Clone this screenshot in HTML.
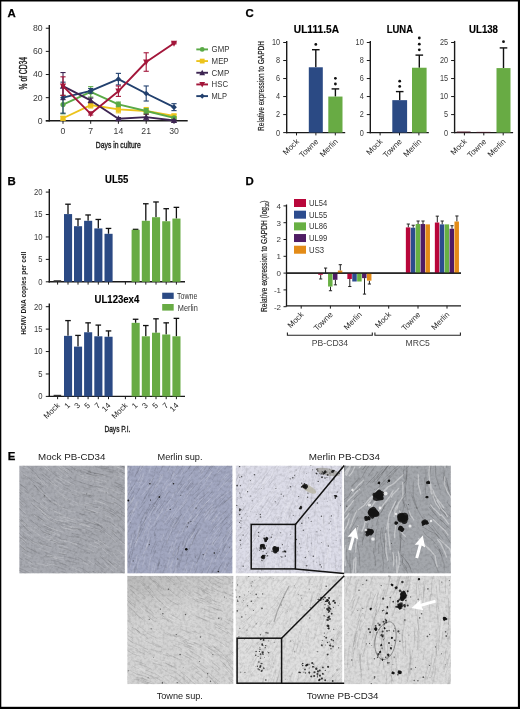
<!DOCTYPE html>
<html><head><meta charset="utf-8"><style>
html,body{margin:0;padding:0;background:#fff;width:520px;height:709px;overflow:hidden}
svg{display:block;font-family:"Liberation Sans", sans-serif;will-change:transform}
</style></head><body>
<svg width="520" height="709" viewBox="0 0 520 709">
<rect x="0.00" y="0.00" width="520.00" height="709.00" fill="#000" />
<rect x="1.30" y="1.50" width="516.60" height="705.30" fill="#fff" />
<text x="7.50" y="17.20" font-size="11.4" text-anchor="start" fill="#000" font-weight="bold" stroke="#000" stroke-width="0.25">A</text>
<text x="7.60" y="185.20" font-size="11.4" text-anchor="start" fill="#000" font-weight="bold" stroke="#000" stroke-width="0.25">B</text>
<text x="245.60" y="17.40" font-size="11.4" text-anchor="start" fill="#000" font-weight="bold" stroke="#000" stroke-width="0.25">C</text>
<text x="245.60" y="185.20" font-size="11.4" text-anchor="start" fill="#000" font-weight="bold" stroke="#000" stroke-width="0.25">D</text>
<text x="7.80" y="460.40" font-size="11.4" text-anchor="start" fill="#000" font-weight="bold" stroke="#000" stroke-width="0.25">E</text>
<line x1="49.30" y1="25.00" x2="49.30" y2="121.40" stroke="#1a1a1a" stroke-width="1.4"/>
<line x1="45.80" y1="120.80" x2="187.70" y2="120.80" stroke="#1a1a1a" stroke-width="1.4"/>
<line x1="45.80" y1="120.80" x2="49.30" y2="120.80" stroke="#1a1a1a" stroke-width="1"/>
<text x="42.60" y="123.70" font-size="8.7" text-anchor="end" fill="#3a3a3a" >0</text>
<line x1="45.80" y1="97.66" x2="49.30" y2="97.66" stroke="#1a1a1a" stroke-width="1"/>
<text x="42.60" y="100.56" font-size="8.7" text-anchor="end" fill="#3a3a3a" >20</text>
<line x1="45.80" y1="74.52" x2="49.30" y2="74.52" stroke="#1a1a1a" stroke-width="1"/>
<text x="42.60" y="77.42" font-size="8.7" text-anchor="end" fill="#3a3a3a" >40</text>
<line x1="45.80" y1="51.38" x2="49.30" y2="51.38" stroke="#1a1a1a" stroke-width="1"/>
<text x="42.60" y="54.28" font-size="8.7" text-anchor="end" fill="#3a3a3a" >60</text>
<line x1="45.80" y1="28.24" x2="49.30" y2="28.24" stroke="#1a1a1a" stroke-width="1"/>
<text x="42.60" y="31.14" font-size="8.7" text-anchor="end" fill="#3a3a3a" >80</text>
<line x1="63.00" y1="120.80" x2="63.00" y2="123.80" stroke="#1a1a1a" stroke-width="1"/>
<text x="63.00" y="134.30" font-size="8.7" text-anchor="middle" fill="#3a3a3a" >0</text>
<line x1="90.70" y1="120.80" x2="90.70" y2="123.80" stroke="#1a1a1a" stroke-width="1"/>
<text x="90.70" y="134.30" font-size="8.7" text-anchor="middle" fill="#3a3a3a" >7</text>
<line x1="118.40" y1="120.80" x2="118.40" y2="123.80" stroke="#1a1a1a" stroke-width="1"/>
<text x="118.40" y="134.30" font-size="8.7" text-anchor="middle" fill="#3a3a3a" >14</text>
<line x1="146.20" y1="120.80" x2="146.20" y2="123.80" stroke="#1a1a1a" stroke-width="1"/>
<text x="146.20" y="134.30" font-size="8.7" text-anchor="middle" fill="#3a3a3a" >21</text>
<line x1="174.00" y1="120.80" x2="174.00" y2="123.80" stroke="#1a1a1a" stroke-width="1"/>
<text x="174.00" y="134.30" font-size="8.7" text-anchor="middle" fill="#3a3a3a" >30</text>
<text x="27.40" y="73.20" font-size="10" text-anchor="middle" fill="#1a1a1a" textLength="32.4" lengthAdjust="spacingAndGlyphs" transform="rotate(-90 27.40 73.20)" stroke="#1a1a1a" stroke-width="0.35">% of CD34</text>
<text x="118.30" y="147.70" font-size="8.9" text-anchor="middle" fill="#1a1a1a" textLength="45.0" lengthAdjust="spacingAndGlyphs" stroke="#1a1a1a" stroke-width="0.35">Days in culture</text>
<line x1="63.00" y1="116.52" x2="63.00" y2="119.99" stroke="#ecc31c" stroke-width="1.1"/>
<line x1="60.40" y1="116.52" x2="65.60" y2="116.52" stroke="#ecc31c" stroke-width="1.1"/>
<line x1="60.40" y1="119.99" x2="65.60" y2="119.99" stroke="#ecc31c" stroke-width="1.1"/>
<line x1="90.70" y1="102.17" x2="90.70" y2="107.96" stroke="#ecc31c" stroke-width="1.1"/>
<line x1="88.10" y1="102.17" x2="93.30" y2="102.17" stroke="#ecc31c" stroke-width="1.1"/>
<line x1="88.10" y1="107.96" x2="93.30" y2="107.96" stroke="#ecc31c" stroke-width="1.1"/>
<line x1="118.40" y1="105.87" x2="118.40" y2="112.82" stroke="#ecc31c" stroke-width="1.1"/>
<line x1="115.80" y1="105.87" x2="121.00" y2="105.87" stroke="#ecc31c" stroke-width="1.1"/>
<line x1="115.80" y1="112.82" x2="121.00" y2="112.82" stroke="#ecc31c" stroke-width="1.1"/>
<line x1="146.20" y1="107.49" x2="146.20" y2="114.44" stroke="#ecc31c" stroke-width="1.1"/>
<line x1="143.60" y1="107.49" x2="148.80" y2="107.49" stroke="#ecc31c" stroke-width="1.1"/>
<line x1="143.60" y1="114.44" x2="148.80" y2="114.44" stroke="#ecc31c" stroke-width="1.1"/>
<line x1="174.00" y1="114.21" x2="174.00" y2="117.68" stroke="#ecc31c" stroke-width="1.1"/>
<line x1="171.40" y1="114.21" x2="176.60" y2="114.21" stroke="#ecc31c" stroke-width="1.1"/>
<line x1="171.40" y1="117.68" x2="176.60" y2="117.68" stroke="#ecc31c" stroke-width="1.1"/>
<polyline points="63.00,118.25 90.70,105.06 118.40,109.35 146.20,110.97 174.00,115.94" fill="none" stroke="#ecc31c" stroke-width="1.9" stroke-linejoin="round"/>
<rect x="60.40" y="115.65" width="5.20" height="5.20" fill="#ecc31c" />
<rect x="88.10" y="102.46" width="5.20" height="5.20" fill="#ecc31c" />
<rect x="115.80" y="106.75" width="5.20" height="5.20" fill="#ecc31c" />
<rect x="143.60" y="108.37" width="5.20" height="5.20" fill="#ecc31c" />
<rect x="171.40" y="113.34" width="5.20" height="5.20" fill="#ecc31c" />
<line x1="63.00" y1="95.35" x2="63.00" y2="113.86" stroke="#5aaa46" stroke-width="1.1"/>
<line x1="60.40" y1="95.35" x2="65.60" y2="95.35" stroke="#5aaa46" stroke-width="1.1"/>
<line x1="60.40" y1="113.86" x2="65.60" y2="113.86" stroke="#5aaa46" stroke-width="1.1"/>
<line x1="90.70" y1="86.67" x2="90.70" y2="97.08" stroke="#5aaa46" stroke-width="1.1"/>
<line x1="88.10" y1="86.67" x2="93.30" y2="86.67" stroke="#5aaa46" stroke-width="1.1"/>
<line x1="88.10" y1="97.08" x2="93.30" y2="97.08" stroke="#5aaa46" stroke-width="1.1"/>
<line x1="118.40" y1="102.06" x2="118.40" y2="106.68" stroke="#5aaa46" stroke-width="1.1"/>
<line x1="115.80" y1="102.06" x2="121.00" y2="102.06" stroke="#5aaa46" stroke-width="1.1"/>
<line x1="115.80" y1="106.68" x2="121.00" y2="106.68" stroke="#5aaa46" stroke-width="1.1"/>
<line x1="146.20" y1="108.65" x2="146.20" y2="113.28" stroke="#5aaa46" stroke-width="1.1"/>
<line x1="143.60" y1="108.65" x2="148.80" y2="108.65" stroke="#5aaa46" stroke-width="1.1"/>
<line x1="143.60" y1="113.28" x2="148.80" y2="113.28" stroke="#5aaa46" stroke-width="1.1"/>
<line x1="174.00" y1="116.75" x2="174.00" y2="119.06" stroke="#5aaa46" stroke-width="1.1"/>
<line x1="171.40" y1="116.75" x2="176.60" y2="116.75" stroke="#5aaa46" stroke-width="1.1"/>
<line x1="171.40" y1="119.06" x2="176.60" y2="119.06" stroke="#5aaa46" stroke-width="1.1"/>
<polyline points="63.00,104.60 90.70,91.88 118.40,104.37 146.20,110.97 174.00,117.91" fill="none" stroke="#5aaa46" stroke-width="1.9" stroke-linejoin="round"/>
<circle cx="63.00" cy="104.60" r="2.6" fill="#5aaa46"/>
<circle cx="90.70" cy="91.88" r="2.6" fill="#5aaa46"/>
<circle cx="118.40" cy="104.37" r="2.6" fill="#5aaa46"/>
<circle cx="146.20" cy="110.97" r="2.6" fill="#5aaa46"/>
<circle cx="174.00" cy="117.91" r="2.6" fill="#5aaa46"/>
<line x1="63.00" y1="82.16" x2="63.00" y2="113.16" stroke="#22406e" stroke-width="1.1"/>
<line x1="60.40" y1="82.16" x2="65.60" y2="82.16" stroke="#22406e" stroke-width="1.1"/>
<line x1="60.40" y1="113.16" x2="65.60" y2="113.16" stroke="#22406e" stroke-width="1.1"/>
<line x1="90.70" y1="88.52" x2="90.70" y2="93.15" stroke="#22406e" stroke-width="1.1"/>
<line x1="88.10" y1="88.52" x2="93.30" y2="88.52" stroke="#22406e" stroke-width="1.1"/>
<line x1="88.10" y1="93.15" x2="93.30" y2="93.15" stroke="#22406e" stroke-width="1.1"/>
<line x1="118.40" y1="73.36" x2="118.40" y2="84.93" stroke="#22406e" stroke-width="1.1"/>
<line x1="115.80" y1="73.36" x2="121.00" y2="73.36" stroke="#22406e" stroke-width="1.1"/>
<line x1="115.80" y1="84.93" x2="121.00" y2="84.93" stroke="#22406e" stroke-width="1.1"/>
<line x1="146.20" y1="85.97" x2="146.20" y2="101.02" stroke="#22406e" stroke-width="1.1"/>
<line x1="143.60" y1="85.97" x2="148.80" y2="85.97" stroke="#22406e" stroke-width="1.1"/>
<line x1="143.60" y1="101.02" x2="148.80" y2="101.02" stroke="#22406e" stroke-width="1.1"/>
<line x1="174.00" y1="103.68" x2="174.00" y2="110.62" stroke="#22406e" stroke-width="1.1"/>
<line x1="171.40" y1="103.68" x2="176.60" y2="103.68" stroke="#22406e" stroke-width="1.1"/>
<line x1="171.40" y1="110.62" x2="176.60" y2="110.62" stroke="#22406e" stroke-width="1.1"/>
<polyline points="63.00,97.66 90.70,90.83 118.40,79.15 146.20,93.49 174.00,107.15" fill="none" stroke="#22406e" stroke-width="1.9" stroke-linejoin="round"/>
<path d="M60.14 97.66 L63.00 94.80 L65.86 97.66 L63.00 100.52Z" fill="#22406e"/>
<path d="M87.84 90.83 L90.70 87.97 L93.56 90.83 L90.70 93.69Z" fill="#22406e"/>
<path d="M115.54 79.15 L118.40 76.29 L121.26 79.15 L118.40 82.01Z" fill="#22406e"/>
<path d="M143.34 93.49 L146.20 90.63 L149.06 93.49 L146.20 96.35Z" fill="#22406e"/>
<path d="M171.14 107.15 L174.00 104.29 L176.86 107.15 L174.00 110.01Z" fill="#22406e"/>
<line x1="63.00" y1="72.55" x2="63.00" y2="99.63" stroke="#3d2552" stroke-width="1.1"/>
<line x1="60.40" y1="72.55" x2="65.60" y2="72.55" stroke="#3d2552" stroke-width="1.1"/>
<line x1="60.40" y1="99.63" x2="65.60" y2="99.63" stroke="#3d2552" stroke-width="1.1"/>
<line x1="90.70" y1="98.12" x2="90.70" y2="102.75" stroke="#3d2552" stroke-width="1.1"/>
<line x1="88.10" y1="98.12" x2="93.30" y2="98.12" stroke="#3d2552" stroke-width="1.1"/>
<line x1="88.10" y1="102.75" x2="93.30" y2="102.75" stroke="#3d2552" stroke-width="1.1"/>
<line x1="118.40" y1="117.56" x2="118.40" y2="119.87" stroke="#3d2552" stroke-width="1.1"/>
<line x1="115.80" y1="117.56" x2="121.00" y2="117.56" stroke="#3d2552" stroke-width="1.1"/>
<line x1="115.80" y1="119.87" x2="121.00" y2="119.87" stroke="#3d2552" stroke-width="1.1"/>
<line x1="146.20" y1="114.21" x2="146.20" y2="119.99" stroke="#3d2552" stroke-width="1.1"/>
<line x1="143.60" y1="114.21" x2="148.80" y2="114.21" stroke="#3d2552" stroke-width="1.1"/>
<line x1="143.60" y1="119.99" x2="148.80" y2="119.99" stroke="#3d2552" stroke-width="1.1"/>
<line x1="174.00" y1="119.87" x2="174.00" y2="120.80" stroke="#3d2552" stroke-width="1.1"/>
<line x1="171.40" y1="119.87" x2="176.60" y2="119.87" stroke="#3d2552" stroke-width="1.1"/>
<line x1="171.40" y1="120.80" x2="176.60" y2="120.80" stroke="#3d2552" stroke-width="1.1"/>
<polyline points="63.00,86.09 90.70,100.44 118.40,118.72 146.20,117.10 174.00,120.45" fill="none" stroke="#3d2552" stroke-width="1.9" stroke-linejoin="round"/>
<path d="M59.88 88.69 L66.12 88.69 L63.00 82.71Z" fill="#3d2552"/>
<path d="M87.58 103.04 L93.82 103.04 L90.70 97.06Z" fill="#3d2552"/>
<path d="M115.28 121.32 L121.52 121.32 L118.40 115.34Z" fill="#3d2552"/>
<path d="M143.08 119.70 L149.32 119.70 L146.20 113.72Z" fill="#3d2552"/>
<path d="M170.88 123.05 L177.12 123.05 L174.00 117.07Z" fill="#3d2552"/>
<line x1="63.00" y1="76.83" x2="63.00" y2="95.35" stroke="#a3163a" stroke-width="1.1"/>
<line x1="60.40" y1="76.83" x2="65.60" y2="76.83" stroke="#a3163a" stroke-width="1.1"/>
<line x1="60.40" y1="95.35" x2="65.60" y2="95.35" stroke="#a3163a" stroke-width="1.1"/>
<line x1="90.70" y1="112.70" x2="90.70" y2="115.02" stroke="#a3163a" stroke-width="1.1"/>
<line x1="88.10" y1="112.70" x2="93.30" y2="112.70" stroke="#a3163a" stroke-width="1.1"/>
<line x1="88.10" y1="115.02" x2="93.30" y2="115.02" stroke="#a3163a" stroke-width="1.1"/>
<line x1="118.40" y1="85.97" x2="118.40" y2="96.39" stroke="#a3163a" stroke-width="1.1"/>
<line x1="115.80" y1="85.97" x2="121.00" y2="85.97" stroke="#a3163a" stroke-width="1.1"/>
<line x1="115.80" y1="96.39" x2="121.00" y2="96.39" stroke="#a3163a" stroke-width="1.1"/>
<line x1="146.20" y1="52.77" x2="146.20" y2="71.28" stroke="#a3163a" stroke-width="1.1"/>
<line x1="143.60" y1="52.77" x2="148.80" y2="52.77" stroke="#a3163a" stroke-width="1.1"/>
<line x1="143.60" y1="71.28" x2="148.80" y2="71.28" stroke="#a3163a" stroke-width="1.1"/>
<line x1="174.00" y1="42.70" x2="174.00" y2="43.86" stroke="#a3163a" stroke-width="1.1"/>
<line x1="171.40" y1="42.70" x2="176.60" y2="42.70" stroke="#a3163a" stroke-width="1.1"/>
<line x1="171.40" y1="43.86" x2="176.60" y2="43.86" stroke="#a3163a" stroke-width="1.1"/>
<polyline points="63.00,86.09 90.70,113.86 118.40,91.18 146.20,62.02 174.00,43.28" fill="none" stroke="#a3163a" stroke-width="1.9" stroke-linejoin="round"/>
<path d="M59.88 83.49 L66.12 83.49 L63.00 89.47Z" fill="#a3163a"/>
<path d="M87.58 111.26 L93.82 111.26 L90.70 117.24Z" fill="#a3163a"/>
<path d="M115.28 88.58 L121.52 88.58 L118.40 94.56Z" fill="#a3163a"/>
<path d="M143.08 59.42 L149.32 59.42 L146.20 65.40Z" fill="#a3163a"/>
<path d="M170.88 40.68 L177.12 40.68 L174.00 46.66Z" fill="#a3163a"/>
<line x1="196.30" y1="49.40" x2="208.00" y2="49.40" stroke="#5aaa46" stroke-width="1.9"/>
<circle cx="202.20" cy="49.40" r="2.4" fill="#5aaa46"/>
<text x="211.60" y="52.40" font-size="8.2" text-anchor="start" fill="#333" textLength="17.8" lengthAdjust="spacingAndGlyphs" >GMP</text>
<line x1="196.30" y1="61.08" x2="208.00" y2="61.08" stroke="#ecc31c" stroke-width="1.9"/>
<rect x="199.80" y="58.68" width="4.80" height="4.80" fill="#ecc31c" />
<text x="211.60" y="64.08" font-size="8.2" text-anchor="start" fill="#333" textLength="17.0" lengthAdjust="spacingAndGlyphs" >MEP</text>
<line x1="196.30" y1="72.76" x2="208.00" y2="72.76" stroke="#3d2552" stroke-width="1.9"/>
<path d="M199.32 75.16 L205.08 75.16 L202.20 69.64Z" fill="#3d2552"/>
<text x="211.60" y="75.76" font-size="8.2" text-anchor="start" fill="#333" textLength="17.6" lengthAdjust="spacingAndGlyphs" >CMP</text>
<line x1="196.30" y1="84.44" x2="208.00" y2="84.44" stroke="#a3163a" stroke-width="1.9"/>
<path d="M199.32 82.04 L205.08 82.04 L202.20 87.56Z" fill="#a3163a"/>
<text x="211.60" y="87.44" font-size="8.2" text-anchor="start" fill="#333" textLength="16.5" lengthAdjust="spacingAndGlyphs" >HSC</text>
<line x1="196.30" y1="96.12" x2="208.00" y2="96.12" stroke="#22406e" stroke-width="1.9"/>
<path d="M199.56 96.12 L202.20 93.48 L204.84 96.12 L202.20 98.76Z" fill="#22406e"/>
<text x="211.60" y="99.12" font-size="8.2" text-anchor="start" fill="#333" textLength="15.4" lengthAdjust="spacingAndGlyphs" >MLP</text>
<line x1="286.70" y1="40.90" x2="286.70" y2="133.20" stroke="#1a1a1a" stroke-width="1.4"/>
<line x1="286.10" y1="132.60" x2="345.20" y2="132.60" stroke="#1a1a1a" stroke-width="1.4"/>
<line x1="283.20" y1="132.60" x2="286.70" y2="132.60" stroke="#1a1a1a" stroke-width="1"/>
<text font-size="8.7" text-anchor="end" fill="#3a3a3a" transform="translate(280.10 135.50) scale(0.84 1)" >0</text>
<line x1="283.20" y1="114.58" x2="286.70" y2="114.58" stroke="#1a1a1a" stroke-width="1"/>
<text font-size="8.7" text-anchor="end" fill="#3a3a3a" transform="translate(280.10 117.48) scale(0.84 1)" >2</text>
<line x1="283.20" y1="96.56" x2="286.70" y2="96.56" stroke="#1a1a1a" stroke-width="1"/>
<text font-size="8.7" text-anchor="end" fill="#3a3a3a" transform="translate(280.10 99.46) scale(0.84 1)" >4</text>
<line x1="283.20" y1="78.54" x2="286.70" y2="78.54" stroke="#1a1a1a" stroke-width="1"/>
<text font-size="8.7" text-anchor="end" fill="#3a3a3a" transform="translate(280.10 81.44) scale(0.84 1)" >6</text>
<line x1="283.20" y1="60.52" x2="286.70" y2="60.52" stroke="#1a1a1a" stroke-width="1"/>
<text font-size="8.7" text-anchor="end" fill="#3a3a3a" transform="translate(280.10 63.42) scale(0.84 1)" >8</text>
<line x1="283.20" y1="42.50" x2="286.70" y2="42.50" stroke="#1a1a1a" stroke-width="1"/>
<text font-size="8.7" text-anchor="end" fill="#3a3a3a" transform="translate(280.10 45.40) scale(0.84 1)" >10</text>
<text x="316.40" y="32.70" font-size="10" text-anchor="middle" fill="#000" font-weight="bold" textLength="45.2" lengthAdjust="spacingAndGlyphs" stroke="#000" stroke-width="0.15">UL111.5A</text>
<line x1="296.50" y1="132.60" x2="296.50" y2="135.40" stroke="#1a1a1a" stroke-width="1"/>
<text x="299.50" y="142.00" font-size="8.0" text-anchor="end" fill="#2a2a2a" transform="rotate(-45 299.50 142.00)" >Mock</text>
<line x1="315.90" y1="132.60" x2="315.90" y2="135.40" stroke="#1a1a1a" stroke-width="1"/>
<text x="318.90" y="142.00" font-size="8.0" text-anchor="end" fill="#2a2a2a" transform="rotate(-45 318.90 142.00)" >Towne</text>
<line x1="335.30" y1="132.60" x2="335.30" y2="135.40" stroke="#1a1a1a" stroke-width="1"/>
<text x="338.30" y="142.00" font-size="8.0" text-anchor="end" fill="#2a2a2a" transform="rotate(-45 338.30 142.00)" >Merlin</text>
<line x1="315.80" y1="49.71" x2="315.80" y2="67.28" stroke="#111" stroke-width="1.4"/>
<line x1="312.00" y1="49.71" x2="319.60" y2="49.71" stroke="#111" stroke-width="1.4"/>
<rect x="308.80" y="67.28" width="14.00" height="65.32" fill="#2b4a84" />
<circle cx="315.80" cy="44.40" r="1.4" fill="#111"/>
<line x1="335.40" y1="88.90" x2="335.40" y2="96.56" stroke="#111" stroke-width="1.4"/>
<line x1="331.60" y1="88.90" x2="339.20" y2="88.90" stroke="#111" stroke-width="1.4"/>
<rect x="328.30" y="96.56" width="14.20" height="36.04" fill="#68ab44" />
<circle cx="335.40" cy="78.30" r="1.4" fill="#111"/>
<circle cx="335.40" cy="84.00" r="1.4" fill="#111"/>
<line x1="370.30" y1="40.90" x2="370.30" y2="133.20" stroke="#1a1a1a" stroke-width="1.4"/>
<line x1="369.70" y1="132.60" x2="428.80" y2="132.60" stroke="#1a1a1a" stroke-width="1.4"/>
<line x1="366.80" y1="132.60" x2="370.30" y2="132.60" stroke="#1a1a1a" stroke-width="1"/>
<text font-size="8.7" text-anchor="end" fill="#3a3a3a" transform="translate(363.70 135.50) scale(0.84 1)" >0</text>
<line x1="366.80" y1="114.58" x2="370.30" y2="114.58" stroke="#1a1a1a" stroke-width="1"/>
<text font-size="8.7" text-anchor="end" fill="#3a3a3a" transform="translate(363.70 117.48) scale(0.84 1)" >2</text>
<line x1="366.80" y1="96.56" x2="370.30" y2="96.56" stroke="#1a1a1a" stroke-width="1"/>
<text font-size="8.7" text-anchor="end" fill="#3a3a3a" transform="translate(363.70 99.46) scale(0.84 1)" >4</text>
<line x1="366.80" y1="78.54" x2="370.30" y2="78.54" stroke="#1a1a1a" stroke-width="1"/>
<text font-size="8.7" text-anchor="end" fill="#3a3a3a" transform="translate(363.70 81.44) scale(0.84 1)" >6</text>
<line x1="366.80" y1="60.52" x2="370.30" y2="60.52" stroke="#1a1a1a" stroke-width="1"/>
<text font-size="8.7" text-anchor="end" fill="#3a3a3a" transform="translate(363.70 63.42) scale(0.84 1)" >8</text>
<line x1="366.80" y1="42.50" x2="370.30" y2="42.50" stroke="#1a1a1a" stroke-width="1"/>
<text font-size="8.7" text-anchor="end" fill="#3a3a3a" transform="translate(363.70 45.40) scale(0.84 1)" >10</text>
<text x="399.90" y="32.70" font-size="10" text-anchor="middle" fill="#000" font-weight="bold" textLength="26.3" lengthAdjust="spacingAndGlyphs" stroke="#000" stroke-width="0.15">LUNA</text>
<line x1="380.10" y1="132.60" x2="380.10" y2="135.40" stroke="#1a1a1a" stroke-width="1"/>
<text x="383.10" y="142.00" font-size="8.0" text-anchor="end" fill="#2a2a2a" transform="rotate(-45 383.10 142.00)" >Mock</text>
<line x1="399.50" y1="132.60" x2="399.50" y2="135.40" stroke="#1a1a1a" stroke-width="1"/>
<text x="402.50" y="142.00" font-size="8.0" text-anchor="end" fill="#2a2a2a" transform="rotate(-45 402.50 142.00)" >Towne</text>
<line x1="418.90" y1="132.60" x2="418.90" y2="135.40" stroke="#1a1a1a" stroke-width="1"/>
<text x="421.90" y="142.00" font-size="8.0" text-anchor="end" fill="#2a2a2a" transform="rotate(-45 421.90 142.00)" >Merlin</text>
<line x1="399.70" y1="91.60" x2="399.70" y2="100.16" stroke="#111" stroke-width="1.4"/>
<line x1="395.90" y1="91.60" x2="403.50" y2="91.60" stroke="#111" stroke-width="1.4"/>
<rect x="392.30" y="100.16" width="14.80" height="32.44" fill="#2b4a84" />
<circle cx="399.70" cy="81.20" r="1.4" fill="#111"/>
<circle cx="399.70" cy="86.40" r="1.4" fill="#111"/>
<line x1="419.30" y1="55.11" x2="419.30" y2="67.73" stroke="#111" stroke-width="1.4"/>
<line x1="415.50" y1="55.11" x2="423.10" y2="55.11" stroke="#111" stroke-width="1.4"/>
<rect x="412.00" y="67.73" width="14.60" height="64.87" fill="#68ab44" />
<circle cx="419.30" cy="38.00" r="1.4" fill="#111"/>
<circle cx="419.30" cy="44.20" r="1.4" fill="#111"/>
<circle cx="419.30" cy="49.80" r="1.4" fill="#111"/>
<line x1="454.60" y1="40.90" x2="454.60" y2="133.20" stroke="#1a1a1a" stroke-width="1.4"/>
<line x1="454.00" y1="132.60" x2="513.10" y2="132.60" stroke="#1a1a1a" stroke-width="1.4"/>
<line x1="451.10" y1="132.60" x2="454.60" y2="132.60" stroke="#1a1a1a" stroke-width="1"/>
<text font-size="8.7" text-anchor="end" fill="#3a3a3a" transform="translate(448.00 135.50) scale(0.84 1)" >0</text>
<line x1="451.10" y1="114.58" x2="454.60" y2="114.58" stroke="#1a1a1a" stroke-width="1"/>
<text font-size="8.7" text-anchor="end" fill="#3a3a3a" transform="translate(448.00 117.48) scale(0.84 1)" >5</text>
<line x1="451.10" y1="96.56" x2="454.60" y2="96.56" stroke="#1a1a1a" stroke-width="1"/>
<text font-size="8.7" text-anchor="end" fill="#3a3a3a" transform="translate(448.00 99.46) scale(0.84 1)" >10</text>
<line x1="451.10" y1="78.54" x2="454.60" y2="78.54" stroke="#1a1a1a" stroke-width="1"/>
<text font-size="8.7" text-anchor="end" fill="#3a3a3a" transform="translate(448.00 81.44) scale(0.84 1)" >15</text>
<line x1="451.10" y1="60.52" x2="454.60" y2="60.52" stroke="#1a1a1a" stroke-width="1"/>
<text font-size="8.7" text-anchor="end" fill="#3a3a3a" transform="translate(448.00 63.42) scale(0.84 1)" >20</text>
<line x1="451.10" y1="42.50" x2="454.60" y2="42.50" stroke="#1a1a1a" stroke-width="1"/>
<text font-size="8.7" text-anchor="end" fill="#3a3a3a" transform="translate(448.00 45.40) scale(0.84 1)" >25</text>
<text x="483.50" y="32.70" font-size="10" text-anchor="middle" fill="#000" font-weight="bold" textLength="28.9" lengthAdjust="spacingAndGlyphs" stroke="#000" stroke-width="0.15">UL138</text>
<line x1="464.40" y1="132.60" x2="464.40" y2="135.40" stroke="#1a1a1a" stroke-width="1"/>
<text x="467.40" y="142.00" font-size="8.0" text-anchor="end" fill="#2a2a2a" transform="rotate(-45 467.40 142.00)" >Mock</text>
<line x1="483.80" y1="132.60" x2="483.80" y2="135.40" stroke="#1a1a1a" stroke-width="1"/>
<text x="486.80" y="142.00" font-size="8.0" text-anchor="end" fill="#2a2a2a" transform="rotate(-45 486.80 142.00)" >Towne</text>
<line x1="503.20" y1="132.60" x2="503.20" y2="135.40" stroke="#1a1a1a" stroke-width="1"/>
<text x="506.20" y="142.00" font-size="8.0" text-anchor="end" fill="#2a2a2a" transform="rotate(-45 506.20 142.00)" >Merlin</text>
<rect x="456.60" y="131.52" width="14.00" height="1.08" fill="#4a1a28" />
<rect x="476.50" y="131.88" width="14.00" height="0.72" fill="#4a1a28" />
<line x1="503.50" y1="47.91" x2="503.50" y2="68.09" stroke="#111" stroke-width="1.4"/>
<line x1="499.70" y1="47.91" x2="507.30" y2="47.91" stroke="#111" stroke-width="1.4"/>
<rect x="496.50" y="68.09" width="14.00" height="64.51" fill="#68ab44" />
<circle cx="503.50" cy="41.70" r="1.4" fill="#111"/>
<text x="264.00" y="85.90" font-size="9.2" text-anchor="middle" fill="#222" textLength="90" lengthAdjust="spacingAndGlyphs" transform="rotate(-90 264.00 85.90)" stroke="#222" stroke-width="0.2">Relative expression to GAPDH</text>
<line x1="49.30" y1="189.00" x2="49.30" y2="282.40" stroke="#1a1a1a" stroke-width="1.4"/>
<line x1="48.60" y1="281.80" x2="185.00" y2="281.80" stroke="#1a1a1a" stroke-width="1.4"/>
<line x1="45.80" y1="281.80" x2="49.30" y2="281.80" stroke="#1a1a1a" stroke-width="1"/>
<text font-size="8.7" text-anchor="end" fill="#3a3a3a" transform="translate(42.50 284.70) scale(0.88 1)" >0</text>
<line x1="45.80" y1="259.38" x2="49.30" y2="259.38" stroke="#1a1a1a" stroke-width="1"/>
<text font-size="8.7" text-anchor="end" fill="#3a3a3a" transform="translate(42.50 262.27) scale(0.88 1)" >5</text>
<line x1="45.80" y1="236.95" x2="49.30" y2="236.95" stroke="#1a1a1a" stroke-width="1"/>
<text font-size="8.7" text-anchor="end" fill="#3a3a3a" transform="translate(42.50 239.85) scale(0.88 1)" >10</text>
<line x1="45.80" y1="214.53" x2="49.30" y2="214.53" stroke="#1a1a1a" stroke-width="1"/>
<text font-size="8.7" text-anchor="end" fill="#3a3a3a" transform="translate(42.50 217.43) scale(0.88 1)" >15</text>
<line x1="45.80" y1="192.10" x2="49.30" y2="192.10" stroke="#1a1a1a" stroke-width="1"/>
<text font-size="8.7" text-anchor="end" fill="#3a3a3a" transform="translate(42.50 195.00) scale(0.88 1)" >20</text>
<text x="116.70" y="182.90" font-size="10" text-anchor="middle" fill="#000" font-weight="bold" textLength="23.3" lengthAdjust="spacingAndGlyphs" stroke="#000" stroke-width="0.15">UL55</text>
<line x1="57.60" y1="281.80" x2="57.60" y2="284.60" stroke="#1a1a1a" stroke-width="1"/>
<line x1="68.00" y1="281.80" x2="68.00" y2="284.60" stroke="#1a1a1a" stroke-width="1"/>
<line x1="78.00" y1="281.80" x2="78.00" y2="284.60" stroke="#1a1a1a" stroke-width="1"/>
<line x1="88.10" y1="281.80" x2="88.10" y2="284.60" stroke="#1a1a1a" stroke-width="1"/>
<line x1="98.30" y1="281.80" x2="98.30" y2="284.60" stroke="#1a1a1a" stroke-width="1"/>
<line x1="108.50" y1="281.80" x2="108.50" y2="284.60" stroke="#1a1a1a" stroke-width="1"/>
<line x1="125.40" y1="281.80" x2="125.40" y2="284.60" stroke="#1a1a1a" stroke-width="1"/>
<line x1="135.60" y1="281.80" x2="135.60" y2="284.60" stroke="#1a1a1a" stroke-width="1"/>
<line x1="145.80" y1="281.80" x2="145.80" y2="284.60" stroke="#1a1a1a" stroke-width="1"/>
<line x1="156.00" y1="281.80" x2="156.00" y2="284.60" stroke="#1a1a1a" stroke-width="1"/>
<line x1="166.20" y1="281.80" x2="166.20" y2="284.60" stroke="#1a1a1a" stroke-width="1"/>
<line x1="176.40" y1="281.80" x2="176.40" y2="284.60" stroke="#1a1a1a" stroke-width="1"/>
<rect x="53.60" y="280.20" width="7.60" height="1.60" fill="#333" />
<line x1="68.00" y1="204.21" x2="68.00" y2="214.08" stroke="#111" stroke-width="1.3"/>
<line x1="65.20" y1="204.21" x2="70.80" y2="204.21" stroke="#111" stroke-width="1.3"/>
<rect x="64.00" y="214.08" width="8.10" height="67.72" fill="#2b4a84" />
<line x1="78.00" y1="219.01" x2="78.00" y2="226.19" stroke="#111" stroke-width="1.3"/>
<line x1="75.20" y1="219.01" x2="80.80" y2="219.01" stroke="#111" stroke-width="1.3"/>
<rect x="74.00" y="226.19" width="8.10" height="55.61" fill="#2b4a84" />
<line x1="88.10" y1="214.97" x2="88.10" y2="220.80" stroke="#111" stroke-width="1.3"/>
<line x1="85.30" y1="214.97" x2="90.90" y2="214.97" stroke="#111" stroke-width="1.3"/>
<rect x="84.10" y="220.80" width="8.10" height="61.00" fill="#2b4a84" />
<line x1="98.30" y1="219.46" x2="98.30" y2="228.43" stroke="#111" stroke-width="1.3"/>
<line x1="95.50" y1="219.46" x2="101.10" y2="219.46" stroke="#111" stroke-width="1.3"/>
<rect x="94.30" y="228.43" width="8.10" height="53.37" fill="#2b4a84" />
<line x1="108.50" y1="228.43" x2="108.50" y2="233.81" stroke="#111" stroke-width="1.3"/>
<line x1="105.70" y1="228.43" x2="111.30" y2="228.43" stroke="#111" stroke-width="1.3"/>
<rect x="104.50" y="233.81" width="8.10" height="47.99" fill="#2b4a84" />
<line x1="135.60" y1="229.33" x2="135.60" y2="229.77" stroke="#111" stroke-width="1.3"/>
<line x1="132.80" y1="229.33" x2="138.40" y2="229.33" stroke="#111" stroke-width="1.3"/>
<rect x="131.60" y="229.77" width="8.10" height="52.03" fill="#68ab44" />
<line x1="145.80" y1="203.76" x2="145.80" y2="220.80" stroke="#111" stroke-width="1.3"/>
<line x1="143.00" y1="203.76" x2="148.60" y2="203.76" stroke="#111" stroke-width="1.3"/>
<rect x="141.80" y="220.80" width="8.10" height="61.00" fill="#68ab44" />
<line x1="156.00" y1="201.97" x2="156.00" y2="217.22" stroke="#111" stroke-width="1.3"/>
<line x1="153.20" y1="201.97" x2="158.80" y2="201.97" stroke="#111" stroke-width="1.3"/>
<rect x="152.00" y="217.22" width="8.10" height="64.58" fill="#68ab44" />
<line x1="166.20" y1="208.69" x2="166.20" y2="221.25" stroke="#111" stroke-width="1.3"/>
<line x1="163.40" y1="208.69" x2="169.00" y2="208.69" stroke="#111" stroke-width="1.3"/>
<rect x="162.20" y="221.25" width="8.10" height="60.55" fill="#68ab44" />
<line x1="176.40" y1="207.35" x2="176.40" y2="218.56" stroke="#111" stroke-width="1.3"/>
<line x1="173.60" y1="207.35" x2="179.20" y2="207.35" stroke="#111" stroke-width="1.3"/>
<rect x="172.40" y="218.56" width="8.10" height="63.24" fill="#68ab44" />
<line x1="49.30" y1="303.60" x2="49.30" y2="397.00" stroke="#1a1a1a" stroke-width="1.4"/>
<line x1="48.60" y1="396.40" x2="185.00" y2="396.40" stroke="#1a1a1a" stroke-width="1.4"/>
<line x1="45.80" y1="396.40" x2="49.30" y2="396.40" stroke="#1a1a1a" stroke-width="1"/>
<text font-size="8.7" text-anchor="end" fill="#3a3a3a" transform="translate(42.50 399.30) scale(0.88 1)" >0</text>
<line x1="45.80" y1="373.97" x2="49.30" y2="373.97" stroke="#1a1a1a" stroke-width="1"/>
<text font-size="8.7" text-anchor="end" fill="#3a3a3a" transform="translate(42.50 376.87) scale(0.88 1)" >5</text>
<line x1="45.80" y1="351.55" x2="49.30" y2="351.55" stroke="#1a1a1a" stroke-width="1"/>
<text font-size="8.7" text-anchor="end" fill="#3a3a3a" transform="translate(42.50 354.45) scale(0.88 1)" >10</text>
<line x1="45.80" y1="329.12" x2="49.30" y2="329.12" stroke="#1a1a1a" stroke-width="1"/>
<text font-size="8.7" text-anchor="end" fill="#3a3a3a" transform="translate(42.50 332.02) scale(0.88 1)" >15</text>
<line x1="45.80" y1="306.70" x2="49.30" y2="306.70" stroke="#1a1a1a" stroke-width="1"/>
<text font-size="8.7" text-anchor="end" fill="#3a3a3a" transform="translate(42.50 309.60) scale(0.88 1)" >20</text>
<text x="116.90" y="302.80" font-size="10" text-anchor="middle" fill="#000" font-weight="bold" textLength="44.7" lengthAdjust="spacingAndGlyphs" stroke="#000" stroke-width="0.15">UL123ex4</text>
<line x1="57.60" y1="396.40" x2="57.60" y2="399.20" stroke="#1a1a1a" stroke-width="1"/>
<line x1="68.00" y1="396.40" x2="68.00" y2="399.20" stroke="#1a1a1a" stroke-width="1"/>
<line x1="78.00" y1="396.40" x2="78.00" y2="399.20" stroke="#1a1a1a" stroke-width="1"/>
<line x1="88.10" y1="396.40" x2="88.10" y2="399.20" stroke="#1a1a1a" stroke-width="1"/>
<line x1="98.30" y1="396.40" x2="98.30" y2="399.20" stroke="#1a1a1a" stroke-width="1"/>
<line x1="108.50" y1="396.40" x2="108.50" y2="399.20" stroke="#1a1a1a" stroke-width="1"/>
<line x1="125.40" y1="396.40" x2="125.40" y2="399.20" stroke="#1a1a1a" stroke-width="1"/>
<line x1="135.60" y1="396.40" x2="135.60" y2="399.20" stroke="#1a1a1a" stroke-width="1"/>
<line x1="145.80" y1="396.40" x2="145.80" y2="399.20" stroke="#1a1a1a" stroke-width="1"/>
<line x1="156.00" y1="396.40" x2="156.00" y2="399.20" stroke="#1a1a1a" stroke-width="1"/>
<line x1="166.20" y1="396.40" x2="166.20" y2="399.20" stroke="#1a1a1a" stroke-width="1"/>
<line x1="176.40" y1="396.40" x2="176.40" y2="399.20" stroke="#1a1a1a" stroke-width="1"/>
<rect x="53.60" y="394.80" width="7.60" height="1.60" fill="#333" />
<line x1="68.00" y1="320.60" x2="68.00" y2="335.85" stroke="#111" stroke-width="1.3"/>
<line x1="65.20" y1="320.60" x2="70.80" y2="320.60" stroke="#111" stroke-width="1.3"/>
<rect x="64.00" y="335.85" width="8.10" height="60.55" fill="#2b4a84" />
<line x1="78.00" y1="335.40" x2="78.00" y2="346.62" stroke="#111" stroke-width="1.3"/>
<line x1="75.20" y1="335.40" x2="80.80" y2="335.40" stroke="#111" stroke-width="1.3"/>
<rect x="74.00" y="346.62" width="8.10" height="49.78" fill="#2b4a84" />
<line x1="88.10" y1="322.85" x2="88.10" y2="332.26" stroke="#111" stroke-width="1.3"/>
<line x1="85.30" y1="322.85" x2="90.90" y2="322.85" stroke="#111" stroke-width="1.3"/>
<rect x="84.10" y="332.26" width="8.10" height="64.14" fill="#2b4a84" />
<line x1="98.30" y1="325.09" x2="98.30" y2="336.30" stroke="#111" stroke-width="1.3"/>
<line x1="95.50" y1="325.09" x2="101.10" y2="325.09" stroke="#111" stroke-width="1.3"/>
<rect x="94.30" y="336.30" width="8.10" height="60.10" fill="#2b4a84" />
<line x1="108.50" y1="330.92" x2="108.50" y2="336.75" stroke="#111" stroke-width="1.3"/>
<line x1="105.70" y1="330.92" x2="111.30" y2="330.92" stroke="#111" stroke-width="1.3"/>
<rect x="104.50" y="336.75" width="8.10" height="59.65" fill="#2b4a84" />
<line x1="135.60" y1="319.26" x2="135.60" y2="322.85" stroke="#111" stroke-width="1.3"/>
<line x1="132.80" y1="319.26" x2="138.40" y2="319.26" stroke="#111" stroke-width="1.3"/>
<rect x="131.60" y="322.85" width="8.10" height="73.55" fill="#68ab44" />
<line x1="145.80" y1="325.54" x2="145.80" y2="336.30" stroke="#111" stroke-width="1.3"/>
<line x1="143.00" y1="325.54" x2="148.60" y2="325.54" stroke="#111" stroke-width="1.3"/>
<rect x="141.80" y="336.30" width="8.10" height="60.10" fill="#68ab44" />
<line x1="156.00" y1="318.81" x2="156.00" y2="332.71" stroke="#111" stroke-width="1.3"/>
<line x1="153.20" y1="318.81" x2="158.80" y2="318.81" stroke="#111" stroke-width="1.3"/>
<rect x="152.00" y="332.71" width="8.10" height="63.69" fill="#68ab44" />
<line x1="166.20" y1="322.85" x2="166.20" y2="334.51" stroke="#111" stroke-width="1.3"/>
<line x1="163.40" y1="322.85" x2="169.00" y2="322.85" stroke="#111" stroke-width="1.3"/>
<rect x="162.20" y="334.51" width="8.10" height="61.89" fill="#68ab44" />
<line x1="176.40" y1="318.36" x2="176.40" y2="336.30" stroke="#111" stroke-width="1.3"/>
<line x1="173.60" y1="318.36" x2="179.20" y2="318.36" stroke="#111" stroke-width="1.3"/>
<rect x="172.40" y="336.30" width="8.10" height="60.10" fill="#68ab44" />
<text x="60.20" y="406.00" font-size="7.9" text-anchor="end" fill="#1a1a1a" transform="rotate(-45 60.20 406.00)" >Mock</text>
<text x="70.60" y="406.00" font-size="7.9" text-anchor="end" fill="#1a1a1a" transform="rotate(-45 70.60 406.00)" >1</text>
<text x="80.60" y="406.00" font-size="7.9" text-anchor="end" fill="#1a1a1a" transform="rotate(-45 80.60 406.00)" >3</text>
<text x="90.70" y="406.00" font-size="7.9" text-anchor="end" fill="#1a1a1a" transform="rotate(-45 90.70 406.00)" >5</text>
<text x="100.90" y="406.00" font-size="7.9" text-anchor="end" fill="#1a1a1a" transform="rotate(-45 100.90 406.00)" >7</text>
<text x="111.10" y="406.00" font-size="7.9" text-anchor="end" fill="#1a1a1a" transform="rotate(-45 111.10 406.00)" >14</text>
<text x="128.00" y="406.00" font-size="7.9" text-anchor="end" fill="#1a1a1a" transform="rotate(-45 128.00 406.00)" >Mock</text>
<text x="138.20" y="406.00" font-size="7.9" text-anchor="end" fill="#1a1a1a" transform="rotate(-45 138.20 406.00)" >1</text>
<text x="148.40" y="406.00" font-size="7.9" text-anchor="end" fill="#1a1a1a" transform="rotate(-45 148.40 406.00)" >3</text>
<text x="158.60" y="406.00" font-size="7.9" text-anchor="end" fill="#1a1a1a" transform="rotate(-45 158.60 406.00)" >5</text>
<text x="168.80" y="406.00" font-size="7.9" text-anchor="end" fill="#1a1a1a" transform="rotate(-45 168.80 406.00)" >7</text>
<text x="179.00" y="406.00" font-size="7.9" text-anchor="end" fill="#1a1a1a" transform="rotate(-45 179.00 406.00)" >14</text>
<text x="117.40" y="431.90" font-size="9.4" text-anchor="middle" fill="#1a1a1a" textLength="26.0" lengthAdjust="spacingAndGlyphs" stroke="#1a1a1a" stroke-width="0.35">Days P.I.</text>
<text x="26.40" y="293.25" font-size="7.7" text-anchor="middle" fill="#1a1a1a" font-weight="bold" textLength="83" lengthAdjust="spacingAndGlyphs" transform="rotate(-90 26.40 293.25)" >HCMV DNA copies per cell</text>
<rect x="162.20" y="292.70" width="11.50" height="6.20" fill="#2b4a84" />
<rect x="162.20" y="304.00" width="11.50" height="6.60" fill="#68ab44" />
<text x="177.00" y="298.90" font-size="8.2" text-anchor="start" fill="#333" textLength="20.3" lengthAdjust="spacingAndGlyphs" >Towne</text>
<text x="177.80" y="310.60" font-size="8.2" text-anchor="start" fill="#333" textLength="20.0" lengthAdjust="spacingAndGlyphs" >Merlin</text>
<line x1="286.50" y1="204.50" x2="286.50" y2="306.40" stroke="#1a1a1a" stroke-width="1.3"/>
<line x1="285.90" y1="305.80" x2="461.00" y2="305.80" stroke="#1a1a1a" stroke-width="1.3"/>
<line x1="286.50" y1="273.10" x2="461.00" y2="273.10" stroke="#1a1a1a" stroke-width="1.3"/>
<line x1="283.50" y1="306.70" x2="286.50" y2="306.70" stroke="#1a1a1a" stroke-width="1"/>
<text x="281.00" y="309.60" font-size="8" text-anchor="end" fill="#3a3a3a" >-2</text>
<line x1="283.50" y1="289.90" x2="286.50" y2="289.90" stroke="#1a1a1a" stroke-width="1"/>
<text x="281.00" y="292.80" font-size="8" text-anchor="end" fill="#3a3a3a" >-1</text>
<line x1="283.50" y1="273.10" x2="286.50" y2="273.10" stroke="#1a1a1a" stroke-width="1"/>
<text x="281.00" y="276.00" font-size="8" text-anchor="end" fill="#3a3a3a" >0</text>
<line x1="283.50" y1="256.30" x2="286.50" y2="256.30" stroke="#1a1a1a" stroke-width="1"/>
<text x="281.00" y="259.20" font-size="8" text-anchor="end" fill="#3a3a3a" >1</text>
<line x1="283.50" y1="239.50" x2="286.50" y2="239.50" stroke="#1a1a1a" stroke-width="1"/>
<text x="281.00" y="242.40" font-size="8" text-anchor="end" fill="#3a3a3a" >2</text>
<line x1="283.50" y1="222.70" x2="286.50" y2="222.70" stroke="#1a1a1a" stroke-width="1"/>
<text x="281.00" y="225.60" font-size="8" text-anchor="end" fill="#3a3a3a" >3</text>
<line x1="283.50" y1="205.90" x2="286.50" y2="205.90" stroke="#1a1a1a" stroke-width="1"/>
<text x="281.00" y="208.80" font-size="8" text-anchor="end" fill="#3a3a3a" >4</text>
<rect x="294.00" y="199.00" width="12.00" height="8.00" fill="#b8063a" />
<text x="309.10" y="205.90" font-size="8.2" text-anchor="start" fill="#333" textLength="18.2" lengthAdjust="spacingAndGlyphs" >UL54</text>
<rect x="294.00" y="210.68" width="12.00" height="8.00" fill="#2c4c8e" />
<text x="309.10" y="217.58" font-size="8.2" text-anchor="start" fill="#333" textLength="18.2" lengthAdjust="spacingAndGlyphs" >UL55</text>
<rect x="294.00" y="222.36" width="12.00" height="8.00" fill="#68b043" />
<text x="309.10" y="229.26" font-size="8.2" text-anchor="start" fill="#333" textLength="18.2" lengthAdjust="spacingAndGlyphs" >UL86</text>
<rect x="294.00" y="234.04" width="12.00" height="8.00" fill="#4f1c64" />
<text x="309.10" y="240.94" font-size="8.2" text-anchor="start" fill="#333" textLength="18.2" lengthAdjust="spacingAndGlyphs" >UL99</text>
<rect x="294.00" y="245.72" width="12.00" height="8.00" fill="#e38b17" />
<text x="309.10" y="252.62" font-size="8.2" text-anchor="start" fill="#333" textLength="15.0" lengthAdjust="spacingAndGlyphs" >US3</text>
<line x1="301.20" y1="305.80" x2="301.20" y2="308.60" stroke="#1a1a1a" stroke-width="1"/>
<line x1="330.40" y1="305.80" x2="330.40" y2="308.60" stroke="#1a1a1a" stroke-width="1"/>
<line x1="320.70" y1="278.98" x2="320.70" y2="274.78" stroke="#222" stroke-width="1.0"/>
<line x1="319.10" y1="278.98" x2="322.30" y2="278.98" stroke="#222" stroke-width="1.0"/>
<rect x="318.25" y="273.10" width="4.50" height="1.68" fill="#b8063a" />
<line x1="325.60" y1="268.06" x2="325.60" y2="273.10" stroke="#222" stroke-width="1.0"/>
<line x1="324.00" y1="268.06" x2="327.20" y2="268.06" stroke="#222" stroke-width="1.0"/>
<rect x="323.15" y="273.10" width="4.50" height="0.80" fill="#2c4c8e" />
<line x1="330.50" y1="290.74" x2="330.50" y2="286.54" stroke="#222" stroke-width="1.0"/>
<line x1="328.90" y1="290.74" x2="332.10" y2="290.74" stroke="#222" stroke-width="1.0"/>
<rect x="328.05" y="273.10" width="4.50" height="13.44" fill="#68b043" />
<line x1="335.40" y1="284.86" x2="335.40" y2="279.82" stroke="#222" stroke-width="1.0"/>
<line x1="333.80" y1="284.86" x2="337.00" y2="284.86" stroke="#222" stroke-width="1.0"/>
<rect x="332.95" y="273.10" width="4.50" height="6.72" fill="#4f1c64" />
<line x1="340.30" y1="264.70" x2="340.30" y2="270.58" stroke="#222" stroke-width="1.0"/>
<line x1="338.70" y1="264.70" x2="341.90" y2="264.70" stroke="#222" stroke-width="1.0"/>
<rect x="337.85" y="270.58" width="4.50" height="2.52" fill="#e38b17" />
<line x1="359.50" y1="305.80" x2="359.50" y2="308.60" stroke="#1a1a1a" stroke-width="1"/>
<line x1="349.80" y1="286.54" x2="349.80" y2="278.98" stroke="#222" stroke-width="1.0"/>
<line x1="348.20" y1="286.54" x2="351.40" y2="286.54" stroke="#222" stroke-width="1.0"/>
<rect x="347.35" y="273.10" width="4.50" height="5.88" fill="#b8063a" />
<rect x="352.25" y="273.10" width="4.50" height="8.40" fill="#2c4c8e" />
<rect x="357.15" y="273.10" width="4.50" height="8.40" fill="#68b043" />
<line x1="364.50" y1="294.10" x2="364.50" y2="278.14" stroke="#222" stroke-width="1.0"/>
<line x1="362.90" y1="294.10" x2="366.10" y2="294.10" stroke="#222" stroke-width="1.0"/>
<rect x="362.05" y="273.10" width="4.50" height="5.04" fill="#4f1c64" />
<line x1="369.40" y1="284.02" x2="369.40" y2="280.66" stroke="#222" stroke-width="1.0"/>
<line x1="367.80" y1="284.02" x2="371.00" y2="284.02" stroke="#222" stroke-width="1.0"/>
<rect x="366.95" y="273.10" width="4.50" height="7.56" fill="#e38b17" />
<line x1="388.70" y1="305.80" x2="388.70" y2="308.60" stroke="#1a1a1a" stroke-width="1"/>
<line x1="418.00" y1="305.80" x2="418.00" y2="308.60" stroke="#1a1a1a" stroke-width="1"/>
<line x1="408.30" y1="224.04" x2="408.30" y2="227.40" stroke="#222" stroke-width="1.0"/>
<line x1="406.70" y1="224.04" x2="409.90" y2="224.04" stroke="#222" stroke-width="1.0"/>
<rect x="405.85" y="227.40" width="4.50" height="45.70" fill="#b8063a" />
<line x1="413.20" y1="225.22" x2="413.20" y2="227.74" stroke="#222" stroke-width="1.0"/>
<line x1="411.60" y1="225.22" x2="414.80" y2="225.22" stroke="#222" stroke-width="1.0"/>
<rect x="410.75" y="227.74" width="4.50" height="45.36" fill="#2c4c8e" />
<line x1="418.10" y1="221.02" x2="418.10" y2="224.04" stroke="#222" stroke-width="1.0"/>
<line x1="416.50" y1="221.02" x2="419.70" y2="221.02" stroke="#222" stroke-width="1.0"/>
<rect x="415.65" y="224.04" width="4.50" height="49.06" fill="#68b043" />
<line x1="423.00" y1="221.02" x2="423.00" y2="224.04" stroke="#222" stroke-width="1.0"/>
<line x1="421.40" y1="221.02" x2="424.60" y2="221.02" stroke="#222" stroke-width="1.0"/>
<rect x="420.55" y="224.04" width="4.50" height="49.06" fill="#4f1c64" />
<rect x="425.45" y="224.38" width="4.50" height="48.72" fill="#e38b17" />
<line x1="447.00" y1="305.80" x2="447.00" y2="308.60" stroke="#1a1a1a" stroke-width="1"/>
<line x1="437.30" y1="216.15" x2="437.30" y2="222.53" stroke="#222" stroke-width="1.0"/>
<line x1="435.70" y1="216.15" x2="438.90" y2="216.15" stroke="#222" stroke-width="1.0"/>
<rect x="434.85" y="222.53" width="4.50" height="50.57" fill="#b8063a" />
<line x1="442.20" y1="221.02" x2="442.20" y2="224.38" stroke="#222" stroke-width="1.0"/>
<line x1="440.60" y1="221.02" x2="443.80" y2="221.02" stroke="#222" stroke-width="1.0"/>
<rect x="439.75" y="224.38" width="4.50" height="48.72" fill="#2c4c8e" />
<rect x="444.65" y="224.38" width="4.50" height="48.72" fill="#68b043" />
<line x1="452.00" y1="225.72" x2="452.00" y2="228.75" stroke="#222" stroke-width="1.0"/>
<line x1="450.40" y1="225.72" x2="453.60" y2="225.72" stroke="#222" stroke-width="1.0"/>
<rect x="449.55" y="228.75" width="4.50" height="44.35" fill="#4f1c64" />
<line x1="456.90" y1="215.98" x2="456.90" y2="221.52" stroke="#222" stroke-width="1.0"/>
<line x1="455.30" y1="215.98" x2="458.50" y2="215.98" stroke="#222" stroke-width="1.0"/>
<rect x="454.45" y="221.52" width="4.50" height="51.58" fill="#e38b17" />
<line x1="286.50" y1="273.10" x2="461.00" y2="273.10" stroke="#1a1a1a" stroke-width="1.3"/>
<text x="304.20" y="315.00" font-size="8.0" text-anchor="end" fill="#2a2a2a" transform="rotate(-45 304.20 315.00)" >Mock</text>
<text x="333.40" y="315.00" font-size="8.0" text-anchor="end" fill="#2a2a2a" transform="rotate(-45 333.40 315.00)" >Towne</text>
<text x="362.50" y="315.00" font-size="8.0" text-anchor="end" fill="#2a2a2a" transform="rotate(-45 362.50 315.00)" >Merlin</text>
<text x="391.70" y="315.00" font-size="8.0" text-anchor="end" fill="#2a2a2a" transform="rotate(-45 391.70 315.00)" >Mock</text>
<text x="421.00" y="315.00" font-size="8.0" text-anchor="end" fill="#2a2a2a" transform="rotate(-45 421.00 315.00)" >Towne</text>
<text x="450.00" y="315.00" font-size="8.0" text-anchor="end" fill="#2a2a2a" transform="rotate(-45 450.00 315.00)" >Merlin</text>
<path d="M287.4 332.4 V335.2 H372.3 V332.4" fill="none" stroke="#222" stroke-width="1.1"/>
<path d="M374.9 332.4 V335.2 H460.4 V332.4" fill="none" stroke="#222" stroke-width="1.1"/>
<text x="330.00" y="346.30" font-size="8.6" text-anchor="middle" fill="#444" >PB-CD34</text>
<text x="417.70" y="346.30" font-size="8.6" text-anchor="middle" fill="#444" >MRC5</text>
<text x="267.20" y="256.20" font-size="9.3" text-anchor="middle" fill="#222" textLength="111.6" lengthAdjust="spacingAndGlyphs" transform="rotate(-90 267.20 256.20)" stroke="#222" stroke-width="0.2">Relative expression to GAPDH (log<tspan font-size="5.5" dy="1.6">10</tspan><tspan dy="-1.6">)</tspan></text>
<text x="38.10" y="459.90" font-size="9.6" text-anchor="start" fill="#222" textLength="67.3" lengthAdjust="spacingAndGlyphs" >Mock PB-CD34</text>
<text x="180.00" y="459.90" font-size="9.6" text-anchor="middle" fill="#222" textLength="45.0" lengthAdjust="spacingAndGlyphs" >Merlin sup.</text>
<text x="344.40" y="459.90" font-size="9.6" text-anchor="middle" fill="#222" textLength="71.2" lengthAdjust="spacingAndGlyphs" >Merlin PB-CD34</text>
<text x="179.80" y="699.40" font-size="9.6" text-anchor="middle" fill="#222" textLength="46.2" lengthAdjust="spacingAndGlyphs" >Towne sup.</text>
<text x="342.60" y="699.40" font-size="9.6" text-anchor="middle" fill="#222" textLength="71.8" lengthAdjust="spacingAndGlyphs" >Towne PB-CD34</text>
<defs>
<clipPath id="ci1"><rect x="19.2" y="465.5" width="105.70" height="108.10"/></clipPath>
<clipPath id="ci2"><rect x="127.2" y="465.5" width="105.40" height="108.10"/></clipPath>
<clipPath id="ci3"><rect x="235.6" y="465.5" width="106.80" height="108.10"/></clipPath>
<clipPath id="ci4"><rect x="343.9" y="465.5" width="107.00" height="108.10"/></clipPath>
<clipPath id="ci5"><rect x="127.2" y="575.7" width="106.30" height="108.50"/></clipPath>
<clipPath id="ci6"><rect x="235.6" y="575.7" width="106.80" height="108.50"/></clipPath>
<clipPath id="ci7"><rect x="343.9" y="575.7" width="107.00" height="108.50"/></clipPath>
<filter id="nz" x="0" y="0" width="1" height="1" color-interpolation-filters="sRGB">
<feTurbulence type="fractalNoise" baseFrequency="0.35 0.35" numOctaves="2" seed="5"/>
<feColorMatrix type="matrix" values="0 0 0 0 0  0 0 0 0 0  0 0 0 0 0  1.6 0 0 0 -0.65"/>
</filter>
</defs>
<g clip-path="url(#ci1)">
<rect x="19.2" y="465.5" width="105.70" height="108.10" fill="#a7a9b0"/>
<rect x="19.2" y="465.5" width="105.70" height="108.10" filter="url(#nz)" opacity="0.15"/>
<path d="M67.1 527.2L70.7 527.6L74.2 528.5L77.7 529.1L81.2 529.8M74.0 535.5L77.1 536.5L80.3 537.5L83.2 539.0L86.2 540.5M95.0 466.0L98.4 467.6L102.1 468.3L105.7 468.9L109.4 469.6M16.5 523.5L17.7 524.7L18.8 525.9L19.8 527.1L21.0 528.3M65.8 560.6L68.4 561.0L71.0 561.5L73.6 562.2L76.2 562.8M47.0 578.9L50.5 580.1L54.3 580.4L57.9 581.2L61.4 582.5M48.2 469.4L51.0 471.1L53.0 473.6L55.9 475.1L57.9 477.6M112.8 461.2L114.7 461.9L116.6 462.2L118.4 463.0L120.3 463.6M23.3 535.4L25.7 537.5L28.1 539.7L31.0 541.2L33.1 543.7M102.5 475.0L104.5 475.6L106.5 476.1L108.4 476.7L110.5 477.1M79.5 513.9L81.4 514.4L83.3 514.7L85.2 515.1L87.1 515.4M63.5 486.2L65.1 487.6L67.0 488.5L68.9 489.3L70.6 490.6M39.2 507.7L41.9 509.8L44.7 511.7L47.3 513.9L50.3 515.7M44.7 552.4L46.8 553.0L48.9 553.8L51.0 554.7L53.1 555.4M42.9 532.1L45.2 532.6L47.2 533.8L49.5 534.4L51.6 535.3M115.1 482.7L116.6 483.7L118.4 484.2L120.1 485.0L121.6 486.0M100.4 572.2L101.4 573.8L103.0 575.0L104.5 576.1L106.0 577.4M26.8 465.7L29.8 467.7L32.3 470.4L35.2 472.7L37.4 475.7M83.8 495.8L85.7 496.2L87.5 496.5L89.4 497.0L91.1 497.7M113.4 533.6L115.0 535.1L116.6 536.5L118.1 538.0L119.6 539.5M66.4 468.2L68.0 469.1L69.5 470.3L71.1 471.4L72.6 472.5M117.9 576.9L120.3 578.6L122.9 580.0L125.4 581.7L127.9 583.3M16.9 568.6L19.4 570.4L22.0 572.0L24.8 573.3L27.7 574.3M99.3 498.8L102.7 500.3L106.2 501.8L109.7 503.1L113.4 503.8M100.1 544.2L102.6 546.3L105.3 548.1L108.1 549.9L111.0 551.5M115.6 510.4L118.1 512.4L121.0 514.1L123.7 515.9L126.4 517.8M82.2 533.0L83.9 533.1L85.6 533.1L87.1 533.8L88.7 534.2M59.7 547.9L62.5 548.0L65.2 548.8L67.8 549.9L70.4 550.9M18.2 532.1L20.1 533.9L21.7 536.0L23.9 537.3L25.8 539.0M121.3 491.3L122.7 492.0L123.8 493.0L125.0 493.9L126.2 494.9M119.6 539.0L121.3 540.9L123.2 542.5L125.1 544.1L127.1 545.6M64.7 556.3L68.0 557.4L71.5 558.1L75.0 558.8L78.4 559.9M30.6 519.7L32.9 522.2L35.8 523.9L38.3 526.2L41.1 528.0M34.4 514.3L35.9 515.7L37.4 517.3L39.2 518.4L41.0 519.5M51.3 560.2L54.9 560.9L58.5 561.8L61.8 563.5L65.4 564.6M19.6 544.8L21.9 546.4L23.6 548.6L25.8 550.4L28.0 552.0M67.4 464.0L70.2 466.0L72.9 468.0L75.5 470.0L78.5 471.7M66.5 535.5L69.3 536.5L72.2 536.3L75.1 536.9L78.1 537.4M69.8 482.2L71.2 482.6L72.6 483.3L74.0 483.9L75.3 484.6M54.8 543.5L57.5 543.8L60.1 544.1L62.8 544.3L65.3 545.2M119.7 471.4L123.0 472.7L126.4 473.9L129.8 475.1L132.8 477.1M120.1 505.6L122.1 507.5L124.5 508.9L126.4 510.9L128.6 512.6M90.2 485.3L93.1 486.2L96.3 486.5L99.3 487.1L102.4 487.6M118.9 576.9L122.3 578.5L125.4 580.5L128.7 582.1L131.5 584.6M113.8 502.3L115.4 502.9L116.8 503.8L118.2 504.7L119.7 505.4M18.1 556.7L19.4 557.7L20.7 558.6L22.2 559.4L23.3 560.5M31.1 478.7L33.1 480.3L35.5 481.6L37.6 483.2L40.0 484.4M71.8 573.2L73.3 573.9L74.8 574.8L76.3 575.5L77.7 576.5M88.7 522.8L92.0 523.5L95.3 524.6L98.6 525.3L101.4 527.2M119.0 485.7L121.8 487.6L124.8 489.2L127.8 490.9L130.7 492.8M76.8 520.5L79.3 522.0L82.0 522.8L84.8 523.2L87.6 523.9M107.5 527.6L109.7 529.0L111.8 530.4L114.1 531.8L116.1 533.4M125.5 570.2L127.3 571.3L129.0 572.5L131.0 573.2L132.7 574.4M119.0 517.4L120.6 518.9L122.1 520.5L123.7 522.1L125.4 523.5M105.0 463.8L106.8 464.3L108.6 465.1L110.5 465.4L112.3 466.1M86.5 473.5L89.4 474.7L92.4 475.8L95.4 476.6L98.4 477.5M76.2 512.7L78.5 512.9L80.7 513.6L83.0 514.3L85.2 515.0M87.8 536.5L90.2 537.7L92.8 538.5L95.2 539.8L97.6 540.9M100.5 556.8L103.3 558.9L105.8 561.5L108.2 564.0L110.9 566.3M130.3 565.9L131.8 566.9L133.1 568.2L134.7 569.1L136.2 570.0M111.1 510.9L113.8 512.8L116.3 514.8L119.0 516.7L121.6 518.7M38.0 541.7L41.1 543.5L44.3 545.0L47.8 545.6L51.2 546.7M73.0 542.1L74.8 542.6L76.7 543.2L78.4 544.0L80.2 544.6M74.4 528.3L76.1 528.7L77.9 529.3L79.5 530.1L81.4 530.0M122.0 472.3L123.4 473.2L125.0 473.8L126.4 474.6L127.9 475.2M68.8 522.0L71.2 522.5L73.6 523.1L76.1 523.4L78.5 523.5M35.8 514.7L38.3 516.6L40.8 518.6L43.2 520.6L45.6 522.6M16.6 566.6L19.4 568.3L22.5 569.4L25.5 570.8L28.6 572.1M84.2 520.7L87.7 521.7L91.4 522.4L94.6 524.2L98.2 525.2M104.8 557.3L106.3 559.2L108.3 560.6L110.2 562.1L112.2 563.3M103.3 509.0L106.1 510.5L108.8 512.0L111.6 513.5L114.3 515.1M55.9 536.5L58.7 537.5L61.2 539.0L64.0 539.5L66.9 539.9M91.1 528.4L93.8 528.3L95.9 530.1L98.4 530.9L101.0 531.8M102.9 576.8L104.2 577.7L105.5 578.6L106.6 579.7L107.6 580.9M20.6 484.2L22.4 485.7L24.2 487.2L25.8 488.9L27.7 490.3M73.6 575.3L75.8 576.9L78.3 578.2L80.7 579.6L83.1 581.0M83.9 550.8L85.4 551.5L86.8 552.1L88.3 552.8L89.7 553.5M72.1 533.3L73.7 533.8L75.3 534.1L76.9 534.3L78.5 534.6M57.1 494.8L59.8 496.2L62.4 497.5L65.1 498.7L68.0 499.6M16.4 490.0L17.6 491.1L18.7 492.2L20.2 492.9L21.2 494.1M101.4 467.0L105.0 468.0L108.6 468.8L112.1 470.1L115.8 470.9M70.1 576.0L72.1 576.3L74.0 577.0L75.9 577.9L77.8 578.6M128.0 557.6L130.1 559.6L132.2 561.5L134.7 562.9L137.1 564.5M20.8 523.5L22.3 524.4L23.5 525.7L25.0 526.8L26.3 528.0M82.2 510.6L85.4 510.1L88.6 510.6L91.5 511.9L94.7 512.6M42.4 474.5L44.9 477.0L47.8 479.0L50.5 481.1L53.0 483.6M94.1 527.8L96.8 528.5L99.5 529.4L102.0 530.8L104.3 532.4M128.2 569.2L131.0 571.3L133.9 573.1L137.0 574.7L140.0 576.5M86.9 473.2L89.5 474.1L92.1 474.9L94.8 475.3L97.5 475.6M87.8 505.2L90.3 505.8L92.7 506.7L95.2 507.4L97.8 507.5M23.4 475.2L26.4 476.7L29.3 478.3L31.8 480.5L34.0 483.0M44.7 556.7L47.0 557.0L49.3 556.9L51.6 557.4L53.8 558.2M101.1 569.8L103.0 571.4L104.8 573.2L106.5 574.9L108.4 576.5M24.4 527.7L26.4 529.4L28.5 530.9L30.5 532.5L32.6 534.0M39.5 539.3L41.0 540.0L42.4 541.0L43.9 541.6L45.5 542.2M31.3 503.4L33.7 505.4L35.9 507.6L38.4 509.6L41.1 511.2M121.1 572.1L124.3 573.7L127.0 576.0L130.0 577.8L133.0 579.8M61.0 571.5L64.4 572.4L67.6 573.8L71.0 574.8L74.1 576.4M60.6 506.9L62.5 507.3L64.3 507.9L66.2 508.1L68.1 508.6M79.9 482.0L82.9 483.2L86.0 483.9L89.0 485.1L92.1 485.9M77.8 528.1L81.4 528.5L85.1 528.8L88.4 530.4L91.8 531.8M106.0 471.0L107.6 471.4L109.3 471.4L110.9 472.0L112.4 472.6M31.4 549.2L34.0 550.7L36.5 552.3L39.1 553.6L42.0 554.3M103.3 507.7L105.2 508.9L107.3 509.7L109.4 510.4L111.4 511.5M98.2 544.7L101.5 546.1L104.1 548.5L107.1 550.4L110.2 552.1M108.0 559.6L110.2 562.3L112.9 564.6L115.8 566.5L118.5 568.7M107.6 510.9L109.6 512.3L111.6 513.8L113.5 515.3L115.5 516.6M34.2 485.2L36.1 486.7L37.3 488.9L39.0 490.7L40.7 492.5M28.1 537.6L30.6 539.6L33.2 541.6L36.2 542.9L39.0 544.6M120.0 465.4L121.6 466.0L123.2 466.8L124.8 467.5L126.2 468.5M83.6 487.5L85.5 488.0L87.3 488.6L89.2 489.1L91.1 489.3M78.2 557.6L80.6 558.5L82.7 560.1L84.9 561.5L87.2 562.6M78.1 574.1L80.4 575.4L82.6 576.8L84.4 578.6L86.6 579.9M59.3 523.4L61.9 524.1L64.0 525.7L66.6 526.3L69.2 526.7M16.1 516.9L17.7 518.6L19.7 519.8L21.5 521.3L23.3 522.8M33.0 499.1L34.3 500.7L36.0 501.9L37.8 502.9L39.7 503.8M45.6 524.2L47.2 525.1L48.9 526.0L50.5 526.9L52.3 527.3M109.9 470.8L112.0 471.4L114.0 471.8L116.1 472.2L118.1 472.9M125.4 530.4L128.0 532.5L130.0 535.3L133.0 537.0L135.3 539.5M25.3 558.7L27.1 559.5L28.9 560.4L30.5 561.5L32.0 562.7M50.8 497.8L52.2 498.7L53.5 499.8L54.9 500.7L56.5 501.3M94.3 473.6L96.7 473.4L99.0 474.1L101.2 474.9L103.6 475.1M16.2 505.6L18.6 507.6L20.6 510.0L22.9 512.1L25.2 514.2M129.5 555.5L131.2 556.6L132.8 557.7L134.5 558.6L136.1 559.8M49.3 500.9L51.3 502.2L53.4 503.4L55.4 504.7L57.2 506.2M52.9 572.7L55.6 573.3L58.4 573.7L61.0 574.4L63.7 575.0M31.1 472.2L33.5 474.1L35.9 475.9L38.5 477.5L40.4 479.8M83.4 471.7L85.3 472.5L87.1 473.2L89.1 473.7L91.0 474.3M121.3 511.5L123.6 512.9L125.9 514.2L127.8 516.1L129.9 517.6M53.1 509.8L54.6 510.3L55.9 511.1L57.1 512.1L58.5 512.7M91.2 533.0L92.6 533.5L94.0 534.2L95.4 534.9L96.8 535.5M58.5 521.3L61.5 522.6L64.7 523.1L67.8 524.3L70.7 525.6M119.3 525.8L121.1 527.2L122.8 528.8L124.6 530.2L126.7 531.1M74.5 545.6L77.7 546.8L80.5 548.7L83.7 549.6L86.9 550.8M24.4 490.0L26.6 491.7L28.9 493.3L30.8 495.4L32.9 497.2M68.4 475.7L71.2 478.1L74.1 480.3L77.7 481.3L81.2 482.4M79.6 492.3L82.8 494.0L86.2 494.8L89.7 495.5L93.2 496.1M110.2 495.2L113.4 496.6L116.3 498.6L119.3 500.5L122.4 502.1M78.2 470.1L79.5 471.0L80.7 472.0L82.1 472.8L83.6 473.2M50.4 540.4L53.5 541.0L56.4 542.3L59.4 543.1L62.5 543.8M37.9 516.4L39.4 517.3L40.8 518.5L42.2 519.7L43.6 520.9M45.3 528.2L47.3 529.2L49.4 530.1L51.5 530.9L53.6 531.6M125.8 532.0L127.9 533.4L129.6 535.3L131.6 536.9L133.8 538.2M101.8 518.5L104.9 520.5L108.5 521.6L111.8 523.2L114.7 525.6M80.3 568.0L82.8 568.9L85.1 570.3L87.3 571.9L89.6 573.3M21.1 546.8L23.9 549.0L27.0 550.6L30.0 552.5L33.2 554.0M83.5 469.3L85.2 469.7L86.9 470.4L88.6 470.9L90.3 471.4M95.2 523.2L97.1 523.9L98.9 525.0L100.7 525.8L102.5 526.9M120.2 575.2L122.5 577.3L125.0 578.8L127.5 580.5L130.2 581.7M101.2 528.0L103.9 530.3L106.7 532.5L109.3 534.8L111.9 537.2M124.8 461.2L126.8 461.9L128.6 462.8L130.2 464.1L131.9 465.2M109.1 508.0L111.2 509.0L113.3 510.1L114.8 511.8L116.7 513.1M50.4 520.0L53.4 522.0L56.7 523.4L60.1 524.7L63.4 526.1M121.6 567.0L123.0 568.3L124.6 569.4L126.3 570.4L127.8 571.5M116.6 578.7L118.2 579.8L119.8 580.9L121.3 582.1L123.0 583.2M27.1 546.8L28.6 548.4L30.6 549.3L32.5 550.5L34.5 551.4M95.3 571.9L97.1 573.6L98.9 575.3L100.9 576.9L102.4 578.9M37.5 482.5L39.2 483.7L40.9 484.8L42.5 486.0L43.8 487.5M117.1 530.8L118.8 532.0L119.9 533.6L121.4 534.9L123.0 536.2M88.8 471.7L92.5 472.3L96.1 473.4L99.7 474.1L103.3 474.9M84.2 494.7L86.2 495.2L88.2 495.6L90.2 496.0L92.1 496.8M43.3 494.1L45.1 496.0L46.8 498.2L48.9 500.0L51.1 501.6M68.2 549.7L70.4 550.6L72.7 551.1L75.0 551.9L77.1 552.9M89.4 503.6L92.3 504.4L95.3 504.7L98.2 504.8L101.1 505.7M94.0 522.6L97.2 524.2L100.2 526.2L103.3 528.2L106.2 530.5M42.0 513.1L44.5 515.2L47.6 516.3L50.3 518.0L53.0 519.9M40.4 529.6L42.4 531.3L44.7 532.6L47.0 533.7L49.6 534.4M115.8 482.4L117.4 483.3L119.1 484.1L120.8 484.7L122.4 485.6M45.2 555.4L46.7 556.1L48.4 556.4L50.0 556.5L51.7 556.9M42.3 478.4L43.8 480.0L45.4 481.6L47.1 482.9L48.9 484.1M45.4 530.6L46.9 531.4L48.5 532.0L50.1 532.7L51.6 533.4M94.7 559.2L97.1 561.4L99.6 563.6L102.2 565.6L104.5 567.9M127.1 466.1L129.4 467.2L132.0 467.6L134.1 469.1L136.2 470.7M101.0 465.7L103.0 466.3L105.0 466.7L107.0 467.0L108.9 467.6M63.9 470.1L65.0 471.3L66.3 472.2L67.6 473.0L69.0 473.7M44.1 526.3L46.1 526.8L47.8 527.8L49.7 528.6L51.5 529.6M128.3 533.2L129.6 534.1L130.7 535.3L131.8 536.5L132.9 537.6M95.2 563.2L97.2 565.1L99.6 566.7L102.0 568.2L103.8 570.3M58.9 553.4L60.8 553.7L62.8 554.3L64.7 554.6L66.6 555.1M38.4 486.4L40.3 488.1L42.0 490.0L43.5 492.0L45.4 493.7M114.6 485.3L116.6 486.5L118.7 487.7L120.8 488.6L122.8 489.9M16.9 482.6L18.9 483.3L20.4 484.8L22.1 486.0L23.9 487.1M56.6 479.2L59.7 481.0L62.3 483.5L65.5 485.3L69.0 486.1M17.2 499.1L18.7 501.0L20.3 502.7L22.2 504.1L23.6 505.9M74.9 467.6L77.0 468.7L79.1 469.8L81.2 470.9L83.3 472.1M18.5 498.0L20.5 499.4L22.4 501.0L24.3 502.5L26.2 504.0M98.7 539.8L100.3 540.8L101.7 541.9L103.2 542.9L104.8 543.8M59.5 563.4L61.5 563.8L63.4 564.5L65.3 565.0L67.2 565.6M17.6 535.5L19.4 537.7L22.0 538.8L24.2 540.5L26.0 542.6M121.1 486.6L124.0 487.7L126.9 488.5L129.3 490.4L131.9 492.1M88.0 471.7L90.4 472.3L92.7 473.0L95.2 473.4L97.5 474.2M72.3 494.1L74.1 494.6L75.8 495.3L77.6 496.0L79.3 496.7M42.5 472.1L44.3 473.5L45.9 475.1L47.8 476.4L49.6 477.7M78.8 543.8L80.3 544.1L81.8 544.7L83.1 545.4L84.6 546.0M21.1 519.6L23.4 521.3L25.4 523.3L27.5 525.2L29.6 527.1M55.0 566.4L57.7 567.0L60.2 568.1L62.9 568.9L65.4 570.0M86.0 573.8L88.2 574.6L90.2 575.8L92.0 577.2L94.0 578.4M86.6 509.6L89.0 510.1L91.2 511.2L93.5 512.1L95.8 512.6M120.0 465.6L121.8 466.0L123.5 466.7L125.3 467.0L126.7 468.1M32.1 483.8L33.7 485.1L35.3 486.4L36.5 487.9L38.0 489.3" fill="none" stroke="#000" stroke-width="0.6" stroke-opacity="0.17" stroke-linecap="round" stroke-linejoin="round"/>
<path d="M59.8 488.8L62.1 489.9L64.6 490.9L67.0 491.7L69.5 492.5M110.4 574.9L112.2 576.2L113.6 578.0L115.4 579.3L116.9 581.0M94.7 541.6L97.8 543.5L101.0 545.3L104.1 547.2L107.2 549.2M79.4 504.1L81.5 504.6L83.7 504.8L85.7 505.3L87.8 506.0M51.8 481.5L53.8 483.2L55.9 484.9L57.9 486.6L60.1 488.1M95.7 473.8L98.2 474.4L100.7 474.7L103.0 475.5L105.3 476.6M114.8 466.8L116.9 467.0L118.9 467.6L120.9 468.0L122.7 469.0M43.3 545.0L45.5 545.6L47.4 546.8L49.4 547.7L51.7 547.9M79.9 510.2L82.9 510.4L86.0 510.6L89.0 511.4L92.0 512.0M57.8 539.6L59.8 540.1L61.7 540.6L63.7 540.6L65.7 540.7M126.5 476.3L129.3 477.4L131.8 479.2L134.6 480.4L136.6 482.6M128.6 466.3L131.3 467.7L134.0 469.4L136.7 470.9L138.8 473.2M129.2 474.7L130.9 476.1L132.7 477.4L134.7 478.5L136.5 479.8M50.0 555.0L53.3 555.8L56.4 557.0L59.8 557.2L63.2 557.6M127.7 506.5L130.4 508.0L132.8 509.9L134.9 512.0L137.0 514.3M26.6 570.8L28.5 571.5L30.4 572.3L32.3 573.1L34.3 573.8M79.7 477.5L82.4 478.4L85.1 479.5L88.0 479.9L90.8 480.7M44.2 466.6L45.3 467.8L46.6 468.8L47.7 470.0L48.9 471.2M70.1 578.3L71.8 579.2L73.7 579.9L75.5 580.5L77.1 581.6M60.0 467.3L62.3 468.8L64.7 470.1L67.0 471.5L68.9 473.6M114.2 577.9L116.0 579.7L118.2 580.9L120.2 582.4L122.2 583.9M33.7 474.5L35.1 475.5L36.2 476.8L37.5 477.8L38.5 479.1M15.4 485.3L18.2 487.7L21.1 489.9L23.8 492.4L27.0 494.2M99.3 507.7L102.3 509.1L105.5 509.8L108.4 511.4L111.3 513.0M124.2 508.0L126.5 510.0L128.3 512.5L130.2 514.9L132.4 517.1M40.5 506.4L42.5 507.6L44.6 508.6L46.6 509.8L48.4 511.3M55.2 493.5L58.2 495.3L61.2 497.2L64.5 498.4L67.5 500.4M38.7 548.3L41.2 549.3L43.8 550.1L46.3 551.2L48.9 552.1M54.7 511.4L56.2 511.9L57.6 512.5L59.0 513.0L60.3 513.7M124.4 484.7L127.5 486.2L130.0 488.7L132.1 491.4L134.2 494.2M64.0 574.2L65.9 574.5L67.7 575.4L69.6 576.2L71.3 577.1M92.6 572.4L94.2 573.9L95.7 575.5L97.3 577.1L99.0 578.6M87.6 505.2L90.5 506.0L93.2 507.1L95.8 508.5L98.7 508.9M86.9 520.1L89.4 521.3L91.9 522.6L94.6 523.4L97.3 524.1M91.2 510.0L93.5 510.7L95.6 511.8L97.9 512.2L100.2 512.9M17.9 534.6L20.0 536.0L22.0 537.5L23.8 539.2L25.8 540.8M68.4 577.8L71.4 578.7L74.0 580.6L76.6 582.4L79.3 584.0M114.6 475.5L118.2 476.4L121.6 477.9L124.8 479.8L128.3 481.1M122.7 558.4L125.8 559.5L128.5 561.5L130.6 563.9L133.2 566.0M96.5 490.1L99.8 490.4L103.0 491.5L106.1 492.6L109.3 493.5M46.6 536.5L48.2 536.8L49.8 537.3L51.4 537.7L53.0 538.3M106.8 561.5L109.6 563.0L112.1 565.0L114.5 567.3L117.0 569.3M56.5 472.4L57.9 473.2L58.9 474.4L60.1 475.4L61.5 476.2M35.2 506.4L38.2 508.1L41.1 509.8L43.1 512.6L45.5 515.0M38.1 534.8L41.1 536.5L44.4 537.8L47.6 539.0L51.0 539.9M16.0 500.6L17.8 501.9L19.6 503.2L21.4 504.4L23.2 505.6M35.1 475.6L37.5 477.5L39.7 479.6L41.5 482.1L43.3 484.6M84.8 502.7L86.6 503.5L88.5 503.9L90.3 504.4L92.3 504.6M50.1 508.7L51.7 509.5L53.4 510.3L55.0 511.2L56.7 511.8M67.1 520.3L70.6 520.9L74.0 522.2L77.5 523.1L80.8 524.5M47.2 563.6L49.2 564.3L51.3 564.5L53.4 564.4L55.5 565.1M59.0 548.3L61.9 548.8L64.6 549.5L67.4 549.9L70.2 550.7M65.2 573.2L67.3 573.8L69.4 574.2L71.4 575.0L73.3 576.1M29.5 566.2L31.4 566.9L33.3 567.8L35.2 568.7L37.2 569.0M82.5 525.0L84.2 525.5L85.9 525.9L87.5 526.3L89.1 527.0M97.9 539.5L99.5 541.1L101.6 542.0L103.2 543.6L104.9 545.1M68.5 503.2L71.0 503.8L73.2 505.0L75.8 505.0L78.3 505.1M127.2 577.7L129.1 579.1L131.4 579.9L133.6 580.7L136.0 580.7M21.9 515.1L23.7 516.6L25.6 518.2L27.2 519.9L29.0 521.5M57.0 477.4L58.9 478.8L60.9 480.1L62.8 481.6L64.6 483.1M86.3 548.1L88.1 549.2L90.1 549.8L91.9 550.8L93.7 551.7M68.4 462.4L70.7 464.9L73.8 466.5L76.6 468.4L79.7 469.9M76.2 523.5L77.9 524.0L79.6 524.2L81.4 524.5L83.0 525.0M79.9 475.8L81.6 476.2L83.2 476.8L84.8 477.3L86.4 477.6M62.1 466.9L63.8 467.9L65.4 469.1L67.2 469.8L68.9 471.0M26.3 560.9L27.7 562.0L29.4 562.8L31.2 563.4L32.8 564.3M114.1 574.3L115.9 576.0L117.7 577.6L119.5 579.2L121.7 580.3M96.6 479.0L99.2 479.7L101.9 480.4L104.5 480.8L106.8 482.2M88.6 560.6L90.0 561.4L91.3 562.3L92.6 563.3L93.8 564.3M120.5 499.3L122.8 500.5L125.2 501.5L127.0 503.4L129.1 505.0M72.2 567.2L74.4 568.0L76.4 569.3L78.6 570.3L80.5 571.7M63.9 516.8L66.1 517.2L68.3 518.0L70.4 519.0L72.6 519.7M21.3 522.8L23.5 524.6L25.4 526.5L27.3 528.5L29.2 530.4M50.6 517.7L52.4 518.6L54.3 519.2L56.1 520.2L57.9 520.9M126.0 461.3L128.5 462.7L131.1 463.9L133.7 465.0L136.2 466.3M49.0 532.4L51.7 533.4L54.2 534.6L57.0 534.9L59.8 535.7M20.3 471.5L22.1 472.5L23.6 474.0L25.5 474.8L27.0 476.2M60.7 494.2L62.9 496.4L65.4 498.1L68.1 499.4L71.0 500.2M50.9 557.3L54.1 558.0L57.3 558.6L60.5 559.4L63.7 560.0M86.5 525.7L89.9 526.7L93.3 527.9L96.3 529.8L99.6 531.2M81.3 461.2L84.3 462.0L87.2 463.4L89.8 465.2L92.8 466.0M22.9 552.8L24.9 554.2L27.1 555.3L29.4 556.4L31.5 557.6M27.9 498.3L30.0 500.5L32.3 502.8L34.4 505.1L37.1 506.8M77.6 473.9L79.3 474.4L80.7 475.4L82.5 475.5L84.2 475.9M38.6 509.5L40.7 511.3L42.9 512.8L45.0 514.5L47.4 515.8M17.8 511.5L19.8 512.9L21.8 514.0L23.8 515.2L25.5 516.9M59.1 552.5L60.8 552.8L62.5 553.1L64.2 553.4L65.9 553.7M54.3 479.9L56.2 481.0L58.2 482.3L60.2 483.3L62.0 484.7M111.7 502.8L114.4 503.2L116.8 504.8L119.3 506.1L121.3 508.1M41.2 491.4L43.7 493.3L46.2 495.2L48.2 497.6L50.6 499.7M57.9 545.1L60.3 545.4L62.8 545.7L65.0 546.9L67.4 547.4M66.9 518.0L68.9 518.5L70.9 518.9L72.9 519.2L74.7 520.1M18.3 543.0L20.5 544.6L22.7 546.3L24.6 548.3L26.4 550.4M102.7 555.7L104.0 556.8L105.4 557.8L106.6 559.0L107.7 560.3M84.8 474.8L88.0 475.0L91.2 475.4L94.1 476.7L97.3 477.2M56.3 572.8L59.4 573.4L62.1 574.9L65.1 575.7L68.1 576.5M43.0 462.9L45.0 464.7L46.8 466.8L48.8 468.6L50.7 470.6M70.3 492.7L72.3 493.4L74.2 494.4L76.2 495.1L78.3 495.6M113.7 561.4L116.1 563.0L118.3 564.8L120.8 566.3L123.1 568.0M120.6 552.1L121.7 553.8L123.1 555.3L124.8 556.5L126.2 558.0M41.2 514.0L43.2 515.3L45.4 516.0L47.5 516.9L49.6 518.0M54.6 487.9L57.0 490.6L59.7 493.1L62.9 494.8L66.2 496.2M118.5 472.5L120.8 474.2L122.9 475.9L125.5 476.9L127.6 478.8M21.3 539.2L22.4 540.4L23.6 541.5L24.7 542.8L26.0 543.8M113.2 553.2L114.9 555.2L116.7 557.2L118.5 559.1L120.3 561.2M55.2 519.4L57.0 520.1L58.9 520.6L60.8 521.1L62.6 521.7M70.5 526.3L74.2 527.0L77.8 527.7L81.4 528.5L84.8 529.8M95.4 571.4L97.5 574.4L100.5 576.7L102.7 579.6L105.9 581.5M16.5 518.3L18.7 520.1L21.1 521.7L23.5 523.1L25.9 524.6M24.2 521.8L26.8 524.4L29.5 526.9L31.8 529.7L35.1 531.2M17.0 464.3L20.1 465.6L23.2 466.8L26.4 468.0L29.3 469.7M107.7 460.6L109.2 461.1L110.9 461.0L112.5 461.5L114.1 461.7M53.0 501.4L54.3 502.3L55.7 502.9L57.1 503.5L58.6 504.0M53.0 540.2L55.4 541.0L57.6 542.2L60.0 542.9L62.4 543.7M43.5 517.1L46.3 518.7L49.0 520.6L52.0 521.9L55.1 523.0M74.7 490.6L77.9 491.8L81.2 493.0L84.6 493.8L87.9 494.9M98.2 540.1L101.1 541.7L103.8 543.6L106.4 545.6L109.1 547.4M39.4 509.4L42.5 511.5L45.3 513.9L47.7 516.8L51.2 518.0M59.0 476.5L61.6 478.5L64.5 480.0L67.3 481.8L70.3 482.9M47.4 530.6L50.5 531.2L53.4 532.5L56.3 533.9L59.3 534.8M58.2 468.2L60.8 470.6L63.6 472.9L66.0 475.5L69.4 476.6M122.0 500.9L124.6 503.3L127.1 505.9L129.7 508.4L132.4 510.8M29.9 540.6L32.9 542.4L36.2 543.3L39.5 544.6L42.6 546.2M28.1 492.7L30.6 495.4L33.2 497.9L35.9 500.3L38.5 502.8M49.7 482.1L51.2 483.0L52.6 484.1L54.2 484.9L55.7 485.9M75.1 572.4L76.7 573.1L78.1 573.9L79.6 574.7L80.9 575.8M121.1 520.0L122.6 521.1L123.8 522.5L125.3 523.7L126.4 525.2M126.7 514.8L128.7 516.9L131.0 518.6L132.9 520.7L134.4 523.1M127.3 463.4L130.3 464.6L133.1 466.2L135.8 468.0L138.3 469.9M99.4 485.5L100.9 485.9L102.3 486.6L103.8 486.8L105.3 487.2M68.0 482.1L69.4 482.7L70.8 483.4L72.2 484.0L73.5 484.8M56.9 516.4L59.7 517.3L62.3 518.6L64.9 519.8L67.8 520.2M62.4 524.3L65.0 524.7L67.2 525.8L69.6 526.5L71.9 527.8M112.9 564.7L114.6 565.4L116.0 566.6L117.4 567.8L118.8 569.1M97.9 488.3L100.5 489.4L102.9 490.8L105.6 491.5L108.2 492.6M93.7 501.5L96.5 501.5L99.1 502.2L101.8 502.8L104.4 503.7M14.4 519.1L16.1 520.3L17.8 521.6L19.4 523.0L20.9 524.4M71.8 517.4L74.5 518.4L77.4 519.0L80.3 519.5L83.2 520.2M106.8 488.2L109.9 489.3L113.1 490.3L116.0 492.0L119.1 493.3M63.5 526.1L67.1 526.5L70.6 527.4L74.2 528.0L77.5 529.6M72.4 500.9L74.2 501.6L75.9 502.5L77.8 503.2L79.7 503.1M120.3 541.4L122.8 543.5L125.7 545.2L128.1 547.5L130.7 549.4M108.5 496.3L110.3 497.2L112.2 498.0L114.1 498.7L115.9 499.6M105.8 532.6L108.4 535.1L111.3 537.0L113.6 539.7L116.1 542.3M26.9 576.5L30.1 577.7L33.3 579.1L36.6 579.9L40.1 580.2M128.2 534.1L129.5 535.3L130.9 536.4L132.0 537.8L133.5 538.7M105.1 563.7L106.8 565.9L108.9 567.6L111.2 569.3L113.2 571.2M55.1 463.2L56.4 464.5L57.9 465.6L59.5 466.6L61.1 467.5M94.5 521.4L96.6 522.2L98.6 523.2L100.7 524.0L102.8 524.7M123.2 499.5L125.9 501.9L128.8 504.0L131.2 506.7L133.9 509.0M125.6 551.9L127.3 553.3L128.8 555.0L130.7 556.3L132.5 557.7M114.0 523.7L116.0 525.3L118.1 526.7L120.0 528.5L121.6 530.5M42.1 499.2L43.3 500.4L44.5 501.5L46.1 502.1L47.5 503.0M88.2 509.4L90.5 510.1L92.8 511.0L95.0 511.9L97.3 512.6M64.3 541.5L67.5 541.7L70.7 542.2L73.5 543.7L76.7 544.3M43.3 524.4L46.6 526.0L50.0 527.7L53.4 529.2L57.0 530.3M31.6 525.6L33.3 526.9L35.2 527.8L37.0 528.9L38.5 530.3M89.1 543.9L91.5 544.9L93.7 546.1L96.1 546.7L98.2 548.2M117.0 467.1L118.6 467.6L120.0 468.5L121.6 469.0L123.1 469.6M63.4 528.2L66.6 528.5L69.6 529.6L72.7 530.1L75.9 530.3M19.6 544.4L20.8 545.7L22.1 546.9L23.5 548.1L24.9 549.2M59.4 515.8L60.9 516.8L62.6 517.2L64.3 517.5L65.9 518.0M50.7 576.7L52.4 577.0L54.1 577.6L55.8 578.2L57.5 578.4M61.7 507.6L64.9 508.9L67.9 510.7L71.3 511.5L74.8 512.0M56.5 512.1L58.9 513.0L61.1 514.2L63.5 514.9L65.8 515.8M103.6 514.3L105.8 515.6L108.2 516.6L110.6 517.5L112.4 519.2M127.2 553.3L129.2 554.6L131.3 555.8L133.3 557.1L135.0 558.7M124.1 537.9L126.6 539.6L128.7 541.8L130.9 543.8L132.7 546.2M76.6 576.2L78.6 577.3L80.5 578.4L82.6 579.3L84.4 580.8M44.2 533.0L46.2 533.2L47.8 534.4L49.6 535.4L51.2 536.5M21.1 529.4L23.4 531.8L26.2 533.7L29.1 535.4L31.9 537.1M102.3 548.7L104.5 550.4L106.3 552.6L108.7 554.1L110.8 555.9M128.4 476.6L131.3 478.1L133.7 480.3L136.1 482.5L138.7 484.5M79.8 522.9L82.3 523.7L84.7 524.7L87.1 525.8L89.7 526.3M47.7 555.7L49.9 556.6L52.2 557.5L54.6 557.7L57.0 558.4M128.9 527.8L131.8 529.9L134.1 532.7L136.6 535.4L139.4 537.8M94.3 542.0L97.3 543.5L100.0 545.5L102.9 547.1L105.3 549.5M17.0 504.7L19.1 506.8L21.2 509.0L23.0 511.4L25.5 512.9M43.1 481.5L44.2 482.9L45.3 484.2L46.7 485.4L48.1 486.4M70.8 542.6L72.3 543.2L73.8 543.2L75.3 543.7L76.7 544.4M95.1 500.3L98.4 501.3L101.6 502.8L104.9 503.8L107.9 505.5M108.2 527.8L110.4 529.7L112.7 531.4L114.8 533.3L116.7 535.5M31.6 574.4L33.8 574.9L35.9 575.7L38.0 576.6L40.3 576.7M92.5 480.7L94.8 481.2L97.1 481.5L99.2 482.5L101.5 482.6M40.4 503.5L42.0 504.8L43.6 506.0L45.2 507.2L46.9 508.3M111.5 524.7L113.7 526.4L115.9 528.2L118.4 529.5L119.9 531.9M83.6 562.3L85.1 563.2L86.5 564.0L87.9 564.8L89.3 565.7M45.7 539.3L48.7 540.3L51.4 541.6L54.4 542.4L57.2 543.7M55.4 503.0L57.2 504.0L59.0 505.1L60.7 506.1L62.6 506.9M82.7 492.2L84.4 492.8L86.1 493.0L87.8 493.2L89.6 493.6M116.8 549.6L119.1 551.3L121.6 552.9L123.9 554.6L126.1 556.5M59.3 520.0L61.8 520.5L64.3 521.2L66.7 522.0L69.3 522.1M40.1 463.1L41.4 464.9L43.0 466.4L44.7 467.8L46.3 469.1M36.3 563.1L39.6 564.0L42.9 564.5L46.2 565.4L49.5 565.8M60.2 525.8L63.1 527.6L66.5 528.5L69.9 529.4L73.3 530.0M42.8 575.2L45.5 575.6L48.1 576.1L50.7 577.0L53.4 577.3M128.8 469.4L131.9 471.4L135.1 473.4L138.4 475.2L141.0 477.8M27.0 526.9L30.1 528.7L32.8 531.2L36.0 532.9L39.2 534.6M34.2 515.3L37.0 517.4L40.0 519.4L43.1 521.0L46.0 523.0M53.2 528.7L55.8 530.0L58.6 530.9L61.4 531.6L64.3 532.1" fill="none" stroke="#fff" stroke-width="0.7" stroke-opacity="0.22" stroke-linecap="round" stroke-linejoin="round"/>
<circle cx="26.9" cy="547.9" r="0.40" fill="#1a1a1a" fill-opacity="0.35"/>
<circle cx="120.4" cy="525.9" r="0.33" fill="#1a1a1a" fill-opacity="0.35"/>
<circle cx="86.5" cy="493.9" r="0.54" fill="#1a1a1a" fill-opacity="0.35"/>
<circle cx="95.7" cy="547.5" r="0.32" fill="#1a1a1a" fill-opacity="0.35"/>
<circle cx="22.8" cy="551.7" r="0.34" fill="#1a1a1a" fill-opacity="0.35"/>
<circle cx="40.5" cy="468.7" r="0.35" fill="#1a1a1a" fill-opacity="0.35"/>
<circle cx="69.3" cy="569.1" r="0.40" fill="#1a1a1a" fill-opacity="0.35"/>
<circle cx="46.6" cy="555.0" r="0.36" fill="#1a1a1a" fill-opacity="0.35"/>
<circle cx="86.3" cy="532.0" r="0.58" fill="#1a1a1a" fill-opacity="0.35"/>
<circle cx="23.8" cy="526.4" r="0.41" fill="#1a1a1a" fill-opacity="0.35"/>
<circle cx="106.3" cy="492.8" r="0.51" fill="#1a1a1a" fill-opacity="0.35"/>
<circle cx="38.8" cy="519.0" r="0.59" fill="#1a1a1a" fill-opacity="0.35"/>
<circle cx="44.6" cy="495.6" r="0.58" fill="#1a1a1a" fill-opacity="0.35"/>
<circle cx="90.5" cy="472.6" r="0.36" fill="#1a1a1a" fill-opacity="0.35"/>
<circle cx="44.3" cy="496.8" r="0.55" fill="#1a1a1a" fill-opacity="0.35"/>
<circle cx="93.2" cy="571.4" r="0.50" fill="#1a1a1a" fill-opacity="0.35"/>
<circle cx="85.6" cy="506.9" r="0.52" fill="#1a1a1a" fill-opacity="0.35"/>
<circle cx="71.4" cy="471.9" r="0.45" fill="#1a1a1a" fill-opacity="0.35"/>
</g>
<g clip-path="url(#ci2)">
<rect x="127.2" y="465.5" width="105.40" height="108.10" fill="#a2a7c0"/>
<rect x="127.2" y="465.5" width="105.40" height="108.10" filter="url(#nz)" opacity="0.15"/>
<path d="M167.1 523.8L168.3 522.8L169.3 521.4L170.0 520.0L171.0 518.7M139.9 531.1L141.5 527.9L143.3 524.8L144.2 521.4L145.8 518.2M188.0 489.3L189.2 487.8L190.3 486.2L191.5 484.7L192.6 483.2M144.7 516.3L145.9 513.2L147.2 510.0L149.0 507.1L150.2 504.0M128.8 558.6L129.1 556.8L129.5 555.0L130.3 553.3L130.7 551.5M166.8 471.3L167.6 470.0L168.2 468.5L169.0 467.1L169.7 465.6M135.8 495.0L136.9 493.3L137.9 491.7L138.8 490.0L139.7 488.3M142.3 524.3L143.5 522.3L144.8 520.4L145.6 518.2L146.7 516.1M177.5 465.8L179.0 463.3L180.5 460.8L182.3 458.6L183.6 456.0M190.6 507.4L192.5 505.4L194.1 503.3L195.6 501.0L197.6 499.2M165.7 544.6L167.3 541.4L168.7 538.2L170.0 534.8L172.1 532.0M213.3 543.7L215.2 540.7L217.4 537.8L219.7 535.1L221.2 531.8M135.8 576.8L136.7 573.8L137.0 570.6L136.8 567.4L136.8 564.3M226.4 529.3L229.2 527.1L231.4 524.4L233.2 521.4L234.8 518.3M139.4 508.8L141.1 506.6L142.9 504.5L144.7 502.4L146.3 500.1M155.1 499.2L156.8 496.9L158.6 494.7L160.7 492.8L161.6 490.1M153.1 504.3L155.0 501.9L157.2 499.7L159.0 497.3L161.1 495.0M162.0 461.2L162.7 459.9L163.3 458.5L163.7 457.1L164.7 456.0M196.4 468.8L198.1 466.2L200.0 463.8L201.5 461.0L202.3 458.0M230.7 510.8L232.2 509.1L233.9 507.7L235.5 506.2L236.9 504.4M201.9 479.0L204.1 476.6L206.0 474.0L207.8 471.2L209.5 468.5M126.9 510.0L127.7 508.3L128.4 506.5L129.0 504.7L129.5 502.8M129.5 472.7L129.8 471.2L130.5 469.7L130.9 468.2L131.3 466.7M221.6 505.1L222.8 503.8L224.0 502.5L225.3 501.3L226.6 500.1M141.5 468.6L142.8 466.3L144.0 463.9L145.1 461.4L145.8 458.8M136.7 540.4L138.0 537.5L138.7 534.5L139.2 531.3L140.0 528.3M200.9 576.2L201.8 574.3L202.3 572.2L203.0 570.2L203.8 568.2M177.8 492.2L179.1 489.7L180.8 487.4L182.7 485.2L184.4 482.9M192.8 541.6L194.6 538.4L196.1 534.9L197.5 531.5L199.6 528.4M215.6 507.7L217.7 504.8L220.2 502.3L222.4 499.5L225.0 497.0M238.2 466.6L239.9 464.9L241.5 463.2L243.1 461.3L244.6 459.5M171.7 532.2L172.9 529.2L174.5 526.5L175.6 523.4L177.8 521.1M147.4 462.4L148.4 459.1L149.6 455.8L151.2 452.7L152.9 449.6M209.2 468.7L211.0 466.3L213.0 464.0L214.5 461.4L216.0 458.8M230.8 500.7L232.1 499.4L233.4 498.1L234.9 497.1L236.3 495.9M177.0 567.5L178.1 564.3L179.2 561.3L179.9 558.0L180.7 554.9M157.6 569.4L158.0 567.5L158.4 565.5L159.3 563.8L159.6 561.9M194.1 498.9L196.5 496.9L198.3 494.3L200.6 492.3L202.7 490.0M138.9 525.6L140.7 522.4L142.0 519.1L143.4 515.7L145.1 512.4M142.2 548.9L142.9 545.8L144.1 542.8L144.9 539.7L145.4 536.5M176.3 475.1L177.3 473.7L178.5 472.4L179.1 470.8L180.0 469.3M164.9 504.7L166.2 503.3L167.3 501.7L168.5 500.4L169.9 499.0M191.8 533.5L192.9 530.5L194.1 527.5L196.2 525.0L198.0 522.3M197.6 505.3L199.0 503.3L200.8 501.7L202.3 499.8L204.0 498.1M220.5 555.5L222.0 552.9L223.2 550.1L224.4 547.4L225.8 544.7M159.2 473.0L161.0 470.2L162.3 467.2L163.6 464.2L165.1 461.2M139.2 536.5L140.7 533.3L142.1 530.1L143.5 526.9L144.7 523.6M224.1 502.8L226.0 501.0L228.0 499.4L229.7 497.5L231.6 495.8M206.9 464.7L208.6 462.2L209.8 459.6L211.4 457.1L212.9 454.6M131.7 554.7L132.7 552.0L133.3 549.2L133.7 546.3L134.3 543.5M126.8 510.8L128.1 508.9L129.1 506.9L130.7 505.1L131.5 503.0M189.1 476.0L191.3 473.5L193.3 470.9L195.2 468.1L197.0 465.4M170.2 479.6L171.4 476.0L172.9 472.6L175.4 469.8L177.0 466.4M197.3 517.0L199.2 514.3L201.1 511.7L202.9 509.0L205.0 506.5M182.3 545.3L182.9 542.3L184.0 539.5L185.4 536.8L186.6 534.0M139.5 466.7L140.4 465.0L141.0 463.3L141.4 461.4L142.1 459.7M187.9 494.1L189.7 491.4L192.2 489.3L194.2 486.8L196.2 484.2M186.0 472.1L188.1 469.3L190.0 466.4L191.8 463.4L192.9 460.1M199.8 509.9L201.6 507.9L203.6 506.1L205.3 504.1L207.4 502.5M135.1 477.3L135.7 475.5L136.4 473.7L137.8 472.3L138.6 470.5M219.2 506.0L220.7 504.8L221.6 503.2L223.0 502.0L224.5 501.0M217.2 571.8L218.1 570.0L219.0 568.3L219.9 566.5L221.1 565.0M227.8 517.1L229.0 515.7L230.3 514.5L231.4 513.1L232.4 511.6M212.4 512.7L213.8 510.7L215.6 508.8L217.0 506.7L218.8 505.0M204.9 499.6L206.8 497.6L208.7 495.6L210.4 493.4L212.4 491.5M126.6 470.5L127.9 468.4L128.5 466.1L129.6 463.8L130.4 461.5M165.3 497.8L166.1 496.2L166.9 494.6L167.9 493.1L169.0 491.7M134.9 462.9L136.1 459.9L137.6 457.0L138.6 454.0L139.3 450.8M144.6 498.3L146.3 495.6L147.7 492.7L149.1 489.8L150.9 487.1M177.2 554.8L178.1 552.9L178.3 550.8L178.6 548.8L179.0 546.7M231.0 481.3L233.8 478.8L236.8 476.6L239.5 474.0L242.2 471.4M173.8 560.2L174.9 557.4L176.6 554.8L177.8 552.1L178.6 549.1M128.6 494.8L129.2 492.7L130.5 491.0L131.1 489.0L131.9 487.0M131.0 490.1L132.4 487.3L134.1 484.6L135.6 481.9L137.1 479.1M170.4 525.6L171.4 523.4L172.6 521.3L174.2 519.6L175.5 517.6M161.5 519.1L162.7 517.1L164.1 515.2L165.3 513.2L166.8 511.3M136.1 464.6L137.5 462.4L138.4 460.0L139.0 457.5L140.0 455.1M183.5 463.9L184.3 462.4L184.9 460.8L185.4 459.2L186.2 457.6M209.5 520.5L211.9 518.3L213.4 515.3L215.5 512.8L217.2 510.0M176.1 524.1L177.0 521.4L178.4 519.0L180.0 516.8L181.6 514.4M209.6 533.9L211.2 531.5L212.8 529.2L214.2 526.7L215.9 524.4M232.2 480.5L234.4 478.8L236.5 477.1L238.0 474.7L239.8 472.6M158.2 565.4L158.7 564.0L159.3 562.6L159.9 561.2L160.1 559.7M154.5 470.7L155.9 467.9L157.0 465.0L158.6 462.3L159.7 459.4M126.7 517.7L128.0 515.9L129.3 514.1L130.5 512.1L131.5 510.1M174.2 493.4L176.2 491.1L178.2 488.8L179.7 486.2L181.6 483.9M173.0 531.5L175.4 528.8L176.8 525.5L178.8 522.5L180.6 519.3M151.0 515.4L152.3 512.7L153.6 510.1L155.5 507.8L157.1 505.3M125.0 471.8L125.7 470.0L125.9 468.0L126.8 466.2L127.4 464.4M150.8 554.0L151.7 550.6L152.8 547.3L154.9 544.4L155.8 541.0M205.5 516.9L207.6 514.5L209.3 511.8L211.3 509.4L213.8 507.4M199.2 499.4L201.5 497.6L204.0 496.0L206.0 493.8L208.1 491.8M233.6 573.3L235.7 570.4L236.7 566.9L238.5 563.9L239.8 560.5M131.4 547.5L132.2 544.3L133.0 541.0L134.6 538.0L135.9 534.8M179.1 566.6L179.6 562.9L181.0 559.5L181.9 555.9L182.6 552.2M165.2 536.6L166.1 535.2L166.6 533.7L167.4 532.2L168.0 530.7M146.5 514.4L147.8 511.7L149.4 509.1L151.3 506.7L152.9 504.1M151.1 487.9L151.8 486.0L153.0 484.4L154.3 482.9L155.1 481.1M125.2 563.6L125.6 560.7L125.6 557.8L125.9 555.0L126.6 552.2M131.0 539.5L131.3 537.9L131.5 536.3L131.8 534.7L132.2 533.1M216.1 574.4L217.8 571.6L219.2 568.6L221.0 565.8L222.5 562.8M196.5 563.0L197.5 560.3L198.6 557.7L199.9 555.1L200.6 552.3M236.5 531.2L238.8 528.6L239.9 525.4L241.5 522.4L244.0 520.1M168.6 462.4L169.0 460.2L170.5 458.5L171.2 456.4L172.2 454.4M202.5 472.6L203.7 470.7L205.0 469.0L206.0 467.0L207.0 465.1M215.4 501.2L218.1 498.7L221.0 496.4L223.6 493.8L226.3 491.2M157.6 566.9L157.8 564.7L158.4 562.6L158.9 560.5L159.7 558.6M130.3 502.4L131.5 500.6L132.2 498.6L133.2 496.7L134.0 494.7M222.8 548.6L223.8 547.3L224.8 546.0L225.8 544.8L226.2 543.2M212.3 479.7L213.8 477.4L215.2 475.0L217.4 473.3L219.5 471.5M181.7 492.8L183.9 489.8L186.2 487.0L188.3 483.9L190.3 480.8M148.0 496.8L149.3 494.3L151.2 492.2L153.4 490.3L154.4 487.6M225.4 569.9L226.3 568.1L227.1 566.2L228.0 564.3L228.8 562.4M134.2 573.1L134.5 571.4L134.6 569.6L135.3 567.9L135.6 566.2M129.8 565.8L129.9 562.5L130.5 559.2L131.7 556.1L132.4 552.8M127.3 523.2L128.7 519.9L130.0 516.6L131.5 513.3L132.6 509.9M160.8 552.2L161.3 549.5L162.4 546.9L163.2 544.2L164.5 541.7M225.4 502.4L227.6 500.0L230.0 497.9L232.9 496.5L235.3 494.3M209.5 577.1L210.8 574.6L212.0 572.0L213.6 569.6L214.8 567.1M194.6 574.0L195.4 571.9L196.3 570.0L197.1 568.0L197.9 566.0M179.8 510.7L181.3 509.0L182.7 507.1L184.2 505.3L185.4 503.3M134.7 464.6L135.7 461.9L136.5 459.2L137.3 456.4L137.9 453.6M202.1 559.5L203.3 556.6L204.7 553.8L206.7 551.4L207.9 548.5M229.4 525.0L230.2 523.6L231.4 522.6L232.6 521.5L233.8 520.4M127.7 565.1L128.3 562.9L128.8 560.6L129.2 558.4L129.9 556.2M193.9 538.8L194.6 537.3L195.5 535.8L196.0 534.1L197.0 532.7M153.1 558.2L153.3 556.2L154.0 554.3L154.9 552.4L155.5 550.5M184.7 545.5L186.1 542.1L187.4 538.8L189.2 535.6L191.3 532.7M155.3 526.4L156.0 524.9L156.6 523.3L157.5 521.9L158.4 520.4M230.7 561.4L231.4 558.0L233.7 555.3L235.6 552.4L237.9 549.8M231.5 485.7L232.6 484.7L233.7 483.7L234.8 482.6L235.7 481.4M177.8 474.6L179.4 472.2L181.0 469.7L182.1 467.0L183.3 464.3M215.2 558.7L215.9 557.1L216.8 555.5L217.6 553.8L218.4 552.2M222.9 541.6L223.9 538.4L225.8 535.7L228.0 533.2L229.4 530.2M215.8 486.6L217.6 485.2L219.3 483.7L220.1 481.6L221.7 479.9M156.2 512.0L158.6 509.5L160.4 506.6L162.8 504.2L164.3 501.0M154.1 533.9L154.6 532.4L154.9 530.7L155.5 529.2L156.2 527.7M188.5 468.8L190.0 466.8L191.4 464.7L192.8 462.6L193.6 460.2M221.3 515.1L223.3 513.7L225.1 512.0L226.7 510.0L228.3 508.1M139.6 515.3L140.4 513.8L141.2 512.4L142.0 511.0L142.8 509.6M218.3 533.1L220.1 530.2L222.0 527.4L224.1 524.6L226.8 522.5M190.3 537.4L191.9 535.0L193.4 532.4L194.3 529.7L196.1 527.4M231.7 530.9L233.2 529.5L234.6 527.9L235.5 526.1L237.1 524.7M146.6 485.3L147.7 484.2L148.5 482.8L149.3 481.6L150.0 480.2M124.6 529.2L124.9 527.1L125.3 525.1L126.1 523.2L126.7 521.3M192.8 495.3L194.8 492.8L197.4 490.9L199.2 488.2L200.6 485.4M162.7 573.8L163.4 571.1L164.6 568.5L165.3 565.8L166.2 563.1M127.4 533.2L128.4 531.4L129.3 529.6L130.3 527.8L131.3 526.0M154.3 504.0L156.6 501.2L158.0 497.9L160.4 495.3L162.4 492.3M230.7 534.6L232.3 532.3L234.2 530.2L235.8 527.9L237.5 525.7M196.9 563.1L198.0 560.2L199.3 557.4L200.2 554.4L201.7 551.7M220.5 525.7L221.9 523.4L223.4 521.2L225.0 519.1L226.5 516.9M186.6 489.0L187.3 487.3L188.5 486.0L189.7 484.7L190.8 483.3M189.1 522.3L190.7 520.4L192.6 518.7L194.2 516.7L195.8 514.8M155.0 485.1L156.2 483.6L157.3 482.0L158.4 480.4L159.6 478.9M192.1 534.9L193.2 532.5L194.3 530.2L195.3 527.8L196.8 525.7M147.7 547.7L148.9 545.2L149.7 542.5L150.0 539.7L150.8 537.0M156.1 505.1L157.4 503.0L158.4 500.7L160.0 498.9L161.9 497.3M236.1 519.6L238.5 516.7L240.9 513.9L243.7 511.3L246.4 508.8M191.0 546.0L192.3 543.4L193.2 540.6L194.5 538.1L195.5 535.3M196.0 525.9L197.6 523.3L199.3 520.8L200.9 518.3L202.3 515.7M172.2 575.6L173.1 573.2L174.2 570.9L174.8 568.4L175.7 566.0M225.3 482.0L227.6 479.9L229.9 477.9L232.1 475.7L234.1 473.3M221.9 461.8L224.3 458.9L226.0 455.7L227.6 452.4L229.2 449.0M141.7 503.1L143.1 501.0L144.3 498.9L145.3 496.6L146.6 494.4M186.6 554.7L187.2 551.9L189.0 549.6L189.9 546.9L190.9 544.3M186.0 563.5L186.4 562.0L186.7 560.4L187.3 558.9L187.9 557.4M149.5 512.8L150.6 510.6L151.8 508.4L152.9 506.2L154.0 504.1M214.6 556.1L215.7 554.4L216.6 552.6L217.4 550.7L218.5 549.0M205.1 512.7L207.0 510.4L209.5 508.6L211.5 506.3L214.0 504.6M173.4 508.5L174.7 506.0L176.3 503.7L177.3 501.1L178.8 498.7M208.5 472.0L210.8 469.1L212.9 466.0L215.1 463.0L216.8 459.7M126.2 481.9L127.3 479.5L128.4 477.1L129.5 474.8L130.5 472.4M129.0 498.3L130.6 496.3L131.8 494.0L133.3 491.8L134.3 489.4M227.9 540.6L228.8 538.8L230.1 537.2L231.6 535.8L233.1 534.4M178.5 484.7L180.1 482.7L181.4 480.4L182.8 478.2L184.1 476.0M150.7 483.2L151.9 480.9L153.0 478.5L154.1 476.1L155.0 473.6M209.4 578.7L210.6 576.8L211.5 574.7L212.3 572.6L213.2 570.5M132.6 537.3L133.2 535.7L133.8 534.1L134.3 532.4L134.9 530.8M153.2 551.7L154.1 549.4L155.2 547.1L156.4 544.9L157.2 542.5M174.2 524.7L176.0 522.2L177.2 519.4L178.9 516.8L181.2 514.7M134.8 476.3L136.0 473.9L137.4 471.7L138.3 469.2L139.9 467.1M172.8 557.4L173.2 553.8L174.6 550.5L175.4 546.9L176.8 543.6M137.1 538.9L138.1 535.4L139.0 532.0L140.0 528.5L141.4 525.2M168.0 552.4L168.2 550.9L168.7 549.4L169.4 548.1L170.1 546.8M152.1 508.7L153.0 506.9L154.0 505.1L155.0 503.3L155.9 501.5M213.2 526.2L214.1 524.7L215.2 523.3L216.2 521.9L217.6 520.9M178.2 548.4L178.8 546.6L179.4 544.9L180.2 543.2L181.0 541.5M125.7 568.3L126.2 564.6L126.8 561.0L127.3 557.4L127.3 553.7M128.1 551.6L128.4 550.0L129.1 548.5L129.5 546.9L129.7 545.3M181.5 555.6L182.2 552.9L183.2 550.2L184.4 547.6L185.6 545.0M183.3 531.5L184.3 529.2L185.4 526.9L186.6 524.6L187.7 522.4M220.0 523.9L222.7 521.7L224.9 519.0L227.3 516.5L229.2 513.6M186.5 490.3L187.5 488.9L188.5 487.5L189.4 486.0L190.3 484.5M192.9 511.8L194.0 510.1L195.6 508.8L197.0 507.3L198.2 505.7M159.0 514.0L160.0 511.7L161.1 509.5L162.5 507.5L163.4 505.2M206.5 575.9L207.1 573.4L208.2 571.2L209.0 568.8L210.4 566.7M171.0 526.9L172.3 524.5L173.7 522.3L175.1 520.0L176.8 517.9M232.6 477.3L235.4 475.2L237.7 472.5L240.0 469.8L242.3 467.1M224.4 469.2L226.0 467.7L227.2 465.9L228.6 464.2L229.5 462.2" fill="none" stroke="#000" stroke-width="0.6" stroke-opacity="0.17" stroke-linecap="round" stroke-linejoin="round"/>
<path d="M142.8 520.1L143.4 518.5L144.3 517.1L145.2 515.6L145.9 514.0M199.1 477.2L200.6 475.7L201.9 474.1L202.8 472.2L203.8 470.4M170.6 571.1L170.8 568.0L171.4 564.9L172.4 562.0L173.6 559.1M185.8 531.3L187.6 528.1L189.4 524.9L191.8 522.2L193.8 519.1M145.9 550.5L146.9 547.8L147.4 544.9L148.3 542.1L149.6 539.5M176.0 502.1L177.8 499.9L179.7 497.8L181.5 495.7L183.2 493.5M182.8 547.6L184.0 545.5L184.8 543.2L185.6 541.0L186.5 538.7M225.9 501.6L228.4 499.2L231.4 497.7L233.8 495.3L236.2 492.8M206.6 478.9L207.9 476.9L209.5 475.1L210.9 473.2L212.4 471.4M168.4 471.5L169.6 468.5L171.6 465.8L172.1 462.6L174.0 459.9M223.7 543.8L226.1 541.4L227.5 538.3L228.9 535.3L231.1 532.7M130.2 503.5L131.2 501.6L132.3 499.6L133.5 497.7L134.5 495.7M171.0 517.8L172.7 514.9L174.5 512.0L176.3 509.1L178.1 506.2M193.4 509.3L195.5 506.3L197.9 503.6L200.0 500.6L203.0 498.6M162.4 489.2L163.6 486.7L164.5 484.2L166.2 482.1L167.7 479.9M205.6 519.0L207.5 516.6L209.3 514.1L211.5 512.0L213.6 509.7M157.3 482.0L158.4 480.2L159.6 478.4L160.2 476.3L161.2 474.4M140.6 471.6L142.0 468.8L143.4 466.0L144.2 463.0L145.4 460.1M212.8 520.3L214.4 518.2L216.2 516.2L218.1 514.3L219.7 512.1M217.6 473.0L219.0 471.0L220.5 469.0L222.4 467.4L224.1 465.6M230.5 578.6L231.7 576.2L232.6 573.6L233.7 571.1L234.9 568.7M196.3 512.8L198.4 510.7L200.4 508.4L202.7 506.4L205.0 504.5M177.5 494.3L179.2 491.5L181.1 488.9L183.1 486.3L185.0 483.7M129.2 464.8L130.7 461.5L131.5 457.9L133.0 454.6L133.8 451.0M200.9 472.9L202.1 470.7L203.3 468.5L204.5 466.4L205.7 464.2M197.8 485.1L199.1 482.8L200.9 480.9L202.6 479.0L204.3 477.0M204.8 480.1L206.7 478.4L208.3 476.4L209.8 474.3L210.9 472.0M233.9 506.3L235.7 504.6L237.4 503.0L239.0 501.2L240.8 499.6M186.4 547.0L187.2 543.7L188.6 540.5L190.6 537.7L192.4 534.8M229.5 533.2L230.8 530.9L232.3 528.8L234.1 526.9L235.9 525.0M213.9 521.4L214.7 520.0L215.5 518.7L216.5 517.4L217.4 516.2M232.0 482.0L233.7 480.0L235.6 478.1L237.4 476.1L239.3 474.3M141.5 465.4L142.5 462.6L143.3 459.7L144.6 457.1L145.4 454.2M174.9 570.0L175.2 567.1L176.2 564.3L177.0 561.5L177.7 558.6M130.2 547.0L130.9 543.8L131.6 540.7L132.5 537.7L133.2 534.6M214.3 533.9L216.1 531.7L217.9 529.4L219.7 527.0L221.3 524.6M126.7 509.3L128.1 506.2L129.5 503.1L131.7 500.5L133.8 497.8M219.4 543.3L220.4 541.6L221.4 539.9L222.5 538.3L223.8 536.8M232.6 464.7L233.7 463.2L234.5 461.5L235.5 460.0L236.7 458.5M220.7 575.1L222.1 571.8L223.6 568.6L225.1 565.4L226.0 562.0M218.2 550.2L219.7 548.0L220.9 545.7L221.8 543.2L223.3 541.1M213.2 529.9L215.1 526.9L218.0 524.6L220.4 522.0L222.6 519.0M125.5 531.5L126.9 529.0L127.8 526.2L128.8 523.5L129.4 520.7M141.6 539.3L142.5 536.9L143.6 534.7L144.2 532.3L145.4 530.1M185.9 498.4L187.0 497.2L187.8 495.7L188.9 494.6L189.7 493.2M129.5 493.7L130.6 491.4L132.3 489.5L133.5 487.3L134.8 485.1M174.3 466.5L174.8 465.0L175.4 463.5L176.0 462.1L176.7 460.7M186.9 522.3L188.1 520.5L189.5 518.8L190.6 516.9L191.9 515.1M189.8 540.1L190.6 538.1L191.4 536.2L192.5 534.3L193.4 532.4M190.8 547.4L191.3 544.2L192.6 541.1L194.6 538.6L196.1 535.6M163.6 492.0L165.4 489.7L167.1 487.4L169.1 485.2L171.0 483.0M166.9 569.3L167.4 566.1L168.3 562.9L169.2 559.7L170.2 556.5M135.0 563.5L136.1 561.6L136.5 559.5L136.6 557.3L137.4 555.2M174.5 574.9L174.7 573.2L175.3 571.6L176.2 570.2L176.7 568.6M161.2 540.6L161.9 539.0L162.6 537.5L163.4 536.0L163.6 534.3M227.9 523.2L229.0 521.9L230.0 520.5L231.2 519.3L232.1 517.8M187.5 480.7L188.8 479.3L189.9 477.9L190.9 476.4L192.3 475.2M127.8 550.2L128.6 548.6L129.2 546.9L129.7 545.2L130.4 543.6M189.7 507.6L191.3 506.0L193.0 504.5L194.3 502.6L196.0 501.0M216.7 469.5L217.8 467.3L219.6 465.6L220.9 463.5L222.1 461.4M175.1 462.2L176.4 459.9L177.6 457.5L178.3 455.0L179.3 452.5M146.8 529.4L147.6 527.4L148.5 525.4L149.6 523.5L150.4 521.4M142.1 494.9L144.2 492.8L146.0 490.5L147.6 488.1L149.4 485.8M130.6 514.4L132.3 511.2L134.3 508.1L135.6 504.6L137.2 501.4M138.7 486.4L140.1 483.9L141.5 481.4L142.7 478.8L143.4 476.0M215.2 561.5L215.9 559.6L217.0 558.0L217.6 556.1L218.3 554.2M186.0 488.1L187.3 486.5L188.6 485.0L189.8 483.3L190.9 481.6M223.4 573.8L224.4 572.3L225.2 570.6L226.1 569.0L226.9 567.4M163.9 497.0L164.8 495.7L165.8 494.3L166.6 492.9L167.6 491.6M148.9 569.7L149.0 566.2L149.7 562.8L150.1 559.3L151.5 556.1M212.0 502.1L214.0 499.7L216.4 497.5L218.4 495.1L220.7 493.0M205.1 490.2L206.9 488.4L208.3 486.2L210.3 484.5L211.8 482.3M202.1 548.0L203.8 545.4L205.0 542.6L206.2 539.8L207.3 537.0M183.8 571.7L184.6 569.6L185.6 567.7L186.2 565.6L187.2 563.7M195.6 460.7L196.4 458.9L197.2 457.1L198.0 455.3L198.6 453.5M135.1 541.9L136.6 538.6L138.0 535.2L138.9 531.6L139.9 528.0M180.5 520.3L182.9 517.4L184.7 514.2L187.1 511.4L188.9 508.1M215.1 578.4L215.9 576.9L216.7 575.4L217.6 574.0L217.9 572.4M148.3 517.8L149.9 514.7L151.2 511.5L153.7 508.9L155.0 505.7M132.7 574.6L132.8 572.4L132.9 570.3L133.2 568.1L133.8 566.0M226.7 554.0L228.9 551.0L230.9 547.9L232.8 544.7L233.7 541.1M205.9 493.6L207.1 492.4L208.4 491.2L209.4 489.8L210.5 488.5M139.3 470.7L140.6 468.0L141.6 465.1L141.7 462.1L142.7 459.2M163.8 523.6L166.1 521.2L167.9 518.4L169.8 515.7L171.1 512.6M161.8 518.6L163.8 515.6L165.8 512.6L167.2 509.2L168.6 505.9M139.4 482.8L140.7 480.6L141.5 478.2L142.6 475.9L143.7 473.6M145.2 529.7L146.6 526.9L148.0 524.1L149.3 521.2L151.1 518.6M160.7 480.6L161.3 479.0L161.7 477.5L162.3 475.9L162.8 474.3M136.8 533.2L137.9 531.1L138.4 528.9L138.9 526.6L139.5 524.4M232.5 476.7L234.4 475.1L236.2 473.4L237.9 471.6L239.8 470.0M163.2 461.4L164.8 458.3L166.4 455.2L167.5 451.8L168.7 448.6M211.3 545.1L212.1 543.5L212.9 541.9L213.7 540.4L214.5 538.8M154.7 513.7L155.8 511.2L156.7 508.6L158.0 506.2L159.8 504.1M146.3 547.6L147.0 545.4L147.9 543.2L148.2 540.9L149.2 538.8M172.7 556.6L173.3 554.1L174.1 551.6L174.5 549.1L175.6 546.8M131.9 514.1L132.8 512.3L134.0 510.6L135.1 508.8L136.4 507.2M126.9 488.6L128.0 486.9L129.3 485.3L130.1 483.3L130.6 481.3M137.5 482.7L138.1 480.5L139.1 478.6L140.3 476.7L140.9 474.6M124.2 463.7L124.9 461.6L125.5 459.4L126.1 457.2L126.8 455.1M223.0 485.3L224.7 483.9L226.5 482.6L228.2 481.2L229.8 479.7M147.6 489.6L149.5 486.3L150.7 482.8L151.9 479.3L154.5 476.6M233.6 535.6L235.0 534.1L236.3 532.6L237.1 530.7L238.4 529.2M237.4 557.0L238.7 555.4L239.7 553.6L240.8 551.9L241.9 550.2M232.8 554.5L234.3 551.7L235.8 548.9L237.7 546.3L239.3 543.6M211.2 524.2L212.2 521.8L213.8 519.7L215.5 517.8L217.0 515.7M220.6 481.2L222.1 479.4L223.6 477.8L225.1 476.0L226.6 474.3M234.0 557.1L235.4 554.9L236.7 552.7L238.1 550.5L239.2 548.2M133.1 510.9L134.6 508.6L136.2 506.3L137.1 503.6L138.4 501.1M169.2 577.6L169.8 575.6L170.3 573.6L171.2 571.7L171.6 569.7M142.2 556.7L143.5 553.5L144.9 550.3L146.2 547.1L147.1 543.7M213.4 545.6L214.5 543.0L216.1 540.7L217.7 538.5L218.7 535.9M231.3 468.6L233.0 466.3L234.5 464.0L236.6 462.2L238.4 460.1M212.3 544.7L213.0 542.6L214.2 540.7L215.7 539.0L217.0 537.2M203.8 515.2L205.6 512.0L207.5 508.9L210.0 506.3L212.8 503.9M155.9 519.4L158.2 517.1L159.8 514.3L162.0 512.0L163.0 509.0M206.9 547.6L207.4 546.0L208.3 544.5L209.4 543.2L210.5 541.8M165.2 489.2L166.0 487.8L166.9 486.3L168.1 485.1L168.9 483.7M171.8 479.1L172.6 477.7L173.2 476.2L173.9 474.7L174.7 473.4M169.6 567.5L170.1 566.0L170.8 564.6L171.2 563.0L171.9 561.5M172.1 495.5L174.3 493.1L176.4 490.7L178.3 488.1L179.9 485.3M206.4 502.4L208.5 500.5L210.6 498.5L212.2 496.1L214.1 493.8M175.7 464.9L177.1 462.6L178.1 460.0L179.4 457.6L180.9 455.4M149.0 472.6L149.4 470.9L149.9 469.3L150.6 467.8L151.0 466.2M223.1 560.7L223.6 558.6L224.9 557.0L226.1 555.3L227.0 553.4M194.9 500.9L196.0 499.6L197.2 498.4L198.1 497.0L199.1 495.6M194.9 568.1L195.4 566.7L196.0 565.3L196.3 563.9L197.1 562.6M176.2 554.9L176.6 553.0L177.5 551.4L178.1 549.5L179.1 547.9M191.4 537.9L191.8 536.4L192.9 535.3L193.5 533.9L194.4 532.6M237.5 530.2L239.0 527.5L241.1 525.2L243.0 522.8L245.2 520.7M155.8 487.3L157.6 484.8L159.3 482.3L159.8 479.3L161.4 476.6M212.4 539.5L214.1 536.8L216.1 534.4L218.3 532.1L220.1 529.5M125.9 474.1L126.5 472.5L127.3 470.9L128.0 469.3L128.7 467.6M136.2 572.7L137.1 569.1L137.7 565.4L138.7 561.8L140.2 558.5M124.0 478.1L125.9 475.8L126.9 473.0L128.2 470.3L129.0 467.5M206.9 571.1L208.8 568.2L210.1 564.9L211.6 561.7L212.4 558.3M171.0 528.2L172.7 525.0L174.4 521.9L175.6 518.5L177.8 515.7M204.0 517.5L206.3 514.7L208.4 511.7L210.5 508.9L212.3 505.7M123.0 571.2L123.4 568.7L123.7 566.3L123.9 563.8L124.5 561.4M147.3 538.2L148.0 535.0L148.5 531.7L150.0 528.8L151.6 525.9M168.5 554.1L170.2 551.4L171.2 548.4L171.6 545.3L172.7 542.3M216.6 521.9L218.9 519.9L220.4 517.3L222.4 515.0L224.5 512.9M203.8 556.8L204.8 555.2L205.2 553.3L206.1 551.6L207.0 549.9M198.1 534.1L199.2 532.6L200.1 530.9L201.3 529.5L201.9 527.8M136.1 543.3L137.2 540.7L137.8 538.1L138.5 535.4L139.6 532.9M219.9 498.3L222.9 496.5L225.6 494.1L228.5 492.2L231.1 489.7M231.8 498.5L233.8 496.5L235.9 494.6L238.1 492.8L240.0 490.7M214.7 464.7L215.8 463.2L217.1 461.9L218.2 460.3L219.2 458.8M165.8 506.2L167.9 503.5L169.7 500.6L171.7 497.8L173.4 494.9M210.6 538.4L211.3 536.9L212.2 535.5L212.9 534.0L213.9 532.6M201.9 508.0L203.8 506.1L205.2 503.9L207.1 502.0L209.0 500.1M153.5 572.8L154.6 570.7L154.7 568.4L155.1 566.0L155.5 563.7M208.2 519.8L209.9 516.6L212.3 513.8L214.5 510.9L216.5 507.9M142.8 527.6L143.6 525.3L144.2 522.9L145.4 520.7L146.7 518.7M151.8 574.1L151.6 571.5L152.5 569.0L153.2 566.5L153.2 563.9M180.3 475.5L181.7 473.6L183.1 471.7L184.0 469.6L185.3 467.6M235.1 523.4L236.4 522.1L237.9 521.0L239.0 519.5L240.3 518.1M179.2 508.9L180.9 506.4L182.7 504.0L184.4 501.5L186.3 499.1M189.4 515.2L191.8 513.0L193.7 510.4L195.4 507.7L197.3 505.1M135.3 546.8L135.5 544.8L136.2 543.0L136.7 541.2L137.7 539.5M185.2 575.4L185.6 573.9L186.2 572.4L186.4 570.9L186.8 569.4M190.4 571.5L190.9 569.0L192.1 566.9L192.7 564.4L193.5 562.1M228.5 487.1L229.4 485.7L230.5 484.4L231.8 483.4L232.7 482.0M192.7 520.9L194.0 519.2L195.5 517.6L196.9 516.0L198.0 514.2M235.5 555.0L236.5 552.5L237.7 550.0L239.5 548.0L240.7 545.5M142.8 567.0L143.0 564.0L144.1 561.2L144.2 558.1L145.2 555.3M180.4 535.0L182.4 532.0L183.9 528.8L185.2 525.5L187.5 522.7M199.2 471.7L200.6 469.5L202.4 467.6L204.0 465.4L205.6 463.3M151.3 493.6L153.0 491.5L154.2 489.0L155.4 486.5L156.5 483.9M167.3 511.0L169.1 508.7L171.3 506.6L173.5 504.7L175.0 502.1M129.7 568.6L130.3 566.7L130.8 564.8L131.1 562.8L131.6 560.9M192.4 523.9L193.5 521.4L195.1 519.2L196.7 517.1L198.0 514.7M203.7 558.2L204.6 555.8L205.5 553.4L206.8 551.2L208.0 549.0M200.8 488.2L203.0 485.3L205.7 482.9L207.1 479.5L209.6 476.8M139.9 490.2L141.2 487.6L142.9 485.2L144.8 482.9L146.7 480.7M173.2 528.8L174.3 527.1L175.3 525.3L176.3 523.5L177.3 521.7M183.5 498.9L185.2 495.6L187.7 493.0L190.2 490.4L192.5 487.6M236.0 504.2L237.2 503.1L238.5 502.1L239.5 501.0L240.7 499.9M157.4 516.5L158.8 514.4L160.5 512.5L161.5 510.1L162.8 507.9M207.6 514.0L209.0 512.6L210.2 511.1L211.5 509.5L213.0 508.2M169.8 485.4L171.6 482.5L173.9 479.9L175.6 476.9L177.4 474.0M172.0 476.2L173.3 473.8L174.1 471.2L175.6 468.9L176.8 466.5M175.1 539.2L176.4 537.2L177.3 535.1L178.4 533.0L179.4 530.9M167.1 542.8L167.5 539.4L168.9 536.3L170.3 533.2L171.4 530.0M204.0 521.5L205.3 520.3L206.1 518.8L207.3 517.5L208.4 516.1M211.9 465.0L213.2 462.8L214.9 460.8L216.0 458.4L217.6 456.3M172.3 550.1L173.2 547.3L174.5 544.6L175.6 541.9L177.1 539.3M171.2 520.0L173.2 517.5L174.9 514.8L176.7 512.1L178.9 509.7M123.0 535.5L123.3 533.9L123.6 532.4L123.7 530.8L124.6 529.5M158.2 462.5L158.9 460.9L159.9 459.5L160.5 457.9L161.0 456.2M224.1 479.8L225.2 478.1L226.5 476.5L227.8 475.0L229.0 473.3M226.3 535.1L227.8 532.5L229.5 530.0L230.7 527.2L232.4 524.6M123.9 499.5L125.0 497.6L126.4 495.9L127.4 493.9L128.3 492.0M203.5 564.2L204.4 562.8L205.0 561.3L205.8 559.9L206.3 558.3M180.6 508.5L182.6 506.6L184.1 504.2L185.8 502.1L187.2 499.7M224.2 551.3L225.3 549.0L226.8 546.8L228.5 544.8L229.9 542.5M130.4 522.0L131.2 519.7L132.2 517.4L133.5 515.3L134.5 513.1M217.8 491.2L219.8 488.3L222.1 485.7L223.8 482.6L226.4 480.3M187.1 523.6L188.2 521.6L189.6 519.7L190.8 517.7L192.2 515.9M131.1 503.6L131.8 502.3L132.5 500.9L133.4 499.6L134.1 498.2M153.5 525.4L154.5 523.5L155.3 521.5L156.4 519.6L157.4 517.7" fill="none" stroke="#fff" stroke-width="0.7" stroke-opacity="0.22" stroke-linecap="round" stroke-linejoin="round"/>
<circle cx="133.2" cy="560.9" r="0.59" fill="#1a1a1a" fill-opacity="0.7"/>
<circle cx="155.0" cy="535.0" r="0.48" fill="#1a1a1a" fill-opacity="0.7"/>
<circle cx="180.8" cy="495.2" r="0.54" fill="#1a1a1a" fill-opacity="0.7"/>
<circle cx="195.6" cy="557.0" r="0.44" fill="#1a1a1a" fill-opacity="0.7"/>
<circle cx="187.3" cy="526.8" r="0.66" fill="#1a1a1a" fill-opacity="0.7"/>
<circle cx="177.8" cy="559.0" r="0.67" fill="#1a1a1a" fill-opacity="0.7"/>
<circle cx="170.2" cy="509.4" r="0.69" fill="#1a1a1a" fill-opacity="0.7"/>
<circle cx="188.3" cy="522.9" r="0.62" fill="#1a1a1a" fill-opacity="0.7"/>
<circle cx="190.9" cy="521.5" r="0.58" fill="#1a1a1a" fill-opacity="0.7"/>
<circle cx="154.8" cy="506.4" r="0.35" fill="#1a1a1a" fill-opacity="0.7"/>
<circle cx="203.2" cy="554.6" r="0.61" fill="#1a1a1a" fill-opacity="0.7"/>
<circle cx="229.6" cy="547.2" r="0.39" fill="#1a1a1a" fill-opacity="0.7"/>
<circle cx="161.1" cy="565.2" r="0.39" fill="#1a1a1a" fill-opacity="0.7"/>
<circle cx="219.7" cy="551.6" r="0.40" fill="#1a1a1a" fill-opacity="0.7"/>
<circle cx="149.3" cy="544.6" r="0.58" fill="#1a1a1a" fill-opacity="0.7"/>
<circle cx="130.4" cy="522.8" r="0.42" fill="#1a1a1a" fill-opacity="0.7"/>
<circle cx="186.3" cy="549.3" r="1.3" fill="#111"/>
<circle cx="128.3" cy="500.6" r="1.0" fill="#111"/>
<circle cx="149.9" cy="483.7" r="0.8" fill="#222"/>
<circle cx="173.5" cy="483.7" r="0.8" fill="#222"/>
<circle cx="159.4" cy="497.0" r="0.9" fill="#222"/>
<circle cx="214.3" cy="553.0" r="0.8" fill="#222"/>
<circle cx="218.4" cy="571.5" r="0.8" fill="#222"/>
<circle cx="150.5" cy="500.0" r="0.6" fill="#222"/>
<circle cx="196" cy="508" r="0.6" fill="#222"/>
</g>
<g clip-path="url(#ci3)">
<rect x="235.6" y="465.5" width="106.80" height="108.10" fill="#dcdce8"/>
<rect x="235.6" y="465.5" width="106.80" height="108.10" filter="url(#nz)" opacity="0.15"/>
<path d="M331.5 524.4L331.3 522.9L331.2 521.3L331.4 519.8L331.1 518.3M315.1 461.4L316.3 458.0L318.1 454.9L319.4 451.5L320.2 448.0M244.7 490.1L246.5 487.5L248.2 484.9L250.1 482.3L251.5 479.5M249.0 537.9L250.4 536.0L251.4 534.0L252.9 532.3L253.8 530.2M252.0 525.7L253.8 523.9L255.6 522.2L256.8 520.0L258.5 518.1M238.2 573.4L240.2 570.2L242.0 567.0L243.7 563.7L245.3 560.4M286.5 486.9L287.6 485.4L288.3 483.7L289.2 482.1L289.8 480.4M278.1 526.0L278.8 524.0L279.5 521.9L280.4 519.9L281.1 517.9M275.8 470.8L276.7 469.5L277.6 468.2L278.4 466.8L279.4 465.6M334.2 466.1L335.2 462.6L336.0 458.9L336.2 455.2L336.9 451.6M302.5 503.1L303.1 501.7L303.7 500.3L303.9 498.8L303.8 497.2M260.8 551.9L261.6 549.8L262.6 547.8L263.1 545.6L264.5 543.7M260.6 511.2L262.0 507.9L264.2 505.2L265.9 502.0L267.8 499.1M315.3 538.2L315.3 535.9L315.2 533.5L315.4 531.2L314.9 528.8M314.1 517.0L314.8 513.9L315.0 510.8L315.5 507.6L315.4 504.4M317.7 543.3L317.5 540.6L317.0 538.1L317.1 535.4L317.2 532.8M319.2 480.5L319.6 478.0L320.1 475.5L320.8 473.1L321.1 470.5M273.6 543.6L274.6 541.0L275.8 538.5L276.2 535.7L277.5 533.3M347.4 545.9L347.2 542.8L346.6 539.8L346.8 536.8L346.9 533.7M329.7 463.4L329.6 460.8L330.4 458.2L330.7 455.6L331.1 452.9M238.7 516.9L239.8 514.4L241.4 512.1L243.1 510.0L244.6 507.7M328.1 495.2L328.4 493.3L328.9 491.5L329.1 489.5L328.9 487.6M269.7 504.6L272.3 502.2L273.7 499.0L275.9 496.4L277.3 493.2M244.9 572.4L245.8 570.7L246.5 569.0L247.7 567.6L248.7 566.0M261.0 566.0L261.6 564.2L262.1 562.3L263.0 560.6L263.8 558.9M267.3 552.6L268.8 549.7L269.9 546.7L271.2 543.7L272.8 540.9M268.6 485.5L270.8 483.1L272.7 480.5L274.7 478.0L276.7 475.6M265.3 515.7L267.2 512.7L268.8 509.4L271.0 506.6L273.0 503.5M253.2 536.2L254.9 533.5L256.3 530.6L258.1 527.9L259.5 525.0M342.0 548.5L341.2 545.3L340.9 542.1L339.9 538.9L339.9 535.6M283.0 573.4L282.8 571.2L282.9 569.0L282.7 566.8L282.7 564.6M330.2 482.6L330.0 479.5L330.1 476.4L330.9 473.4L331.7 470.4M346.7 546.6L347.1 543.9L347.3 541.1L347.4 538.3L347.5 535.5M275.0 504.4L276.4 502.4L277.7 500.4L279.3 498.5L280.4 496.3M258.4 514.2L259.6 512.2L260.9 510.3L262.2 508.4L262.9 506.2M304.6 574.4L303.8 571.2L303.5 567.9L303.1 564.6L302.5 561.3M240.1 514.5L241.9 511.6L243.6 508.8L245.4 506.0L247.1 503.1M291.8 482.1L292.9 480.2L294.2 478.5L295.1 476.5L295.7 474.4M290.3 468.2L291.2 466.9L292.1 465.6L293.0 464.3L294.0 463.1M248.8 561.6L249.5 559.4L250.7 557.4L252.0 555.5L253.5 553.7M236.0 518.4L237.6 515.1L239.3 512.0L240.9 508.8L242.4 505.5M289.3 536.3L290.7 533.5L290.7 530.4L292.1 527.6L292.6 524.5M310.9 555.6L310.9 553.6L311.2 551.7L311.0 549.8L310.9 547.8M318.2 476.9L318.8 474.9L319.2 472.8L319.8 470.8L320.1 468.7M323.9 506.1L323.7 503.4L323.2 500.6L323.4 497.9L324.0 495.2M250.6 490.0L252.5 487.4L254.5 484.8L256.5 482.3L258.6 479.7M251.7 503.7L253.3 500.4L255.6 497.5L257.9 494.6L260.1 491.6M243.6 534.3L244.7 532.8L245.8 531.4L246.9 529.8L247.7 528.2M265.3 498.3L266.3 496.4L267.4 494.6L268.7 492.9L270.0 491.2M304.4 494.2L305.3 491.3L306.3 488.5L307.8 485.9L308.9 483.1M293.9 463.4L295.0 461.4L296.1 459.4L297.3 457.4L298.5 455.5M292.6 529.0L293.3 527.2L293.7 525.3L294.4 523.5L295.1 521.7M234.5 541.6L236.4 538.8L238.2 536.0L240.7 533.7L242.8 531.1M330.1 492.9L330.2 489.4L330.0 485.8L330.2 482.2L330.3 478.6M269.1 485.8L270.2 484.1L271.3 482.5L272.6 481.0L273.7 479.4M310.9 502.6L310.9 499.1L311.4 495.5L312.1 492.0L312.2 488.5M283.8 481.6L285.4 478.6L286.9 475.7L289.0 473.2L290.7 470.4M317.8 480.4L318.1 478.1L318.4 475.9L319.7 473.9L320.2 471.7M306.6 546.0L306.6 543.9L306.0 541.9L305.7 539.8L305.8 537.7M307.6 490.5L308.2 489.0L308.8 487.5L309.0 485.9L309.1 484.3M262.5 480.9L263.9 479.0L265.5 477.0L266.5 474.8L267.9 472.8M243.5 481.6L244.5 479.2L245.5 476.9L246.4 474.5L247.2 472.1M343.7 573.8L344.5 571.0L345.2 568.1L345.6 565.3L346.3 562.4M240.0 542.7L241.7 540.3L243.6 538.0L245.7 535.8L247.4 533.4M312.6 490.1L313.3 486.6L313.6 483.0L314.8 479.5L315.9 476.1M234.1 485.9L235.4 482.9L236.7 480.0L237.3 476.8L239.2 474.1M250.4 510.3L252.3 508.3L253.9 506.1L255.6 504.1L257.3 501.9M268.9 578.9L269.3 576.4L270.1 574.0L270.5 571.6L271.3 569.2M268.1 542.8L269.1 540.7L270.1 538.7L271.2 536.6L271.9 534.4M262.8 561.3L264.1 557.8L265.4 554.4L267.2 551.2L268.1 547.6M233.2 495.1L234.3 491.9L235.7 488.8L237.2 485.8L238.5 482.7M252.3 543.1L254.3 540.0L256.2 536.8L258.5 533.8L260.5 530.7M308.9 574.4L308.6 572.7L308.1 570.9L308.4 569.2L308.4 567.5M267.8 505.3L269.2 502.3L270.9 499.5L273.1 497.1L275.1 494.5M248.6 558.4L250.0 555.5L251.3 552.5L253.6 550.2L255.2 547.4M314.8 503.6L315.0 502.1L315.2 500.6L315.6 499.1L315.8 497.6M347.1 513.7L347.1 511.7L347.0 509.7L346.7 507.8L346.7 505.8M262.6 564.9L264.3 561.5L265.6 558.0L266.9 554.5L268.1 550.9M285.2 520.2L286.0 518.1L286.6 516.0L287.6 514.0L288.0 511.9M304.7 470.1L305.6 468.6L305.8 466.8L306.6 465.2L307.6 463.8M319.7 563.7L319.6 561.9L319.5 560.1L319.3 558.3L319.0 556.6M312.7 480.6L313.4 477.7L314.6 475.0L314.7 472.1L315.1 469.2M253.6 553.6L254.5 552.3L255.5 551.0L256.6 549.8L257.5 548.5M335.0 487.0L334.3 484.0L333.5 481.0L333.2 477.9L333.3 474.9M333.8 492.6L333.4 489.1L333.7 485.5L334.0 482.0L333.4 478.5M252.7 538.9L254.4 535.6L256.7 532.7L258.4 529.3L259.9 525.9M276.8 506.0L277.6 504.3L278.5 502.6L279.5 501.0L280.4 499.3M319.9 480.0L320.7 476.7L321.0 473.2L321.9 469.9L322.8 466.6M255.5 576.7L256.8 573.6L258.0 570.6L258.9 567.4L260.1 564.3M295.7 560.4L296.4 557.1L297.3 553.9L296.9 550.5L297.1 547.1M248.8 489.3L249.8 487.6L251.0 486.1L252.0 484.5L253.1 482.9M244.1 469.3L245.0 465.8L246.5 462.6L248.5 459.7L250.6 456.8M232.7 553.7L233.6 552.4L234.6 551.2L235.3 549.8L236.3 548.5M297.8 544.0L297.9 542.3L298.1 540.7L298.1 539.1L298.2 537.4M243.8 476.3L244.7 474.9L245.5 473.5L246.4 472.1L247.0 470.6M254.3 533.2L255.6 531.0L257.5 529.2L258.9 527.0L260.6 525.0M236.5 489.7L237.3 486.2L238.8 482.9L239.9 479.5L241.2 476.2M272.6 521.2L273.6 519.3L274.7 517.3L275.6 515.4L276.8 513.5M287.1 523.7L288.8 520.6L289.3 517.1L290.1 513.6L291.4 510.4M330.2 475.2L330.8 472.9L331.2 470.6L331.4 468.2L331.0 465.9M252.9 559.9L254.1 557.1L255.5 554.3L257.1 551.7L258.2 548.9M341.7 570.4L341.7 568.1L341.9 565.7L342.6 563.5L342.5 561.2M278.0 504.5L278.9 502.5L279.7 500.5L280.7 498.4L281.6 496.4M309.6 461.8L310.5 459.4L311.1 456.9L312.3 454.6L313.2 452.2M339.4 575.5L339.9 572.7L340.0 569.8L340.4 566.9L340.9 564.1M293.5 566.6L294.0 564.4L293.8 562.1L293.9 559.8L294.0 557.5M347.8 520.1L347.8 516.9L347.4 513.7L347.9 510.5L347.8 507.2M340.0 508.3L340.6 505.3L340.4 502.3L339.4 499.5L338.5 496.7M311.6 503.6L311.4 501.7L311.7 499.8L311.7 497.9L311.9 496.0M256.9 478.5L257.9 476.7L259.2 475.1L260.4 473.5L261.4 471.7M257.9 548.6L259.7 545.5L261.7 542.5L263.4 539.3L265.2 536.2M242.0 526.2L243.2 524.6L244.7 523.2L245.6 521.3L246.8 519.6M307.8 548.8L307.9 545.2L307.7 541.7L307.6 538.1L307.5 534.5M245.1 491.3L246.1 489.8L247.1 488.3L248.1 486.8L248.7 485.1M289.8 526.0L290.5 522.9L291.3 519.9L292.0 516.7L293.0 513.7M286.2 576.6L286.1 574.6L286.4 572.7L286.4 570.8L286.3 568.8M277.3 520.0L279.6 517.2L281.4 514.1L282.1 510.6L283.4 507.3M276.8 537.9L277.4 536.5L278.2 535.1L278.6 533.6L279.4 532.3M346.0 527.3L345.6 524.3L345.4 521.3L345.5 518.3L345.3 515.3M234.0 511.3L235.2 509.2L236.6 507.3L238.3 505.5L239.8 503.5M292.0 494.9L292.9 492.4L293.9 489.8L295.2 487.4L296.1 484.8M339.0 551.6L339.3 548.6L339.7 545.5L340.3 542.5L340.2 539.5M236.3 494.6L236.8 493.2L237.1 491.7L237.6 490.3L238.0 488.8M294.5 547.3L294.8 544.6L294.9 541.9L294.7 539.2L295.1 536.5M239.2 527.5L241.7 524.9L244.0 522.2L245.8 519.2L247.1 515.8M344.1 536.4L343.7 533.6L343.6 530.7L343.2 527.9L342.9 525.1M324.5 525.6L323.8 523.2L323.6 520.8L323.8 518.3L323.2 515.9M314.0 490.0L314.3 488.5L314.7 487.0L314.9 485.5L315.2 484.1M286.5 550.4L287.1 548.0L287.3 545.5L287.5 543.0L288.0 540.6M246.5 529.3L247.6 527.9L248.7 526.6L249.7 525.1L250.2 523.4M256.6 489.5L258.0 486.1L259.7 482.9L262.2 480.2L264.3 477.2M260.1 577.0L262.2 574.2L263.3 570.9L264.3 567.5L265.2 564.2M286.6 496.7L288.0 493.8L289.6 491.0L291.3 488.2L292.6 485.2M251.5 543.7L252.4 542.1L253.2 540.6L254.5 539.3L255.7 538.0M312.2 467.7L312.9 464.3L313.6 460.8L314.9 457.5L316.0 454.2M267.9 481.5L270.2 479.0L271.9 476.2L273.4 473.2L274.4 470.1M292.0 513.1L292.8 511.2L293.5 509.1L294.4 507.2L295.5 505.4M234.3 484.5L235.3 482.0L236.5 479.6L237.9 477.3L238.9 474.8M239.9 495.3L240.7 493.7L241.3 492.1L242.1 490.6L242.9 489.0M297.3 501.5L298.6 498.2L300.1 495.0L301.3 491.7L302.4 488.3M288.5 518.4L289.4 516.4L290.3 514.5L291.1 512.5L291.8 510.5M264.6 505.7L265.7 504.0L266.7 502.1L267.6 500.3L268.6 498.4M314.2 571.2L313.9 568.4L313.2 565.7L313.5 563.0L313.6 560.2M293.0 465.8L293.8 462.7L295.5 460.0L296.9 457.1L298.7 454.6M335.8 570.7L335.6 567.5L335.9 564.3L335.9 561.0L335.2 557.9M284.7 544.0L285.1 541.3L285.6 538.6L286.3 535.9L287.2 533.3M346.1 464.1L346.2 462.2L346.6 460.2L346.5 458.2L346.3 456.2M243.7 540.6L245.2 537.8L246.6 534.9L248.3 532.3L250.1 529.6M324.1 564.0L323.5 562.2L323.8 560.3L324.1 558.5L323.9 556.6M329.7 479.7L330.0 476.2L330.0 472.7L331.0 469.4L330.9 465.9M338.2 567.2L338.5 565.5L338.9 563.8L339.1 562.1L339.3 560.4M323.4 559.2L322.8 556.8L322.8 554.4L323.1 552.0L322.8 549.6M271.7 489.5L272.6 487.7L273.5 486.0L274.6 484.5L276.0 483.1M301.8 528.7L302.0 526.0L302.4 523.4L302.3 520.7L302.5 518.0M334.9 576.0L335.5 573.1L336.2 570.3L335.7 567.4L336.2 564.5M341.5 471.7L341.7 470.2L341.8 468.5L341.5 466.9L341.6 465.3M269.1 531.1L270.0 529.7L271.1 528.3L271.9 526.8L272.8 525.4M307.0 577.2L307.2 573.6L306.5 570.1L306.4 566.5L306.1 562.9M299.2 524.0L300.3 520.8L301.0 517.4L302.2 514.3L303.1 511.0M241.6 518.6L244.0 516.3L245.7 513.6L247.6 510.9L249.1 508.1M305.8 525.0L305.7 522.4L305.8 519.8L305.7 517.2L306.4 514.7M306.7 576.3L306.5 572.7L306.0 569.1L305.2 565.6L304.9 562.1M323.5 568.6L323.8 566.6L323.8 564.7L323.9 562.8L323.7 560.8M301.4 506.6L301.7 504.3L302.0 501.9L302.8 499.7L303.3 497.4M288.9 514.3L289.3 510.6L290.5 507.1L292.0 503.7L293.4 500.3M321.3 474.3L321.7 471.7L322.2 469.1L322.3 466.5L322.7 463.9M271.9 524.8L273.1 522.7L274.4 520.7L275.8 518.8L276.8 516.6M294.4 556.2L294.5 552.8L294.3 549.5L294.2 546.1L294.4 542.7M238.7 570.3L239.4 568.8L240.5 567.5L241.3 566.0L242.5 564.9M233.7 478.8L234.1 476.3L234.5 473.8L235.6 471.6L236.0 469.1M252.9 578.2L253.3 576.7L254.0 575.2L254.8 573.8L255.4 572.4M347.3 575.7L348.2 573.6L348.7 571.4L349.6 569.3L350.1 567.1M255.1 493.9L256.9 491.4L258.9 489.0L261.0 486.6L262.7 484.1M266.7 474.5L267.6 473.1L268.6 471.7L269.7 470.3L270.6 468.9M274.1 468.6L276.1 465.9L278.1 463.3L279.5 460.3L281.9 458.0M338.4 516.2L338.8 513.4L338.9 510.6L338.7 507.8L338.2 505.1M329.3 480.0L329.4 477.4L330.0 474.9L330.2 472.3L330.8 469.8M261.0 462.9L262.0 461.5L262.7 459.8L263.3 458.2L264.1 456.7M261.0 483.3L262.4 481.3L263.3 479.1L264.3 476.9L265.8 475.0M261.0 573.1L262.1 570.3L262.8 567.5L263.3 564.6L264.1 561.8M293.4 550.9L293.6 548.8L293.5 546.7L293.6 544.6L293.8 542.5M278.3 565.8L278.7 564.2L279.2 562.8L279.3 561.2L279.3 559.6M311.4 546.1L311.5 543.3L311.7 540.4L311.6 537.6L311.5 534.7M290.4 576.2L290.4 573.7L290.0 571.2L290.4 568.6L290.5 566.1M346.6 538.3L347.0 536.2L346.8 534.0L347.2 531.9L347.0 529.7M299.3 516.3L299.6 513.7L300.8 511.2L302.0 508.8L303.2 506.4M270.8 513.0L272.2 510.5L274.0 508.3L276.0 506.3L277.7 503.9M243.5 564.2L245.5 561.4L246.7 558.2L248.7 555.4L250.9 552.8M238.4 549.2L240.4 546.5L242.6 544.1L244.8 541.7L246.9 539.2M312.7 468.2L313.9 465.5L314.7 462.8L315.9 460.2L316.7 457.4M233.1 471.0L234.2 468.0L235.6 465.1L236.3 462.0L237.1 458.9M326.6 499.8L326.7 498.0L326.7 496.2L326.5 494.4L326.6 492.6M299.2 470.7L300.1 469.4L300.6 468.0L301.3 466.7L301.6 465.2M300.6 548.6L300.7 546.6L301.0 544.6L301.7 542.8L301.7 540.8M258.3 536.0L259.3 534.1L260.6 532.4L261.9 530.7L263.0 528.9M285.4 471.3L287.8 468.9L290.0 466.3L291.9 463.4L293.9 460.7M236.1 502.9L237.6 499.5L239.5 496.4L241.2 493.2L242.6 489.8M319.6 575.3L320.1 571.9L320.1 568.4L320.0 565.0L319.1 561.7M298.8 473.7L299.8 470.9L301.0 468.1L302.4 465.5L303.6 462.7M275.1 535.7L277.2 532.9L278.5 529.6L279.8 526.4L281.6 523.3" fill="none" stroke="#000" stroke-width="0.6" stroke-opacity="0.1" stroke-linecap="round" stroke-linejoin="round"/>
<path d="M291.9 514.9L292.1 513.2L292.9 511.7L293.2 510.1L293.9 508.6M334.7 521.2L334.5 517.7L334.2 514.1L333.0 510.8L332.1 507.3M266.8 503.4L268.0 502.0L268.9 500.3L269.7 498.7L270.6 497.1M335.4 521.5L334.9 518.9L334.8 516.1L335.0 513.4L334.7 510.7M288.3 471.1L290.2 468.8L291.9 466.4L293.5 464.0L295.3 461.7M256.4 487.0L257.9 485.0L259.4 483.1L260.8 481.0L262.1 478.8M329.5 509.1L329.4 507.1L329.0 505.2L328.9 503.2L328.9 501.2M251.4 571.2L252.2 568.7L253.5 566.5L254.8 564.2L256.1 561.9M331.3 535.0L331.3 532.8L330.9 530.6L330.3 528.5L330.2 526.3M330.1 493.6L330.1 489.9L330.5 486.2L330.0 482.6L330.0 478.9M293.7 515.7L294.6 512.6L295.9 509.6L296.4 506.4L296.7 503.1M260.3 502.4L261.8 500.3L263.5 498.4L265.1 496.5L266.5 494.3M327.7 565.5L327.5 562.9L327.5 560.3L326.8 557.8L326.5 555.2M275.2 490.6L277.3 488.0L279.5 485.4L281.4 482.6L282.8 479.6M264.8 531.2L265.7 529.1L266.5 527.0L267.7 525.1L268.4 523.0M245.1 492.4L246.1 489.5L247.1 486.7L248.5 484.0L250.0 481.5M239.2 466.3L240.0 463.7L240.9 461.1L241.8 458.6L242.6 455.9M271.3 552.0L272.4 549.2L274.2 546.8L274.6 543.7L275.8 541.0M279.9 536.9L281.5 533.6L282.9 530.2L283.1 526.6L283.7 523.0M300.8 491.4L301.3 489.7L301.9 487.9L302.2 486.2L303.2 484.7M251.9 484.7L252.8 481.8L254.3 479.2L255.6 476.5L257.6 474.3M279.0 577.9L279.4 574.4L280.1 570.9L280.0 567.3L280.5 563.8M299.7 542.1L299.5 540.2L299.3 538.4L299.3 536.6L299.5 534.8M260.1 532.2L261.1 530.8L262.1 529.3L262.9 527.8L263.6 526.1M294.1 478.0L295.8 476.5L297.2 474.7L297.8 472.5L299.0 470.5M259.3 493.1L260.2 491.5L261.4 490.1L262.3 488.5L263.3 487.0M245.6 492.7L247.7 490.2L250.1 488.1L251.9 485.4L253.4 482.6M230.9 557.9L231.8 556.5L232.5 555.1L233.2 553.7L234.2 552.4M232.6 549.1L234.8 546.5L236.8 543.8L238.9 541.1L240.6 538.2M247.5 555.5L249.7 552.5L251.7 549.4L253.7 546.2L255.7 543.1M244.4 499.3L246.3 496.2L248.0 492.9L249.5 489.6L251.7 486.6M249.0 467.3L249.8 465.6L250.7 463.8L252.0 462.4L252.8 460.7M285.7 511.7L287.0 509.3L287.8 506.6L289.5 504.5L290.2 501.8M263.0 528.8L264.5 525.5L267.3 523.2L268.6 519.8L270.4 516.6M241.8 507.2L243.5 504.8L245.8 502.9L247.1 500.2L248.9 497.8M321.5 497.4L321.6 494.3L321.1 491.3L321.3 488.2L321.9 485.2M298.7 513.3L298.8 510.7L299.2 508.2L300.0 505.8L300.8 503.3M245.3 521.7L246.6 520.2L247.6 518.5L248.4 516.7L249.7 515.2M263.6 469.9L264.7 468.2L265.6 466.4L266.8 464.8L267.9 463.1M266.0 518.9L267.2 517.0L268.5 515.1L269.3 513.0L270.4 511.1M273.7 576.7L273.9 573.8L274.6 571.0L275.1 568.2L275.8 565.3M285.8 523.6L286.9 520.5L288.0 517.4L289.4 514.4L290.3 511.3M315.3 564.1L315.3 562.0L315.5 559.9L315.2 557.7L315.3 555.6M230.7 529.3L232.1 527.2L233.5 525.2L235.3 523.5L236.4 521.2M266.9 498.0L268.0 496.0L269.5 494.3L270.8 492.5L272.1 490.6M273.0 525.3L274.1 522.6L275.8 520.3L276.9 517.6L278.3 515.1M337.0 485.0L337.1 481.9L336.9 478.8L336.9 475.7L336.3 472.7M271.1 568.7L270.9 566.9L271.3 565.2L271.3 563.4L271.7 561.6M277.5 537.0L278.3 534.6L278.7 532.0L279.5 529.5L280.0 527.0M255.6 537.6L257.3 534.8L258.9 531.9L260.6 529.1L262.3 526.3M344.0 537.1L343.8 535.0L343.6 533.0L343.2 531.0L342.9 528.9M330.8 576.5L330.5 573.5L330.5 570.5L330.6 567.6L330.7 564.6M334.4 575.5L334.9 572.2L335.7 568.9L336.0 565.6L336.5 562.2M323.0 570.5L323.0 569.0L322.6 567.5L322.5 566.0L322.3 564.4M271.5 548.5L272.3 546.7L273.2 544.9L274.0 543.1L274.8 541.4M248.9 485.5L249.6 484.0L250.6 482.5L251.5 481.1L252.5 479.6M277.7 468.9L279.3 467.4L280.6 465.7L282.0 464.0L283.4 462.4M246.5 541.1L248.6 538.0L250.5 534.9L252.7 531.9L254.9 529.0M334.0 470.4L334.3 467.1L333.8 464.0L333.7 460.8L334.2 457.6M271.7 537.6L272.6 535.2L273.4 532.7L274.7 530.5L275.4 528.0M262.2 510.3L263.4 508.7L264.5 507.0L265.4 505.2L266.7 503.6M301.4 472.7L302.9 470.1L304.4 467.4L305.6 464.7L307.0 462.0M347.3 467.7L346.7 464.2L345.7 460.8L345.2 457.3L345.0 453.8M282.7 525.4L283.6 523.3L284.7 521.4L285.6 519.3L285.7 517.1M336.6 531.9L336.4 530.0L336.2 528.0L336.3 526.1L335.8 524.2M274.5 498.7L276.3 495.6L278.2 492.7L279.9 489.6L281.4 486.5M244.3 561.6L245.5 560.0L246.7 558.5L247.8 556.8L249.0 555.2M283.2 570.3L282.8 567.5L283.3 564.8L284.3 562.1L284.2 559.3M233.6 555.6L235.3 552.9L236.6 549.9L238.4 547.2L240.0 544.4M339.3 554.3L339.2 552.3L339.2 550.2L339.3 548.2L339.6 546.2M247.0 461.5L247.5 458.6L248.1 455.8L249.4 453.2L250.4 450.5M244.6 568.5L246.5 565.8L248.5 563.1L250.0 560.2L251.2 557.1M287.0 524.2L287.7 522.4L288.4 520.5L288.8 518.6L289.5 516.8M333.9 495.0L333.6 493.5L333.3 492.0L333.3 490.5L333.0 489.0M337.5 540.4L337.5 536.8L336.9 533.2L336.4 529.6L336.3 526.0M304.4 506.3L304.8 503.8L305.4 501.4L305.6 498.8L305.9 496.3M271.4 475.7L272.8 473.2L274.2 470.7L276.1 468.6L277.2 465.9M319.7 531.2L319.0 527.7L318.6 524.1L318.5 520.5L318.8 516.9M273.1 491.9L274.3 490.2L275.6 488.5L276.5 486.6L277.6 484.8M324.4 546.1L324.3 542.5L323.9 539.0L323.0 535.5L321.9 532.1M240.3 476.8L241.0 475.5L242.0 474.2L242.6 472.8L243.2 471.4M231.1 473.1L231.8 469.7L233.0 466.5L233.6 463.1L234.6 459.9M304.8 571.6L304.4 570.0L304.4 568.3L304.4 566.7L304.0 565.1M263.4 463.7L264.0 461.8L264.9 460.0L265.7 458.1L266.6 456.3M275.3 549.1L275.8 545.5L277.1 542.0L277.9 538.4L279.1 534.9M336.5 469.3L336.9 466.9L336.9 464.5L336.8 462.0L337.1 459.6M274.1 548.8L274.4 545.8L274.8 542.8L275.6 539.9L276.9 537.1M303.2 570.3L303.4 567.2L302.6 564.2L303.0 561.2L302.9 558.1M259.3 540.9L261.0 538.1L262.5 535.2L264.0 532.3L265.7 529.5M327.3 543.7L326.6 541.1L326.2 538.3L325.8 535.6L325.6 532.9M342.0 551.9L341.9 549.3L341.9 546.7L342.0 544.0L342.1 541.4M308.1 556.5L308.1 554.4L308.2 552.4L308.0 550.3L308.3 548.2M259.5 491.2L261.1 489.3L262.1 487.2L263.6 485.3L265.1 483.4M236.6 539.5L238.4 537.1L240.3 534.9L242.1 532.5L243.7 530.0M316.0 558.3L315.5 555.4L315.8 552.4L316.0 549.5L315.5 546.5M303.2 531.5L304.1 528.0L304.2 524.4L304.3 520.8L304.7 517.2M287.6 510.5L288.4 507.6L289.6 504.8L291.0 502.1L292.6 499.6M297.3 551.4L297.2 549.5L297.3 547.5L297.5 545.6L297.8 543.7M262.7 573.1L263.1 571.4L263.6 569.8L264.3 568.1L264.7 566.5M330.6 497.8L330.9 495.5L331.0 493.2L331.3 490.9L331.5 488.6M292.8 493.0L294.0 490.3L295.1 487.5L296.9 485.2L297.8 482.3M323.9 569.6L324.0 567.3L324.1 565.0L324.3 562.8L324.0 560.5M243.3 549.2L244.7 546.1L246.7 543.5L248.8 540.9L250.4 538.0M322.7 527.8L322.6 524.6L322.2 521.3L322.3 518.1L322.6 514.8M271.2 495.6L271.5 494.1L272.5 493.0L273.2 491.7L274.1 490.5M274.1 531.4L274.8 530.0L275.7 528.7L276.1 527.2L277.0 525.9M245.7 467.9L247.1 464.6L247.9 461.2L249.1 457.8L250.3 454.5M248.0 513.0L249.4 510.3L251.2 507.9L253.5 505.9L255.5 503.7M258.5 506.4L260.7 503.9L262.5 501.2L263.8 498.1L265.9 495.5M287.6 474.5L288.7 472.8L289.8 471.2L291.2 469.8L292.4 468.2M328.0 558.3L327.5 556.2L327.9 554.1L328.0 551.9L328.0 549.7M273.1 548.3L274.9 545.9L275.8 543.0L276.2 540.0L276.7 537.0M300.4 484.9L301.3 482.4L302.9 480.3L304.0 477.8L304.8 475.3M306.4 536.6L306.7 533.3L307.2 530.1L307.6 526.9L308.0 523.7M272.8 502.5L274.0 500.4L275.3 498.3L276.5 496.2L277.7 494.2M312.4 464.7L313.8 462.6L314.7 460.1L316.1 457.9L316.8 455.4M283.8 515.1L285.4 512.3L286.8 509.4L287.8 506.4L289.1 503.5M284.1 501.9L284.8 500.3L285.5 498.6L286.5 497.1L287.5 495.6M257.0 527.7L258.1 525.8L259.1 523.8L260.5 522.1L261.7 520.2M319.2 500.3L319.9 497.2L319.5 494.0L319.8 490.7L319.7 487.5M286.7 470.7L287.8 468.8L289.3 467.3L290.6 465.6L291.4 463.6M319.8 511.3L319.7 508.4L319.8 505.4L319.2 502.6L319.2 499.6M288.7 567.1L288.8 564.7L289.0 562.4L288.9 560.0L289.2 557.6M243.5 497.4L245.4 494.3L246.8 491.0L248.7 487.9L251.0 485.0M269.5 533.6L270.1 531.6L270.8 529.6L271.8 527.7L272.9 525.8M296.8 528.2L297.6 524.8L297.7 521.3L297.6 517.8L298.4 514.4M297.8 474.8L299.1 472.8L300.4 470.9L301.6 468.8L302.2 466.5M237.0 508.3L237.6 507.0L238.1 505.5L239.0 504.2L240.0 503.0M236.4 477.6L237.7 474.3L239.5 471.2L241.3 468.1L242.3 464.6M283.8 511.1L285.1 509.0L286.4 507.1L286.9 504.7L287.9 502.5M286.6 488.4L287.9 486.7L289.1 485.1L289.9 483.1L290.9 481.3M344.6 503.6L344.4 501.3L344.4 499.0L344.2 496.7L344.4 494.4M279.6 516.0L280.8 512.8L282.6 510.0L283.2 506.6L284.6 503.6M300.2 570.4L300.2 568.1L300.2 565.8L300.1 563.5L299.9 561.2M264.5 560.6L265.1 559.1L265.5 557.5L266.1 556.0L267.1 554.7M331.0 485.6L330.9 483.8L330.9 482.0L331.2 480.3L331.2 478.5M267.5 467.0L268.8 464.8L270.2 462.6L271.6 460.4L272.7 458.0M326.5 569.1L326.0 565.7L326.0 562.2L325.6 558.8L325.0 555.4M283.8 489.7L284.9 488.2L286.0 486.7L287.3 485.5L287.9 483.8M261.7 484.7L262.9 483.5L264.0 482.2L264.9 480.8L266.0 479.5M253.5 543.3L254.5 541.6L255.6 540.0L256.7 538.5L257.7 536.8M282.4 519.7L283.4 517.9L284.0 516.0L284.4 514.0L285.0 512.1M307.8 559.5L307.6 557.8L307.6 556.0L307.4 554.3L307.2 552.5M335.4 485.2L335.2 482.9L335.3 480.5L335.2 478.1L334.9 475.8M323.6 502.1L323.8 498.7L323.5 495.4L324.5 492.1L324.2 488.7M256.8 525.6L258.8 522.8L261.4 520.4L263.1 517.4L265.5 515.0M274.7 572.0L275.2 568.6L275.8 565.2L276.1 561.7L276.5 558.2M265.2 568.7L265.7 566.3L266.4 563.9L267.1 561.6L267.6 559.2M247.7 571.5L248.9 569.7L250.1 568.0L250.8 566.0L252.0 564.2M280.3 526.0L281.6 523.1L282.6 520.2L284.1 517.4L285.5 514.6M248.5 554.4L249.7 552.4L250.9 550.5L252.1 548.6L253.5 546.8M261.6 485.4L262.8 483.7L263.9 481.8L264.8 479.9L266.0 478.1M233.2 557.2L235.0 554.6L236.9 552.0L239.3 549.9L241.4 547.5M235.5 532.3L236.9 529.8L238.2 527.3L239.5 524.8L241.1 522.5M319.0 472.4L319.2 470.3L319.7 468.3L320.0 466.2L320.4 464.1M343.7 485.8L344.2 482.3L344.0 478.7L344.1 475.1L344.1 471.5M280.2 568.0L280.0 566.2L280.3 564.4L280.2 562.6L280.5 560.8M347.3 555.3L347.4 553.2L347.9 551.2L348.1 549.2L347.6 547.2M329.6 552.7L329.3 549.8L328.4 547.1L328.3 544.2L327.9 541.4M257.0 508.5L258.8 505.4L261.5 502.8L263.4 499.7L266.1 497.1M332.5 577.3L332.5 574.5L332.5 571.8L332.8 569.0L332.7 566.2M245.3 562.2L246.6 559.8L248.0 557.6L249.8 555.5L251.0 553.1M331.6 506.6L331.3 504.0L331.1 501.4L331.4 498.9L331.3 496.3M272.4 559.9L273.1 556.8L273.5 553.6L274.5 550.5L275.9 547.6M308.4 490.9L309.4 488.5L310.2 486.1L310.6 483.6L311.4 481.2M313.5 554.8L313.7 552.8L313.5 550.8L313.5 548.8L313.3 546.9M324.3 532.1L324.4 529.0L324.2 525.9L324.9 522.9L324.9 519.8M346.0 544.6L346.1 541.8L346.0 538.9L346.4 536.1L346.4 533.3M280.7 461.9L281.7 460.6L282.6 459.2L283.3 457.6L284.3 456.2M315.9 512.7L316.1 509.6L316.0 506.5L315.8 503.5L316.3 500.5M311.5 527.6L311.5 526.0L311.7 524.4L311.9 522.9L311.7 521.3M262.3 527.4L263.7 525.8L264.8 523.9L266.1 522.2L267.0 520.2M245.9 553.6L247.1 552.2L247.9 550.4L249.1 548.9L249.9 547.2M305.8 463.9L306.7 462.0L307.7 460.1L308.5 458.1L309.4 456.2M288.4 479.0L289.5 477.4L289.9 475.6L290.7 473.8L291.5 472.1M251.5 510.6L253.8 508.0L256.0 505.2L258.0 502.4L260.2 499.7M248.2 547.1L249.6 545.3L250.8 543.4L252.0 541.5L253.0 539.5M320.6 467.6L321.5 464.0L323.1 460.6L323.9 457.0L324.9 453.4M293.5 475.4L295.1 472.5L296.8 469.8L297.9 466.7L299.4 463.8M305.5 544.8L305.8 543.2L305.6 541.6L305.6 540.0L305.5 538.4M264.5 484.7L266.5 481.8L268.8 479.2L271.0 476.5L273.4 474.0M244.7 515.5L246.4 512.8L248.3 510.2L249.9 507.5L251.7 504.8M315.6 556.6L315.6 554.6L315.5 552.6L315.8 550.5L315.7 548.5M341.9 530.5L341.6 527.9L341.2 525.2L340.6 522.6L340.3 519.9M329.6 495.4L329.5 493.6L329.5 491.8L329.4 489.9L329.7 488.1M330.5 530.0L330.4 526.3L328.9 522.9L328.9 519.1L328.3 515.5M251.6 542.9L252.8 540.0L254.8 537.6L256.1 534.7L257.4 531.8M230.8 559.6L232.9 556.8L235.5 554.5L237.4 551.6L240.0 549.3M327.9 558.5L327.9 556.8L328.1 555.1L328.0 553.4L328.1 551.7M342.7 568.2L343.1 566.4L343.7 564.6L343.9 562.7L344.1 560.9M342.8 482.1L342.9 480.4L342.6 478.8L342.7 477.1L342.8 475.4M340.7 578.1L341.9 574.8L341.6 571.2L341.6 567.7L342.4 564.2M330.5 557.4L330.7 554.5L330.1 551.8L330.6 549.0L330.1 546.2M332.6 482.4L332.6 480.2L332.7 477.9L332.6 475.6L333.2 473.4M344.5 518.5L344.6 515.8L344.7 513.1L344.8 510.5L344.4 507.8M307.3 556.9L306.7 554.5L306.7 552.0L306.7 549.4L306.8 546.9M257.6 468.1L258.8 466.4L259.5 464.5L260.5 462.7L261.6 460.9M290.5 494.3L292.0 491.8L293.0 489.0L294.0 486.3L295.7 484.0M330.7 542.4L330.6 540.1L330.4 537.9L330.6 535.6L330.4 533.4M237.8 480.5L239.2 477.5L240.4 474.4L241.0 471.2L241.7 468.0" fill="none" stroke="#fff" stroke-width="0.7" stroke-opacity="0.22" stroke-linecap="round" stroke-linejoin="round"/>
<circle cx="306.8" cy="565.8" r="0.74" fill="#1a1a1a" fill-opacity="0.7"/>
<circle cx="254.5" cy="474.7" r="0.75" fill="#1a1a1a" fill-opacity="0.7"/>
<circle cx="261.9" cy="560.2" r="0.78" fill="#1a1a1a" fill-opacity="0.7"/>
<circle cx="276.9" cy="548.4" r="0.41" fill="#1a1a1a" fill-opacity="0.7"/>
<circle cx="290.2" cy="478.8" r="0.61" fill="#1a1a1a" fill-opacity="0.7"/>
<circle cx="250.8" cy="511.5" r="0.31" fill="#1a1a1a" fill-opacity="0.7"/>
<circle cx="340.0" cy="532.0" r="0.47" fill="#1a1a1a" fill-opacity="0.7"/>
<circle cx="259.6" cy="550.2" r="0.55" fill="#1a1a1a" fill-opacity="0.7"/>
<circle cx="296.1" cy="470.0" r="0.48" fill="#1a1a1a" fill-opacity="0.7"/>
<circle cx="285.4" cy="556.3" r="0.40" fill="#1a1a1a" fill-opacity="0.7"/>
<circle cx="240.9" cy="523.7" r="0.41" fill="#1a1a1a" fill-opacity="0.7"/>
<circle cx="239.7" cy="477.2" r="0.54" fill="#1a1a1a" fill-opacity="0.7"/>
<circle cx="281.2" cy="494.1" r="0.65" fill="#1a1a1a" fill-opacity="0.7"/>
<circle cx="240.9" cy="497.2" r="0.55" fill="#1a1a1a" fill-opacity="0.7"/>
<circle cx="261.7" cy="570.0" r="0.47" fill="#1a1a1a" fill-opacity="0.7"/>
<circle cx="284.3" cy="568.2" r="0.56" fill="#1a1a1a" fill-opacity="0.7"/>
<circle cx="260.5" cy="517.0" r="0.80" fill="#1a1a1a" fill-opacity="0.7"/>
<circle cx="324.4" cy="499.1" r="0.34" fill="#1a1a1a" fill-opacity="0.7"/>
<circle cx="334.4" cy="497.9" r="0.34" fill="#1a1a1a" fill-opacity="0.7"/>
<circle cx="280.5" cy="548.0" r="0.49" fill="#1a1a1a" fill-opacity="0.7"/>
<circle cx="321.4" cy="566.9" r="0.64" fill="#1a1a1a" fill-opacity="0.7"/>
<circle cx="329.8" cy="529.2" r="0.34" fill="#1a1a1a" fill-opacity="0.7"/>
<circle cx="307.9" cy="493.1" r="0.70" fill="#1a1a1a" fill-opacity="0.7"/>
<circle cx="331.4" cy="515.9" r="0.65" fill="#1a1a1a" fill-opacity="0.7"/>
<circle cx="240.8" cy="527.7" r="0.63" fill="#1a1a1a" fill-opacity="0.7"/>
<circle cx="333.7" cy="473.0" r="0.40" fill="#1a1a1a" fill-opacity="0.7"/>
<circle cx="316.9" cy="531.7" r="0.52" fill="#1a1a1a" fill-opacity="0.7"/>
<circle cx="339.3" cy="473.2" r="0.74" fill="#1a1a1a" fill-opacity="0.7"/>
<circle cx="247.6" cy="491.7" r="0.63" fill="#1a1a1a" fill-opacity="0.7"/>
<circle cx="241.1" cy="548.2" r="0.45" fill="#1a1a1a" fill-opacity="0.7"/>
<circle cx="320.6" cy="530.4" r="0.43" fill="#1a1a1a" fill-opacity="0.7"/>
<circle cx="320.1" cy="564.8" r="0.70" fill="#1a1a1a" fill-opacity="0.7"/>
<circle cx="245.6" cy="513.3" r="0.33" fill="#1a1a1a" fill-opacity="0.7"/>
<circle cx="283.5" cy="496.0" r="0.56" fill="#1a1a1a" fill-opacity="0.7"/>
<circle cx="328.3" cy="546.0" r="0.70" fill="#1a1a1a" fill-opacity="0.7"/>
<circle cx="241.6" cy="518.0" r="0.51" fill="#1a1a1a" fill-opacity="0.7"/>
<circle cx="313.1" cy="561.3" r="0.30" fill="#1a1a1a" fill-opacity="0.7"/>
<circle cx="327.7" cy="501.3" r="0.32" fill="#1a1a1a" fill-opacity="0.7"/>
<circle cx="301.8" cy="523.3" r="0.78" fill="#1a1a1a" fill-opacity="0.7"/>
<circle cx="321.4" cy="516.2" r="0.69" fill="#1a1a1a" fill-opacity="0.7"/>
<circle cx="330.7" cy="521.3" r="0.46" fill="#1a1a1a" fill-opacity="0.7"/>
<circle cx="305.3" cy="557.5" r="0.66" fill="#1a1a1a" fill-opacity="0.7"/>
<circle cx="301.6" cy="483.2" r="0.66" fill="#1a1a1a" fill-opacity="0.7"/>
<circle cx="299.6" cy="543.7" r="0.53" fill="#1a1a1a" fill-opacity="0.7"/>
<circle cx="239.7" cy="493.0" r="0.60" fill="#1a1a1a" fill-opacity="0.7"/>
<circle cx="252.2" cy="500.7" r="0.50" fill="#1a1a1a" fill-opacity="0.7"/>
<circle cx="250.8" cy="495.9" r="0.52" fill="#1a1a1a" fill-opacity="0.7"/>
<circle cx="333.1" cy="543.2" r="0.35" fill="#1a1a1a" fill-opacity="0.7"/>
<circle cx="277.4" cy="553.0" r="0.30" fill="#1a1a1a" fill-opacity="0.7"/>
<circle cx="311.2" cy="543.1" r="0.43" fill="#1a1a1a" fill-opacity="0.7"/>
<circle cx="237.0" cy="498.9" r="0.46" fill="#1a1a1a" fill-opacity="0.7"/>
<circle cx="306.6" cy="473.7" r="0.38" fill="#1a1a1a" fill-opacity="0.7"/>
<circle cx="312.7" cy="469.8" r="0.60" fill="#1a1a1a" fill-opacity="0.7"/>
<circle cx="275.3" cy="501.8" r="0.50" fill="#1a1a1a" fill-opacity="0.7"/>
<circle cx="272.0" cy="551.3" r="0.76" fill="#1a1a1a" fill-opacity="0.7"/>
<circle cx="296.4" cy="539.5" r="0.72" fill="#1a1a1a" fill-opacity="0.7"/>
<circle cx="247.2" cy="516.2" r="0.31" fill="#1a1a1a" fill-opacity="0.7"/>
<circle cx="316.3" cy="562.1" r="0.37" fill="#1a1a1a" fill-opacity="0.7"/>
<circle cx="280.7" cy="532.7" r="0.57" fill="#1a1a1a" fill-opacity="0.7"/>
<circle cx="241.4" cy="509.7" r="0.47" fill="#1a1a1a" fill-opacity="0.7"/>
<circle cx="300.0" cy="562.0" r="0.34" fill="#1a1a1a" fill-opacity="0.7"/>
<circle cx="293.3" cy="515.4" r="0.49" fill="#1a1a1a" fill-opacity="0.7"/>
<circle cx="256.2" cy="514.3" r="0.36" fill="#1a1a1a" fill-opacity="0.7"/>
<circle cx="307.6" cy="497.3" r="0.74" fill="#1a1a1a" fill-opacity="0.7"/>
<circle cx="261.6" cy="488.3" r="0.39" fill="#1a1a1a" fill-opacity="0.7"/>
<circle cx="313.3" cy="556.3" r="0.73" fill="#1a1a1a" fill-opacity="0.7"/>
<circle cx="290.7" cy="534.5" r="0.48" fill="#1a1a1a" fill-opacity="0.7"/>
<circle cx="292.8" cy="477.7" r="0.74" fill="#1a1a1a" fill-opacity="0.7"/>
<circle cx="281.0" cy="517.5" r="0.35" fill="#1a1a1a" fill-opacity="0.7"/>
<circle cx="290.5" cy="486.7" r="0.79" fill="#1a1a1a" fill-opacity="0.7"/>
<circle cx="243.5" cy="503.8" r="0.34" fill="#1a1a1a" fill-opacity="0.7"/>
<circle cx="257.1" cy="519.8" r="0.33" fill="#1a1a1a" fill-opacity="0.7"/>
<circle cx="303.3" cy="530.3" r="0.68" fill="#1a1a1a" fill-opacity="0.7"/>
<circle cx="272.1" cy="534.2" r="0.47" fill="#1a1a1a" fill-opacity="0.7"/>
<circle cx="309.0" cy="572.3" r="0.39" fill="#1a1a1a" fill-opacity="0.7"/>
<circle cx="308.4" cy="551.7" r="0.42" fill="#1a1a1a" fill-opacity="0.7"/>
<circle cx="240.9" cy="520.8" r="0.56" fill="#1a1a1a" fill-opacity="0.7"/>
<circle cx="300.9" cy="547.8" r="0.47" fill="#1a1a1a" fill-opacity="0.7"/>
<circle cx="321.7" cy="542.5" r="0.42" fill="#1a1a1a" fill-opacity="0.7"/>
<circle cx="260.3" cy="514.4" r="0.73" fill="#1a1a1a" fill-opacity="0.7"/>
<circle cx="329.1" cy="523.0" r="0.56" fill="#1a1a1a" fill-opacity="0.7"/>
<circle cx="288.5" cy="546.3" r="0.31" fill="#1a1a1a" fill-opacity="0.7"/>
<circle cx="311.2" cy="521.3" r="0.58" fill="#1a1a1a" fill-opacity="0.7"/>
<circle cx="326.9" cy="477.2" r="0.56" fill="#1a1a1a" fill-opacity="0.7"/>
<circle cx="337.2" cy="492.0" r="0.61" fill="#1a1a1a" fill-opacity="0.7"/>
<circle cx="265.2" cy="548.5" r="0.62" fill="#1a1a1a" fill-opacity="0.7"/>
<circle cx="250.5" cy="480.5" r="0.47" fill="#1a1a1a" fill-opacity="0.7"/>
<circle cx="283.1" cy="551.7" r="0.77" fill="#1a1a1a" fill-opacity="0.7"/>
<circle cx="294.6" cy="475.2" r="0.53" fill="#1a1a1a" fill-opacity="0.7"/>
<circle cx="336.5" cy="473.9" r="0.52" fill="#1a1a1a" fill-opacity="0.7"/>
<circle cx="264.1" cy="535.4" r="0.41" fill="#1a1a1a" fill-opacity="0.7"/>
<circle cx="240.4" cy="485.6" r="0.56" fill="#1a1a1a" fill-opacity="0.7"/>
<circle cx="280.6" cy="556.7" r="0.41" fill="#1a1a1a" fill-opacity="0.7"/>
<circle cx="305.1" cy="565.7" r="0.31" fill="#1a1a1a" fill-opacity="0.7"/>
<circle cx="288.1" cy="488.0" r="0.49" fill="#1a1a1a" fill-opacity="0.7"/>
<circle cx="263.2" cy="547.5" r="0.43" fill="#1a1a1a" fill-opacity="0.7"/>
<circle cx="340.6" cy="487.9" r="0.45" fill="#1a1a1a" fill-opacity="0.7"/>
<circle cx="303.8" cy="478.9" r="0.39" fill="#1a1a1a" fill-opacity="0.7"/>
<circle cx="271.3" cy="537.2" r="0.71" fill="#1a1a1a" fill-opacity="0.7"/>
<circle cx="298.6" cy="496.5" r="0.58" fill="#1a1a1a" fill-opacity="0.7"/>
<circle cx="340.5" cy="505.4" r="0.36" fill="#1a1a1a" fill-opacity="0.7"/>
<circle cx="239.7" cy="514.4" r="0.77" fill="#1a1a1a" fill-opacity="0.7"/>
<circle cx="336.1" cy="540.6" r="0.42" fill="#1a1a1a" fill-opacity="0.7"/>
<circle cx="275.9" cy="488.5" r="0.52" fill="#1a1a1a" fill-opacity="0.7"/>
<circle cx="317.9" cy="468.9" r="0.56" fill="#1a1a1a" fill-opacity="0.7"/>
<circle cx="258.5" cy="532.4" r="0.69" fill="#1a1a1a" fill-opacity="0.7"/>
<circle cx="317.4" cy="503.0" r="0.75" fill="#1a1a1a" fill-opacity="0.7"/>
<circle cx="237.1" cy="497.4" r="0.37" fill="#1a1a1a" fill-opacity="0.7"/>
<circle cx="308.6" cy="517.8" r="0.60" fill="#1a1a1a" fill-opacity="0.7"/>
<circle cx="241.7" cy="476.7" r="0.67" fill="#1a1a1a" fill-opacity="0.7"/>
<ellipse cx="328" cy="472" rx="12" ry="3.5" transform="rotate(12 328 472)" fill="#8c8a80" fill-opacity="0.55"/>
<ellipse cx="309" cy="489" rx="8" ry="3.2" transform="rotate(28 309 489)" fill="#b4b09c" fill-opacity="0.7"/>
<ellipse cx="305.6" cy="487.5" rx="2.1" ry="1.3" transform="rotate(77 305.6 487.5)" fill="#151515" fill-opacity="0.9"/>
<ellipse cx="306.5" cy="486.0" rx="2.1" ry="1.4" transform="rotate(67 306.5 486.0)" fill="#151515" fill-opacity="0.9"/>
<ellipse cx="304.7" cy="485.6" rx="2.7" ry="1.2" transform="rotate(85 304.7 485.6)" fill="#151515" fill-opacity="0.9"/>
<ellipse cx="303.6" cy="486.3" rx="2.0" ry="1.0" transform="rotate(65 303.6 486.3)" fill="#151515" fill-opacity="0.9"/>
<ellipse cx="304.4" cy="486.8" rx="1.7" ry="1.6" transform="rotate(152 304.4 486.8)" fill="#151515" fill-opacity="0.9"/>
<ellipse cx="303.0" cy="486.4" rx="2.4" ry="0.9" transform="rotate(160 303.0 486.4)" fill="#151515" fill-opacity="0.9"/>
<ellipse cx="325.3" cy="471.8" rx="1.3" ry="1.1" transform="rotate(51 325.3 471.8)" fill="#202020" fill-opacity="0.9"/>
<ellipse cx="324.6" cy="473.0" rx="1.1" ry="0.8" transform="rotate(59 324.6 473.0)" fill="#202020" fill-opacity="0.9"/>
<ellipse cx="324.9" cy="471.8" rx="1.6" ry="0.6" transform="rotate(109 324.9 471.8)" fill="#202020" fill-opacity="0.9"/>
<ellipse cx="323.9" cy="473.2" rx="1.8" ry="1.0" transform="rotate(126 323.9 473.2)" fill="#202020" fill-opacity="0.9"/>
<ellipse cx="332.7" cy="471.6" rx="1.4" ry="1.0" transform="rotate(176 332.7 471.6)" fill="#202020" fill-opacity="0.9"/>
<ellipse cx="333.4" cy="470.9" rx="1.5" ry="0.9" transform="rotate(161 333.4 470.9)" fill="#202020" fill-opacity="0.9"/>
<ellipse cx="332.5" cy="471.3" rx="1.6" ry="0.9" transform="rotate(89 332.5 471.3)" fill="#202020" fill-opacity="0.9"/>
<ellipse cx="333.3" cy="471.1" rx="1.1" ry="0.8" transform="rotate(95 333.3 471.1)" fill="#202020" fill-opacity="0.9"/>
<ellipse cx="301.0" cy="507.3" rx="1.1" ry="1.5" transform="rotate(163 301.0 507.3)" fill="#141414" fill-opacity="0.9"/>
<ellipse cx="299.8" cy="508.3" rx="1.1" ry="0.9" transform="rotate(143 299.8 508.3)" fill="#141414" fill-opacity="0.9"/>
<ellipse cx="300.6" cy="508.5" rx="1.1" ry="0.9" transform="rotate(71 300.6 508.5)" fill="#141414" fill-opacity="0.9"/>
<ellipse cx="336.3" cy="496.3" rx="0.8" ry="1.2" transform="rotate(120 336.3 496.3)" fill="#141414" fill-opacity="0.9"/>
<ellipse cx="335.3" cy="497.6" rx="0.6" ry="1.3" transform="rotate(174 335.3 497.6)" fill="#141414" fill-opacity="0.9"/>
<ellipse cx="335.4" cy="495.9" rx="0.9" ry="1.7" transform="rotate(102 335.4 495.9)" fill="#141414" fill-opacity="0.9"/>
<circle cx="316.2" cy="473.3" r="0.79" fill="#1a1a1a" fill-opacity="0.8"/>
<circle cx="326.8" cy="472.0" r="0.61" fill="#1a1a1a" fill-opacity="0.8"/>
<circle cx="320.3" cy="474.0" r="0.47" fill="#1a1a1a" fill-opacity="0.8"/>
<circle cx="310.8" cy="464.9" r="0.89" fill="#1a1a1a" fill-opacity="0.8"/>
<circle cx="322.0" cy="477.3" r="0.99" fill="#1a1a1a" fill-opacity="0.8"/>
<circle cx="329.7" cy="469.1" r="0.45" fill="#1a1a1a" fill-opacity="0.8"/>
<circle cx="334.1" cy="478.9" r="0.62" fill="#1a1a1a" fill-opacity="0.8"/>
<circle cx="322.5" cy="472.0" r="0.81" fill="#1a1a1a" fill-opacity="0.8"/>
<circle cx="321.2" cy="473.8" r="0.48" fill="#1a1a1a" fill-opacity="0.8"/>
<circle cx="325.0" cy="478.0" r="0.72" fill="#1a1a1a" fill-opacity="0.8"/>
<circle cx="329.9" cy="473.1" r="0.52" fill="#1a1a1a" fill-opacity="0.8"/>
<circle cx="319.4" cy="473.5" r="0.40" fill="#1a1a1a" fill-opacity="0.8"/>
<circle cx="316.8" cy="473.8" r="0.79" fill="#1a1a1a" fill-opacity="0.8"/>
<circle cx="321.9" cy="473.9" r="0.66" fill="#1a1a1a" fill-opacity="0.8"/>
<circle cx="327.7" cy="474.9" r="0.92" fill="#1a1a1a" fill-opacity="0.8"/>
<circle cx="341.7" cy="468.5" r="0.84" fill="#1a1a1a" fill-opacity="0.8"/>
<circle cx="317.8" cy="470.9" r="0.71" fill="#1a1a1a" fill-opacity="0.8"/>
<circle cx="318.2" cy="481.4" r="0.68" fill="#1a1a1a" fill-opacity="0.8"/>
<circle cx="331.5" cy="472.0" r="0.55" fill="#1a1a1a" fill-opacity="0.8"/>
<circle cx="316.9" cy="469.2" r="0.69" fill="#1a1a1a" fill-opacity="0.8"/>
<circle cx="240.2" cy="540.3" r="0.72" fill="#1a1a1a" fill-opacity="0.8"/>
<circle cx="243.2" cy="566.2" r="0.63" fill="#1a1a1a" fill-opacity="0.8"/>
<circle cx="239.7" cy="510.4" r="0.85" fill="#1a1a1a" fill-opacity="0.8"/>
<circle cx="240.4" cy="607.0" r="0.43" fill="#1a1a1a" fill-opacity="0.8"/>
<circle cx="239.8" cy="509.0" r="0.87" fill="#1a1a1a" fill-opacity="0.8"/>
<circle cx="236.8" cy="505.3" r="0.67" fill="#1a1a1a" fill-opacity="0.8"/>
<circle cx="240.2" cy="509.7" r="0.59" fill="#1a1a1a" fill-opacity="0.8"/>
<circle cx="239.5" cy="522.5" r="0.54" fill="#1a1a1a" fill-opacity="0.8"/>
<circle cx="240.5" cy="544.7" r="0.53" fill="#1a1a1a" fill-opacity="0.8"/>
<circle cx="243.1" cy="535.1" r="0.61" fill="#1a1a1a" fill-opacity="0.8"/>
<circle cx="239.6" cy="466.6" r="0.70" fill="#1a1a1a" fill-opacity="0.8"/>
<circle cx="237.1" cy="485.6" r="0.88" fill="#1a1a1a" fill-opacity="0.8"/>
<ellipse cx="265.8" cy="540.4" rx="1.5" ry="1.3" transform="rotate(46 265.8 540.4)" fill="#141414" fill-opacity="0.9"/>
<ellipse cx="266.7" cy="538.9" rx="1.4" ry="1.3" transform="rotate(3 266.7 538.9)" fill="#141414" fill-opacity="0.9"/>
<ellipse cx="266.9" cy="538.2" rx="1.2" ry="1.6" transform="rotate(139 266.9 538.2)" fill="#141414" fill-opacity="0.9"/>
<ellipse cx="264.6" cy="538.8" rx="1.5" ry="1.0" transform="rotate(42 264.6 538.8)" fill="#141414" fill-opacity="0.9"/>
<ellipse cx="265.6" cy="540.7" rx="1.2" ry="1.5" transform="rotate(38 265.6 540.7)" fill="#141414" fill-opacity="0.9"/>
<ellipse cx="263.1" cy="545.6" rx="2.0" ry="1.9" transform="rotate(11 263.1 545.6)" fill="#141414" fill-opacity="0.9"/>
<ellipse cx="264.3" cy="548.0" rx="1.6" ry="1.5" transform="rotate(1 264.3 548.0)" fill="#141414" fill-opacity="0.9"/>
<ellipse cx="261.6" cy="545.7" rx="1.7" ry="1.3" transform="rotate(12 261.6 545.7)" fill="#141414" fill-opacity="0.9"/>
<ellipse cx="261.2" cy="546.1" rx="1.4" ry="1.2" transform="rotate(151 261.2 546.1)" fill="#141414" fill-opacity="0.9"/>
<ellipse cx="262.4" cy="545.8" rx="2.2" ry="1.3" transform="rotate(40 262.4 545.8)" fill="#141414" fill-opacity="0.9"/>
<ellipse cx="261.1" cy="548.0" rx="1.8" ry="1.6" transform="rotate(92 261.1 548.0)" fill="#141414" fill-opacity="0.9"/>
<ellipse cx="263.7" cy="557.6" rx="1.7" ry="1.4" transform="rotate(125 263.7 557.6)" fill="#141414" fill-opacity="0.9"/>
<ellipse cx="261.9" cy="557.5" rx="1.4" ry="1.1" transform="rotate(59 261.9 557.5)" fill="#141414" fill-opacity="0.9"/>
<ellipse cx="263.9" cy="555.9" rx="1.1" ry="1.8" transform="rotate(77 263.9 555.9)" fill="#141414" fill-opacity="0.9"/>
<ellipse cx="262.9" cy="556.1" rx="1.2" ry="1.3" transform="rotate(168 262.9 556.1)" fill="#141414" fill-opacity="0.9"/>
<ellipse cx="262.7" cy="557.1" rx="1.5" ry="1.2" transform="rotate(163 262.7 557.1)" fill="#141414" fill-opacity="0.9"/>
<ellipse cx="277.6" cy="548.7" rx="1.5" ry="2.1" transform="rotate(27 277.6 548.7)" fill="#141414" fill-opacity="0.9"/>
<ellipse cx="277.4" cy="550.0" rx="2.0" ry="1.7" transform="rotate(100 277.4 550.0)" fill="#141414" fill-opacity="0.9"/>
<ellipse cx="275.3" cy="548.3" rx="2.0" ry="2.3" transform="rotate(120 275.3 548.3)" fill="#141414" fill-opacity="0.9"/>
<ellipse cx="275.9" cy="551.3" rx="1.5" ry="1.6" transform="rotate(66 275.9 551.3)" fill="#141414" fill-opacity="0.9"/>
<ellipse cx="274.2" cy="548.5" rx="2.3" ry="1.9" transform="rotate(118 274.2 548.5)" fill="#141414" fill-opacity="0.9"/>
<ellipse cx="274.8" cy="551.5" rx="2.4" ry="1.7" transform="rotate(36 274.8 551.5)" fill="#141414" fill-opacity="0.9"/>
<ellipse cx="275.4" cy="549.2" rx="1.9" ry="2.1" transform="rotate(138 275.4 549.2)" fill="#141414" fill-opacity="0.9"/>
<ellipse cx="285.4" cy="551.7" rx="1.0" ry="0.8" transform="rotate(14 285.4 551.7)" fill="#141414" fill-opacity="0.9"/>
<ellipse cx="284.3" cy="551.1" rx="0.7" ry="0.7" transform="rotate(120 284.3 551.1)" fill="#141414" fill-opacity="0.9"/>
<ellipse cx="285.2" cy="551.4" rx="0.9" ry="0.8" transform="rotate(123 285.2 551.4)" fill="#141414" fill-opacity="0.9"/>
<circle cx="263.1" cy="551.3" r="0.56" fill="#1a1a1a" fill-opacity="0.7"/>
<circle cx="266.2" cy="545.9" r="0.53" fill="#1a1a1a" fill-opacity="0.7"/>
<circle cx="256.5" cy="547.9" r="0.44" fill="#1a1a1a" fill-opacity="0.7"/>
<circle cx="282.4" cy="544.7" r="0.61" fill="#1a1a1a" fill-opacity="0.7"/>
<circle cx="265.1" cy="548.0" r="0.47" fill="#1a1a1a" fill-opacity="0.7"/>
<circle cx="266.7" cy="556.5" r="0.34" fill="#1a1a1a" fill-opacity="0.7"/>
<circle cx="297.2" cy="551.6" r="0.30" fill="#1a1a1a" fill-opacity="0.7"/>
<circle cx="267.5" cy="555.7" r="0.79" fill="#1a1a1a" fill-opacity="0.7"/>
<circle cx="266.4" cy="553.5" r="0.54" fill="#1a1a1a" fill-opacity="0.7"/>
<circle cx="258.7" cy="536.2" r="0.64" fill="#1a1a1a" fill-opacity="0.7"/>
<circle cx="285.3" cy="555.9" r="0.75" fill="#1a1a1a" fill-opacity="0.7"/>
<circle cx="281.8" cy="557.0" r="0.76" fill="#1a1a1a" fill-opacity="0.7"/>
</g>
<g clip-path="url(#ci4)">
<rect x="343.9" y="465.5" width="107.00" height="108.10" fill="#a4a7ac"/>
<rect x="343.9" y="465.5" width="107.00" height="108.10" filter="url(#nz)" opacity="0.15"/>
<path d="M438.0 571.2L436.6 567.4L434.8 563.8L433.6 559.9L431.3 556.6M443.1 539.2L440.5 535.6L437.3 532.5L434.9 528.8L432.4 525.2M383.0 555.0L382.7 548.1L380.9 541.4L380.3 534.5L381.7 527.7M385.7 556.7L384.6 552.8L384.6 548.7L384.9 544.6L385.2 540.6M404.4 541.3L400.3 537.0L401.4 531.3L401.0 525.4L401.0 519.5M352.1 485.5L353.8 483.5L355.7 481.5L357.5 479.6L359.1 477.5M351.6 486.9L353.5 484.7L355.6 482.5L357.7 480.4L359.9 478.4M383.5 542.0L383.2 538.3L382.9 534.7L382.8 531.0L383.4 527.4M350.3 579.1L350.9 575.3L350.7 571.6L350.6 567.8L350.4 564.0M366.2 485.1L369.1 481.8L372.3 478.9L375.3 475.7L377.8 472.1M444.9 544.1L440.1 539.1L435.7 533.8L429.3 531.0L423.5 527.3M348.9 541.7L349.6 535.1L351.3 528.7L354.6 522.9L357.7 517.1M447.5 517.3L445.1 515.2L443.1 512.9L440.9 510.7L439.7 507.9M445.0 529.2L440.6 525.4L436.2 521.7L432.3 517.4L428.0 513.6M455.7 556.0L454.1 549.3L450.8 543.1L447.0 537.3L442.8 531.8M348.1 563.8L346.8 559.2L346.1 554.5L346.2 549.7L345.3 545.0M343.8 473.1L344.7 468.4L345.8 463.6L347.1 458.9L348.4 454.2M368.3 476.0L371.8 470.9L375.4 465.8L378.8 460.6L381.2 454.8M362.6 469.7L366.5 464.6L368.5 458.6L372.6 453.7L374.2 447.5M340.2 477.0L342.2 472.4L344.4 467.9L346.4 463.3L348.3 458.7M453.7 519.4L450.5 516.2L446.7 513.5L444.0 509.8L440.5 506.7M375.7 490.1L379.2 486.5L382.4 482.7L386.1 479.3L389.5 475.6M366.8 506.7L369.1 504.2L371.5 501.8L374.1 499.6L376.4 497.1M403.8 478.1L403.5 471.9L404.5 465.8L405.4 459.7L404.6 453.5M352.3 500.6L354.8 498.4L356.9 496.0L359.5 494.0L361.9 491.8M378.8 553.6L378.7 551.0L378.7 548.4L378.8 545.8L378.9 543.2M444.3 570.2L444.2 564.7L442.7 559.5L441.0 554.4L438.9 549.4M412.2 573.0L410.2 568.0L407.9 563.2L404.9 558.8L401.1 555.1M376.2 525.3L377.7 519.6L379.8 514.1L382.9 509.1L385.0 503.7M441.3 540.2L437.4 535.9L433.9 531.3L430.2 526.9L426.0 522.9M446.2 491.9L445.4 487.2L444.2 482.6L443.5 477.9L443.2 473.1M385.8 476.7L389.8 473.2L393.4 469.3L397.8 466.3L400.8 461.9M359.8 565.8L359.5 559.7L359.4 553.7L357.9 547.8L357.0 541.8M374.9 552.2L375.2 546.5L375.7 540.8L375.6 535.1L376.6 529.5M393.2 465.3L399.0 461.7L403.7 456.7L404.9 449.9L403.4 443.2M409.3 577.8L408.3 575.3L407.5 572.7L406.6 570.1L405.8 567.5M435.3 513.9L433.4 511.9L432.3 509.4L431.1 506.9L429.8 504.4M341.2 563.9L341.6 557.9L341.7 551.9L340.5 545.9L343.0 540.5M406.4 571.0L404.0 567.1L402.1 562.9L402.8 558.4L403.1 553.8M376.4 482.1L380.2 476.6L384.3 471.3L388.3 465.9L392.1 460.5M372.2 483.0L376.0 478.9L380.1 475.0L384.0 470.9L387.4 466.4M453.8 500.0L451.2 494.7L448.8 489.4L447.5 483.6L446.1 477.9M402.2 514.7L403.2 509.6L404.1 504.5L402.2 499.7L405.6 495.7M442.0 521.4L438.4 518.2L435.3 514.5L432.1 510.8L429.2 506.9M383.2 571.0L383.1 567.1L383.7 563.2L382.9 559.3L382.1 555.5M354.4 492.1L356.9 489.9L359.5 487.7L361.9 485.3L363.6 482.4M362.7 545.0L362.6 541.5L362.9 538.1L363.4 534.7L364.8 531.5M423.6 519.6L419.8 513.8L416.6 507.6L413.7 501.3L411.6 494.7M391.9 511.7L393.2 508.6L395.0 505.7L396.4 502.6L398.1 499.7M406.1 500.0L405.8 493.9L404.7 487.9L405.3 481.9L405.0 475.8M349.5 567.1L349.8 563.6L349.8 560.1L350.0 556.6L350.1 553.2M389.7 467.3L393.2 464.1L396.6 460.7L399.6 457.1L401.9 452.9M405.0 507.6L403.8 502.2L402.7 496.9L405.7 492.3L405.5 486.8M446.8 467.8L446.6 463.2L447.5 458.6L447.9 454.0L448.6 449.4M401.3 557.5L400.6 550.2L400.4 542.8L399.6 535.5L399.7 528.2M441.8 556.0L440.7 553.1L438.8 550.5L436.6 548.1L434.5 545.8M427.2 486.3L426.2 482.2L425.9 477.9L426.0 473.6L425.9 469.3M362.5 540.9L364.3 536.6L364.7 532.0L367.2 528.1L368.1 523.5M443.2 555.1L442.1 552.6L440.2 550.6L438.7 548.3L437.2 546.0M445.2 481.7L444.7 479.0L444.7 476.3L444.6 473.5L444.8 470.8M393.0 560.8L392.2 558.2L392.2 555.6L392.1 552.9L391.8 550.2M406.2 484.1L406.9 481.0L406.5 477.7L406.9 474.5L407.1 471.2M341.5 501.2L345.2 498.8L348.7 496.3L350.6 492.3L353.9 489.4M344.9 516.5L347.3 514.6L349.1 512.2L351.2 510.0L353.4 507.9M453.4 531.4L449.9 528.5L446.5 525.6L443.4 522.3L440.2 519.2M406.8 568.9L405.4 566.7L404.3 564.3L402.4 562.4L402.2 559.8M403.0 471.2L408.5 466.5L410.3 459.5L410.6 452.2L410.1 444.9M417.4 508.4L415.0 502.1L413.3 495.6L413.1 488.8L413.3 482.1M359.2 480.4L362.4 476.9L364.5 472.6L367.0 468.5L369.8 464.6M370.0 542.9L370.0 538.5L370.1 534.1L370.8 529.8L372.4 525.8M340.2 567.1L339.3 560.5L339.2 553.8L338.9 547.1L340.3 540.6M381.0 512.8L382.6 510.0L384.3 507.2L386.1 504.6L388.1 502.1M388.3 478.4L390.3 475.8L392.3 473.3L394.5 470.9L397.1 469.0M401.9 485.7L406.2 480.4L406.6 473.6L406.9 466.8L407.3 460.0M375.6 566.0L375.3 561.5L375.0 557.1L373.6 552.8L373.7 548.4M446.1 515.5L441.5 509.7L437.1 503.7L433.9 497.0L430.9 490.2M410.3 517.5L408.8 514.2L408.3 510.7L407.2 507.2L405.8 503.9M435.2 543.7L432.7 540.1L429.1 537.7L425.6 535.0L423.2 531.3M381.4 486.8L386.4 482.0L390.9 476.7L395.4 471.4L400.1 466.3M429.8 473.9L430.9 466.6L431.0 459.1L432.4 451.7L432.0 444.3M410.6 568.3L409.6 565.9L408.3 563.7L406.5 561.8L404.8 559.8M363.1 469.5L364.6 467.5L365.8 465.3L367.3 463.3L368.3 461.0M370.6 482.8L373.9 479.5L377.4 476.3L380.1 472.5L383.2 469.0M453.6 511.1L452.2 508.7L450.7 506.5L448.7 504.6L447.2 502.4M451.7 496.2L449.5 493.7L448.7 490.4L448.1 487.0L446.9 483.8M426.6 497.4L425.5 492.7L425.4 487.9L425.1 483.2L424.3 478.4M440.0 489.5L438.1 483.3L436.0 477.2L435.4 470.8L435.6 464.3M384.5 546.1L385.0 542.2L384.7 538.2L385.2 534.3L385.3 530.3M399.5 552.5L400.5 545.2L400.9 537.9L401.2 530.5L401.0 523.2M382.0 473.4L385.4 468.6L389.4 464.3L393.2 459.8L397.5 455.8" fill="none" stroke="#000" stroke-width="0.7" stroke-opacity="0.2" stroke-linecap="round" stroke-linejoin="round"/>
<path d="M343.4 569.8L342.9 566.7L342.7 563.5L342.6 560.4L342.4 557.2M352.2 462.7L353.3 459.1L354.9 455.7L356.2 452.2L356.6 448.5M439.8 508.9L436.0 503.4L433.6 497.2L431.4 490.9L430.8 484.2M396.4 576.7L397.7 570.5L399.1 564.4L399.4 558.2L398.3 552.0M452.5 569.3L452.3 566.5L451.7 563.7L450.9 560.9L450.4 558.1M366.4 505.9L368.4 503.0L370.7 500.3L372.1 497.0L374.3 494.3M345.1 472.5L346.9 469.8L349.1 467.4L350.7 464.5L351.5 461.3M455.7 465.8L456.0 463.1L456.7 460.5L457.0 457.8L456.9 455.1M443.7 507.7L440.7 503.1L437.1 499.0L434.4 494.2L432.6 489.1M358.4 509.7L364.2 505.2L368.8 499.6L373.7 494.2L378.6 488.8M395.8 576.8L396.7 571.8L397.0 566.8L396.7 561.7L396.4 556.7M396.7 509.8L398.7 502.8L402.9 496.9L402.9 489.7L402.6 482.4M354.3 461.8L355.4 459.0L356.7 456.2L358.2 453.6L359.0 450.7M405.4 536.4L400.2 531.3L401.0 524.0L403.5 517.1L399.5 511.0M431.6 493.8L430.2 487.0L429.4 480.0L429.0 473.0L429.4 466.1M352.5 575.8L353.1 571.6L353.6 567.4L353.7 563.2L354.2 558.9M383.1 491.6L387.8 487.0L393.6 483.8L398.4 479.3L403.2 474.7M355.7 572.6L355.5 568.8L355.7 564.9L356.0 561.1L355.8 557.3M387.7 560.0L386.4 553.4L385.8 546.7L385.9 540.0L385.4 533.3M448.7 523.8L446.9 521.6L445.2 519.2L443.3 517.1L441.4 515.0M355.7 552.2L355.9 545.5L356.8 538.8L356.9 532.1L358.1 525.5M386.6 528.9L388.0 521.9L389.1 514.8L392.3 508.3L395.4 501.8M376.9 512.3L381.5 507.4L385.5 502.0L389.7 496.7L393.1 490.9M390.2 549.3L389.4 542.8L388.8 536.4L388.1 530.0L388.8 523.5M393.2 566.1L393.8 562.7L393.7 559.3L393.5 555.9L392.8 552.6M428.9 549.5L426.5 546.8L423.8 544.2L421.4 541.3L418.8 538.7M349.2 475.9L350.9 473.8L352.5 471.7L353.6 469.3L354.7 466.9M346.2 475.4L347.4 473.1L348.6 470.7L349.6 468.2L350.6 465.8M440.2 515.4L438.0 512.6L435.4 510.1L432.8 507.6L430.4 504.9M347.5 501.1L350.5 498.1L353.6 495.2L356.2 491.8L359.6 489.3M453.8 561.7L452.1 555.1L449.7 548.7L444.7 544.0L439.7 539.3M343.0 514.2L345.9 510.9L348.1 507.2L351.1 504.0L353.3 500.3M341.0 544.0L342.0 537.4L344.1 530.9L347.4 525.1L349.2 518.6M340.9 526.6L342.8 523.0L344.4 519.4L347.1 516.5L348.9 512.9M361.9 531.8L363.1 528.8L364.4 525.8L364.8 522.6L366.4 519.8M446.5 556.9L444.8 552.3L442.8 547.9L440.6 543.5L437.6 539.7M432.0 464.7L434.9 458.1L435.5 450.8L435.4 443.5L435.6 436.2M447.4 516.8L445.3 512.4L441.7 509.2L439.5 504.8L437.1 500.6M349.7 527.8L351.6 523.7L352.9 519.3L354.7 515.2L356.6 511.1M391.3 497.0L392.6 494.5L394.6 492.5L396.7 490.5L398.6 488.4M455.1 503.0L450.8 497.1L446.9 491.0L444.4 484.1L444.7 476.8M420.8 494.1L419.6 489.2L418.3 484.3L418.5 479.3L418.2 474.2M448.0 535.1L445.0 530.7L441.1 527.0L437.2 523.3L433.4 519.5M345.5 565.6L344.8 560.6L344.7 555.5L344.9 550.4L345.6 545.4M394.7 537.6L394.6 534.4L394.9 531.2L395.4 528.1L395.8 524.9M437.3 566.9L435.9 561.5L435.1 555.9L431.5 551.6L427.7 547.4M359.5 467.5L361.5 465.0L363.0 462.3L363.6 459.2L364.7 456.2M413.7 519.9L412.4 517.6L410.8 515.6L409.9 513.2L408.8 510.8M444.8 467.5L445.1 461.6L445.6 455.8L446.1 450.0L446.8 444.1M394.0 516.5L394.8 512.5L395.4 508.6L397.5 505.1L399.4 501.6M366.4 522.4L367.9 518.3L369.4 514.2L372.0 510.7L374.9 507.5M371.1 507.4L374.6 502.1L378.9 497.3L382.9 492.3L387.4 487.7M403.0 462.2L403.3 458.9L402.7 455.5L403.9 452.4L403.7 449.0M352.9 491.4L355.6 488.6L357.9 485.6L360.8 483.1L363.4 480.3M345.5 474.3L348.1 470.7L350.0 466.6L351.4 462.2L352.5 457.9" fill="none" stroke="#fff" stroke-width="1.3" stroke-opacity="0.38" stroke-linecap="round" stroke-linejoin="round"/>
<circle cx="397.2" cy="555.1" r="0.39" fill="#1a1a1a" fill-opacity="0.5"/>
<circle cx="358.8" cy="489.9" r="0.48" fill="#1a1a1a" fill-opacity="0.5"/>
<circle cx="374.5" cy="489.7" r="0.40" fill="#1a1a1a" fill-opacity="0.5"/>
<circle cx="408.4" cy="504.5" r="0.61" fill="#1a1a1a" fill-opacity="0.5"/>
<circle cx="363.2" cy="502.4" r="0.40" fill="#1a1a1a" fill-opacity="0.5"/>
<circle cx="432.5" cy="494.9" r="0.45" fill="#1a1a1a" fill-opacity="0.5"/>
<circle cx="357.4" cy="526.5" r="0.44" fill="#1a1a1a" fill-opacity="0.5"/>
<circle cx="416.8" cy="508.0" r="0.60" fill="#1a1a1a" fill-opacity="0.5"/>
<circle cx="400.1" cy="565.5" r="0.42" fill="#1a1a1a" fill-opacity="0.5"/>
<circle cx="435.1" cy="485.8" r="0.58" fill="#1a1a1a" fill-opacity="0.5"/>
<circle cx="417.0" cy="467.8" r="0.45" fill="#1a1a1a" fill-opacity="0.5"/>
<circle cx="387.6" cy="482.3" r="0.68" fill="#1a1a1a" fill-opacity="0.5"/>
<circle cx="355.9" cy="511.1" r="0.40" fill="#1a1a1a" fill-opacity="0.5"/>
<circle cx="419.7" cy="540.6" r="0.70" fill="#1a1a1a" fill-opacity="0.5"/>
<circle cx="400.2" cy="531.0" r="0.75" fill="#1a1a1a" fill-opacity="0.5"/>
<circle cx="388.4" cy="567.9" r="0.45" fill="#1a1a1a" fill-opacity="0.5"/>
<circle cx="388.2" cy="561.1" r="0.35" fill="#1a1a1a" fill-opacity="0.5"/>
<circle cx="391.5" cy="543.4" r="0.59" fill="#1a1a1a" fill-opacity="0.5"/>
<circle cx="346.7" cy="506.2" r="0.71" fill="#1a1a1a" fill-opacity="0.5"/>
<circle cx="390.8" cy="500.9" r="0.42" fill="#1a1a1a" fill-opacity="0.5"/>
<ellipse cx="379.3" cy="493.6" rx="4.1" ry="2.4" transform="rotate(87 379.3 493.6)" fill="#141414" fill-opacity="0.9"/>
<ellipse cx="379.9" cy="497.4" rx="4.1" ry="2.2" transform="rotate(25 379.9 497.4)" fill="#141414" fill-opacity="0.9"/>
<ellipse cx="380.1" cy="496.2" rx="3.2" ry="2.5" transform="rotate(70 380.1 496.2)" fill="#141414" fill-opacity="0.9"/>
<ellipse cx="379.9" cy="497.2" rx="3.5" ry="3.0" transform="rotate(145 379.9 497.2)" fill="#141414" fill-opacity="0.9"/>
<ellipse cx="376.1" cy="494.3" rx="3.6" ry="2.0" transform="rotate(131 376.1 494.3)" fill="#141414" fill-opacity="0.9"/>
<ellipse cx="376.5" cy="495.5" rx="4.3" ry="2.3" transform="rotate(22 376.5 495.5)" fill="#141414" fill-opacity="0.9"/>
<ellipse cx="380.2" cy="493.4" rx="4.4" ry="2.8" transform="rotate(9 380.2 493.4)" fill="#141414" fill-opacity="0.9"/>
<ellipse cx="379.5" cy="494.7" rx="3.3" ry="3.2" transform="rotate(16 379.5 494.7)" fill="#141414" fill-opacity="0.9"/>
<ellipse cx="376.5" cy="498.1" rx="3.6" ry="2.8" transform="rotate(7 376.5 498.1)" fill="#141414" fill-opacity="0.9"/>
<ellipse cx="375.8" cy="513.6" rx="3.7" ry="2.9" transform="rotate(26 375.8 513.6)" fill="#141414" fill-opacity="0.9"/>
<ellipse cx="371.5" cy="514.6" rx="2.4" ry="4.4" transform="rotate(160 371.5 514.6)" fill="#141414" fill-opacity="0.9"/>
<ellipse cx="372.1" cy="512.0" rx="3.3" ry="3.7" transform="rotate(31 372.1 512.0)" fill="#141414" fill-opacity="0.9"/>
<ellipse cx="372.5" cy="510.1" rx="3.9" ry="3.0" transform="rotate(155 372.5 510.1)" fill="#141414" fill-opacity="0.9"/>
<ellipse cx="373.0" cy="512.6" rx="2.9" ry="4.3" transform="rotate(77 373.0 512.6)" fill="#141414" fill-opacity="0.9"/>
<ellipse cx="370.8" cy="512.0" rx="2.4" ry="3.2" transform="rotate(46 370.8 512.0)" fill="#141414" fill-opacity="0.9"/>
<ellipse cx="375.6" cy="512.4" rx="3.5" ry="2.7" transform="rotate(57 375.6 512.4)" fill="#141414" fill-opacity="0.9"/>
<ellipse cx="374.6" cy="513.5" rx="3.9" ry="3.4" transform="rotate(157 374.6 513.5)" fill="#141414" fill-opacity="0.9"/>
<ellipse cx="370.9" cy="513.0" rx="3.1" ry="3.5" transform="rotate(164 370.9 513.0)" fill="#141414" fill-opacity="0.9"/>
<ellipse cx="368.9" cy="518.3" rx="2.0" ry="1.3" transform="rotate(62 368.9 518.3)" fill="#141414" fill-opacity="0.9"/>
<ellipse cx="369.0" cy="517.5" rx="2.1" ry="1.1" transform="rotate(53 369.0 517.5)" fill="#141414" fill-opacity="0.9"/>
<ellipse cx="367.9" cy="519.0" rx="1.2" ry="1.2" transform="rotate(4 367.9 519.0)" fill="#141414" fill-opacity="0.9"/>
<ellipse cx="366.5" cy="518.1" rx="1.4" ry="1.2" transform="rotate(121 366.5 518.1)" fill="#141414" fill-opacity="0.9"/>
<ellipse cx="366.4" cy="519.3" rx="2.0" ry="1.8" transform="rotate(166 366.4 519.3)" fill="#141414" fill-opacity="0.9"/>
<ellipse cx="368.8" cy="519.0" rx="1.5" ry="1.1" transform="rotate(16 368.8 519.0)" fill="#141414" fill-opacity="0.9"/>
<ellipse cx="365.9" cy="517.6" rx="1.6" ry="1.6" transform="rotate(72 365.9 517.6)" fill="#141414" fill-opacity="0.9"/>
<ellipse cx="366.2" cy="517.7" rx="1.8" ry="1.5" transform="rotate(5 366.2 517.7)" fill="#141414" fill-opacity="0.9"/>
<ellipse cx="367.3" cy="518.6" rx="1.4" ry="1.4" transform="rotate(142 367.3 518.6)" fill="#141414" fill-opacity="0.9"/>
<ellipse cx="371.9" cy="532.0" rx="2.1" ry="1.9" transform="rotate(138 371.9 532.0)" fill="#141414" fill-opacity="0.9"/>
<ellipse cx="371.5" cy="531.4" rx="2.4" ry="2.1" transform="rotate(88 371.5 531.4)" fill="#141414" fill-opacity="0.9"/>
<ellipse cx="369.4" cy="531.0" rx="2.5" ry="2.2" transform="rotate(165 369.4 531.0)" fill="#141414" fill-opacity="0.9"/>
<ellipse cx="367.7" cy="534.2" rx="2.5" ry="1.9" transform="rotate(144 367.7 534.2)" fill="#141414" fill-opacity="0.9"/>
<ellipse cx="367.7" cy="531.7" rx="2.6" ry="2.0" transform="rotate(135 367.7 531.7)" fill="#141414" fill-opacity="0.9"/>
<ellipse cx="367.8" cy="533.0" rx="2.1" ry="1.6" transform="rotate(38 367.8 533.0)" fill="#141414" fill-opacity="0.9"/>
<ellipse cx="368.2" cy="531.3" rx="2.5" ry="2.8" transform="rotate(177 368.2 531.3)" fill="#141414" fill-opacity="0.9"/>
<ellipse cx="369.0" cy="531.8" rx="2.5" ry="1.8" transform="rotate(134 369.0 531.8)" fill="#141414" fill-opacity="0.9"/>
<ellipse cx="370.1" cy="533.4" rx="2.6" ry="1.9" transform="rotate(25 370.1 533.4)" fill="#141414" fill-opacity="0.9"/>
<ellipse cx="401.1" cy="517.4" rx="3.3" ry="2.5" transform="rotate(76 401.1 517.4)" fill="#141414" fill-opacity="0.9"/>
<ellipse cx="401.5" cy="519.3" rx="4.1" ry="3.2" transform="rotate(11 401.5 519.3)" fill="#141414" fill-opacity="0.9"/>
<ellipse cx="403.7" cy="518.7" rx="3.2" ry="3.4" transform="rotate(150 403.7 518.7)" fill="#141414" fill-opacity="0.9"/>
<ellipse cx="401.5" cy="517.2" rx="3.8" ry="2.6" transform="rotate(124 401.5 517.2)" fill="#141414" fill-opacity="0.9"/>
<ellipse cx="401.1" cy="516.7" rx="3.9" ry="3.8" transform="rotate(75 401.1 516.7)" fill="#141414" fill-opacity="0.9"/>
<ellipse cx="404.7" cy="516.1" rx="3.5" ry="3.4" transform="rotate(168 404.7 516.1)" fill="#141414" fill-opacity="0.9"/>
<ellipse cx="405.5" cy="518.2" rx="2.9" ry="2.8" transform="rotate(171 405.5 518.2)" fill="#141414" fill-opacity="0.9"/>
<ellipse cx="400.7" cy="516.7" rx="3.4" ry="2.5" transform="rotate(168 400.7 516.7)" fill="#141414" fill-opacity="0.9"/>
<ellipse cx="404.4" cy="520.4" rx="3.2" ry="3.6" transform="rotate(2 404.4 520.4)" fill="#141414" fill-opacity="0.9"/>
<ellipse cx="402.2" cy="530.0" rx="1.7" ry="1.9" transform="rotate(39 402.2 530.0)" fill="#141414" fill-opacity="0.9"/>
<ellipse cx="400.4" cy="528.5" rx="2.0" ry="2.1" transform="rotate(33 400.4 528.5)" fill="#141414" fill-opacity="0.9"/>
<ellipse cx="402.6" cy="529.4" rx="1.4" ry="2.0" transform="rotate(53 402.6 529.4)" fill="#141414" fill-opacity="0.9"/>
<ellipse cx="399.6" cy="528.5" rx="1.4" ry="2.1" transform="rotate(35 399.6 528.5)" fill="#141414" fill-opacity="0.9"/>
<ellipse cx="400.3" cy="527.4" rx="1.7" ry="1.7" transform="rotate(41 400.3 527.4)" fill="#141414" fill-opacity="0.9"/>
<ellipse cx="401.8" cy="530.2" rx="1.4" ry="1.5" transform="rotate(36 401.8 530.2)" fill="#141414" fill-opacity="0.9"/>
<ellipse cx="400.8" cy="528.6" rx="1.6" ry="1.8" transform="rotate(163 400.8 528.6)" fill="#141414" fill-opacity="0.9"/>
<ellipse cx="401.3" cy="527.6" rx="1.7" ry="1.8" transform="rotate(90 401.3 527.6)" fill="#141414" fill-opacity="0.9"/>
<ellipse cx="400.3" cy="528.4" rx="1.6" ry="1.8" transform="rotate(178 400.3 528.4)" fill="#141414" fill-opacity="0.9"/>
<ellipse cx="396.3" cy="522.5" rx="0.8" ry="0.8" transform="rotate(45 396.3 522.5)" fill="#141414" fill-opacity="0.9"/>
<ellipse cx="396.5" cy="523.1" rx="0.9" ry="1.2" transform="rotate(177 396.5 523.1)" fill="#141414" fill-opacity="0.9"/>
<ellipse cx="396.1" cy="523.5" rx="1.0" ry="0.9" transform="rotate(25 396.1 523.5)" fill="#141414" fill-opacity="0.9"/>
<ellipse cx="396.4" cy="523.1" rx="0.9" ry="1.1" transform="rotate(129 396.4 523.1)" fill="#141414" fill-opacity="0.9"/>
<ellipse cx="395.5" cy="522.6" rx="1.1" ry="1.2" transform="rotate(23 395.5 522.6)" fill="#141414" fill-opacity="0.9"/>
<ellipse cx="396.7" cy="522.5" rx="1.2" ry="1.0" transform="rotate(175 396.7 522.5)" fill="#141414" fill-opacity="0.9"/>
<ellipse cx="397.0" cy="522.9" rx="0.9" ry="0.9" transform="rotate(48 397.0 522.9)" fill="#141414" fill-opacity="0.9"/>
<ellipse cx="395.7" cy="523.7" rx="1.2" ry="1.1" transform="rotate(25 395.7 523.7)" fill="#141414" fill-opacity="0.9"/>
<ellipse cx="397.2" cy="522.8" rx="1.1" ry="0.8" transform="rotate(164 397.2 522.8)" fill="#141414" fill-opacity="0.9"/>
<ellipse cx="423.1" cy="522.3" rx="2.0" ry="1.8" transform="rotate(102 423.1 522.3)" fill="#141414" fill-opacity="0.9"/>
<ellipse cx="425.2" cy="522.3" rx="2.3" ry="1.1" transform="rotate(157 425.2 522.3)" fill="#141414" fill-opacity="0.9"/>
<ellipse cx="426.6" cy="522.4" rx="2.1" ry="1.5" transform="rotate(103 426.6 522.4)" fill="#141414" fill-opacity="0.9"/>
<ellipse cx="426.2" cy="523.3" rx="2.0" ry="1.2" transform="rotate(168 426.2 523.3)" fill="#141414" fill-opacity="0.9"/>
<ellipse cx="423.6" cy="523.2" rx="2.2" ry="1.3" transform="rotate(45 423.6 523.2)" fill="#141414" fill-opacity="0.9"/>
<ellipse cx="423.6" cy="522.7" rx="2.2" ry="1.1" transform="rotate(99 423.6 522.7)" fill="#141414" fill-opacity="0.9"/>
<ellipse cx="423.5" cy="523.7" rx="2.5" ry="1.3" transform="rotate(118 423.5 523.7)" fill="#141414" fill-opacity="0.9"/>
<ellipse cx="424.7" cy="521.5" rx="2.3" ry="1.8" transform="rotate(127 424.7 521.5)" fill="#141414" fill-opacity="0.9"/>
<ellipse cx="426.8" cy="522.8" rx="2.4" ry="1.2" transform="rotate(13 426.8 522.8)" fill="#141414" fill-opacity="0.9"/>
<ellipse cx="427.2" cy="482.9" rx="1.4" ry="0.7" transform="rotate(81 427.2 482.9)" fill="#141414" fill-opacity="0.9"/>
<ellipse cx="428.8" cy="482.8" rx="1.1" ry="1.1" transform="rotate(140 428.8 482.8)" fill="#141414" fill-opacity="0.9"/>
<ellipse cx="427.0" cy="482.6" rx="1.2" ry="0.9" transform="rotate(100 427.0 482.6)" fill="#141414" fill-opacity="0.9"/>
<ellipse cx="428.7" cy="483.0" rx="0.9" ry="1.0" transform="rotate(86 428.7 483.0)" fill="#141414" fill-opacity="0.9"/>
<ellipse cx="428.6" cy="482.0" rx="1.1" ry="0.8" transform="rotate(179 428.6 482.0)" fill="#141414" fill-opacity="0.9"/>
<ellipse cx="429.0" cy="482.9" rx="1.1" ry="0.8" transform="rotate(39 429.0 482.9)" fill="#141414" fill-opacity="0.9"/>
<ellipse cx="428.7" cy="482.7" rx="1.4" ry="0.8" transform="rotate(4 428.7 482.7)" fill="#141414" fill-opacity="0.9"/>
<ellipse cx="427.7" cy="482.1" rx="1.1" ry="0.8" transform="rotate(62 427.7 482.1)" fill="#141414" fill-opacity="0.9"/>
<ellipse cx="428.8" cy="481.7" rx="1.1" ry="0.9" transform="rotate(54 428.8 481.7)" fill="#141414" fill-opacity="0.9"/>
<ellipse cx="427.3" cy="497.3" rx="0.8" ry="0.7" transform="rotate(54 427.3 497.3)" fill="#141414" fill-opacity="0.9"/>
<ellipse cx="426.9" cy="497.4" rx="0.7" ry="0.7" transform="rotate(90 426.9 497.4)" fill="#141414" fill-opacity="0.9"/>
<ellipse cx="427.4" cy="496.7" rx="0.9" ry="0.7" transform="rotate(157 427.4 496.7)" fill="#141414" fill-opacity="0.9"/>
<ellipse cx="427.6" cy="497.4" rx="0.9" ry="0.6" transform="rotate(148 427.6 497.4)" fill="#141414" fill-opacity="0.9"/>
<ellipse cx="426.9" cy="496.8" rx="0.8" ry="0.8" transform="rotate(25 426.9 496.8)" fill="#141414" fill-opacity="0.9"/>
<ellipse cx="427.6" cy="497.2" rx="1.0" ry="0.7" transform="rotate(152 427.6 497.2)" fill="#141414" fill-opacity="0.9"/>
<ellipse cx="426.2" cy="497.0" rx="1.0" ry="0.6" transform="rotate(164 426.2 497.0)" fill="#141414" fill-opacity="0.9"/>
<ellipse cx="426.4" cy="496.9" rx="0.7" ry="0.7" transform="rotate(144 426.4 496.9)" fill="#141414" fill-opacity="0.9"/>
<ellipse cx="426.5" cy="497.5" rx="0.8" ry="0.8" transform="rotate(101 426.5 497.5)" fill="#141414" fill-opacity="0.9"/>
<ellipse cx="389.3" cy="480.8" rx="0.6" ry="0.6" transform="rotate(166 389.3 480.8)" fill="#141414" fill-opacity="0.9"/>
<ellipse cx="388.7" cy="481.3" rx="0.7" ry="0.8" transform="rotate(153 388.7 481.3)" fill="#141414" fill-opacity="0.9"/>
<ellipse cx="389.1" cy="480.4" rx="0.8" ry="0.8" transform="rotate(119 389.1 480.4)" fill="#141414" fill-opacity="0.9"/>
<ellipse cx="388.8" cy="480.4" rx="0.7" ry="0.8" transform="rotate(37 388.8 480.4)" fill="#141414" fill-opacity="0.9"/>
<ellipse cx="388.5" cy="480.7" rx="0.8" ry="0.8" transform="rotate(170 388.5 480.7)" fill="#141414" fill-opacity="0.9"/>
<ellipse cx="389.2" cy="481.1" rx="0.7" ry="0.7" transform="rotate(85 389.2 481.1)" fill="#141414" fill-opacity="0.9"/>
<ellipse cx="389.5" cy="480.5" rx="0.8" ry="0.7" transform="rotate(141 389.5 480.5)" fill="#141414" fill-opacity="0.9"/>
<ellipse cx="389.5" cy="480.6" rx="0.5" ry="0.8" transform="rotate(3 389.5 480.6)" fill="#141414" fill-opacity="0.9"/>
<ellipse cx="389.1" cy="480.6" rx="0.6" ry="0.7" transform="rotate(155 389.1 480.6)" fill="#141414" fill-opacity="0.9"/>
<ellipse cx="379.4" cy="482.9" rx="1.0" ry="0.7" transform="rotate(145 379.4 482.9)" fill="#141414" fill-opacity="0.9"/>
<ellipse cx="379.2" cy="482.4" rx="1.0" ry="0.7" transform="rotate(96 379.2 482.4)" fill="#141414" fill-opacity="0.9"/>
<ellipse cx="379.4" cy="483.6" rx="0.8" ry="0.7" transform="rotate(101 379.4 483.6)" fill="#141414" fill-opacity="0.9"/>
<ellipse cx="378.8" cy="482.5" rx="0.9" ry="0.6" transform="rotate(18 378.8 482.5)" fill="#141414" fill-opacity="0.9"/>
<ellipse cx="378.3" cy="483.3" rx="0.8" ry="0.7" transform="rotate(106 378.3 483.3)" fill="#141414" fill-opacity="0.9"/>
<ellipse cx="379.3" cy="483.4" rx="0.6" ry="0.6" transform="rotate(47 379.3 483.4)" fill="#141414" fill-opacity="0.9"/>
<ellipse cx="378.8" cy="482.4" rx="1.0" ry="0.6" transform="rotate(113 378.8 482.4)" fill="#141414" fill-opacity="0.9"/>
<ellipse cx="378.4" cy="483.1" rx="0.9" ry="0.5" transform="rotate(17 378.4 483.1)" fill="#141414" fill-opacity="0.9"/>
<ellipse cx="378.9" cy="483.3" rx="0.6" ry="0.7" transform="rotate(3 378.9 483.3)" fill="#141414" fill-opacity="0.9"/>
<circle cx="385.5" cy="493.5" r="2.0" fill="#fff" fill-opacity="0.75"/>
<circle cx="369.5" cy="505" r="1.6" fill="#fff" fill-opacity="0.75"/>
<circle cx="373" cy="539" r="1.8" fill="#fff" fill-opacity="0.75"/>
<circle cx="410" cy="526" r="1.5" fill="#fff" fill-opacity="0.75"/>
<circle cx="352.5" cy="490" r="1.2" fill="#fff" fill-opacity="0.75"/>
<circle cx="380" cy="508" r="1.4" fill="#fff" fill-opacity="0.75"/>
<circle cx="366" cy="530" r="1.3" fill="#fff" fill-opacity="0.75"/>
<circle cx="396" cy="514" r="1.2" fill="#fff" fill-opacity="0.75"/>
<circle cx="431" cy="521" r="1.2" fill="#fff" fill-opacity="0.75"/>
<g transform="translate(355.8 527.5) rotate(15)"><path d="M0 0 L5.4 11 L1.5 10 L1.5 23.5 L-1.5 23.5 L-1.5 10 L-5.4 11 Z" fill="#fff"/></g>
<g transform="translate(422.8 535.5) rotate(15)"><path d="M0 0 L5.4 11 L1.5 10 L1.5 23.5 L-1.5 23.5 L-1.5 10 L-5.4 11 Z" fill="#fff"/></g>
</g>
<g clip-path="url(#ci5)">
<rect x="127.2" y="575.7" width="106.30" height="108.50" fill="#d3d3d3"/>
<rect x="127.2" y="575.7" width="106.30" height="108.50" filter="url(#nz)" opacity="0.15"/>
<path d="M184.7 683.8L186.2 684.9L187.6 686.1L189.0 687.4L190.3 688.7M196.0 615.8L198.6 616.8L201.2 618.1L203.7 619.3L206.2 620.7M229.0 678.8L230.3 680.6L231.6 682.3L233.1 683.9L234.9 685.2M208.6 648.2L211.7 650.1L214.8 652.1L217.7 654.2L220.5 656.6M220.1 660.6L221.6 661.5L222.9 662.8L224.2 663.9L225.3 665.2M127.1 634.6L128.1 635.8L129.5 636.6L131.0 637.1L132.2 638.1M147.0 689.2L149.9 689.8L152.3 691.6L154.6 693.4L157.3 694.7M153.8 580.8L156.6 582.7L159.2 585.0L161.9 587.1L164.1 589.8M152.9 662.8L155.5 663.9L158.3 664.6L161.1 665.5L163.8 666.4M126.8 604.2L128.4 605.9L130.0 607.8L131.8 609.4L133.5 611.1M124.6 625.5L126.6 627.5L128.7 629.5L131.0 631.2L133.0 633.2M133.7 678.9L135.5 679.6L137.5 680.0L139.3 680.9L141.3 681.3M175.7 634.4L177.5 635.1L179.3 635.7L181.2 636.2L183.0 636.8M218.2 624.1L220.8 625.2L223.3 626.1L225.4 627.9L227.8 629.2M144.7 650.7L146.5 651.6L148.1 652.8L150.0 653.6L151.9 654.2M150.5 686.3L153.2 687.2L155.6 688.7L158.0 690.3L160.1 692.2M235.0 608.2L237.0 608.9L239.1 609.5L241.1 610.3L243.1 611.0M180.6 671.9L183.4 673.9L186.1 676.0L188.6 678.4L190.5 681.2M155.1 673.8L157.0 674.7L158.8 675.8L160.4 677.0L162.2 678.0M196.4 599.3L198.7 600.0L201.0 600.5L203.3 601.3L205.7 602.0M135.8 643.4L138.7 645.2L141.9 646.5L144.8 648.2L147.9 649.6M230.8 652.9L233.6 655.2L236.4 657.5L239.4 659.6L242.2 661.9M185.5 681.6L187.3 682.7L188.6 684.2L190.2 685.5L191.6 687.0M208.0 602.9L211.2 603.5L214.3 604.1L217.4 605.1L220.5 606.0M232.7 630.9L234.2 631.5L235.3 632.7L236.5 633.6L237.7 634.6M185.8 652.5L188.4 654.2L190.9 655.9L193.4 657.6L196.1 659.1M232.6 593.6L234.8 594.0L236.8 595.1L239.0 595.7L241.1 596.5M225.8 573.8L229.0 574.7L232.1 576.0L235.5 576.5L238.6 577.8M236.8 585.0L239.9 586.1L243.1 587.2L246.2 588.3L249.3 589.6M135.4 598.1L136.7 599.2L137.7 600.5L139.1 601.4L140.2 602.6M183.6 679.2L185.2 679.7L186.4 680.9L187.7 682.0L188.9 683.2M184.1 640.6L186.5 641.8L188.7 643.3L191.2 644.1L193.8 644.8M139.7 664.0L142.5 665.3L145.6 666.1L148.3 667.7L151.0 669.2M200.9 598.1L203.7 599.3L206.3 600.7L208.9 602.2L211.8 603.0M202.1 591.2L203.5 592.0L205.0 592.5L206.3 593.3L207.7 594.0M232.5 593.2L234.8 594.0L237.2 594.4L239.4 595.4L241.6 596.6M198.5 586.1L201.1 588.1L204.0 589.5L206.8 591.1L209.6 592.5M191.1 598.3L194.1 599.4L196.8 601.3L199.9 602.2L202.9 603.6M157.0 589.9L158.5 591.1L159.9 592.5L161.1 594.0L162.8 594.9M208.1 650.7L209.5 651.6L210.8 652.5L212.1 653.5L213.3 654.7M224.3 640.3L225.8 641.0L227.1 642.0L228.6 642.7L230.0 643.4M237.1 682.3L238.2 683.6L239.6 684.6L241.0 685.6L242.4 686.5M209.4 606.2L212.6 607.7L215.8 609.3L219.2 610.1L222.6 611.2M236.7 593.4L239.0 594.6L241.5 595.1L243.7 596.5L246.0 597.7M142.4 672.7L145.8 673.7L149.0 675.1L152.1 676.9L155.0 678.9M223.1 655.1L225.9 657.4L228.4 660.0L231.0 662.5L233.9 664.6M163.5 662.8L166.1 663.3L168.6 664.3L171.0 665.6L173.1 667.1M130.1 585.3L131.9 586.4L133.7 587.6L135.4 589.0L137.1 590.3M214.3 646.8L216.6 648.3L218.7 650.1L220.7 651.9L222.9 653.7M238.4 611.4L240.3 612.4L242.2 613.2L244.0 614.3L245.7 615.5M160.1 614.3L162.0 615.5L164.0 616.7L165.5 618.4L167.5 619.7M232.2 619.5L234.2 620.4L236.1 621.6L238.1 622.4L239.7 623.9M232.9 599.6L235.2 600.7L237.4 601.9L239.9 602.6L242.2 603.8M201.3 664.8L202.4 666.0L203.9 666.7L205.1 667.8L206.6 668.6M147.4 682.0L150.1 683.0L152.7 684.2L155.3 685.3L157.9 686.5M229.0 677.8L231.3 679.7L234.0 681.0L236.4 682.7L238.9 684.4M207.4 596.9L210.6 598.0L213.2 600.1L216.2 601.7L219.5 602.3M229.2 598.4L232.2 600.0L235.7 600.6L238.9 602.1L242.3 602.7M215.9 627.2L219.4 628.3L222.4 630.4L225.5 632.2L228.8 633.9M142.4 678.1L145.2 679.1L147.7 680.7L150.6 681.4L153.3 682.7M176.4 677.9L178.8 680.3L181.2 682.6L184.0 684.7L186.5 686.8M162.2 668.7L164.4 669.8L166.5 671.2L168.7 672.4L170.8 673.6M152.8 571.8L154.7 573.6L156.8 574.8L158.8 576.4L161.0 577.7M238.9 610.2L241.5 611.3L244.0 612.4L246.5 613.6L249.1 614.8M145.5 610.2L148.6 612.2L151.2 614.8L154.1 617.0L157.3 618.9M141.6 682.3L143.1 682.6L144.4 683.4L145.9 683.8L147.2 684.4M183.6 641.9L185.3 642.6L187.1 643.1L188.8 643.7L190.6 643.8M132.4 666.0L133.8 666.7L135.2 667.5L136.7 668.1L138.3 668.4M145.6 670.7L147.6 670.8L149.4 671.7L151.3 672.3L153.2 673.1M156.6 598.1L159.2 600.5L161.8 602.9L164.0 605.6L166.8 607.8M191.8 631.2L193.6 631.8L195.6 632.0L197.3 632.9L199.2 633.6M204.2 615.7L206.7 616.5L209.1 617.6L211.5 618.6L214.1 619.3M123.2 596.2L124.7 597.8L126.1 599.3L127.7 600.7L129.0 602.4M190.5 680.5L192.0 681.6L193.2 683.0L194.8 684.0L196.2 685.3M128.0 656.6L129.4 657.5L131.1 658.1L132.7 658.7L134.2 659.5M181.8 629.7L184.4 630.5L186.8 631.8L189.3 632.7L191.9 633.2M212.3 662.8L214.4 664.1L216.3 665.5L218.3 666.9L219.7 668.9M224.2 620.9L225.7 621.6L227.1 622.5L228.4 623.5L229.9 624.0M203.0 642.8L205.1 644.0L207.4 644.7L209.1 646.4L211.2 647.5M193.6 642.5L195.8 643.3L198.1 643.9L200.0 645.2L202.1 646.2M166.6 632.3L168.9 633.7L171.2 634.9L173.8 635.5L176.2 636.6M208.6 580.6L211.3 583.0L214.7 584.2L218.0 585.7L221.0 587.8M209.1 579.7L210.4 580.9L212.0 581.6L213.4 582.7L215.0 583.4M177.9 641.7L181.4 642.9L184.7 644.4L188.0 645.8L191.4 647.1M204.5 609.9L207.6 611.2L210.8 612.2L214.1 612.9L217.2 614.2M128.0 670.2L130.4 670.9L132.7 672.0L135.0 673.2L137.2 674.6M233.6 671.6L234.8 672.8L236.2 673.9L237.6 674.9L238.7 676.2M198.2 588.4L199.8 588.9L201.4 589.6L202.9 590.3L204.5 591.0M151.9 649.7L154.5 650.3L157.2 651.1L159.9 651.6L162.6 652.3M162.4 617.9L165.0 618.9L167.3 620.3L169.8 621.3L172.1 622.6M180.2 688.9L181.9 689.9L183.1 691.3L184.5 692.6L185.9 693.9M186.2 654.2L187.5 655.0L189.0 655.6L190.2 656.5L191.7 657.0M184.0 645.8L186.7 646.8L189.5 647.7L192.0 649.1L194.7 650.1M222.3 657.0L223.9 658.8L225.8 660.2L227.6 661.8L229.4 663.5M140.8 580.8L142.9 582.7L145.1 584.5L146.9 586.7L148.9 588.7M135.1 628.8L137.1 630.1L138.6 632.0L140.2 633.7L142.2 635.0M229.5 649.8L230.8 651.0L232.1 652.3L233.6 653.3L235.1 654.3M206.9 598.0L209.1 599.1L211.4 600.1L213.8 600.9L216.1 601.7M134.1 611.1L136.0 613.5L138.3 615.7L140.7 617.7L142.9 619.8M136.0 650.3L138.2 650.9L140.2 652.1L142.3 653.0L144.3 654.1M155.9 686.2L158.9 687.7L161.8 689.5L164.6 691.3L167.6 692.8M226.4 655.8L228.2 657.7L230.0 659.6L231.9 661.3L233.4 663.4M212.8 681.2L214.1 682.1L215.2 683.3L216.3 684.4L217.6 685.3M144.2 587.8L147.0 589.7L149.3 592.3L151.2 595.2L153.6 597.7M163.1 654.2L164.7 654.8L166.3 655.2L167.8 655.9L169.3 656.7M237.4 641.7L238.3 642.9L239.4 644.0L240.6 644.8L241.7 645.9M229.3 684.6L232.0 687.2L234.8 689.5L237.5 692.0L240.9 693.5M150.3 674.9L153.3 676.9L156.6 678.1L159.8 679.9L162.9 681.6M227.2 619.6L229.3 620.6L231.5 621.3L233.6 622.3L235.4 623.6M169.3 685.4L170.9 686.3L172.3 687.4L173.6 688.7L175.1 689.7M215.0 624.1L217.0 625.0L218.6 626.5L220.4 627.6L222.1 628.9M128.6 599.8L129.8 601.4L131.4 602.7L133.2 603.6L134.7 605.0M135.4 661.0L138.0 661.8L140.7 662.7L143.3 663.6L145.9 664.6M127.4 650.3L130.3 652.2L133.3 654.1L136.6 655.1L140.0 656.0M147.7 616.0L149.6 617.7L151.6 619.2L153.4 620.8L155.7 621.8M153.2 642.9L155.3 644.1L157.5 645.1L159.6 646.3L161.7 647.3M214.9 580.4L216.8 581.8L219.1 582.6L221.2 583.7L223.4 584.6M191.7 685.0L193.1 686.3L194.7 687.5L196.1 688.9L197.6 690.1M183.1 654.9L185.3 656.3L187.8 657.3L190.1 658.7L192.2 660.3M195.7 616.3L198.4 617.4L201.1 618.4L203.7 619.6L206.5 620.3M145.1 640.7L146.4 641.5L147.7 642.3L149.2 642.9L150.6 643.7M132.1 627.2L133.9 628.5L135.9 629.4L137.7 630.7L139.5 631.9M179.5 589.0L181.3 590.3L183.1 591.6L184.3 593.5L185.6 595.3M162.2 685.7L163.5 686.5L164.7 687.4L166.0 688.3L167.3 689.1M136.2 679.0L139.4 679.6L142.3 681.0L144.9 682.7L147.9 683.9M224.4 592.0L226.9 593.8L229.9 595.0L232.6 596.5L235.6 597.5M198.8 597.9L202.2 598.7L205.7 599.0L208.8 600.6L212.1 601.8M172.6 572.0L174.6 574.5L176.8 576.8L178.7 579.3L180.9 581.6M147.9 586.3L149.4 588.1L150.9 589.9L152.5 591.6L153.8 593.5M130.3 589.2L131.7 591.2L133.7 592.6L135.3 594.5L137.0 596.3M207.3 632.9L209.4 634.0L211.6 635.0L213.8 636.0L215.9 637.1M231.0 681.2L233.8 683.1L236.4 685.3L239.4 686.9L242.2 688.7M169.7 613.6L172.5 615.4L175.3 617.2L178.3 618.6L181.1 620.4M173.4 645.0L175.5 646.2L177.8 647.0L180.1 647.8L181.9 649.5M192.1 676.1L193.8 677.4L195.2 678.9L196.8 680.2L198.4 681.5M229.7 595.1L232.3 595.8L235.0 596.0L237.4 597.1L240.0 597.7M213.8 646.8L215.2 648.4L216.8 649.6L218.6 650.6L220.1 652.0M154.6 687.3L157.4 689.4L160.2 691.6L162.9 693.8L165.5 696.1M170.4 675.5L173.6 677.4L176.6 679.6L179.6 681.7L182.2 684.4M124.9 618.3L126.8 619.5L128.4 621.1L130.2 622.5L131.7 624.1M127.9 639.2L129.5 640.3L130.9 641.5L132.5 642.4L134.3 643.2M184.6 643.4L186.3 644.3L188.0 645.3L189.9 645.9L191.7 646.6M206.1 587.5L208.1 588.9L210.2 590.0L212.5 590.9L214.8 591.6M213.2 576.0L215.7 577.2L218.3 578.4L220.8 579.6L223.4 580.7M192.5 665.9L193.7 666.9L194.9 667.9L196.4 668.5L197.6 669.5M195.1 671.7L197.0 673.0L199.2 673.9L200.9 675.5L202.7 677.0M166.8 597.9L169.5 600.0L172.4 601.9L175.4 603.4L178.5 604.9M209.3 672.9L211.5 675.5L214.2 677.5L216.8 679.7L219.6 681.6M143.7 604.5L146.2 606.6L148.4 609.1L151.2 610.9L153.3 613.4M165.3 576.1L167.5 577.9L169.9 579.5L172.0 581.4L174.1 583.3M135.6 629.4L138.4 632.0L141.7 633.7L144.8 635.8L147.6 638.2M199.0 572.6L200.2 573.6L201.7 574.2L202.9 575.2L204.3 576.0M138.3 590.7L140.0 592.6L141.9 594.2L143.8 595.9L145.6 597.6M138.5 625.6L140.5 627.0L142.2 628.7L144.2 630.1L146.1 631.6M166.5 653.1L168.5 654.4L170.3 655.8L172.6 656.4L174.8 657.2M164.1 571.5L165.8 573.8L167.7 575.9L169.8 577.8L172.1 579.5M207.7 606.4L210.1 607.2L212.6 608.0L215.1 608.5L217.5 609.5M211.7 688.1L213.4 689.5L215.1 690.9L216.9 692.1L218.5 693.6M164.0 632.7L165.9 633.7L167.8 634.8L169.9 635.2L171.8 636.2M230.7 674.2L232.3 675.5L233.8 677.0L235.4 678.2L236.9 679.7M150.4 578.9L153.3 581.4L156.2 583.7L158.8 586.4L161.8 588.6M188.7 649.7L191.4 651.6L194.1 653.5L197.1 655.0L199.9 656.8M173.4 656.9L175.5 657.7L177.6 658.6L179.7 659.5L181.9 660.1M125.1 593.9L126.3 595.1L127.7 596.0L129.0 597.1L130.3 598.2M140.7 677.8L142.1 678.5L143.4 679.2L144.9 679.6L146.3 680.2M197.0 666.2L198.9 667.5L200.8 668.9L202.3 670.7L204.2 672.0M130.1 603.2L131.4 604.3L132.7 605.5L134.0 606.6L135.3 607.7M134.8 572.1L136.5 573.1L138.1 574.1L139.8 575.1L141.2 576.4M182.3 686.8L185.5 688.4L188.6 690.2L190.8 692.9L193.1 695.6M216.9 573.3L220.2 574.8L223.7 575.6L227.0 577.3L230.1 579.1M201.6 590.2L204.1 591.4L206.5 592.9L208.9 594.3L211.2 596.0M140.8 582.6L142.6 584.2L144.2 586.0L146.0 587.6L148.1 588.7M201.0 607.9L203.0 608.4L204.9 609.3L207.0 609.8L209.0 610.4M224.1 663.4L225.6 665.9L227.8 667.7L230.0 669.6L231.6 672.1M228.0 662.9L229.8 665.9L232.1 668.6L234.8 670.9L237.6 673.1M209.6 676.6L211.3 678.9L213.4 680.7L215.8 682.2L218.1 683.9M235.4 669.3L237.4 671.1L239.6 672.7L241.7 674.5L243.7 676.4M166.1 663.7L168.9 665.0L171.7 666.0L174.5 667.0L176.7 669.0M136.9 677.5L140.1 678.3L142.9 680.1L145.8 681.9L148.9 683.1M212.8 587.6L215.8 589.7L219.0 591.3L222.4 592.6L226.0 593.3M151.1 643.4L152.9 644.1L154.6 645.2L156.4 646.0L158.2 646.6M215.9 639.6L218.2 640.7L220.2 642.3L222.4 643.6L224.5 645.1M230.5 673.2L233.1 674.7L235.5 676.5L238.0 678.0L240.5 679.6M169.3 588.8L171.5 591.7L174.4 593.8L177.3 596.1L180.3 598.0M212.5 667.4L214.2 668.9L215.7 670.5L217.7 671.5L219.3 673.1M218.8 628.3L222.1 629.7L225.3 631.3L228.7 632.6L231.4 635.0M194.2 591.9L196.0 592.8L197.8 593.6L199.5 594.5L201.2 595.6M137.3 673.9L140.3 675.2L143.5 675.8L146.5 677.1L149.5 678.4M205.6 646.2L208.4 647.9L211.5 649.4L214.6 650.7L217.6 652.1M128.0 644.9L130.5 645.9L132.8 647.2L135.3 648.4L137.6 649.6M208.6 683.0L210.1 685.1L212.3 686.5L214.5 687.8L216.6 689.4M162.6 615.5L164.9 616.7L167.1 618.1L169.2 619.6L171.4 621.0M147.4 633.4L149.5 634.3L151.4 635.5L153.4 636.6L155.5 637.5M136.7 572.8L138.3 573.7L139.9 574.6L141.3 575.8L142.8 576.8M164.4 682.7L166.8 683.8L168.8 685.5L170.5 687.4L172.7 688.9M171.9 670.4L175.2 672.0L178.2 674.2L181.1 676.5L184.2 678.4M131.4 608.6L133.6 610.8L135.5 613.3L137.6 615.6L139.7 617.9M199.8 580.3L202.1 581.9L204.2 583.7L206.6 585.1L209.1 586.5M174.5 636.0L178.2 636.5L181.7 637.6L185.0 639.4L188.6 640.2M183.0 588.7L184.7 590.1L186.4 591.4L188.3 592.3L190.0 593.6" fill="none" stroke="#000" stroke-width="0.6" stroke-opacity="0.17" stroke-linecap="round" stroke-linejoin="round"/>
<path d="M204.3 662.0L205.8 663.3L207.3 664.6L208.9 665.7L210.3 667.0M208.8 660.3L210.5 661.7L212.0 663.4L213.4 665.2L215.3 666.3M207.7 655.0L209.7 657.2L212.0 659.1L214.3 661.1L216.5 663.1M149.3 606.0L151.8 608.1L154.4 609.9L156.9 612.0L159.5 613.9M183.5 668.4L185.0 669.3L186.5 670.2L188.0 671.2L189.4 672.2M208.5 639.9L210.7 641.2L212.7 642.5L214.9 643.7L216.8 645.2M162.7 599.8L164.7 601.3L166.4 603.2L168.5 604.6L170.5 606.1M139.2 571.6L141.3 572.8L143.2 574.2L145.3 575.4L147.3 576.8M175.9 640.0L179.1 641.6L182.4 642.8L185.6 644.5L188.7 646.1M218.1 642.0L221.1 643.2L223.3 645.5L226.0 647.3L228.9 648.8M139.1 595.8L141.3 598.0L143.1 600.5L145.8 601.9L148.3 603.7M177.1 632.8L179.2 633.7L181.4 634.4L183.3 635.7L185.2 636.8M234.2 609.0L235.9 609.6L237.6 610.5L239.4 611.0L241.0 611.9M173.4 637.5L175.6 638.3L177.9 638.8L180.1 639.5L182.1 640.6M181.3 648.8L184.8 649.9L188.0 651.8L191.2 653.8L194.1 656.2M212.5 628.9L214.2 629.9L216.0 630.9L217.8 631.9L219.3 633.3M172.0 679.8L174.9 681.5L177.7 683.5L180.3 685.6L183.1 687.5M238.5 646.0L240.7 648.0L242.9 650.1L244.9 652.4L246.8 654.6M146.6 570.8L149.6 572.4L152.1 574.7L154.1 577.4L156.7 579.7M167.9 610.5L169.8 611.6L171.6 612.7L173.4 614.0L175.2 615.1M161.8 666.0L163.4 666.8L165.2 667.4L166.7 668.5L168.3 669.3M153.6 596.9L155.7 598.9L157.6 600.9L159.7 602.9L162.2 604.2M223.5 601.8L225.8 602.4L228.0 603.3L230.3 604.0L232.4 605.2M135.8 631.9L137.6 633.4L139.6 634.7L141.5 636.3L143.5 637.5M194.7 676.1L196.8 678.1L198.8 680.3L201.0 682.2L202.7 684.6M186.2 620.7L189.3 621.9L192.5 622.6L195.5 623.9L198.5 625.2M165.6 609.9L167.0 611.2L168.7 612.3L170.5 613.1L172.2 614.1M233.6 682.3L235.7 683.5L237.3 685.2L239.3 686.5L241.2 688.0M192.2 595.8L194.6 597.1L197.0 598.1L199.3 599.6L201.7 600.7M134.5 651.1L135.8 652.1L137.3 652.9L138.6 653.8L140.2 654.3M130.0 607.7L131.7 609.2L133.4 610.5L134.8 612.2L136.6 613.5M129.1 614.6L130.5 615.9L131.9 617.1L133.3 618.3L134.8 619.5M225.6 585.6L227.1 586.2L228.7 586.6L230.1 587.4L231.5 588.2M221.7 666.3L224.2 668.6L226.8 670.6L229.1 673.1L231.7 675.3M223.1 675.5L226.1 677.4L228.2 680.3L231.1 682.3L234.0 684.5M143.4 640.8L146.5 642.2L149.6 643.4L152.2 645.6L155.3 646.9M202.7 585.1L205.5 586.7L208.4 588.2L211.1 590.1L213.7 592.0M199.0 677.5L200.4 679.0L201.7 680.7L203.3 682.1L204.9 683.4M168.8 614.8L171.3 616.4L174.0 617.7L177.0 618.3L179.9 618.9M150.7 582.0L152.1 583.3L153.7 584.3L155.0 585.7L156.3 587.1M201.4 603.8L204.0 605.3L207.0 605.2L209.7 606.5L212.2 608.1M150.0 638.3L151.7 639.3L153.5 640.3L155.2 641.4L157.0 642.2M215.5 613.2L218.1 614.6L220.9 615.9L223.5 617.3L226.4 618.1M163.5 603.3L165.7 605.3L168.3 606.9L170.6 608.8L173.2 610.3M122.7 596.4L125.3 598.0L127.8 599.7L130.1 601.7L131.7 604.3M194.6 672.0L197.0 674.0L199.3 676.2L201.9 678.1L204.2 680.2M202.3 642.4L205.3 644.5L208.7 645.7L211.8 647.4L214.9 649.3M125.1 669.8L127.0 670.3L128.8 671.1L130.7 671.5L132.6 671.9M232.1 645.8L234.2 648.0L236.4 650.2L238.3 652.7L240.3 655.0M195.7 683.4L197.8 685.0L199.5 687.0L201.0 689.1L203.0 690.8M182.8 596.7L184.2 597.2L185.4 598.2L186.6 599.1L187.9 599.8M133.0 575.5L135.6 577.6L138.5 579.0L141.3 580.8L143.4 583.3M204.5 654.3L206.5 656.3L208.9 657.8L211.4 659.3L213.4 661.3M233.0 636.0L235.7 638.6L238.4 641.2L241.1 643.7L243.8 646.3M150.5 659.7L152.0 660.6L153.5 661.4L155.1 661.8L156.7 662.4M235.1 610.7L236.9 611.7L238.9 612.2L240.8 612.8L242.6 613.8M165.5 616.9L166.9 617.7L168.3 618.4L169.8 618.9L171.3 619.5M238.2 595.4L240.5 597.4L243.2 598.7L246.0 599.9L249.0 600.5M143.9 671.7L146.4 672.8L148.9 674.0L151.5 675.0L154.0 676.0M146.6 680.7L150.2 681.8L153.8 682.6L157.0 684.5L160.4 686.2M187.7 608.9L189.3 609.9L191.1 610.6L192.8 611.5L194.6 611.7M155.5 577.7L157.9 579.4L160.1 581.4L162.0 583.6L164.1 585.7M122.4 632.5L125.1 635.0L128.0 637.4L130.8 639.9L133.7 642.3M237.6 675.7L238.6 676.9L239.8 677.8L241.1 678.7L242.4 679.6M183.4 576.0L186.1 578.1L188.5 580.5L191.3 582.3L194.3 583.8M232.1 664.7L234.6 667.3L237.7 669.1L240.5 671.3L243.2 673.6M214.3 662.7L215.7 663.6L217.0 664.5L218.0 665.8L219.3 666.8M167.8 639.4L169.8 640.5L171.9 641.4L174.1 641.8L176.2 642.6M212.1 602.1L214.0 602.6L215.8 603.3L217.1 604.7L218.8 605.6M192.8 681.0L195.8 683.2L198.4 685.7L200.8 688.4L203.4 691.0M150.3 619.2L152.2 621.1L154.6 622.3L157.1 623.5L159.5 624.6M225.7 681.8L228.1 683.6L230.6 685.5L233.1 687.4L235.1 689.8M201.8 611.2L204.7 612.4L207.7 613.6L210.8 613.9L213.8 614.9M181.0 686.6L182.3 687.9L183.6 689.2L185.3 690.1L186.4 691.6M182.6 591.8L184.7 594.3L187.7 595.6L190.3 597.5L192.8 599.5M222.9 644.6L223.8 645.9L224.9 646.9L225.9 648.1L227.1 649.1M185.1 593.6L186.7 595.1L188.6 596.3L190.4 597.5L192.4 598.4M154.7 570.9L156.5 572.5L158.4 573.9L160.2 575.5L161.9 577.2M199.4 575.3L200.8 576.4L202.4 577.1L203.9 578.1L205.5 578.9M237.5 593.8L239.9 593.7L242.1 594.8L244.5 595.4L246.8 596.3M208.5 578.7L210.4 580.7L213.0 581.9L215.6 582.9L218.1 584.3M175.0 624.5L177.0 625.3L178.9 626.1L180.7 627.0L182.5 628.0M169.1 577.6L170.6 579.0L172.1 580.4L173.7 581.7L175.0 583.2M160.8 620.3L162.1 621.0L163.6 621.6L164.8 622.5L166.1 623.3M216.8 574.7L219.4 576.2L221.7 578.0L224.3 579.4L227.1 580.1M206.5 583.2L209.7 584.7L212.9 586.3L216.2 587.6L219.2 589.5M146.2 577.9L148.1 579.7L150.0 581.3L152.1 582.8L154.0 584.6M223.8 667.6L225.3 669.1L226.7 670.6L228.1 672.1L229.6 673.6M208.2 641.7L209.9 643.0L211.9 643.9L213.8 644.9L215.2 646.6M224.3 659.6L225.7 660.9L227.1 662.4L228.6 663.7L230.3 664.9M169.5 572.4L171.4 573.9L173.0 575.7L174.6 577.4L176.5 578.9M173.1 592.8L174.3 593.7L175.4 594.9L176.5 596.1L177.9 596.8M202.2 657.8L204.1 659.3L206.3 660.5L208.2 662.1L209.8 664.0M206.1 618.8L207.9 619.7L209.9 620.1L211.9 620.1L213.9 620.5M186.4 638.5L189.1 640.0L192.1 640.7L195.1 641.7L197.7 643.4M202.9 646.0L204.9 646.8L206.6 648.0L208.3 649.2L210.1 650.3M136.4 686.3L138.3 686.7L140.1 687.4L141.7 688.4L143.2 689.7M200.7 634.3L204.0 635.4L207.2 636.3L210.3 637.8L213.0 639.8M152.6 658.1L155.6 658.9L158.5 660.2L161.4 661.3L164.5 662.1M162.9 615.2L165.6 617.0L168.5 618.6L171.5 619.8L174.5 621.0M144.9 597.0L147.7 599.4L151.0 600.8L153.7 603.3L156.4 605.7M181.7 686.4L182.8 687.5L183.8 688.8L185.0 690.0L186.1 691.2M152.3 571.1L154.3 572.5L156.1 574.0L158.2 575.4L160.0 577.0M234.4 616.1L237.4 617.7L240.3 619.3L242.9 621.4L245.7 623.2M153.2 629.9L155.7 630.9L157.8 632.5L160.1 633.8L162.5 635.1M200.2 617.1L202.4 617.8L204.6 618.3L206.8 618.8L208.9 619.4M132.0 589.4L133.6 591.1L135.4 592.7L137.3 594.2L139.1 595.6M168.8 594.4L170.1 595.4L171.3 596.5L172.6 597.3L173.8 598.5M182.9 576.0L185.0 578.1L187.3 579.9L189.4 581.9L191.7 583.8M179.9 586.7L182.3 588.4L184.2 590.6L186.9 591.7L189.1 593.6M155.5 673.5L158.3 674.4L160.5 676.2L162.8 678.0L165.3 679.5M128.7 657.0L130.3 657.8L131.8 658.5L133.4 659.3L135.0 659.8M181.0 633.8L184.1 634.8L187.0 636.2L189.9 637.7L192.9 638.7M150.7 631.2L153.5 632.9L156.2 634.5L159.2 635.8L162.3 636.8M125.7 599.7L127.0 600.9L128.1 602.3L129.2 603.7L130.4 605.0M167.8 671.7L169.1 672.7L170.5 673.5L171.7 674.5L173.2 675.2M237.4 596.0L240.5 597.9L243.9 599.5L247.3 600.9L250.8 602.2M129.8 665.6L132.7 666.2L135.7 666.6L138.6 667.7L141.4 668.9M228.7 594.4L230.5 595.1L232.4 595.6L234.1 596.4L235.8 597.3M192.3 592.1L195.3 594.1L198.4 596.0L201.6 597.5L205.0 598.9M177.3 601.2L179.7 602.9L182.0 604.6L184.3 606.4L187.0 607.5M183.9 654.2L185.7 654.7L187.4 655.7L189.0 656.8L190.6 657.9M139.8 605.7L141.2 608.2L143.3 610.2L145.5 612.1L147.8 614.0M217.3 600.3L220.2 601.6L222.9 603.2L225.7 604.5L228.3 606.2M189.5 572.9L192.0 574.5L194.6 576.1L197.1 577.7L199.7 579.0M151.4 676.2L153.3 677.2L155.0 678.5L156.8 679.5L158.7 680.5M219.9 628.6L222.5 629.5L224.9 630.8L227.2 632.2L229.2 634.1M215.6 597.4L217.3 598.3L219.0 599.1L220.8 599.8L222.5 600.6M236.3 671.2L237.8 672.9L239.5 674.2L241.4 675.4L243.1 676.8M159.3 689.2L160.4 690.3L161.6 691.3L163.0 692.1L164.3 692.9M235.5 687.6L237.3 688.6L238.9 689.8L240.7 690.8L242.3 692.0M152.2 600.1L154.1 602.1L156.3 603.7L158.5 605.4L160.4 607.5M176.7 634.7L179.5 635.1L182.2 635.7L184.8 636.8L187.3 638.0M133.5 674.6L135.0 675.1L136.6 675.4L138.2 675.9L139.8 676.5M188.4 613.9L191.0 615.1L193.6 616.3L196.4 617.0L199.3 617.3M184.5 641.6L187.9 642.7L190.9 644.9L194.2 646.4L197.5 647.9M211.4 642.6L213.0 643.8L214.8 644.7L216.6 645.6L218.2 646.7M233.0 594.2L235.1 594.7L237.1 595.5L239.0 596.4L241.0 597.1M232.4 645.5L234.8 647.1L236.7 649.2L238.6 651.2L240.8 653.1M205.7 599.2L207.6 599.7L209.3 600.6L211.2 601.3L213.0 601.9M156.5 639.9L158.1 640.1L159.6 640.4L161.1 641.0L162.6 641.5M186.4 605.9L189.4 607.0L192.3 608.3L195.1 609.8L198.0 611.0M127.6 593.8L130.8 595.3L132.8 598.2L135.3 600.7L137.7 603.4M164.8 580.9L166.6 582.8L168.5 584.6L170.3 586.6L172.4 588.3M203.9 655.8L206.2 656.9L208.0 658.6L210.0 660.2L211.8 661.9M193.5 674.4L195.1 675.8L196.6 677.4L198.4 678.6L200.2 679.9M170.0 587.2L171.6 588.7L173.2 590.2L175.1 591.4L176.7 592.8M205.6 653.2L208.0 655.3L210.5 657.2L213.2 659.0L215.2 661.4M183.3 575.6L185.2 577.7L187.1 579.9L189.2 581.8L191.1 583.9M182.4 672.2L185.0 674.6L188.0 676.5L190.5 679.0L193.5 680.9M158.5 651.5L160.3 652.2L162.1 652.8L163.8 653.6L165.7 654.2M168.6 583.2L171.0 584.5L172.9 586.5L174.7 588.5L176.2 590.7M163.9 604.7L165.1 605.6L166.4 606.6L167.9 607.2L169.2 608.1M226.8 687.9L229.1 689.6L231.1 691.8L233.7 693.1L235.9 694.9M135.9 630.0L138.0 632.1L140.5 633.8L143.1 635.3L145.7 636.8M203.6 657.9L205.2 659.2L206.6 660.7L208.1 662.1L209.7 663.4M211.3 575.4L214.0 576.6L216.1 578.6L218.7 580.0L221.5 581.1M164.1 659.3L166.1 659.9L168.0 660.9L169.9 661.5L171.8 662.4M186.3 619.4L189.6 620.3L192.8 621.3L196.2 622.0L199.1 623.7M177.6 571.1L179.7 572.9L181.4 575.1L183.2 577.3L185.3 579.2M130.0 581.0L132.1 582.6L134.2 584.3L136.4 585.8L138.3 587.7M188.4 643.7L191.3 645.4L194.5 646.7L197.4 648.4L200.4 650.1M169.2 598.8L172.3 600.8L175.5 602.7L178.8 604.4L181.9 606.4M128.5 644.8L130.3 646.0L132.1 647.1L134.0 648.1L136.0 648.8M208.6 574.9L210.9 576.0L213.1 577.6L215.4 578.8L217.7 580.1M235.1 681.1L236.9 682.5L238.6 684.1L240.5 685.3L242.2 686.7M171.2 615.3L174.3 617.5L177.6 619.1L180.6 621.3L183.9 622.9M210.1 602.3L213.1 603.8L216.0 605.4L219.0 606.7L222.2 607.9M140.8 669.6L143.5 670.6L146.3 671.0L148.9 672.3L151.6 673.2M195.1 635.0L197.4 635.5L199.5 636.6L201.8 637.3L204.1 637.8M221.2 628.8L222.7 629.5L224.0 630.4L225.4 631.2L226.8 632.1M153.7 662.0L155.6 662.4L157.5 662.8L159.4 663.4L161.1 664.2M127.4 655.8L130.2 657.2L133.2 658.3L136.0 659.7L139.0 660.7M216.8 627.1L219.5 627.7L221.8 629.1L224.3 630.1L226.4 631.8M181.9 624.9L185.4 626.0L189.1 626.6L192.5 628.0L195.9 629.3M128.1 676.7L129.7 677.2L131.2 677.8L132.7 678.4L134.3 678.9M153.8 651.9L156.4 653.3L159.2 654.6L161.8 656.2L164.7 657.0M175.1 685.9L176.9 687.8L179.0 689.4L181.2 690.9L183.3 692.6M226.3 630.0L229.1 631.3L231.6 633.1L234.4 634.3L236.2 636.7M126.7 657.1L128.5 657.9L130.3 658.4L132.2 658.8L133.9 659.8M237.3 582.5L239.3 583.2L241.1 584.0L242.9 584.8L244.9 585.4M230.5 588.1L232.1 588.5L233.6 589.1L235.1 589.8L236.7 590.3M136.7 604.4L138.8 606.1L140.9 607.7L142.7 609.6L145.0 611.0M154.5 597.4L156.8 600.1L159.5 602.2L162.2 604.4L165.1 606.4M168.4 607.7L170.9 609.0L173.2 610.7L175.7 612.0L177.9 613.8M135.2 667.2L138.1 668.3L141.1 668.8L143.9 670.0L146.6 671.5M168.8 613.4L170.3 614.6L171.8 615.8L173.4 616.9L175.3 617.4M146.4 685.0L148.1 685.3L149.8 685.7L151.4 686.3L152.8 687.4M138.7 638.1L140.3 638.9L141.7 640.0L143.2 641.0L144.7 642.0M125.7 664.9L129.1 666.0L132.4 667.2L135.8 668.3L138.9 669.9M196.3 663.0L197.5 664.2L198.9 665.3L200.2 666.4L201.4 667.6M202.4 650.4L204.0 651.3L205.6 652.1L207.1 653.2L208.5 654.3M128.8 574.1L130.8 575.6L132.8 577.3L134.9 578.7L136.9 580.3M184.4 577.8L187.3 579.8L190.6 581.1L193.5 583.2L196.2 585.7M135.4 653.2L138.1 654.9L140.9 656.4L143.9 657.4L147.0 658.1M160.2 674.7L163.0 675.3L165.4 676.8L167.6 678.6L170.0 680.0M197.7 654.7L200.6 656.6L203.8 658.2L206.9 659.8L209.6 662.1M171.6 620.2L173.5 621.3L175.6 621.9L177.7 622.6L179.8 623.4M216.9 632.8L219.8 634.4L222.8 636.0L225.6 637.8L228.5 639.6M169.2 590.7L170.2 591.9L171.6 592.7L172.8 593.8L173.9 594.9" fill="none" stroke="#fff" stroke-width="0.7" stroke-opacity="0.22" stroke-linecap="round" stroke-linejoin="round"/>
<linearGradient id="g5" x1="0" y1="0" x2="0.3" y2="1"><stop offset="0" stop-color="#000" stop-opacity="0.13"/><stop offset="0.45" stop-color="#000" stop-opacity="0.0"/></linearGradient>
<rect x="127.2" y="575.7" width="106.30" height="108.50" fill="url(#g5)"/>
<circle cx="160.4" cy="609.1" r="0.71" fill="#1a1a1a" fill-opacity="0.65"/>
<circle cx="153.5" cy="657.3" r="0.44" fill="#1a1a1a" fill-opacity="0.65"/>
<circle cx="185.5" cy="614.4" r="0.77" fill="#1a1a1a" fill-opacity="0.65"/>
<circle cx="176.3" cy="634.6" r="0.59" fill="#1a1a1a" fill-opacity="0.65"/>
<circle cx="128.2" cy="670.7" r="0.56" fill="#1a1a1a" fill-opacity="0.65"/>
<circle cx="212.8" cy="654.6" r="0.51" fill="#1a1a1a" fill-opacity="0.65"/>
<circle cx="207.7" cy="673.8" r="0.68" fill="#1a1a1a" fill-opacity="0.65"/>
<circle cx="226.3" cy="598.1" r="0.32" fill="#1a1a1a" fill-opacity="0.65"/>
<circle cx="210.5" cy="681.3" r="0.72" fill="#1a1a1a" fill-opacity="0.65"/>
<circle cx="228.9" cy="671.0" r="0.33" fill="#1a1a1a" fill-opacity="0.65"/>
<circle cx="218.8" cy="618.2" r="0.71" fill="#1a1a1a" fill-opacity="0.65"/>
<circle cx="149.2" cy="619.3" r="0.58" fill="#1a1a1a" fill-opacity="0.65"/>
<circle cx="162.9" cy="613.7" r="0.75" fill="#1a1a1a" fill-opacity="0.65"/>
<circle cx="207.1" cy="677.4" r="0.32" fill="#1a1a1a" fill-opacity="0.65"/>
<circle cx="162.4" cy="682.9" r="0.79" fill="#1a1a1a" fill-opacity="0.65"/>
<circle cx="224.6" cy="596.9" r="0.52" fill="#1a1a1a" fill-opacity="0.65"/>
<circle cx="233.0" cy="611.9" r="0.48" fill="#1a1a1a" fill-opacity="0.65"/>
<circle cx="207.8" cy="675.9" r="0.43" fill="#1a1a1a" fill-opacity="0.65"/>
<circle cx="168.4" cy="589.2" r="0.64" fill="#1a1a1a" fill-opacity="0.65"/>
<circle cx="200.4" cy="637.0" r="0.71" fill="#1a1a1a" fill-opacity="0.65"/>
<circle cx="177.2" cy="682.7" r="0.62" fill="#1a1a1a" fill-opacity="0.65"/>
<circle cx="135.2" cy="615.0" r="0.34" fill="#1a1a1a" fill-opacity="0.65"/>
<circle cx="174.0" cy="584.3" r="0.38" fill="#1a1a1a" fill-opacity="0.65"/>
<circle cx="199.4" cy="661.4" r="0.50" fill="#1a1a1a" fill-opacity="0.65"/>
<circle cx="221.7" cy="619.0" r="0.45" fill="#1a1a1a" fill-opacity="0.65"/>
<circle cx="183.2" cy="667.4" r="0.36" fill="#1a1a1a" fill-opacity="0.65"/>
<circle cx="232.8" cy="582.8" r="0.45" fill="#1a1a1a" fill-opacity="0.65"/>
<circle cx="148.1" cy="677.7" r="0.54" fill="#1a1a1a" fill-opacity="0.65"/>
<circle cx="180.1" cy="654.5" r="0.79" fill="#1a1a1a" fill-opacity="0.65"/>
<circle cx="151.2" cy="628.8" r="0.64" fill="#1a1a1a" fill-opacity="0.65"/>
</g>
<g clip-path="url(#ci6)">
<rect x="235.6" y="575.7" width="106.80" height="108.50" fill="#dedede"/>
<rect x="235.6" y="575.7" width="106.80" height="108.50" filter="url(#nz)" opacity="0.15"/>
<path d="M289.7 683.3L290.5 680.3L291.3 677.3L292.0 674.3L293.0 671.4M240.1 624.9L243.2 623.1L245.4 620.3L248.4 618.3L251.1 615.9M346.6 601.2L347.3 598.8L348.2 596.5L349.1 594.2L350.2 592.0M323.3 627.6L324.8 624.7L325.7 621.5L326.3 618.2L327.2 615.0M235.3 579.3L237.1 576.0L239.0 572.7L241.4 569.8L243.5 566.7M317.8 672.5L319.7 670.9L320.6 668.5L321.8 666.3L323.1 664.1M345.2 622.0L346.2 619.4L348.0 617.2L349.2 614.7L350.5 612.2M260.5 656.9L261.5 654.8L262.4 652.6L263.6 650.5L264.4 648.3M284.0 649.5L284.9 647.4L285.1 645.2L285.8 643.1L286.2 640.9M285.6 577.2L286.8 575.4L287.9 573.5L289.1 571.6L290.3 569.8M302.1 573.2L302.9 571.8L303.5 570.4L304.4 569.1L305.3 567.8M292.2 651.8L293.4 648.8L294.2 645.7L294.7 642.5L295.6 639.4M333.5 643.2L334.6 640.2L336.2 637.5L337.4 634.6L339.2 631.9M255.1 583.4L256.1 582.3L257.2 581.2L258.5 580.4L259.6 579.4M300.6 603.4L301.9 600.4L303.5 597.5L304.9 594.5L305.3 591.2M313.5 640.6L314.7 637.1L315.7 633.6L316.6 630.0L317.9 626.6M297.7 647.5L298.9 644.2L299.9 640.8L301.0 637.4L301.4 633.9M245.9 621.0L247.3 619.8L248.5 618.5L249.8 617.2L251.2 616.0M333.3 646.0L335.1 643.8L336.6 641.4L337.6 638.7L339.2 636.2M276.3 598.8L277.6 596.6L279.2 594.5L280.9 592.4L282.2 590.1M311.5 579.3L312.3 576.9L313.4 574.7L314.1 572.3L315.4 570.1M276.5 681.8L277.2 678.9L278.1 676.1L278.9 673.3L279.3 670.3M337.1 604.5L337.3 602.8L337.8 601.1L338.3 599.5L338.7 597.8M296.0 651.0L296.3 649.2L297.1 647.4L297.6 645.6L298.0 643.8M336.0 601.1L336.9 598.4L337.1 595.5L338.1 592.8L338.4 589.9M329.0 650.8L330.5 648.8L331.4 646.6L332.6 644.5L333.8 642.4M328.7 687.5L330.8 685.1L332.2 682.3L334.7 680.2L336.7 677.8M337.8 633.9L339.4 631.9L340.2 629.4L341.7 627.4L342.9 625.1M325.2 686.0L327.4 683.6L329.7 681.3L331.9 678.9L333.7 676.2M250.0 677.8L250.9 676.2L251.6 674.6L252.2 672.8L253.3 671.4M269.7 643.7L271.4 640.5L272.9 637.3L274.2 634.0L274.8 630.4M273.7 682.0L274.3 679.1L274.8 676.3L275.5 673.4L275.8 670.5M248.9 587.2L250.1 585.6L251.4 584.1L252.8 582.6L254.4 581.4M323.3 669.5L324.7 667.0L326.2 664.5L327.9 662.1L329.0 659.4M300.3 634.9L300.8 633.4L301.2 631.8L301.8 630.2L302.0 628.6M337.4 682.7L338.4 680.9L339.9 679.4L341.2 677.8L342.4 676.0M261.1 586.5L262.6 584.2L264.4 582.1L266.3 580.1L268.4 578.4M252.3 651.6L253.9 649.1L255.6 646.7L257.2 644.2L258.8 641.6M342.7 657.5L344.4 655.6L345.9 653.6L347.7 651.8L349.3 649.9M305.2 638.4L306.0 635.8L306.9 633.4L308.0 631.0L308.6 628.4M304.0 680.4L305.0 678.7L305.9 676.9L306.7 675.0L307.8 673.3M329.9 654.5L331.3 651.7L332.6 648.8L334.4 646.2L336.4 643.8M251.1 593.1L253.0 591.2L255.1 589.4L256.7 587.2L258.5 585.2M338.3 628.9L339.1 627.6L339.9 626.2L340.3 624.7L340.9 623.2M249.1 608.7L251.7 606.5L253.6 603.6L255.5 600.7L257.0 597.6M319.4 594.9L320.2 592.5L320.8 589.9L321.7 587.5L321.9 584.9M308.8 584.7L309.2 583.3L309.5 581.8L309.9 580.3L310.5 578.9M336.1 639.9L337.2 638.2L337.9 636.4L338.8 634.6L339.6 632.8M265.9 615.4L267.5 612.9L269.1 610.4L271.0 608.1L273.1 605.9M295.5 584.1L296.6 582.6L297.4 580.8L298.3 579.2L299.3 577.6M292.7 590.1L293.3 588.6L294.1 587.2L294.7 585.7L295.4 584.3M258.5 674.7L260.2 671.8L261.9 668.8L262.8 665.5L263.2 662.1M292.7 597.8L294.2 594.6L295.5 591.4L297.0 588.3L298.8 585.4M275.7 688.7L275.7 686.2L276.3 683.8L276.6 681.3L277.3 678.9M287.3 611.9L288.2 609.9L289.1 608.0L290.0 606.1L291.0 604.2M265.2 627.5L266.5 626.1L267.5 624.5L268.7 622.9L269.7 621.3M280.4 596.4L281.5 593.9L283.0 591.6L284.8 589.6L286.6 587.5M242.7 641.5L243.9 639.8L245.0 638.0L246.3 636.4L248.1 635.3M322.9 680.0L324.8 677.4L327.0 675.2L328.4 672.3L330.3 669.8M295.7 683.1L297.2 680.9L298.1 678.4L298.5 675.7L298.8 673.0M321.6 624.9L322.5 622.5L323.5 620.1L324.3 617.7L324.7 615.1M276.2 685.0L276.7 683.2L277.2 681.3L277.4 679.4L277.6 677.5M333.8 643.6L335.9 640.6L337.7 637.4L339.6 634.3L341.1 631.0M322.1 581.4L322.8 579.4L323.5 577.4L324.2 575.4L324.9 573.4M302.1 687.1L303.6 684.2L305.0 681.2L306.2 678.1L308.0 675.3M320.4 684.5L321.3 683.1L322.2 681.7L323.1 680.3L324.0 678.8M240.9 600.9L243.5 598.4L246.6 596.3L249.3 593.9L251.7 591.1M248.3 678.6L249.3 676.5L250.4 674.5L251.0 672.3L252.3 670.4M333.9 586.4L334.5 583.4L335.8 580.6L336.6 577.6L338.0 574.9M250.6 596.3L251.5 594.9L253.0 593.9L254.1 592.6L255.0 591.1M278.7 682.8L279.4 680.4L279.8 678.0L280.1 675.6L280.5 673.2M316.6 588.2L317.1 586.6L317.5 585.0L317.9 583.4L318.7 581.9M324.1 660.1L325.3 658.4L326.3 656.7L327.4 654.9L328.1 653.0M239.4 606.0L241.3 604.2L243.0 602.1L244.6 599.9L246.9 598.5M345.1 581.4L345.8 578.1L346.2 574.7L346.7 571.3L347.7 568.0M263.7 598.8L264.8 597.8L265.9 596.7L267.0 595.7L268.1 594.6M250.0 621.6L251.6 620.1L253.2 618.6L254.6 617.0L255.9 615.2M272.8 606.7L274.4 604.7L275.9 602.8L277.2 600.7L278.8 598.9M320.1 617.8L321.1 614.6L322.4 611.5L323.0 608.3L324.0 605.0M298.7 609.1L299.5 606.7L300.1 604.2L300.4 601.7L300.9 599.2M335.6 577.6L335.9 574.6L336.0 571.6L336.7 568.7L337.3 565.7M340.3 635.3L342.3 632.5L344.0 629.4L346.0 626.5L347.9 623.6M330.8 612.0L331.5 610.0L332.2 608.1L332.6 606.1L333.1 604.0M304.3 657.0L304.8 655.2L305.5 653.4L305.8 651.5L306.4 649.7M296.2 651.8L296.5 649.2L297.2 646.7L297.7 644.1L298.3 641.6M317.6 609.1L318.2 605.5L318.9 601.9L320.8 598.7L321.5 595.1M299.7 571.3L302.0 568.4L303.7 565.0L304.8 561.5L306.8 558.3M234.4 586.6L235.3 585.2L236.0 583.6L237.0 582.3L237.8 580.8M261.0 685.7L261.8 683.4L262.8 681.1L263.1 678.6L263.9 676.2M253.0 627.2L254.2 625.8L255.5 624.5L256.8 623.1L257.9 621.6M241.4 607.2L242.8 605.3L244.0 603.2L245.4 601.2L246.8 599.4M295.8 624.9L296.5 623.0L297.1 621.2L297.6 619.3L298.0 617.3M270.9 688.8L271.6 686.4L272.5 684.1L273.2 681.8L273.8 679.4M293.4 649.6L293.8 647.3L294.4 645.1L295.2 642.9L295.9 640.6M318.0 594.2L319.2 591.3L319.2 588.2L320.6 585.4L322.2 582.6M237.2 634.8L239.1 632.3L241.2 630.1L243.3 627.8L245.3 625.5M253.3 665.7L253.8 663.5L254.9 661.5L255.7 659.4L256.7 657.4M340.3 634.4L341.3 632.0L342.8 629.9L344.6 628.1L346.6 626.4M238.6 592.6L240.1 589.5L241.1 586.3L242.9 583.4L244.2 580.2M273.7 663.6L274.6 661.2L275.3 658.7L275.4 656.1L276.3 653.7M338.5 689.1L339.9 686.9L341.4 684.8L343.2 682.9L345.0 681.1M274.6 641.2L275.7 639.3L276.7 637.3L277.0 635.1L277.7 633.0M341.6 685.4L342.8 684.3L344.0 683.2L345.2 682.2L346.3 681.1M277.6 679.7L278.7 676.3L279.4 672.8L280.3 669.3L281.6 665.9M305.7 574.8L306.4 573.3L307.3 571.9L308.1 570.5L309.0 569.1M310.7 600.5L310.9 598.8L311.2 597.1L311.8 595.4L312.1 593.7M268.4 648.7L269.0 647.2L269.9 645.8L270.1 644.2L270.7 642.6M279.3 617.1L280.5 615.8L281.0 614.1L282.2 612.9L283.2 611.4M295.8 614.7L296.7 612.6L297.7 610.4L298.1 608.1L298.8 605.8M275.0 580.6L276.7 577.9L278.9 575.5L281.1 573.1L283.0 570.4M340.5 661.4L342.4 658.6L344.7 656.0L347.1 653.7L349.8 651.6M332.4 641.5L333.0 638.2L334.6 635.3L336.8 632.8L338.8 630.0M319.5 582.3L319.9 579.2L320.3 576.1L321.4 573.2L322.5 570.2M283.1 641.6L284.1 639.4L284.6 637.1L285.2 634.8L286.1 632.6M269.9 669.3L271.0 666.2L271.9 663.0L272.6 659.8L273.8 656.8M251.0 630.3L252.8 628.5L254.2 626.4L255.9 624.5L257.6 622.5M331.2 681.5L333.1 679.1L334.9 676.7L336.8 674.5L338.7 672.2M339.1 643.9L340.6 640.6L341.7 637.1L343.9 634.3L345.7 631.1M252.4 659.6L253.4 658.1L254.5 656.6L255.6 655.2L256.2 653.4M329.5 679.2L331.9 676.7L334.4 674.3L336.6 671.5L339.2 669.2M280.1 612.9L281.9 610.6L283.3 608.0L284.8 605.5L286.1 602.9M243.3 654.0L244.5 651.3L246.6 649.1L248.5 646.7L250.1 644.2M306.6 624.9L307.6 622.0L308.7 619.2L309.9 616.4L310.4 613.4M244.7 607.1L245.7 605.8L246.5 604.4L247.5 603.2L248.6 602.0M248.2 668.6L249.4 666.0L250.8 663.7L251.9 661.1L253.6 658.9M345.0 614.9L345.7 613.5L346.4 612.0L346.9 610.5L348.0 609.2M336.2 581.5L336.6 578.6L337.6 575.8L338.2 572.9L338.7 570.1M270.1 578.0L272.1 575.7L274.3 573.6L276.7 571.8L278.7 569.7M278.1 639.7L279.2 637.5L280.2 635.2L280.9 632.8L281.8 630.5M265.0 582.8L267.4 580.5L269.3 577.8L271.3 575.2L273.5 572.8M272.2 653.3L274.3 650.6L276.1 647.6L277.1 644.3L278.8 641.3M309.1 607.8L310.4 604.7L311.0 601.4L311.9 598.2L312.0 594.9M332.5 584.8L332.9 583.3L333.3 581.8L333.9 580.3L334.4 578.8M280.0 583.3L281.1 581.8L282.7 580.9L283.7 579.3L284.6 577.8M337.5 686.4L339.0 685.1L340.2 683.5L341.6 682.0L342.8 680.5M306.8 645.3L307.7 642.3L308.6 639.3L308.5 636.2L309.5 633.2M267.3 687.4L267.5 685.4L267.8 683.4L268.2 681.4L268.9 679.5M270.6 682.1L271.6 679.1L273.0 676.2L274.2 673.2L275.4 670.2M312.8 582.7L314.1 581.0L314.8 578.9L315.6 577.0L316.7 575.1M270.8 629.9L272.6 627.0L274.5 624.1L276.3 621.2L277.9 618.2M267.5 665.8L268.6 662.5L269.5 659.2L271.2 656.2L272.7 653.0M288.6 625.7L289.6 623.3L290.3 620.8L290.6 618.2L291.3 615.8M310.7 686.7L311.7 685.1L312.6 683.6L313.6 682.1L314.8 680.7M261.6 686.1L262.6 683.6L263.0 680.9L263.8 678.3L264.9 675.9M345.1 663.1L347.0 662.0L348.5 660.2L350.1 658.7L351.4 656.8M270.9 672.5L271.5 670.0L272.2 667.4L272.9 665.0L273.7 662.5M314.8 602.1L315.7 600.0L316.4 597.8L317.4 595.7L317.8 593.5M341.3 668.7L342.5 667.3L343.9 666.0L345.3 664.8L346.5 663.4M296.3 625.7L296.6 622.4L296.5 619.0L297.1 615.7L298.5 612.6M332.2 572.4L332.6 569.3L333.6 566.4L334.2 563.3L335.4 560.4M345.7 642.8L346.5 641.5L347.7 640.4L348.6 639.2L349.7 638.1M284.1 633.3L284.5 631.7L285.4 630.2L285.5 628.6L286.1 627.0M335.7 588.4L336.2 584.7L337.4 581.2L338.8 577.8L339.1 574.1M267.2 670.3L267.8 668.6L268.1 666.8L268.9 665.2L269.5 663.5M337.2 600.6L338.4 597.4L339.8 594.3L340.7 591.0L341.2 587.5M312.7 675.1L314.3 672.6L315.6 669.8L317.1 667.1L318.2 664.3M240.5 668.8L241.3 667.5L242.2 666.3L242.7 664.9L243.5 663.7M286.2 669.0L286.6 666.5L287.0 664.0L287.8 661.6L288.7 659.2M257.7 661.8L258.3 660.0L259.3 658.4L260.0 656.7L260.9 655.1M309.9 605.7L311.0 602.2L311.7 598.6L312.8 595.2L313.9 591.7M269.2 625.5L270.4 622.8L272.0 620.2L273.8 617.8L274.7 615.0M244.0 624.4L245.9 622.9L247.0 620.9L248.4 619.1L249.9 617.3M299.4 654.4L300.0 650.9L301.0 647.6L302.4 644.3L303.0 640.8M295.7 572.4L297.5 570.0L299.1 567.6L300.3 564.8L302.2 562.6M335.6 678.2L337.3 675.8L339.4 673.7L341.5 671.7L343.7 669.8M283.2 622.2L284.6 619.0L284.8 615.6L286.5 612.6L287.5 609.2M330.0 686.4L331.6 684.9L333.2 683.3L334.7 681.7L335.9 679.8M324.8 637.9L325.4 636.3L326.2 634.7L327.1 633.2L328.0 631.7M257.5 647.2L259.3 644.0L261.9 641.4L263.5 638.1L265.1 634.8M287.7 614.0L289.0 612.1L289.9 610.0L291.1 608.0L291.9 605.8M339.3 668.6L340.8 667.0L342.4 665.5L343.5 663.6L345.0 662.0M307.0 586.7L308.3 583.9L309.4 581.0L310.8 578.2L312.3 575.5M258.9 642.1L260.0 640.6L260.9 638.9L262.3 637.7L263.4 636.1M282.9 647.0L284.5 644.1L285.2 640.8L285.6 637.5L286.8 634.4M242.7 635.0L244.9 632.7L246.9 630.2L248.6 627.6L250.7 625.2M319.1 623.4L319.1 621.8L319.6 620.3L319.9 618.8L320.4 617.3M308.3 683.6L309.1 682.0L310.1 680.5L311.1 678.9L311.8 677.3M272.2 611.8L273.6 609.5L275.5 607.7L277.4 605.9L278.3 603.5M285.9 612.4L286.9 610.1L288.1 607.9L289.4 605.7L290.7 603.6M252.0 593.3L253.1 590.7L254.9 588.5L256.6 586.2L258.6 584.3M307.3 578.1L308.5 575.4L310.2 573.0L311.3 570.2L312.2 567.4M326.7 579.8L327.2 576.5L329.2 573.8L330.1 570.5L330.7 567.2M287.2 687.3L288.2 683.7L289.5 680.2L290.8 676.8L292.0 673.2M253.8 647.5L254.8 646.0L255.5 644.5L256.7 643.2L257.5 641.7M276.7 604.8L278.8 602.0L280.4 598.9L282.5 596.1L284.8 593.4M231.2 656.7L233.0 654.2L235.4 652.2L237.8 650.2L239.8 647.9M316.1 580.7L316.6 577.2L318.3 574.0L319.9 570.8L320.5 567.2M263.3 579.1L265.3 577.3L267.1 575.2L268.7 573.0L270.6 571.1M250.6 667.8L251.5 665.1L253.0 662.7L254.5 660.4L256.0 658.0M317.5 602.5L318.4 600.3L318.8 598.1L319.6 595.9L319.7 593.5M323.8 605.2L324.3 603.5L324.6 601.7L324.8 599.9L325.2 598.1M346.4 574.3L347.5 571.8L348.1 569.2L348.7 566.5L349.9 564.0M283.2 631.0L284.6 627.9L286.0 624.8L287.6 621.8L289.0 618.8M259.2 627.1L261.2 624.5L263.2 621.9L265.6 619.6L267.3 616.7M245.7 653.8L247.4 651.7L248.9 649.5L250.5 647.4L251.6 644.9M243.0 633.6L244.1 632.3L245.2 631.1L246.3 629.8L247.5 628.7M289.0 663.6L289.7 660.9L290.4 658.2L291.7 655.7L292.5 653.0M297.5 639.1L298.4 637.3L298.5 635.2L298.9 633.2L299.5 631.2M297.1 594.6L297.7 593.0L298.5 591.4L299.5 590.0L300.5 588.6M328.5 592.6L328.8 589.5L328.9 586.4L328.9 583.2L329.4 580.2" fill="none" stroke="#000" stroke-width="0.6" stroke-opacity="0.1" stroke-linecap="round" stroke-linejoin="round"/>
<path d="M241.7 590.4L243.5 588.3L245.3 586.2L247.1 584.0L248.3 581.5M256.1 632.4L256.7 631.0L257.7 629.9L258.6 628.7L259.5 627.4M296.1 590.1L297.3 588.6L297.9 586.9L298.9 585.5L299.8 583.9M302.8 570.8L304.0 568.5L305.5 566.2L306.6 563.8L308.0 561.6M297.9 625.6L298.6 624.1L298.9 622.5L299.3 620.8L299.9 619.3M241.2 657.3L242.8 655.5L244.0 653.6L245.2 651.5L246.6 649.7M243.0 611.7L245.4 608.9L248.3 606.9L251.0 604.5L253.7 602.1M296.0 662.1L296.3 660.5L296.7 659.0L297.2 657.5L297.3 655.9M243.3 655.4L244.7 653.7L246.1 652.0L247.3 650.2L248.6 648.4M262.3 574.8L264.6 571.9L267.5 569.6L269.8 566.6L272.7 564.3M244.9 669.6L245.8 667.8L247.1 666.3L248.0 664.5L248.7 662.6M294.0 592.0L295.0 590.2L296.1 588.4L297.1 586.6L298.2 584.8M326.3 639.6L327.1 637.8L328.0 636.1L328.8 634.3L329.3 632.4M333.6 651.3L335.0 649.0L336.5 646.9L338.3 645.0L339.8 642.8M272.4 638.7L273.4 636.8L274.4 634.9L275.4 633.0L276.5 631.2M294.4 681.3L294.9 678.8L295.9 676.5L296.0 674.0L296.8 671.6M309.3 601.1L309.7 598.7L310.2 596.3L311.1 594.1L311.7 591.8M331.1 650.9L332.1 649.5L333.2 648.2L334.0 646.6L334.8 645.1M261.2 627.0L262.0 625.3L263.4 624.1L264.6 622.7L265.7 621.3M280.0 579.9L281.5 577.8L282.9 575.6L284.8 573.7L286.4 571.7M323.6 585.4L324.9 582.8L325.7 580.0L326.6 577.3L327.2 574.4M234.4 591.8L236.3 590.0L237.5 587.7L239.1 585.5L240.5 583.3M316.2 609.9L316.5 608.3L316.7 606.7L317.2 605.1L317.6 603.5M268.9 617.8L269.4 616.1L270.5 614.8L271.8 613.5L272.6 611.9M249.7 607.7L251.4 606.2L253.0 604.6L254.7 603.1L256.1 601.3M278.1 588.8L280.3 586.5L282.2 584.0L283.8 581.3L286.0 579.1M323.6 574.4L324.5 571.6L325.4 568.9L326.3 566.1L326.9 563.3M270.4 590.0L272.4 588.0L274.8 586.6L276.8 584.7L279.0 582.9M249.4 680.6L250.0 677.9L250.6 675.1L251.8 672.6L252.9 670.0M249.8 577.7L251.0 576.2L251.9 574.5L253.2 573.1L254.5 571.7M312.2 630.7L313.8 627.4L314.1 623.7L314.6 620.1L315.5 616.5M246.8 634.0L248.6 632.5L250.6 631.1L252.4 629.6L254.1 628.0M245.9 603.4L247.1 602.4L248.0 601.2L249.1 600.1L250.1 599.0M279.5 586.5L281.0 584.8L282.5 583.2L284.1 581.6L285.7 579.9M243.5 646.6L246.2 644.3L248.9 642.0L250.9 639.1L253.3 636.5M285.3 681.9L285.9 678.8L286.7 675.8L287.2 672.8L287.8 669.7M240.2 660.6L241.6 658.2L242.6 655.6L244.0 653.3L245.6 651.0M305.4 629.3L306.2 627.6L306.6 625.9L307.3 624.2L307.8 622.4M265.3 687.9L266.2 684.8L267.3 681.7L267.6 678.5L268.2 675.4M340.6 605.9L341.0 604.1L341.7 602.5L341.7 600.7L342.1 598.9M292.9 584.8L294.4 582.1L295.6 579.3L297.3 576.8L299.1 574.3M305.0 659.3L305.6 657.5L306.2 655.8L307.0 654.1L307.6 652.3M251.9 673.5L252.9 670.0L254.7 666.9L256.4 663.7L257.9 660.4M274.4 582.7L277.2 580.4L279.7 577.8L281.5 574.6L284.6 572.6M346.5 687.9L349.0 685.2L351.7 682.6L353.8 679.5L356.4 676.8M330.1 635.6L330.7 632.7L332.2 630.1L333.3 627.3L334.7 624.6M287.7 639.3L287.8 637.3L288.7 635.4L289.3 633.4L289.7 631.4M246.7 592.4L248.8 589.8L251.0 587.3L253.2 584.7L255.5 582.3M301.6 634.4L301.8 631.2L302.6 628.1L303.3 625.0L304.1 621.9M333.2 679.0L334.3 677.5L335.4 675.9L336.9 674.7L338.3 673.4M278.8 591.0L280.7 589.0L282.1 586.6L284.0 584.6L285.6 582.3M323.2 590.0L324.3 586.6L325.0 583.1L325.8 579.6L326.4 576.0M236.1 574.6L237.9 572.1L239.4 569.5L240.7 566.7L242.2 564.0M295.7 604.1L297.1 601.0L298.8 598.1L300.5 595.1L301.4 591.8M257.0 653.9L258.0 652.3L258.8 650.5L259.9 649.0L260.9 647.3M287.4 622.8L288.6 620.7L289.5 618.5L290.1 616.2L290.8 613.9M328.8 607.6L329.4 605.9L329.8 604.2L330.3 602.4L330.7 600.7M242.8 661.0L244.7 658.7L246.6 656.2L248.9 654.1L250.5 651.5M285.3 648.9L285.6 645.3L286.6 641.9L287.5 638.5L288.1 634.9M344.3 635.9L345.6 633.7L347.0 631.4L348.6 629.3L350.1 627.2M329.0 590.0L330.0 587.6L330.2 585.0L330.6 582.4L331.1 579.8M276.4 596.4L277.9 594.4L279.4 592.3L281.0 590.4L283.0 588.9M337.9 601.1L339.1 598.3L339.4 595.2L340.1 592.2L341.0 589.3M304.1 624.8L304.6 622.4L304.9 620.0L304.9 617.5L305.8 615.2M315.2 666.3L315.9 664.4L317.0 662.7L318.1 661.0L318.9 659.1M258.5 677.0L259.2 675.1L259.9 673.3L260.4 671.3L261.2 669.5M261.9 660.9L263.3 658.2L265.0 655.6L266.2 652.8L267.3 649.9M325.9 633.3L327.2 631.5L327.7 629.2L328.9 627.3L330.0 625.3M232.4 624.7L233.8 623.6L235.1 622.3L236.4 621.0L237.7 619.7M283.7 620.9L285.4 618.3L286.7 615.4L288.4 612.8L289.1 609.8M294.0 598.2L295.6 595.0L296.7 591.6L298.0 588.3L299.7 585.2M324.2 667.5L325.3 666.3L326.2 665.0L327.0 663.6L328.1 662.4M249.7 660.3L251.0 657.3L253.0 654.7L255.0 652.0L257.1 649.5M332.6 656.8L333.6 655.4L334.4 653.8L335.6 652.7L336.4 651.2M332.9 574.8L333.3 572.5L334.2 570.4L334.6 568.1L335.3 565.9M294.8 678.2L295.9 675.6L296.6 672.8L297.8 670.2L299.0 667.6M312.4 664.4L312.8 662.0L313.8 659.8L314.7 657.6L315.8 655.4M253.1 629.8L255.3 627.3L257.1 624.7L259.0 622.1L261.2 619.7M301.4 674.7L301.8 673.0L302.1 671.4L302.9 669.8L303.7 668.3M325.4 581.9L326.6 579.2L327.5 576.5L328.2 573.8L329.2 571.1M237.2 574.1L238.9 571.0L240.4 567.9L241.7 564.6L243.3 561.6M270.1 646.6L270.3 644.2L271.3 641.9L272.4 639.8L273.1 637.4M324.4 600.9L325.2 597.5L325.5 594.0L326.9 590.7L327.4 587.2M245.9 648.4L246.9 647.2L247.5 645.8L248.4 644.5L249.2 643.2M280.4 673.0L281.2 669.7L281.9 666.5L282.4 663.2L282.2 659.9M279.4 625.4L280.2 623.9L281.2 622.5L281.7 620.9L282.2 619.3M330.1 676.5L332.4 673.8L334.3 670.9L336.9 668.5L338.7 665.5M312.8 655.0L313.6 653.6L314.3 652.2L315.1 650.8L315.8 649.4M254.8 579.4L257.5 576.9L259.9 574.2L261.8 571.1L264.5 568.6M241.1 587.0L241.9 585.2L242.8 583.4L244.0 581.8L245.1 580.2M244.0 643.1L244.9 641.8L245.9 640.7L247.0 639.5L248.3 638.6M288.6 663.7L289.6 661.8L290.1 659.8L290.9 657.8L291.4 655.8M314.6 642.4L316.0 639.3L317.7 636.2L317.7 632.8L318.6 629.4M271.7 597.8L273.6 595.7L275.2 593.5L276.6 591.0L278.3 588.8M335.3 606.5L335.8 604.3L336.4 602.1L337.1 600.0L337.8 597.9M276.4 667.8L277.1 664.5L278.0 661.2L278.9 658.0L279.6 654.6M346.9 662.4L348.3 660.9L349.8 659.5L351.3 658.1L352.6 656.5M301.3 662.9L301.8 661.0L302.5 659.2L302.6 657.2L303.4 655.4M249.6 669.7L250.2 668.0L251.0 666.3L251.8 664.7L252.8 663.1M315.9 683.8L317.0 682.3L318.3 680.9L319.6 679.6L320.8 678.2M327.1 575.8L327.9 573.6L328.3 571.2L329.2 569.0L329.9 566.8M294.2 656.8L295.2 654.4L295.9 652.0L296.2 649.5L296.6 646.9M280.8 585.0L282.6 583.3L284.4 581.7L285.9 579.8L287.1 577.7M311.0 608.0L311.4 605.1L312.5 602.3L313.0 599.4L313.5 596.5M337.3 619.1L338.6 615.7L340.1 612.2L341.4 608.7L342.6 605.2M336.4 603.8L337.2 601.3L338.4 598.9L339.2 596.4L340.1 594.0M253.8 661.0L255.4 658.4L257.2 655.8L258.4 653.0L259.9 650.4M249.4 637.1L250.3 635.8L251.6 634.8L252.2 633.3L253.2 632.0M263.6 649.9L264.5 646.8L266.0 643.8L266.8 640.6L268.1 637.5M290.7 597.2L291.6 594.8L292.8 592.5L293.7 590.1L295.3 588.2M299.0 577.1L300.1 575.7L300.4 574.0L301.3 572.6L302.1 571.1M346.5 597.3L347.9 594.2L349.2 591.1L350.8 588.1L351.7 584.9M255.2 596.2L257.4 593.7L259.8 591.5L261.7 588.8L264.2 586.5M313.1 656.9L314.1 655.0L315.1 653.1L315.6 651.0L316.5 649.0M254.0 667.5L255.2 665.3L256.0 663.0L257.6 661.1L258.3 658.8M334.0 633.8L336.0 631.1L337.7 628.2L339.0 625.1L340.7 622.2M280.2 647.6L281.7 644.7L282.2 641.4L282.8 638.1L283.9 634.9M257.6 654.4L258.5 652.5L259.3 650.7L260.4 648.9L261.5 647.2M307.1 622.4L308.7 619.3L309.7 615.9L310.9 612.6L311.8 609.3M284.8 616.9L285.9 614.7L286.5 612.3L287.4 610.1L288.6 607.9M332.3 600.7L332.6 599.0L333.1 597.2L333.5 595.4L333.7 593.6M267.8 644.2L269.0 641.8L270.1 639.5L271.6 637.4L272.1 634.8M274.1 590.5L275.7 588.4L277.6 586.7L279.5 584.9L280.6 582.6M238.1 679.6L239.0 678.1L240.0 676.5L240.6 674.7L241.8 673.4M303.9 632.2L304.8 629.2L305.2 626.1L306.3 623.2L306.6 620.1M264.4 671.9L264.7 669.8L265.6 667.7L265.8 665.5L266.2 663.4M334.7 655.4L336.5 653.0L337.8 650.3L339.4 647.7L341.0 645.2M286.8 625.9L287.8 622.4L289.3 619.0L291.1 615.8L291.5 612.1M303.0 661.6L303.5 659.9L304.0 658.2L304.4 656.5L304.6 654.8M287.0 653.1L287.5 650.7L288.4 648.4L289.0 646.1L289.1 643.6M257.4 606.7L258.7 605.2L260.0 603.7L261.5 602.4L262.8 601.0M328.9 620.8L330.4 617.3L331.7 613.8L333.8 610.7L334.8 607.1M240.9 609.7L242.5 607.3L244.3 605.1L246.4 603.2L248.0 600.8M294.5 620.1L294.7 618.4L295.0 616.6L295.5 614.9L296.2 613.2M316.2 578.8L317.0 575.6L318.3 572.5L319.0 569.2L320.8 566.3M316.6 666.5L317.7 664.4L319.0 662.3L320.1 660.2L321.5 658.3M255.1 680.6L255.7 678.8L256.2 676.8L256.9 675.0L257.8 673.3M258.4 683.4L259.3 680.6L259.6 677.7L260.5 675.0L261.0 672.1M252.3 632.7L253.4 630.7L254.9 629.1L256.4 627.4L257.4 625.4M338.5 627.1L340.3 624.3L341.6 621.3L343.0 618.4L344.4 615.4M291.3 622.8L292.5 620.8L293.1 618.6L294.0 616.5L294.6 614.3M268.5 592.3L269.6 590.2L270.7 588.2L271.9 586.2L273.7 584.6M310.4 590.3L311.0 588.3L311.5 586.4L312.0 584.4L312.6 582.4M232.5 687.4L233.7 685.4L234.5 683.1L235.7 681.1L236.3 678.8M342.6 617.5L343.5 616.1L344.3 614.6L345.3 613.2L345.9 611.6M307.1 597.3L307.8 594.6L309.4 592.4L310.3 589.7L311.0 587.0M241.8 655.2L242.8 653.9L243.8 652.6L244.4 651.1L245.3 649.7M279.7 680.1L280.8 677.4L282.0 674.8L282.6 671.9L282.8 669.0M300.4 577.5L301.2 575.8L302.2 574.3L303.4 572.9L304.1 571.1M322.4 598.4L323.3 596.3L323.9 594.1L325.0 592.1L325.2 589.9M281.1 674.0L282.0 671.5L282.6 668.9L283.5 666.4L284.0 663.8M304.9 653.8L305.7 651.9L306.4 649.9L306.6 647.9L307.3 645.9M298.6 623.8L299.1 622.2L299.6 620.6L300.0 618.9L300.4 617.3M247.2 625.1L248.2 623.3L249.5 621.6L250.8 620.1L252.2 618.6M269.3 588.0L271.3 586.2L273.4 584.4L275.6 582.8L277.4 580.7M303.4 653.3L304.7 650.7L305.4 647.9L306.3 645.1L307.2 642.4M282.3 593.5L284.1 591.1L285.6 588.5L287.5 586.2L289.4 583.9M290.5 630.6L291.5 627.3L292.6 624.0L293.9 620.8L293.9 617.4M270.9 658.1L271.7 654.9L273.0 651.8L273.9 648.6L274.9 645.4M295.3 676.6L296.8 673.8L297.8 670.8L298.8 667.7L299.9 664.8M290.6 590.9L291.7 588.3L293.4 585.9L294.9 583.6L296.3 581.1M253.8 599.3L255.4 597.8L256.9 596.1L258.3 594.4L259.6 592.6M267.3 656.9L268.6 654.3L269.0 651.4L270.3 648.7L271.3 646.0M329.1 612.8L329.9 610.9L330.7 609.0L331.2 607.0L332.2 605.2M264.6 596.3L265.9 594.9L266.9 593.3L268.1 591.8L269.2 590.3M322.9 629.9L323.3 626.5L324.0 623.2L324.8 619.8L325.5 616.5M241.2 603.3L243.3 600.7L245.0 597.7L247.3 595.1L249.9 593.0M284.2 602.2L285.2 600.5L286.3 598.9L287.0 597.1L288.1 595.4M280.6 634.4L281.1 631.9L281.8 629.4L282.5 626.9L283.9 624.7M258.3 677.7L259.1 675.7L259.8 673.8L260.1 671.7L260.8 669.7M264.3 682.2L265.0 679.5L265.3 676.7L265.6 673.9L266.2 671.1M291.5 585.3L293.5 582.6L294.8 579.4L296.7 576.5L298.8 573.8M230.9 641.5L232.1 639.2L234.3 637.7L235.9 635.6L238.0 634.0M299.6 640.7L300.1 638.3L300.4 635.9L301.3 633.6L301.8 631.3M342.9 668.7L344.2 667.4L345.4 666.0L346.8 664.9L348.2 663.6M296.6 638.9L297.2 635.7L298.2 632.5L299.1 629.3L300.2 626.2M246.2 611.1L247.0 609.3L248.3 607.8L249.6 606.4L250.9 604.8M331.4 674.8L333.1 672.1L335.3 669.6L337.2 667.0L339.0 664.3M323.4 575.9L324.5 572.4L324.9 568.8L325.0 565.1L325.8 561.6M284.7 632.9L285.0 630.1L285.4 627.4L286.4 624.8L287.3 622.2M271.7 679.5L272.3 675.9L273.0 672.2L274.1 668.7L274.9 665.1M235.4 644.3L237.1 642.4L238.8 640.6L240.5 638.7L242.0 636.7M279.3 619.9L280.5 618.2L281.5 616.4L282.4 614.5L283.6 612.8M235.1 661.3L237.8 658.8L239.9 655.8L242.0 652.7L244.0 649.7M265.8 576.2L268.3 573.6L271.0 571.3L272.9 568.3L275.4 565.6M261.3 635.3L262.1 633.8L263.3 632.7L264.2 631.3L265.3 630.0M278.8 601.9L279.9 600.5L280.9 599.0L281.9 597.6L282.6 595.9M328.1 679.7L330.2 677.6L332.3 675.5L334.1 673.1L336.1 670.9M332.0 660.2L334.0 658.2L335.6 656.0L337.4 653.9L339.4 652.0M239.4 666.8L240.5 664.8L242.2 663.2L243.5 661.2L244.6 659.1M257.0 681.0L257.6 678.7L257.6 676.3L258.9 674.3L259.3 672.0M256.6 662.5L257.5 660.3L258.2 658.1L259.0 655.9L260.3 653.9M299.1 593.3L299.9 591.8L300.6 590.2L301.1 588.5L301.8 586.9M302.3 680.3L303.2 678.3L304.4 676.4L305.5 674.4L306.9 672.7M252.4 612.7L253.9 611.1L255.6 609.6L256.8 607.8L258.3 606.2M329.0 605.8L329.3 604.0L329.9 602.2L330.2 600.4L330.7 598.6M302.2 632.6L303.2 629.5L304.3 626.5L305.1 623.4L305.9 620.3M264.4 660.8L264.7 659.0L265.6 657.4L266.2 655.7L266.9 654.0M314.5 671.0L316.2 668.9L317.7 666.7L319.4 664.5L320.5 662.1M291.8 678.7L292.4 675.5L293.7 672.5L294.4 669.3L294.7 666.1" fill="none" stroke="#fff" stroke-width="0.7" stroke-opacity="0.22" stroke-linecap="round" stroke-linejoin="round"/>
<circle cx="256.2" cy="623.8" r="0.45" fill="#1a1a1a" fill-opacity="0.55"/>
<circle cx="274.2" cy="642.2" r="0.54" fill="#1a1a1a" fill-opacity="0.55"/>
<circle cx="247.6" cy="605.7" r="0.62" fill="#1a1a1a" fill-opacity="0.55"/>
<circle cx="251.4" cy="585.9" r="0.57" fill="#1a1a1a" fill-opacity="0.55"/>
<circle cx="247.0" cy="630.1" r="0.63" fill="#1a1a1a" fill-opacity="0.55"/>
<circle cx="238.2" cy="648.2" r="0.36" fill="#1a1a1a" fill-opacity="0.55"/>
<circle cx="260.8" cy="663.3" r="0.54" fill="#1a1a1a" fill-opacity="0.55"/>
<circle cx="339.8" cy="595.8" r="0.37" fill="#1a1a1a" fill-opacity="0.55"/>
<circle cx="255.6" cy="666.3" r="0.36" fill="#1a1a1a" fill-opacity="0.55"/>
<circle cx="303.6" cy="649.8" r="0.33" fill="#1a1a1a" fill-opacity="0.55"/>
<circle cx="337.0" cy="669.9" r="0.69" fill="#1a1a1a" fill-opacity="0.55"/>
<circle cx="294.2" cy="585.7" r="0.45" fill="#1a1a1a" fill-opacity="0.55"/>
<circle cx="268.8" cy="640.9" r="0.53" fill="#1a1a1a" fill-opacity="0.55"/>
<circle cx="325.6" cy="645.1" r="0.52" fill="#1a1a1a" fill-opacity="0.55"/>
<circle cx="273.5" cy="578.3" r="0.39" fill="#1a1a1a" fill-opacity="0.55"/>
<circle cx="312.0" cy="584.7" r="0.41" fill="#1a1a1a" fill-opacity="0.55"/>
<circle cx="244.9" cy="672.5" r="0.68" fill="#1a1a1a" fill-opacity="0.55"/>
<circle cx="317.7" cy="651.7" r="0.64" fill="#1a1a1a" fill-opacity="0.55"/>
<circle cx="339.3" cy="603.2" r="0.40" fill="#1a1a1a" fill-opacity="0.55"/>
<circle cx="237.5" cy="584.9" r="0.56" fill="#1a1a1a" fill-opacity="0.55"/>
<circle cx="239.8" cy="628.4" r="0.58" fill="#1a1a1a" fill-opacity="0.55"/>
<circle cx="268.5" cy="656.5" r="0.37" fill="#1a1a1a" fill-opacity="0.55"/>
<circle cx="253.0" cy="603.7" r="0.41" fill="#1a1a1a" fill-opacity="0.55"/>
<circle cx="310.3" cy="607.6" r="0.58" fill="#1a1a1a" fill-opacity="0.55"/>
<circle cx="247.0" cy="595.9" r="0.40" fill="#1a1a1a" fill-opacity="0.55"/>
<circle cx="324.4" cy="607.7" r="0.34" fill="#1a1a1a" fill-opacity="0.55"/>
<circle cx="244.5" cy="639.6" r="0.36" fill="#1a1a1a" fill-opacity="0.55"/>
<circle cx="309.3" cy="589.2" r="0.43" fill="#1a1a1a" fill-opacity="0.55"/>
<circle cx="321.5" cy="642.5" r="0.32" fill="#1a1a1a" fill-opacity="0.55"/>
<circle cx="301.6" cy="664.3" r="0.46" fill="#1a1a1a" fill-opacity="0.55"/>
<circle cx="302.0" cy="605.2" r="0.49" fill="#1a1a1a" fill-opacity="0.55"/>
<circle cx="298.5" cy="594.4" r="0.41" fill="#1a1a1a" fill-opacity="0.55"/>
<circle cx="325.6" cy="616.6" r="0.41" fill="#1a1a1a" fill-opacity="0.55"/>
<circle cx="273.0" cy="667.0" r="0.41" fill="#1a1a1a" fill-opacity="0.55"/>
<circle cx="240.7" cy="672.2" r="0.59" fill="#1a1a1a" fill-opacity="0.55"/>
<circle cx="260.4" cy="634.7" r="0.70" fill="#1a1a1a" fill-opacity="0.55"/>
<circle cx="253.5" cy="610.5" r="0.60" fill="#1a1a1a" fill-opacity="0.55"/>
<circle cx="326.4" cy="654.0" r="0.36" fill="#1a1a1a" fill-opacity="0.55"/>
<circle cx="244.7" cy="594.9" r="0.48" fill="#1a1a1a" fill-opacity="0.55"/>
<circle cx="322.3" cy="640.5" r="0.58" fill="#1a1a1a" fill-opacity="0.55"/>
<circle cx="294.8" cy="651.8" r="0.60" fill="#1a1a1a" fill-opacity="0.55"/>
<circle cx="322.7" cy="646.1" r="0.48" fill="#1a1a1a" fill-opacity="0.55"/>
<circle cx="295.5" cy="587.9" r="0.38" fill="#1a1a1a" fill-opacity="0.55"/>
<circle cx="316.9" cy="651.5" r="0.33" fill="#1a1a1a" fill-opacity="0.55"/>
<circle cx="290.0" cy="675.9" r="0.51" fill="#1a1a1a" fill-opacity="0.55"/>
<circle cx="309.8" cy="618.0" r="0.65" fill="#1a1a1a" fill-opacity="0.55"/>
<circle cx="301.7" cy="598.1" r="0.57" fill="#1a1a1a" fill-opacity="0.55"/>
<circle cx="285.3" cy="679.3" r="0.40" fill="#1a1a1a" fill-opacity="0.55"/>
<circle cx="269.8" cy="623.3" r="0.33" fill="#1a1a1a" fill-opacity="0.55"/>
<circle cx="300.1" cy="650.7" r="0.31" fill="#1a1a1a" fill-opacity="0.55"/>
<circle cx="341.0" cy="644.1" r="0.38" fill="#1a1a1a" fill-opacity="0.55"/>
<circle cx="237.5" cy="600.1" r="0.57" fill="#1a1a1a" fill-opacity="0.55"/>
<circle cx="281.2" cy="605.0" r="0.62" fill="#1a1a1a" fill-opacity="0.55"/>
<circle cx="328.0" cy="654.2" r="0.63" fill="#1a1a1a" fill-opacity="0.55"/>
<circle cx="329.2" cy="641.9" r="0.57" fill="#1a1a1a" fill-opacity="0.55"/>
<circle cx="257.9" cy="597.2" r="0.50" fill="#1a1a1a" fill-opacity="0.55"/>
<circle cx="321.9" cy="602.5" r="0.38" fill="#1a1a1a" fill-opacity="0.55"/>
<circle cx="287.3" cy="611.8" r="0.33" fill="#1a1a1a" fill-opacity="0.55"/>
<circle cx="293.2" cy="641.8" r="0.32" fill="#1a1a1a" fill-opacity="0.55"/>
<circle cx="332.5" cy="676.1" r="0.46" fill="#1a1a1a" fill-opacity="0.55"/>
<circle cx="251.0" cy="582.9" r="0.50" fill="#1a1a1a" fill-opacity="0.55"/>
<circle cx="248.4" cy="591.8" r="0.46" fill="#1a1a1a" fill-opacity="0.55"/>
<circle cx="290.7" cy="641.0" r="0.61" fill="#1a1a1a" fill-opacity="0.55"/>
<circle cx="283.8" cy="597.5" r="0.54" fill="#1a1a1a" fill-opacity="0.55"/>
<circle cx="330.2" cy="631.1" r="0.44" fill="#1a1a1a" fill-opacity="0.55"/>
<circle cx="304.7" cy="667.0" r="0.32" fill="#1a1a1a" fill-opacity="0.55"/>
<circle cx="294.1" cy="651.0" r="0.36" fill="#1a1a1a" fill-opacity="0.55"/>
<circle cx="338.2" cy="605.6" r="0.53" fill="#1a1a1a" fill-opacity="0.55"/>
<circle cx="301.0" cy="595.5" r="0.40" fill="#1a1a1a" fill-opacity="0.55"/>
<circle cx="238.9" cy="636.6" r="0.67" fill="#1a1a1a" fill-opacity="0.55"/>
<circle cx="329.8" cy="604.2" r="1.00" fill="#1a1a1a" fill-opacity="0.8"/>
<circle cx="327.1" cy="625.8" r="0.75" fill="#1a1a1a" fill-opacity="0.8"/>
<circle cx="330.2" cy="608.8" r="1.12" fill="#1a1a1a" fill-opacity="0.8"/>
<circle cx="333.1" cy="601.1" r="0.92" fill="#1a1a1a" fill-opacity="0.8"/>
<circle cx="327.3" cy="608.9" r="1.17" fill="#1a1a1a" fill-opacity="0.8"/>
<circle cx="328.5" cy="626.1" r="1.06" fill="#1a1a1a" fill-opacity="0.8"/>
<circle cx="333.9" cy="600.8" r="0.96" fill="#1a1a1a" fill-opacity="0.8"/>
<circle cx="331.7" cy="613.7" r="0.95" fill="#1a1a1a" fill-opacity="0.8"/>
<circle cx="328.3" cy="619.9" r="0.77" fill="#1a1a1a" fill-opacity="0.8"/>
<circle cx="329.0" cy="607.8" r="1.19" fill="#1a1a1a" fill-opacity="0.8"/>
<circle cx="325.0" cy="597.6" r="0.95" fill="#1a1a1a" fill-opacity="0.8"/>
<circle cx="325.0" cy="604.6" r="0.68" fill="#1a1a1a" fill-opacity="0.8"/>
<circle cx="329.0" cy="602.9" r="1.12" fill="#1a1a1a" fill-opacity="0.8"/>
<circle cx="328.8" cy="628.4" r="1.04" fill="#1a1a1a" fill-opacity="0.8"/>
<circle cx="323.3" cy="599.3" r="0.80" fill="#1a1a1a" fill-opacity="0.8"/>
<circle cx="324.3" cy="633.1" r="0.53" fill="#1a1a1a" fill-opacity="0.8"/>
<circle cx="333.6" cy="607.2" r="0.55" fill="#1a1a1a" fill-opacity="0.8"/>
<circle cx="327.5" cy="610.1" r="0.48" fill="#1a1a1a" fill-opacity="0.8"/>
<circle cx="328.0" cy="605.5" r="0.45" fill="#1a1a1a" fill-opacity="0.8"/>
<circle cx="318.2" cy="599.5" r="0.75" fill="#1a1a1a" fill-opacity="0.8"/>
<circle cx="328.1" cy="606.0" r="0.52" fill="#1a1a1a" fill-opacity="0.8"/>
<circle cx="329.1" cy="612.0" r="0.46" fill="#1a1a1a" fill-opacity="0.8"/>
<circle cx="333.7" cy="629.3" r="0.56" fill="#1a1a1a" fill-opacity="0.8"/>
<circle cx="328.5" cy="612.2" r="0.78" fill="#1a1a1a" fill-opacity="0.8"/>
<circle cx="329.1" cy="597.9" r="0.98" fill="#1a1a1a" fill-opacity="0.8"/>
<circle cx="328.2" cy="628.6" r="0.74" fill="#1a1a1a" fill-opacity="0.8"/>
<circle cx="333.3" cy="640.6" r="0.79" fill="#1a1a1a" fill-opacity="0.8"/>
<circle cx="335.0" cy="602.8" r="1.13" fill="#1a1a1a" fill-opacity="0.8"/>
<circle cx="329.2" cy="616.6" r="1.03" fill="#1a1a1a" fill-opacity="0.8"/>
<circle cx="329.3" cy="610.9" r="1.12" fill="#1a1a1a" fill-opacity="0.8"/>
<circle cx="328.0" cy="626.0" r="1.06" fill="#1a1a1a" fill-opacity="0.8"/>
<circle cx="324.6" cy="608.1" r="0.42" fill="#1a1a1a" fill-opacity="0.8"/>
<circle cx="328.9" cy="597.9" r="0.61" fill="#1a1a1a" fill-opacity="0.8"/>
<circle cx="331.8" cy="613.4" r="0.49" fill="#1a1a1a" fill-opacity="0.8"/>
<circle cx="329.0" cy="611.4" r="0.44" fill="#1a1a1a" fill-opacity="0.8"/>
<circle cx="326.2" cy="586.3" r="0.73" fill="#1a1a1a" fill-opacity="0.8"/>
<circle cx="329.9" cy="619.1" r="0.98" fill="#1a1a1a" fill-opacity="0.8"/>
<circle cx="327.4" cy="619.9" r="1.14" fill="#1a1a1a" fill-opacity="0.8"/>
<circle cx="327.9" cy="624.3" r="0.54" fill="#1a1a1a" fill-opacity="0.8"/>
<circle cx="328.6" cy="617.4" r="0.85" fill="#1a1a1a" fill-opacity="0.8"/>
<circle cx="328.2" cy="609.9" r="1.04" fill="#1a1a1a" fill-opacity="0.8"/>
<circle cx="320.5" cy="599.9" r="1.13" fill="#1a1a1a" fill-opacity="0.8"/>
<circle cx="328.3" cy="617.9" r="0.72" fill="#1a1a1a" fill-opacity="0.8"/>
<circle cx="321.2" cy="597.9" r="1.03" fill="#1a1a1a" fill-opacity="0.8"/>
<circle cx="322.7" cy="597.5" r="0.49" fill="#1a1a1a" fill-opacity="0.8"/>
<circle cx="329.2" cy="601.7" r="0.76" fill="#1a1a1a" fill-opacity="0.8"/>
<circle cx="330.9" cy="609.3" r="0.40" fill="#1a1a1a" fill-opacity="0.8"/>
<circle cx="328.0" cy="617.5" r="0.84" fill="#1a1a1a" fill-opacity="0.8"/>
<circle cx="324.1" cy="615.7" r="0.63" fill="#1a1a1a" fill-opacity="0.8"/>
<circle cx="330.3" cy="590.5" r="0.44" fill="#1a1a1a" fill-opacity="0.8"/>
<circle cx="330.3" cy="644.1" r="0.50" fill="#1a1a1a" fill-opacity="0.8"/>
<circle cx="327.5" cy="642.5" r="0.68" fill="#1a1a1a" fill-opacity="0.8"/>
<circle cx="321.8" cy="645.3" r="0.93" fill="#1a1a1a" fill-opacity="0.8"/>
<circle cx="329.7" cy="645.4" r="0.59" fill="#1a1a1a" fill-opacity="0.8"/>
<circle cx="333.0" cy="646.4" r="0.88" fill="#1a1a1a" fill-opacity="0.8"/>
<circle cx="331.5" cy="639.6" r="0.88" fill="#1a1a1a" fill-opacity="0.8"/>
<circle cx="330.5" cy="645.7" r="0.88" fill="#1a1a1a" fill-opacity="0.8"/>
<circle cx="324.3" cy="636.5" r="0.58" fill="#1a1a1a" fill-opacity="0.8"/>
<circle cx="338.7" cy="647.8" r="0.66" fill="#1a1a1a" fill-opacity="0.8"/>
<circle cx="326.2" cy="637.8" r="0.97" fill="#1a1a1a" fill-opacity="0.8"/>
<circle cx="331.0" cy="648.8" r="0.71" fill="#1a1a1a" fill-opacity="0.8"/>
<circle cx="327.6" cy="654.6" r="0.91" fill="#1a1a1a" fill-opacity="0.8"/>
<circle cx="300.2" cy="672.4" r="0.73" fill="#1a1a1a" fill-opacity="0.85"/>
<circle cx="316.3" cy="668.8" r="1.19" fill="#1a1a1a" fill-opacity="0.85"/>
<circle cx="319.7" cy="670.5" r="1.04" fill="#1a1a1a" fill-opacity="0.85"/>
<circle cx="325.2" cy="680.3" r="1.01" fill="#1a1a1a" fill-opacity="0.85"/>
<circle cx="313.2" cy="666.6" r="0.64" fill="#1a1a1a" fill-opacity="0.85"/>
<circle cx="317.9" cy="671.4" r="1.04" fill="#1a1a1a" fill-opacity="0.85"/>
<circle cx="302.7" cy="665.4" r="0.77" fill="#1a1a1a" fill-opacity="0.85"/>
<circle cx="317.4" cy="676.8" r="0.59" fill="#1a1a1a" fill-opacity="0.85"/>
<circle cx="325.3" cy="670.3" r="0.64" fill="#1a1a1a" fill-opacity="0.85"/>
<circle cx="309.3" cy="673.7" r="0.44" fill="#1a1a1a" fill-opacity="0.85"/>
<circle cx="303.9" cy="672.3" r="0.49" fill="#1a1a1a" fill-opacity="0.85"/>
<circle cx="311.2" cy="676.4" r="0.97" fill="#1a1a1a" fill-opacity="0.85"/>
<circle cx="321.9" cy="678.6" r="1.07" fill="#1a1a1a" fill-opacity="0.85"/>
<circle cx="305.6" cy="672.9" r="0.61" fill="#1a1a1a" fill-opacity="0.85"/>
<circle cx="314.2" cy="676.0" r="1.08" fill="#1a1a1a" fill-opacity="0.85"/>
<circle cx="312.2" cy="663.1" r="1.03" fill="#1a1a1a" fill-opacity="0.85"/>
<circle cx="309.2" cy="667.9" r="0.51" fill="#1a1a1a" fill-opacity="0.85"/>
<circle cx="309.2" cy="664.3" r="0.51" fill="#1a1a1a" fill-opacity="0.85"/>
<circle cx="303.1" cy="668.8" r="0.40" fill="#1a1a1a" fill-opacity="0.85"/>
<circle cx="314.3" cy="666.9" r="0.48" fill="#1a1a1a" fill-opacity="0.85"/>
<circle cx="332.7" cy="681.0" r="0.95" fill="#1a1a1a" fill-opacity="0.85"/>
<circle cx="328.1" cy="666.8" r="1.10" fill="#1a1a1a" fill-opacity="0.85"/>
<circle cx="319.9" cy="675.6" r="1.12" fill="#1a1a1a" fill-opacity="0.85"/>
<circle cx="313.7" cy="664.0" r="0.57" fill="#1a1a1a" fill-opacity="0.85"/>
<circle cx="323.8" cy="674.3" r="0.41" fill="#1a1a1a" fill-opacity="0.85"/>
<circle cx="305.0" cy="669.4" r="0.85" fill="#1a1a1a" fill-opacity="0.85"/>
<circle cx="302.7" cy="663.5" r="0.81" fill="#1a1a1a" fill-opacity="0.85"/>
<circle cx="322.9" cy="667.4" r="0.86" fill="#1a1a1a" fill-opacity="0.85"/>
<circle cx="309.3" cy="672.6" r="1.02" fill="#1a1a1a" fill-opacity="0.85"/>
<circle cx="314.5" cy="672.3" r="1.07" fill="#1a1a1a" fill-opacity="0.85"/>
<circle cx="317.5" cy="674.0" r="1.09" fill="#1a1a1a" fill-opacity="0.85"/>
<circle cx="312.9" cy="666.8" r="0.87" fill="#1a1a1a" fill-opacity="0.85"/>
<circle cx="299.2" cy="672.3" r="0.92" fill="#1a1a1a" fill-opacity="0.85"/>
<circle cx="322.8" cy="673.7" r="0.95" fill="#1a1a1a" fill-opacity="0.85"/>
<circle cx="317.4" cy="675.8" r="0.59" fill="#1a1a1a" fill-opacity="0.85"/>
<circle cx="262.3" cy="670.1" r="0.54" fill="#1a1a1a" fill-opacity="0.8"/>
<circle cx="261.6" cy="638.9" r="0.53" fill="#1a1a1a" fill-opacity="0.8"/>
<circle cx="263.7" cy="667.2" r="0.52" fill="#1a1a1a" fill-opacity="0.8"/>
<circle cx="267.9" cy="633.1" r="0.76" fill="#1a1a1a" fill-opacity="0.8"/>
<circle cx="260.6" cy="639.4" r="0.80" fill="#1a1a1a" fill-opacity="0.8"/>
<circle cx="264.5" cy="657.6" r="0.47" fill="#1a1a1a" fill-opacity="0.8"/>
<circle cx="258.1" cy="669.0" r="0.75" fill="#1a1a1a" fill-opacity="0.8"/>
<circle cx="260.5" cy="658.2" r="0.65" fill="#1a1a1a" fill-opacity="0.8"/>
<circle cx="262.2" cy="644.2" r="0.96" fill="#1a1a1a" fill-opacity="0.8"/>
<circle cx="260.5" cy="665.9" r="0.99" fill="#1a1a1a" fill-opacity="0.8"/>
<circle cx="266.1" cy="632.7" r="0.68" fill="#1a1a1a" fill-opacity="0.8"/>
<circle cx="263.7" cy="645.8" r="0.47" fill="#1a1a1a" fill-opacity="0.8"/>
<circle cx="261.8" cy="663.5" r="0.75" fill="#1a1a1a" fill-opacity="0.8"/>
<circle cx="265.7" cy="645.7" r="0.66" fill="#1a1a1a" fill-opacity="0.8"/>
<circle cx="259.4" cy="651.4" r="0.61" fill="#1a1a1a" fill-opacity="0.8"/>
<circle cx="263.1" cy="654.5" r="0.58" fill="#1a1a1a" fill-opacity="0.8"/>
<circle cx="255.7" cy="655.2" r="0.70" fill="#1a1a1a" fill-opacity="0.8"/>
<circle cx="258.1" cy="656.5" r="0.53" fill="#1a1a1a" fill-opacity="0.8"/>
<circle cx="260.5" cy="666.6" r="0.45" fill="#1a1a1a" fill-opacity="0.8"/>
<circle cx="265.2" cy="647.7" r="0.66" fill="#1a1a1a" fill-opacity="0.8"/>
<circle cx="259.2" cy="669.7" r="0.72" fill="#1a1a1a" fill-opacity="0.8"/>
<circle cx="262.3" cy="645.2" r="0.72" fill="#1a1a1a" fill-opacity="0.8"/>
<circle cx="260.1" cy="667.1" r="0.95" fill="#1a1a1a" fill-opacity="0.8"/>
<circle cx="268.7" cy="652.8" r="0.75" fill="#1a1a1a" fill-opacity="0.8"/>
<circle cx="263.6" cy="640.0" r="0.87" fill="#1a1a1a" fill-opacity="0.8"/>
<circle cx="262.9" cy="652.2" r="1.00" fill="#1a1a1a" fill-opacity="0.8"/>
<circle cx="258.9" cy="662.0" r="0.77" fill="#1a1a1a" fill-opacity="0.8"/>
<circle cx="260.0" cy="649.2" r="0.70" fill="#1a1a1a" fill-opacity="0.8"/>
<circle cx="260.7" cy="685.2" r="0.54" fill="#1a1a1a" fill-opacity="0.8"/>
<circle cx="265.8" cy="680.0" r="0.81" fill="#1a1a1a" fill-opacity="0.8"/>
<circle cx="260.6" cy="654.1" r="0.96" fill="#1a1a1a" fill-opacity="0.8"/>
<circle cx="263.6" cy="639.7" r="0.76" fill="#1a1a1a" fill-opacity="0.8"/>
<circle cx="263.9" cy="668.5" r="0.74" fill="#1a1a1a" fill-opacity="0.8"/>
<circle cx="262.0" cy="652.1" r="0.71" fill="#1a1a1a" fill-opacity="0.8"/>
<circle cx="259.9" cy="647.3" r="0.51" fill="#1a1a1a" fill-opacity="0.8"/>
<circle cx="257.4" cy="666.2" r="0.68" fill="#1a1a1a" fill-opacity="0.8"/>
<circle cx="261.6" cy="671.0" r="0.97" fill="#1a1a1a" fill-opacity="0.8"/>
<circle cx="256.1" cy="651.4" r="0.76" fill="#1a1a1a" fill-opacity="0.8"/>
<circle cx="262.8" cy="653.7" r="0.78" fill="#1a1a1a" fill-opacity="0.8"/>
<circle cx="267.7" cy="651.9" r="0.47" fill="#1a1a1a" fill-opacity="0.8"/>
<circle cx="250.3" cy="593.3" r="0.40" fill="#1a1a1a" fill-opacity="0.7"/>
<circle cx="252.2" cy="581.7" r="0.56" fill="#1a1a1a" fill-opacity="0.7"/>
<circle cx="259.9" cy="577.2" r="0.46" fill="#1a1a1a" fill-opacity="0.7"/>
<circle cx="254.9" cy="580.8" r="0.30" fill="#1a1a1a" fill-opacity="0.7"/>
<circle cx="237.8" cy="601.3" r="0.82" fill="#1a1a1a" fill-opacity="0.7"/>
<circle cx="248.8" cy="576.5" r="0.54" fill="#1a1a1a" fill-opacity="0.7"/>
<circle cx="237.3" cy="610.9" r="0.80" fill="#1a1a1a" fill-opacity="0.7"/>
<circle cx="239.7" cy="596.8" r="0.77" fill="#1a1a1a" fill-opacity="0.7"/>
<circle cx="235.7" cy="590.1" r="0.73" fill="#1a1a1a" fill-opacity="0.7"/>
<circle cx="241.8" cy="617.0" r="0.82" fill="#1a1a1a" fill-opacity="0.7"/>
<circle cx="262.0" cy="608.4" r="0.80" fill="#1a1a1a" fill-opacity="0.7"/>
<circle cx="245.9" cy="614.7" r="0.46" fill="#1a1a1a" fill-opacity="0.7"/>
<circle cx="242.0" cy="602.0" r="0.43" fill="#1a1a1a" fill-opacity="0.7"/>
<circle cx="262.6" cy="593.9" r="0.58" fill="#1a1a1a" fill-opacity="0.7"/>
<circle cx="243.7" cy="600.5" r="0.42" fill="#1a1a1a" fill-opacity="0.7"/>
<circle cx="234.0" cy="601.2" r="0.83" fill="#1a1a1a" fill-opacity="0.7"/>
<circle cx="236.3" cy="597.1" r="0.54" fill="#1a1a1a" fill-opacity="0.7"/>
<circle cx="227.5" cy="594.9" r="0.43" fill="#1a1a1a" fill-opacity="0.7"/>
<circle cx="251.3" cy="601.2" r="0.76" fill="#1a1a1a" fill-opacity="0.7"/>
<circle cx="256.2" cy="594.3" r="0.84" fill="#1a1a1a" fill-opacity="0.7"/>
<ellipse cx="327.4" cy="600.8" rx="0.8" ry="0.9" transform="rotate(176 327.4 600.8)" fill="#141414" fill-opacity="0.9"/>
<ellipse cx="327.0" cy="599.9" rx="0.8" ry="1.0" transform="rotate(17 327.0 599.9)" fill="#141414" fill-opacity="0.9"/>
<ellipse cx="326.3" cy="601.3" rx="0.8" ry="1.5" transform="rotate(86 326.3 601.3)" fill="#141414" fill-opacity="0.9"/>
<ellipse cx="327.8" cy="600.2" rx="1.1" ry="1.3" transform="rotate(107 327.8 600.2)" fill="#141414" fill-opacity="0.9"/>
<ellipse cx="307.0" cy="664.9" rx="0.7" ry="1.1" transform="rotate(36 307.0 664.9)" fill="#141414" fill-opacity="0.9"/>
<ellipse cx="306.8" cy="665.0" rx="0.8" ry="1.0" transform="rotate(46 306.8 665.0)" fill="#141414" fill-opacity="0.9"/>
<ellipse cx="307.8" cy="664.6" rx="1.1" ry="0.7" transform="rotate(93 307.8 664.6)" fill="#141414" fill-opacity="0.9"/>
<ellipse cx="306.2" cy="665.5" rx="1.1" ry="1.1" transform="rotate(92 306.2 665.5)" fill="#141414" fill-opacity="0.9"/>
<ellipse cx="319.2" cy="680.1" rx="1.1" ry="0.9" transform="rotate(123 319.2 680.1)" fill="#141414" fill-opacity="0.9"/>
<ellipse cx="319.9" cy="679.4" rx="0.9" ry="0.7" transform="rotate(55 319.9 679.4)" fill="#141414" fill-opacity="0.9"/>
<ellipse cx="319.2" cy="679.9" rx="0.9" ry="0.6" transform="rotate(143 319.2 679.9)" fill="#141414" fill-opacity="0.9"/>
<path d="M289 586 L283 598 L277 612 L274 622" stroke="#444" stroke-width="1.2" stroke-opacity="0.35" fill="none"/>
</g>
<g clip-path="url(#ci7)">
<rect x="343.9" y="575.7" width="107.00" height="108.50" fill="#dadada"/>
<rect x="343.9" y="575.7" width="107.00" height="108.50" filter="url(#nz)" opacity="0.15"/>
<path d="M431.1 688.0L432.7 682.8L434.2 677.5L435.1 672.2L435.6 666.7M440.8 644.3L441.8 641.4L442.1 638.3L442.4 635.2L442.5 632.1M368.6 669.9L367.9 665.8L367.6 661.8L366.7 657.8L367.1 653.7M340.9 597.9L342.1 593.4L342.5 588.8L344.0 584.4L345.1 579.9M362.0 644.1L362.7 640.6L364.2 637.4L365.0 634.0L366.6 630.8M362.5 576.9L364.8 573.4L366.2 569.4L367.3 565.4L368.8 561.5M392.0 680.7L391.0 674.1L391.8 667.6L392.2 661.0L390.7 654.5M384.1 669.6L383.6 666.6L383.4 663.5L382.7 660.5L382.9 657.4M445.5 593.6L445.4 587.1L445.4 580.5L444.7 574.0L446.6 567.8M444.0 669.7L444.9 667.2L445.8 664.7L446.8 662.2L447.5 659.5M359.3 630.7L359.3 627.9L359.8 625.2L360.6 622.6L361.1 619.9M402.9 642.6L402.3 636.8L403.3 631.1L404.1 625.3L403.9 619.4M370.0 584.8L371.3 580.6L372.9 576.5L374.0 572.2L374.5 567.9M443.7 662.0L444.8 658.6L445.4 655.2L445.5 651.7L446.4 648.4M353.3 594.4L354.1 590.8L355.6 587.5L355.8 583.9L356.5 580.3M349.9 604.2L352.9 598.2L355.3 592.0L356.7 585.5L358.9 579.2M392.2 615.8L394.0 612.2L394.7 608.2L395.6 604.3L395.5 600.3M418.8 630.0L418.7 625.0L417.8 620.0L417.8 614.9L417.1 609.9M388.0 609.6L389.0 606.0L390.1 602.4L390.5 598.7L391.9 595.2M361.1 681.4L361.4 674.5L360.5 667.6L359.9 660.6L361.0 653.7M387.8 665.4L388.0 660.2L387.1 655.1L387.4 649.9L387.5 644.7M432.5 667.3L434.3 661.4L436.3 655.6L436.1 649.5L436.3 643.3M346.4 592.1L347.2 587.5L349.4 583.3L350.4 578.7L350.4 574.0M382.1 646.7L381.8 641.2L382.4 635.7L382.1 630.3L383.6 625.0M414.7 643.9L414.3 640.2L414.7 636.5L414.4 632.8L414.4 629.0M407.4 681.4L408.4 674.6L409.4 667.9L410.5 661.1L410.7 654.3M391.5 688.5L392.1 685.3L391.6 682.2L392.2 679.0L391.3 675.9M381.5 658.8L379.9 652.0L381.9 645.3L381.6 638.4L381.1 631.5M384.4 625.7L384.5 621.4L384.6 617.1L385.7 612.9L386.9 608.8M351.3 614.6L353.9 610.4L355.6 605.8L357.6 601.2L359.1 596.5M406.6 574.0L407.5 571.0L408.5 568.1L409.8 565.3L410.8 562.3M385.4 653.0L384.5 647.5L384.8 641.9L384.4 636.3L384.8 630.8M376.3 614.9L379.2 609.0L380.7 602.6L380.9 596.1L383.4 590.0M342.1 584.0L342.4 580.3L343.7 576.7L344.7 573.1L345.1 569.4M439.1 611.5L437.9 605.5L437.6 599.3L436.9 593.2L436.6 587.1M408.9 672.0L409.1 666.7L409.9 661.4L410.1 656.1L410.1 650.8M423.2 659.6L423.3 656.7L424.0 653.9L424.1 651.0L423.7 648.1M416.2 615.2L415.3 611.9L415.7 608.4L415.8 604.8L416.3 601.4M371.4 640.6L372.8 635.3L373.2 629.8L373.9 624.4L375.0 619.0M409.6 675.4L410.5 669.2L410.8 662.9L411.6 656.6L412.6 650.4M438.4 650.4L438.9 646.8L438.9 643.2L439.8 639.7L439.7 636.1M387.3 663.0L387.1 659.8L386.9 656.6L386.8 653.4L386.7 650.2M448.5 624.7L448.9 620.3L448.9 615.9L448.6 611.6L449.1 607.2M429.8 621.7L430.0 614.8L429.6 607.9L429.9 600.9L430.7 594.0M407.6 593.3L408.5 587.2L409.7 581.2L410.9 575.2L412.8 569.4M438.3 642.1L438.9 636.5L439.4 630.8L440.3 625.2L440.4 619.5M418.0 650.4L417.8 645.5L417.7 640.6L418.1 635.7L417.3 630.9M422.8 602.5L423.6 597.3L423.6 592.1L424.0 586.8L423.7 581.5M340.7 577.0L341.3 572.7L340.8 568.4L341.6 564.2L342.5 559.9M352.6 665.5L352.6 660.2L353.3 655.0L354.0 649.7L356.0 644.8M347.5 667.2L347.9 662.0L347.8 656.7L348.5 651.5L349.2 646.4M405.1 587.0L406.1 584.5L406.7 582.0L407.3 579.4L408.0 576.9M406.2 587.1L407.8 583.2L408.4 579.0L408.9 574.9L409.6 570.7M421.7 571.5L422.8 566.2L423.4 560.9L426.3 556.4L428.2 551.3M382.1 601.6L382.9 598.5L384.0 595.5L384.7 592.4L385.8 589.4M362.5 656.9L364.4 650.9L365.6 644.7L365.9 638.5L367.1 632.3M405.5 654.0L405.3 650.7L405.6 647.4L405.5 644.0L405.6 640.7M433.1 578.8L434.2 572.7L434.9 566.6L435.5 560.5L436.1 554.3M404.8 622.0L404.9 615.1L404.5 608.1L406.0 601.3L406.1 594.4M418.8 604.1L418.8 598.0L419.3 591.9L418.6 585.8L419.8 579.7M431.8 596.9L431.5 592.1L431.5 587.3L431.8 582.5L432.5 577.8M454.5 660.6L456.4 656.3L458.2 651.9L459.9 647.5L460.4 642.8M455.5 621.6L455.1 616.6L455.6 611.7L454.6 606.8L454.7 601.9M454.2 648.9L455.2 646.4L455.9 643.7L456.9 641.1L457.4 638.4M424.7 683.0L425.3 678.1L426.0 673.3L427.5 668.6L428.7 663.8M397.2 674.2L397.0 671.5L397.3 668.9L396.9 666.3L396.9 663.6M385.4 596.7L386.7 591.6L388.3 586.7L389.1 581.5L390.8 576.6M444.6 676.6L446.5 671.3L447.5 665.7L448.5 660.0L449.2 654.4M431.4 676.8L432.3 674.2L432.9 671.5L433.4 668.8L433.9 666.2M393.0 594.5L396.0 588.3L398.8 581.9L401.7 575.7L403.6 569.0M396.5 594.4L397.7 588.5L398.0 582.5L400.0 576.9L403.3 571.9M373.4 633.7L373.0 627.4L372.9 621.2L375.5 615.5L376.7 609.4M357.8 619.8L358.8 616.7L359.8 613.6L360.7 610.5L361.6 607.3M406.3 601.7L406.9 597.2L407.2 592.7L409.1 588.6L410.2 584.3M450.0 665.6L451.0 662.6L451.2 659.4L452.7 656.6L453.7 653.6M372.5 617.0L373.2 613.4L375.0 610.3L376.6 607.0L377.5 603.5M398.9 579.1L400.0 576.5L401.2 574.0L401.9 571.3L402.7 568.6M352.6 651.5L352.9 646.8L354.2 642.4L354.8 637.7L355.9 633.2M373.8 648.0L373.2 644.8L374.2 641.6L374.9 638.3L374.7 634.9M417.0 597.6L416.5 593.1L416.4 588.6L416.9 584.2L417.5 579.7M444.6 624.2L444.2 621.3L443.8 618.4L444.0 615.5L443.7 612.6M383.2 652.5L382.7 647.5L383.9 642.6L382.5 637.7L381.8 632.7M350.2 610.7L352.2 608.2L353.0 605.1L353.3 602.0L354.9 599.2M427.3 679.0L429.4 673.2L430.9 667.2L431.3 661.1L432.2 655.0M448.9 685.1L450.0 680.8L451.3 676.5L453.1 672.5L454.3 668.2M385.9 685.7L386.3 682.0L386.7 678.2L386.3 674.5L385.3 670.9M373.9 608.2L375.9 604.7L376.9 600.8L377.0 596.8L378.4 593.1M372.1 633.0L371.5 627.1L373.6 621.6L375.3 615.9L376.9 610.2M354.8 644.6L355.4 641.8L356.1 639.0L357.1 636.4L357.0 633.5M447.1 641.3L448.0 637.6L447.8 633.8L448.0 630.1L448.6 626.3M354.0 638.8L355.2 632.9L357.4 627.3L358.6 621.4L361.1 616.0M456.0 660.7L457.3 657.9L458.5 655.1L459.3 652.2L460.3 649.4M364.4 618.5L365.1 613.3L366.5 608.1L367.3 602.8L369.0 597.8M351.2 577.6L351.8 575.1L352.3 572.6L352.4 570.0L353.6 567.8M379.3 665.6L379.9 662.0L380.8 658.4L381.0 654.7L380.5 651.0M396.2 671.7L396.5 667.3L396.2 662.8L395.9 658.4L395.5 654.0M448.4 624.2L449.0 617.7L449.6 611.2L448.5 604.8L448.5 598.3M403.7 653.8L403.2 647.8L402.2 641.9L402.1 635.8L402.5 629.8M344.1 660.7L344.3 658.2L344.6 655.6L344.9 653.1L345.1 650.6M353.5 646.7L353.6 642.7L355.2 639.0L355.7 635.1L356.9 631.2M438.0 623.2L437.8 618.3L437.4 613.5L436.4 608.8L436.4 603.9M361.3 669.7L360.1 665.3L360.5 660.8L360.3 656.4L360.0 651.9M453.8 594.1L452.7 588.9L452.4 583.5L451.5 578.2L449.5 573.2M389.0 581.0L389.7 578.0L390.3 574.9L391.1 571.9L392.0 568.9M446.2 688.9L447.5 685.7L448.5 682.4L448.9 678.9L450.6 675.9M448.1 641.9L448.8 639.3L449.4 636.7L450.2 634.1L450.5 631.4M418.9 645.5L418.9 639.0L418.9 632.5L418.3 626.1L417.5 619.7M366.3 607.5L368.1 603.9L369.3 600.0L370.4 596.0L370.9 592.0M358.6 662.4L359.5 659.3L359.4 656.2L359.6 653.1L360.1 650.0M439.4 590.9L439.4 588.3L439.5 585.7L439.0 583.2L439.3 580.6M357.4 647.7L358.1 641.1L359.7 634.6L361.1 628.0L364.2 622.1M380.4 638.9L379.2 633.9L379.9 628.9L380.7 623.8L382.5 619.1M370.7 608.7L371.7 604.9L372.9 601.2L374.0 597.5L375.8 594.0M400.8 597.5L401.9 591.1L404.4 585.1L406.1 578.8L408.3 572.7M423.8 597.1L424.0 591.9L424.7 586.7L425.1 581.5L425.1 576.2M436.3 653.9L436.5 647.9L437.3 642.0L437.1 635.9L436.7 629.9M368.6 573.2L369.3 569.8L370.4 566.5L371.2 563.2L371.5 559.7M346.3 587.3L346.8 584.8L347.9 582.4L348.3 579.8L348.3 577.2M394.2 590.9L396.4 584.8L397.8 578.4L399.6 572.1L401.6 565.8M389.6 577.2L390.9 574.5L392.2 571.8L393.0 568.9L393.8 566.0" fill="none" stroke="#000" stroke-width="0.6" stroke-opacity="0.17" stroke-linecap="round" stroke-linejoin="round"/>
<path d="M451.3 581.0L451.5 574.5L450.9 568.0L451.4 561.5L451.7 554.9M346.7 588.6L347.1 583.2L349.1 578.1L348.6 572.8L349.2 567.4M388.2 597.7L389.3 593.4L391.1 589.3L392.7 585.2L393.1 580.7M443.9 675.6L446.1 670.4L448.1 665.1L449.9 659.7L452.7 654.8M376.5 642.4L376.5 635.7L378.3 629.3L378.5 622.6L379.4 615.9M383.5 675.7L383.3 671.6L383.0 667.5L382.5 663.4L382.8 659.3M358.3 659.3L358.0 656.1L359.4 653.4L359.8 650.2L359.8 647.1M451.8 676.0L452.8 673.5L453.7 670.9L454.6 668.4L455.5 665.9M339.9 638.6L342.5 633.3L342.5 627.5L343.7 621.7L345.7 616.2M375.4 668.9L375.3 666.0L375.3 663.1L375.0 660.2L374.3 657.5M386.0 600.1L387.6 595.8L389.1 591.3L391.2 587.2L393.6 583.2M388.3 684.0L388.0 680.8L388.3 677.6L388.5 674.3L388.3 671.1M454.6 673.5L456.6 667.2L459.8 661.3L462.7 655.2L463.7 648.6M414.6 620.2L414.2 616.5L413.7 612.9L414.3 609.2L414.9 605.6M348.5 624.1L351.3 619.1L353.2 613.7L356.0 608.7L358.9 603.8M384.6 658.0L383.8 651.4L383.0 644.8L383.1 638.2L383.3 631.6M396.4 597.0L397.9 590.9L399.2 584.7L400.8 578.6L402.6 572.6M360.0 634.4L360.9 630.3L362.3 626.4L363.2 622.3L364.8 618.5M396.5 688.7L397.4 682.4L397.7 676.0L398.5 669.7L397.2 663.4M450.2 677.3L452.2 674.4L453.5 671.0L455.2 667.9L456.7 664.7M365.7 665.8L365.6 661.4L365.9 657.0L366.3 652.6L366.9 648.2M359.4 573.0L359.7 566.3L361.0 559.7L361.8 553.0L362.9 546.4M440.0 621.9L440.0 616.2L440.3 610.5L440.3 604.7L440.4 599.0M440.7 688.5L442.0 684.8L443.0 681.1L444.1 677.4L445.6 673.8M417.3 606.4L417.4 601.4L418.5 596.5L418.9 591.5L419.8 586.6M377.7 652.0L377.7 648.1L377.5 644.2L378.3 640.4L378.2 636.4M441.4 629.6L442.9 623.2L441.9 616.7L442.1 610.1L441.1 603.6M416.4 660.0L417.3 655.2L418.0 650.4L418.6 645.5L418.4 640.7M361.8 617.7L362.6 613.9L363.6 610.0L364.2 606.1L365.9 602.6M419.3 582.4L420.3 579.3L420.6 576.0L421.9 572.9L423.1 569.8M434.0 639.1L433.7 634.5L434.3 629.9L432.8 625.4L432.7 620.8M438.0 616.3L437.4 612.9L437.8 609.5L437.3 606.0L436.9 602.6M390.3 635.3L390.6 631.0L390.9 626.7L390.0 622.4L390.8 618.2M419.1 624.5L418.8 617.9L417.6 611.3L417.7 604.7L418.0 598.1M421.9 614.3L421.1 609.5L421.8 604.7L421.0 599.9L419.9 595.2M429.3 650.3L430.6 643.5L429.2 636.8L431.2 630.2L430.2 623.4M385.7 663.0L385.6 658.8L385.4 654.6L386.6 650.6L386.4 646.4M446.2 594.9L443.6 588.6L443.9 581.8L444.3 575.1L444.5 568.3M346.5 659.7L347.7 654.8L348.2 649.9L348.6 644.8L349.2 639.9M361.0 574.4L361.9 567.8L363.6 561.4L364.5 554.8L365.7 548.2M425.4 624.5L425.0 617.9L424.5 611.3L424.0 604.7L425.4 598.3M362.6 621.4L363.8 616.6L365.0 611.8L366.5 607.1L368.1 602.5M395.9 685.8L395.9 679.9L396.0 674.0L397.1 668.2L396.7 662.3M394.7 640.1L394.3 636.1L393.9 632.1L394.6 628.2L395.0 624.2M430.5 631.7L429.8 626.7L429.9 621.7L429.7 616.7L429.2 611.7M341.8 576.2L342.3 571.6L341.6 567.0L341.2 562.4L341.6 557.8M365.1 578.0L365.9 574.4L366.9 570.8L367.7 567.2L368.0 563.5M403.6 663.8L403.7 660.7L403.3 657.7L403.7 654.7L403.4 651.6M409.2 642.5L409.5 635.8L409.3 629.1L409.0 622.4L407.9 615.8M440.8 639.2L441.6 634.4L441.6 629.6L441.2 624.7L440.9 619.9M441.6 684.6L444.1 678.8L445.5 672.6L447.5 666.6L449.0 660.4M396.4 687.1L396.7 684.0L397.0 681.0L397.3 677.9L397.0 674.9M436.1 686.4L437.0 684.0L437.6 681.6L438.2 679.1L438.7 676.6M436.9 648.2L437.3 645.0L438.0 641.7L438.1 638.4L438.6 635.1M379.4 594.1L380.9 589.8L382.5 585.5L383.6 581.0L385.4 576.8M343.6 635.8L344.6 629.2L347.1 623.1L349.0 616.8L350.4 610.3M390.7 637.3L390.7 632.6L390.6 627.9L390.2 623.2L390.7 618.6M430.7 636.2L431.3 633.4L431.1 630.5L430.7 627.7L430.5 624.8M396.6 684.9L395.9 678.4L397.1 672.0L396.8 665.5L397.3 659.0M401.9 606.2L401.3 600.6L401.8 595.1L402.9 589.6L403.6 584.0M357.8 640.6L358.4 637.5L359.4 634.4L359.8 631.2L360.7 628.1M454.9 634.3L455.0 629.6L455.2 625.0L455.9 620.4L456.0 615.8M370.1 667.1L370.3 662.7L370.5 658.3L370.5 653.9L370.6 649.5M421.0 621.9L420.8 616.0L420.8 610.1L420.3 604.1L419.8 598.2M436.8 596.7L437.3 590.0L438.4 583.3L437.2 576.7L437.5 570.0M451.4 667.2L453.4 662.5L454.2 657.4L455.8 652.4L458.1 647.8M438.1 650.2L438.8 646.2L440.1 642.4L440.5 638.3L441.2 634.3M374.7 572.0L375.3 567.2L377.4 562.8L377.8 558.0L379.6 553.5M424.8 688.9L426.0 685.8L426.7 682.6L427.5 679.5L428.6 676.4M450.7 679.3L452.0 676.1L453.2 672.9L455.0 670.0L456.5 666.9M439.0 640.7L440.7 635.6L440.3 630.3L440.3 624.9L439.8 619.6M344.7 583.9L345.8 579.0L348.3 574.7L348.9 569.7L350.5 565.0M399.9 674.5L400.0 667.6L399.9 660.6L399.2 653.6L399.3 646.6M399.2 675.2L398.9 670.5L398.8 665.8L399.3 661.1L399.4 656.4M431.5 651.4L431.5 648.6L431.6 645.8L432.3 643.1L432.7 640.4M369.4 579.5L370.8 573.0L373.2 566.7L374.5 560.2L375.7 553.6M369.4 663.1L369.9 657.5L369.6 651.9L370.5 646.3L370.8 640.7M452.4 637.7L452.7 632.6L453.2 627.4L454.5 622.4L454.5 617.3M424.3 586.3L424.6 582.9L425.2 579.5L425.4 576.0L425.9 572.6M417.5 629.5L416.9 623.9L417.2 618.3L416.8 612.6L415.7 607.1M448.2 580.2L448.0 575.2L448.7 570.4L449.5 565.5L448.8 560.6M399.4 577.7L401.0 572.4L401.7 567.0L403.9 562.0L405.0 556.6M372.4 604.2L373.5 600.8L375.0 597.5L376.5 594.3L378.0 591.0M411.3 655.4L411.2 651.7L410.9 647.9L410.3 644.2L409.7 640.4M387.3 610.3L388.4 606.9L388.4 603.4L388.7 600.0L389.6 596.6M400.9 686.4L402.7 681.4L403.5 676.2L403.7 670.9L404.0 665.6M428.0 621.6L427.9 618.3L427.7 615.1L427.1 611.8L427.4 608.6M435.3 590.1L435.2 586.6L435.9 583.2L435.7 579.7L435.5 576.2M410.6 596.8L410.8 593.7L410.9 590.6L411.9 587.7L412.6 584.7M371.4 646.7L371.5 642.6L371.2 638.5L372.2 634.6L372.4 630.5M357.5 572.7L359.2 567.8L360.6 562.8L362.0 557.9L364.0 553.2M370.5 622.7L372.2 616.4L374.6 610.3L377.0 604.2L379.1 598.0M444.5 609.9L444.5 605.9L443.9 602.0L443.2 598.1L443.0 594.1M377.9 599.1L378.7 595.4L380.0 592.0L381.2 588.4L382.1 584.8M372.6 605.9L373.8 602.3L374.9 598.7L376.3 595.2L377.3 591.6M450.8 575.3L449.9 569.8L449.9 564.2L451.8 558.9L451.8 553.3M446.8 596.1L446.9 592.3L446.4 588.5L446.0 584.7L445.3 581.0M407.5 651.0L407.0 644.8L406.6 638.6L406.5 632.4L407.4 626.3M451.9 639.2L452.4 634.6L453.6 630.2L453.5 625.6L453.8 621.0M349.4 605.6L350.6 600.2L353.1 595.2L354.4 589.9L357.2 585.1M411.6 589.1L411.3 582.4L414.0 576.3L413.7 569.6L417.1 563.8M443.0 633.3L443.2 627.1L442.1 621.0L440.7 615.0L441.7 608.8M430.4 652.2L430.9 646.4L431.5 640.5L432.2 634.7L432.0 628.9M364.7 676.2L364.9 670.8L364.9 665.3L366.2 660.1L366.8 654.7M350.3 603.9L351.8 598.6L353.3 593.3L354.5 588.0L356.5 582.9M411.0 571.8L411.7 567.2L412.6 562.6L413.5 558.0L414.5 553.5M377.6 610.4L378.8 604.5L381.4 599.1L381.8 593.1L382.8 587.2M351.5 641.8L352.1 638.5L352.8 635.2L353.3 631.9L354.1 628.6M360.6 653.5L360.2 649.3L360.3 645.1L361.5 641.2L362.8 637.2M403.9 620.1L404.2 617.5L404.3 614.9L404.0 612.3L403.9 609.7M383.6 622.2L384.3 616.5L383.9 610.8L385.4 605.3L386.2 599.7M411.4 630.8L412.3 626.3L411.6 621.8L410.5 617.3L410.1 612.7M339.9 596.3L342.6 590.7L343.6 584.4L346.3 578.8L347.0 572.6M341.7 578.0L343.3 572.0L343.8 565.8L343.4 559.5L344.2 553.4M386.4 651.1L386.4 647.7L385.4 644.4L385.9 641.0L386.4 637.6M448.0 658.7L448.8 652.4L451.7 646.8L452.6 640.5L453.5 634.2M453.9 605.7L454.0 602.4L453.7 599.0L453.3 595.7L453.3 592.4M410.3 589.3L410.9 584.7L412.0 580.3L413.2 575.8L415.0 571.6M441.8 668.6L442.7 666.2L443.7 663.7L444.6 661.3L445.0 658.7M390.6 611.2L391.0 607.9L391.8 604.6L392.3 601.3L393.5 598.2" fill="none" stroke="#fff" stroke-width="0.7" stroke-opacity="0.22" stroke-linecap="round" stroke-linejoin="round"/>
<circle cx="446.3" cy="636.0" r="0.89" fill="#1a1a1a" fill-opacity="0.65"/>
<circle cx="411.2" cy="668.9" r="0.76" fill="#1a1a1a" fill-opacity="0.65"/>
<circle cx="417.9" cy="680.8" r="0.80" fill="#1a1a1a" fill-opacity="0.65"/>
<circle cx="388.9" cy="575.7" r="0.82" fill="#1a1a1a" fill-opacity="0.65"/>
<circle cx="374.6" cy="676.9" r="0.84" fill="#1a1a1a" fill-opacity="0.65"/>
<circle cx="441.5" cy="653.7" r="0.55" fill="#1a1a1a" fill-opacity="0.65"/>
<circle cx="397.9" cy="674.7" r="0.89" fill="#1a1a1a" fill-opacity="0.65"/>
<circle cx="429.6" cy="665.4" r="0.58" fill="#1a1a1a" fill-opacity="0.65"/>
<circle cx="445.2" cy="664.5" r="0.39" fill="#1a1a1a" fill-opacity="0.65"/>
<circle cx="449.3" cy="580.6" r="0.56" fill="#1a1a1a" fill-opacity="0.65"/>
<circle cx="348.1" cy="632.6" r="0.38" fill="#1a1a1a" fill-opacity="0.65"/>
<circle cx="430.0" cy="677.8" r="0.44" fill="#1a1a1a" fill-opacity="0.65"/>
<circle cx="427.9" cy="588.9" r="0.78" fill="#1a1a1a" fill-opacity="0.65"/>
<circle cx="351.8" cy="660.0" r="0.72" fill="#1a1a1a" fill-opacity="0.65"/>
<circle cx="447.5" cy="633.9" r="0.47" fill="#1a1a1a" fill-opacity="0.65"/>
<circle cx="362.8" cy="608.3" r="0.60" fill="#1a1a1a" fill-opacity="0.65"/>
<circle cx="384.4" cy="623.8" r="0.89" fill="#1a1a1a" fill-opacity="0.65"/>
<circle cx="449.5" cy="584.9" r="0.46" fill="#1a1a1a" fill-opacity="0.65"/>
<circle cx="383.4" cy="625.9" r="0.46" fill="#1a1a1a" fill-opacity="0.65"/>
<circle cx="383.7" cy="610.3" r="0.81" fill="#1a1a1a" fill-opacity="0.65"/>
<circle cx="429.6" cy="634.5" r="0.66" fill="#1a1a1a" fill-opacity="0.65"/>
<circle cx="390.2" cy="597.6" r="0.77" fill="#1a1a1a" fill-opacity="0.65"/>
<circle cx="362.9" cy="584.6" r="0.66" fill="#1a1a1a" fill-opacity="0.65"/>
<circle cx="402.5" cy="596.5" r="0.42" fill="#1a1a1a" fill-opacity="0.65"/>
<circle cx="415.6" cy="667.4" r="0.55" fill="#1a1a1a" fill-opacity="0.65"/>
<circle cx="376.2" cy="628.3" r="0.41" fill="#1a1a1a" fill-opacity="0.65"/>
<circle cx="391.8" cy="645.2" r="0.52" fill="#1a1a1a" fill-opacity="0.65"/>
<circle cx="366.5" cy="580.3" r="0.83" fill="#1a1a1a" fill-opacity="0.65"/>
<circle cx="371.3" cy="683.7" r="0.67" fill="#1a1a1a" fill-opacity="0.65"/>
<circle cx="399.8" cy="633.5" r="0.47" fill="#1a1a1a" fill-opacity="0.65"/>
<circle cx="435.5" cy="646.9" r="0.65" fill="#1a1a1a" fill-opacity="0.65"/>
<circle cx="359.0" cy="590.3" r="0.70" fill="#1a1a1a" fill-opacity="0.65"/>
<circle cx="357.8" cy="610.5" r="0.48" fill="#1a1a1a" fill-opacity="0.65"/>
<circle cx="441.8" cy="582.1" r="0.63" fill="#1a1a1a" fill-opacity="0.65"/>
<circle cx="445.6" cy="631.8" r="0.81" fill="#1a1a1a" fill-opacity="0.65"/>
<circle cx="408.9" cy="635.0" r="0.53" fill="#1a1a1a" fill-opacity="0.65"/>
<circle cx="374.5" cy="678.1" r="0.63" fill="#1a1a1a" fill-opacity="0.65"/>
<circle cx="389.1" cy="630.5" r="0.77" fill="#1a1a1a" fill-opacity="0.65"/>
<circle cx="419.7" cy="617.9" r="0.78" fill="#1a1a1a" fill-opacity="0.65"/>
<circle cx="427.4" cy="636.3" r="0.89" fill="#1a1a1a" fill-opacity="0.65"/>
<circle cx="381.2" cy="585.6" r="0.67" fill="#1a1a1a" fill-opacity="0.65"/>
<circle cx="414.2" cy="680.6" r="0.73" fill="#1a1a1a" fill-opacity="0.65"/>
<circle cx="410.6" cy="596.9" r="0.59" fill="#1a1a1a" fill-opacity="0.65"/>
<circle cx="362.9" cy="613.8" r="0.44" fill="#1a1a1a" fill-opacity="0.65"/>
<circle cx="423.3" cy="677.2" r="0.88" fill="#1a1a1a" fill-opacity="0.65"/>
<circle cx="374.4" cy="658.8" r="0.70" fill="#1a1a1a" fill-opacity="0.65"/>
<circle cx="418.1" cy="599.2" r="0.74" fill="#1a1a1a" fill-opacity="0.65"/>
<circle cx="366.4" cy="643.8" r="0.58" fill="#1a1a1a" fill-opacity="0.65"/>
<circle cx="421.6" cy="613.8" r="0.81" fill="#1a1a1a" fill-opacity="0.65"/>
<circle cx="371.7" cy="645.5" r="0.47" fill="#1a1a1a" fill-opacity="0.65"/>
<ellipse cx="402.8" cy="597.9" rx="1.5" ry="3.4" transform="rotate(35 402.8 597.9)" fill="#141414" fill-opacity="0.9"/>
<ellipse cx="402.0" cy="593.8" rx="1.4" ry="2.9" transform="rotate(0 402.0 593.8)" fill="#141414" fill-opacity="0.9"/>
<ellipse cx="402.4" cy="595.2" rx="1.9" ry="2.8" transform="rotate(128 402.4 595.2)" fill="#141414" fill-opacity="0.9"/>
<ellipse cx="403.7" cy="596.0" rx="1.7" ry="3.0" transform="rotate(9 403.7 596.0)" fill="#141414" fill-opacity="0.9"/>
<ellipse cx="402.9" cy="598.4" rx="1.7" ry="2.9" transform="rotate(18 402.9 598.4)" fill="#141414" fill-opacity="0.9"/>
<ellipse cx="401.9" cy="596.7" rx="1.5" ry="2.9" transform="rotate(31 401.9 596.7)" fill="#141414" fill-opacity="0.9"/>
<ellipse cx="404.3" cy="597.8" rx="1.4" ry="2.4" transform="rotate(59 404.3 597.8)" fill="#141414" fill-opacity="0.9"/>
<ellipse cx="404.4" cy="594.4" rx="1.8" ry="3.4" transform="rotate(163 404.4 594.4)" fill="#141414" fill-opacity="0.9"/>
<ellipse cx="402.1" cy="598.1" rx="1.8" ry="2.5" transform="rotate(124 402.1 598.1)" fill="#141414" fill-opacity="0.9"/>
<ellipse cx="404.4" cy="594.0" rx="1.4" ry="3.6" transform="rotate(167 404.4 594.0)" fill="#141414" fill-opacity="0.9"/>
<ellipse cx="399.8" cy="607.3" rx="1.3" ry="2.8" transform="rotate(178 399.8 607.3)" fill="#141414" fill-opacity="0.9"/>
<ellipse cx="400.3" cy="605.9" rx="1.5" ry="1.9" transform="rotate(103 400.3 605.9)" fill="#141414" fill-opacity="0.9"/>
<ellipse cx="401.1" cy="605.0" rx="1.0" ry="2.7" transform="rotate(144 401.1 605.0)" fill="#141414" fill-opacity="0.9"/>
<ellipse cx="399.6" cy="607.2" rx="1.4" ry="2.7" transform="rotate(114 399.6 607.2)" fill="#141414" fill-opacity="0.9"/>
<ellipse cx="399.4" cy="606.8" rx="1.2" ry="2.0" transform="rotate(8 399.4 606.8)" fill="#141414" fill-opacity="0.9"/>
<ellipse cx="399.8" cy="605.5" rx="1.4" ry="2.2" transform="rotate(110 399.8 605.5)" fill="#141414" fill-opacity="0.9"/>
<ellipse cx="396.6" cy="588.0" rx="0.8" ry="0.8" transform="rotate(95 396.6 588.0)" fill="#141414" fill-opacity="0.9"/>
<ellipse cx="396.5" cy="587.4" rx="1.2" ry="1.1" transform="rotate(107 396.5 587.4)" fill="#141414" fill-opacity="0.9"/>
<ellipse cx="395.9" cy="588.4" rx="1.0" ry="0.7" transform="rotate(81 395.9 588.4)" fill="#141414" fill-opacity="0.9"/>
<ellipse cx="395.6" cy="587.7" rx="0.8" ry="1.1" transform="rotate(100 395.6 587.7)" fill="#141414" fill-opacity="0.9"/>
<ellipse cx="387.4" cy="607.1" rx="0.8" ry="0.7" transform="rotate(15 387.4 607.1)" fill="#141414" fill-opacity="0.9"/>
<ellipse cx="387.4" cy="606.7" rx="0.8" ry="0.7" transform="rotate(98 387.4 606.7)" fill="#141414" fill-opacity="0.9"/>
<ellipse cx="387.4" cy="607.6" rx="0.7" ry="0.8" transform="rotate(43 387.4 607.6)" fill="#141414" fill-opacity="0.9"/>
<ellipse cx="387.1" cy="612.5" rx="0.6" ry="0.7" transform="rotate(114 387.1 612.5)" fill="#141414" fill-opacity="0.9"/>
<ellipse cx="387.1" cy="613.5" rx="0.6" ry="1.0" transform="rotate(103 387.1 613.5)" fill="#141414" fill-opacity="0.9"/>
<ellipse cx="386.4" cy="613.5" rx="0.7" ry="1.1" transform="rotate(54 386.4 613.5)" fill="#141414" fill-opacity="0.9"/>
<ellipse cx="385.9" cy="620.8" rx="0.7" ry="0.9" transform="rotate(175 385.9 620.8)" fill="#141414" fill-opacity="0.9"/>
<ellipse cx="385.4" cy="619.3" rx="0.6" ry="0.7" transform="rotate(69 385.4 619.3)" fill="#141414" fill-opacity="0.9"/>
<ellipse cx="386.5" cy="620.6" rx="0.5" ry="1.0" transform="rotate(175 386.5 620.6)" fill="#141414" fill-opacity="0.9"/>
<ellipse cx="384.5" cy="628.2" rx="0.8" ry="0.9" transform="rotate(163 384.5 628.2)" fill="#141414" fill-opacity="0.9"/>
<ellipse cx="384.7" cy="628.7" rx="0.5" ry="0.7" transform="rotate(22 384.7 628.7)" fill="#141414" fill-opacity="0.9"/>
<ellipse cx="384.6" cy="628.2" rx="0.7" ry="0.9" transform="rotate(133 384.6 628.2)" fill="#141414" fill-opacity="0.9"/>
<ellipse cx="382.9" cy="636.8" rx="0.6" ry="0.8" transform="rotate(104 382.9 636.8)" fill="#141414" fill-opacity="0.9"/>
<ellipse cx="382.6" cy="636.4" rx="0.8" ry="0.6" transform="rotate(53 382.6 636.4)" fill="#141414" fill-opacity="0.9"/>
<ellipse cx="383.2" cy="635.2" rx="0.6" ry="0.7" transform="rotate(99 383.2 635.2)" fill="#141414" fill-opacity="0.9"/>
<ellipse cx="381.6" cy="645.5" rx="0.5" ry="0.7" transform="rotate(124 381.6 645.5)" fill="#141414" fill-opacity="0.9"/>
<ellipse cx="380.8" cy="645.6" rx="0.7" ry="0.8" transform="rotate(23 380.8 645.6)" fill="#141414" fill-opacity="0.9"/>
<ellipse cx="381.3" cy="644.4" rx="0.8" ry="0.7" transform="rotate(12 381.3 644.4)" fill="#141414" fill-opacity="0.9"/>
<ellipse cx="380.5" cy="651.5" rx="0.5" ry="1.0" transform="rotate(175 380.5 651.5)" fill="#141414" fill-opacity="0.9"/>
<ellipse cx="379.9" cy="651.8" rx="0.6" ry="0.8" transform="rotate(5 379.9 651.8)" fill="#141414" fill-opacity="0.9"/>
<ellipse cx="379.7" cy="652.6" rx="0.7" ry="0.7" transform="rotate(31 379.7 652.6)" fill="#141414" fill-opacity="0.9"/>
<ellipse cx="382.6" cy="659.6" rx="0.6" ry="1.0" transform="rotate(4 382.6 659.6)" fill="#141414" fill-opacity="0.9"/>
<ellipse cx="382.2" cy="659.8" rx="0.6" ry="0.8" transform="rotate(137 382.2 659.8)" fill="#141414" fill-opacity="0.9"/>
<ellipse cx="382.5" cy="659.9" rx="0.5" ry="0.9" transform="rotate(20 382.5 659.9)" fill="#141414" fill-opacity="0.9"/>
<ellipse cx="388.1" cy="655.8" rx="0.6" ry="0.9" transform="rotate(165 388.1 655.8)" fill="#141414" fill-opacity="0.9"/>
<ellipse cx="388.6" cy="655.5" rx="0.6" ry="0.9" transform="rotate(27 388.6 655.5)" fill="#141414" fill-opacity="0.9"/>
<ellipse cx="387.9" cy="654.4" rx="0.7" ry="1.0" transform="rotate(62 387.9 654.4)" fill="#141414" fill-opacity="0.9"/>
<ellipse cx="391.1" cy="648.7" rx="0.8" ry="0.9" transform="rotate(122 391.1 648.7)" fill="#141414" fill-opacity="0.9"/>
<ellipse cx="390.8" cy="647.9" rx="0.8" ry="1.0" transform="rotate(63 390.8 647.9)" fill="#141414" fill-opacity="0.9"/>
<ellipse cx="390.8" cy="648.0" rx="0.5" ry="0.6" transform="rotate(47 390.8 648.0)" fill="#141414" fill-opacity="0.9"/>
<ellipse cx="391.7" cy="638.3" rx="0.6" ry="0.8" transform="rotate(32 391.7 638.3)" fill="#141414" fill-opacity="0.9"/>
<ellipse cx="392.2" cy="637.9" rx="0.7" ry="0.8" transform="rotate(22 392.2 637.9)" fill="#141414" fill-opacity="0.9"/>
<ellipse cx="391.8" cy="637.5" rx="0.7" ry="0.9" transform="rotate(88 391.8 637.5)" fill="#141414" fill-opacity="0.9"/>
<circle cx="397.9" cy="601.5" r="1.16" fill="#1a1a1a" fill-opacity="0.85"/>
<circle cx="407.7" cy="591.2" r="0.96" fill="#1a1a1a" fill-opacity="0.85"/>
<circle cx="402.8" cy="596.2" r="0.61" fill="#1a1a1a" fill-opacity="0.85"/>
<circle cx="404.6" cy="594.5" r="1.26" fill="#1a1a1a" fill-opacity="0.85"/>
<circle cx="400.0" cy="590.8" r="1.31" fill="#1a1a1a" fill-opacity="0.85"/>
<circle cx="402.4" cy="582.0" r="1.26" fill="#1a1a1a" fill-opacity="0.85"/>
<circle cx="404.9" cy="606.7" r="0.87" fill="#1a1a1a" fill-opacity="0.85"/>
<circle cx="405.2" cy="590.9" r="0.47" fill="#1a1a1a" fill-opacity="0.85"/>
<circle cx="402.9" cy="608.0" r="0.45" fill="#1a1a1a" fill-opacity="0.85"/>
<circle cx="400.6" cy="599.0" r="0.49" fill="#1a1a1a" fill-opacity="0.85"/>
<circle cx="396.0" cy="606.8" r="0.86" fill="#1a1a1a" fill-opacity="0.85"/>
<circle cx="401.9" cy="605.3" r="0.68" fill="#1a1a1a" fill-opacity="0.85"/>
<circle cx="399.8" cy="608.8" r="0.47" fill="#1a1a1a" fill-opacity="0.85"/>
<circle cx="406.1" cy="595.6" r="1.14" fill="#1a1a1a" fill-opacity="0.85"/>
<circle cx="397.3" cy="606.7" r="1.19" fill="#1a1a1a" fill-opacity="0.85"/>
<circle cx="400.5" cy="602.5" r="0.49" fill="#1a1a1a" fill-opacity="0.85"/>
<circle cx="399.6" cy="599.6" r="1.11" fill="#1a1a1a" fill-opacity="0.85"/>
<circle cx="401.1" cy="595.6" r="0.41" fill="#1a1a1a" fill-opacity="0.85"/>
<circle cx="404.0" cy="609.5" r="0.41" fill="#1a1a1a" fill-opacity="0.85"/>
<circle cx="399.5" cy="604.5" r="1.18" fill="#1a1a1a" fill-opacity="0.85"/>
<circle cx="404.9" cy="620.0" r="0.75" fill="#1a1a1a" fill-opacity="0.85"/>
<circle cx="398.2" cy="600.8" r="0.97" fill="#1a1a1a" fill-opacity="0.85"/>
<circle cx="407.7" cy="605.5" r="1.04" fill="#1a1a1a" fill-opacity="0.85"/>
<circle cx="401.4" cy="604.8" r="1.38" fill="#1a1a1a" fill-opacity="0.85"/>
<circle cx="401.8" cy="603.2" r="1.00" fill="#1a1a1a" fill-opacity="0.85"/>
<circle cx="402.6" cy="594.3" r="0.64" fill="#1a1a1a" fill-opacity="0.85"/>
<circle cx="404.4" cy="605.4" r="1.37" fill="#1a1a1a" fill-opacity="0.85"/>
<circle cx="405.8" cy="600.5" r="0.69" fill="#1a1a1a" fill-opacity="0.85"/>
<circle cx="405.3" cy="597.8" r="0.47" fill="#1a1a1a" fill-opacity="0.85"/>
<circle cx="398.2" cy="604.3" r="0.89" fill="#1a1a1a" fill-opacity="0.85"/>
<circle cx="379.5" cy="624.9" r="1.11" fill="#1a1a1a" fill-opacity="0.8"/>
<circle cx="383.5" cy="639.8" r="0.56" fill="#1a1a1a" fill-opacity="0.8"/>
<circle cx="384.2" cy="638.3" r="0.44" fill="#1a1a1a" fill-opacity="0.8"/>
<circle cx="370.1" cy="632.2" r="0.97" fill="#1a1a1a" fill-opacity="0.8"/>
<circle cx="368.8" cy="629.0" r="0.98" fill="#1a1a1a" fill-opacity="0.8"/>
<circle cx="378.1" cy="623.3" r="0.74" fill="#1a1a1a" fill-opacity="0.8"/>
<circle cx="380.4" cy="651.9" r="0.92" fill="#1a1a1a" fill-opacity="0.8"/>
<circle cx="375.6" cy="625.9" r="0.97" fill="#1a1a1a" fill-opacity="0.8"/>
<circle cx="382.1" cy="648.1" r="0.68" fill="#1a1a1a" fill-opacity="0.8"/>
<circle cx="376.8" cy="632.8" r="0.58" fill="#1a1a1a" fill-opacity="0.8"/>
<circle cx="378.4" cy="654.1" r="1.18" fill="#1a1a1a" fill-opacity="0.8"/>
<circle cx="388.5" cy="654.8" r="1.09" fill="#1a1a1a" fill-opacity="0.8"/>
<circle cx="387.9" cy="662.8" r="0.84" fill="#1a1a1a" fill-opacity="0.8"/>
<circle cx="393.2" cy="601.7" r="0.86" fill="#1a1a1a" fill-opacity="0.8"/>
<circle cx="369.5" cy="643.6" r="0.52" fill="#1a1a1a" fill-opacity="0.8"/>
<circle cx="377.5" cy="657.2" r="0.69" fill="#1a1a1a" fill-opacity="0.8"/>
<circle cx="381.6" cy="635.2" r="1.18" fill="#1a1a1a" fill-opacity="0.8"/>
<circle cx="392.9" cy="664.4" r="0.45" fill="#1a1a1a" fill-opacity="0.8"/>
<circle cx="387.0" cy="630.9" r="0.85" fill="#1a1a1a" fill-opacity="0.8"/>
<circle cx="378.0" cy="655.2" r="0.66" fill="#1a1a1a" fill-opacity="0.8"/>
<circle cx="394.7" cy="628.3" r="0.44" fill="#1a1a1a" fill-opacity="0.8"/>
<circle cx="394.8" cy="640.4" r="0.78" fill="#1a1a1a" fill-opacity="0.8"/>
<circle cx="393.6" cy="631.1" r="0.75" fill="#1a1a1a" fill-opacity="0.8"/>
<circle cx="394.2" cy="657.1" r="0.64" fill="#1a1a1a" fill-opacity="0.8"/>
<circle cx="398.4" cy="631.4" r="1.07" fill="#1a1a1a" fill-opacity="0.8"/>
<circle cx="389.2" cy="662.7" r="0.54" fill="#1a1a1a" fill-opacity="0.8"/>
<circle cx="383.5" cy="621.8" r="1.03" fill="#1a1a1a" fill-opacity="0.8"/>
<circle cx="389.0" cy="643.0" r="1.12" fill="#1a1a1a" fill-opacity="0.8"/>
<circle cx="379.0" cy="629.5" r="0.41" fill="#1a1a1a" fill-opacity="0.8"/>
<circle cx="385.7" cy="657.3" r="0.80" fill="#1a1a1a" fill-opacity="0.8"/>
<circle cx="382.7" cy="631.4" r="1.01" fill="#1a1a1a" fill-opacity="0.8"/>
<circle cx="399.9" cy="641.3" r="0.74" fill="#1a1a1a" fill-opacity="0.8"/>
<circle cx="382.5" cy="610.7" r="0.68" fill="#1a1a1a" fill-opacity="0.8"/>
<circle cx="383.2" cy="598.7" r="1.10" fill="#1a1a1a" fill-opacity="0.8"/>
<circle cx="386.2" cy="622.4" r="1.00" fill="#1a1a1a" fill-opacity="0.8"/>
<ellipse cx="375.9" cy="629.5" rx="1.0" ry="1.3" transform="rotate(51 375.9 629.5)" fill="#141414" fill-opacity="0.9"/>
<ellipse cx="376.1" cy="629.6" rx="1.2" ry="1.1" transform="rotate(134 376.1 629.6)" fill="#141414" fill-opacity="0.9"/>
<ellipse cx="375.7" cy="629.3" rx="1.2" ry="1.4" transform="rotate(115 375.7 629.3)" fill="#141414" fill-opacity="0.9"/>
<ellipse cx="376.0" cy="628.6" rx="1.3" ry="1.4" transform="rotate(142 376.0 628.6)" fill="#141414" fill-opacity="0.9"/>
<ellipse cx="375.5" cy="628.6" rx="1.2" ry="1.4" transform="rotate(174 375.5 628.6)" fill="#141414" fill-opacity="0.9"/>
<ellipse cx="399.0" cy="672.7" rx="1.3" ry="1.4" transform="rotate(119 399.0 672.7)" fill="#141414" fill-opacity="0.9"/>
<ellipse cx="399.9" cy="672.9" rx="1.3" ry="1.3" transform="rotate(30 399.9 672.9)" fill="#141414" fill-opacity="0.9"/>
<ellipse cx="399.7" cy="671.9" rx="1.6" ry="1.4" transform="rotate(21 399.7 671.9)" fill="#141414" fill-opacity="0.9"/>
<ellipse cx="398.8" cy="671.6" rx="1.3" ry="1.1" transform="rotate(114 398.8 671.6)" fill="#141414" fill-opacity="0.9"/>
<ellipse cx="400.6" cy="672.4" rx="1.7" ry="1.2" transform="rotate(95 400.6 672.4)" fill="#141414" fill-opacity="0.9"/>
<ellipse cx="444.1" cy="619.8" rx="1.0" ry="1.1" transform="rotate(13 444.1 619.8)" fill="#141414" fill-opacity="0.9"/>
<ellipse cx="444.2" cy="618.5" rx="1.4" ry="1.7" transform="rotate(171 444.2 618.5)" fill="#141414" fill-opacity="0.9"/>
<ellipse cx="444.6" cy="618.2" rx="0.9" ry="1.2" transform="rotate(105 444.6 618.2)" fill="#141414" fill-opacity="0.9"/>
<ellipse cx="445.0" cy="618.4" rx="1.3" ry="1.4" transform="rotate(156 445.0 618.4)" fill="#141414" fill-opacity="0.9"/>
<ellipse cx="445.8" cy="619.1" rx="1.1" ry="1.7" transform="rotate(77 445.8 619.1)" fill="#141414" fill-opacity="0.9"/>
<ellipse cx="392.7" cy="672.6" rx="1.0" ry="0.9" transform="rotate(120 392.7 672.6)" fill="#141414" fill-opacity="0.9"/>
<ellipse cx="392.8" cy="672.3" rx="1.1" ry="0.9" transform="rotate(2 392.8 672.3)" fill="#141414" fill-opacity="0.9"/>
<ellipse cx="393.4" cy="673.4" rx="1.0" ry="0.8" transform="rotate(70 393.4 673.4)" fill="#141414" fill-opacity="0.9"/>
<ellipse cx="393.8" cy="673.0" rx="1.0" ry="1.1" transform="rotate(59 393.8 673.0)" fill="#141414" fill-opacity="0.9"/>
<ellipse cx="392.4" cy="673.4" rx="1.0" ry="0.8" transform="rotate(174 392.4 673.4)" fill="#141414" fill-opacity="0.9"/>
<ellipse cx="371.3" cy="608.3" rx="0.9" ry="0.6" transform="rotate(30 371.3 608.3)" fill="#141414" fill-opacity="0.9"/>
<ellipse cx="371.0" cy="609.6" rx="0.6" ry="0.6" transform="rotate(133 371.0 609.6)" fill="#141414" fill-opacity="0.9"/>
<ellipse cx="370.4" cy="608.9" rx="0.9" ry="0.7" transform="rotate(92 370.4 608.9)" fill="#141414" fill-opacity="0.9"/>
<ellipse cx="370.4" cy="608.7" rx="0.7" ry="0.7" transform="rotate(67 370.4 608.7)" fill="#141414" fill-opacity="0.9"/>
<ellipse cx="370.5" cy="609.4" rx="0.9" ry="0.6" transform="rotate(121 370.5 609.4)" fill="#141414" fill-opacity="0.9"/>
<ellipse cx="391.5" cy="584.5" rx="0.9" ry="0.9" transform="rotate(21 391.5 584.5)" fill="#141414" fill-opacity="0.9"/>
<ellipse cx="392.7" cy="584.6" rx="0.6" ry="0.8" transform="rotate(33 392.7 584.6)" fill="#141414" fill-opacity="0.9"/>
<ellipse cx="391.9" cy="584.7" rx="1.0" ry="0.7" transform="rotate(88 391.9 584.7)" fill="#141414" fill-opacity="0.9"/>
<ellipse cx="392.5" cy="585.3" rx="0.9" ry="0.8" transform="rotate(67 392.5 585.3)" fill="#141414" fill-opacity="0.9"/>
<ellipse cx="392.2" cy="585.3" rx="0.7" ry="0.9" transform="rotate(7 392.2 585.3)" fill="#141414" fill-opacity="0.9"/>
<ellipse cx="418.4" cy="578.8" rx="0.6" ry="0.6" transform="rotate(87 418.4 578.8)" fill="#141414" fill-opacity="0.9"/>
<ellipse cx="419.2" cy="578.6" rx="0.6" ry="0.7" transform="rotate(20 419.2 578.6)" fill="#141414" fill-opacity="0.9"/>
<ellipse cx="419.5" cy="579.3" rx="0.6" ry="0.7" transform="rotate(45 419.5 579.3)" fill="#141414" fill-opacity="0.9"/>
<ellipse cx="418.7" cy="579.3" rx="0.9" ry="0.9" transform="rotate(138 418.7 579.3)" fill="#141414" fill-opacity="0.9"/>
<ellipse cx="419.0" cy="579.4" rx="0.8" ry="0.9" transform="rotate(47 419.0 579.4)" fill="#141414" fill-opacity="0.9"/>
<path d="M376 652 C372 640 378 625 388 622 C395 620 398 632 395 645 C392 660 380 665 376 652 Z" fill="none" stroke="#333" stroke-width="0.8" stroke-opacity="0.6"/>
<g transform="translate(411.5 608) rotate(-106)"><path d="M0 0 L5.4 11 L1.5 10 L1.5 25 L-1.5 25 L-1.5 10 L-5.4 11 Z" fill="#fff"/></g>
</g>
<rect x="251.2" y="524.4" width="44.2" height="44.5" fill="none" stroke="#111" stroke-width="1.5"/>
<line x1="295.4" y1="524.4" x2="344.2" y2="465.6" stroke="#111" stroke-width="1.5"/>
<line x1="295.4" y1="568.9" x2="344.2" y2="573.4" stroke="#111" stroke-width="1.5"/>
<rect x="237.1" y="638.2" width="44.5" height="45.0" fill="none" stroke="#111" stroke-width="1.5"/>
<line x1="281.6" y1="638.2" x2="344.2" y2="575.8" stroke="#111" stroke-width="1.5"/>
<line x1="281.6" y1="683.3" x2="344.2" y2="683.3" stroke="#111" stroke-width="1.5"/>
</svg>
</body></html>
